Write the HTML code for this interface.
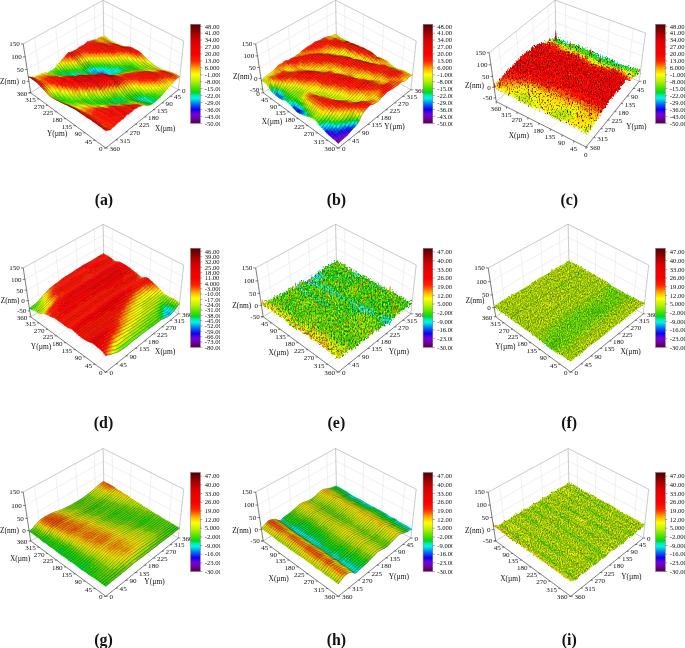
<!DOCTYPE html><html><head><meta charset="utf-8"><title>Surface topography</title><style>html,body{margin:0;padding:0;background:#fff}svg{display:block}text{font-family:"Liberation Serif","DejaVu Serif",serif;fill:#111}.s path{fill:currentColor;stroke:currentColor;stroke-width:2;stroke-linejoin:round}.m1,.m2,.m3,.m4{fill:none!important;stroke:#000!important;stroke-width:var(--w)!important}.m1{stroke-opacity:.22}.m2{stroke-opacity:.42}.m3{stroke-opacity:.62}.m4{stroke-opacity:.85}</style></head><body>
<svg width="685" height="648" viewBox="0 0 685 648">
<defs><linearGradient id="cb" x1="0" y1="1" x2="0" y2="0"><stop offset="0%" stop-color="#500050"/><stop offset="5%" stop-color="#7000a0"/><stop offset="9%" stop-color="#7800d8"/><stop offset="14%" stop-color="#1000f0"/><stop offset="21%" stop-color="#0090f0"/><stop offset="25%" stop-color="#00f0f0"/><stop offset="28%" stop-color="#00f0b0"/><stop offset="31%" stop-color="#00d820"/><stop offset="35%" stop-color="#40e000"/><stop offset="42%" stop-color="#b0f000"/><stop offset="49%" stop-color="#ffff00"/><stop offset="53%" stop-color="#ffd000"/><stop offset="56%" stop-color="#ffa000"/><stop offset="60%" stop-color="#ff5000"/><stop offset="63%" stop-color="#ff2000"/><stop offset="70%" stop-color="#f80000"/><stop offset="77%" stop-color="#f00000"/><stop offset="84%" stop-color="#d80000"/><stop offset="91%" stop-color="#a00000"/><stop offset="98%" stop-color="#600000"/><stop offset="100%" stop-color="#500000"/></linearGradient>
<clipPath id="k0"><rect x="-3" y="0" width="223" height="648"/></clipPath>
<clipPath id="k1"><rect x="229.5" y="0" width="223" height="648"/></clipPath>
<clipPath id="k2"><rect x="462" y="0" width="223" height="648"/></clipPath>
<filter id="nc" x="-5%" y="-15%" width="110%" height="125%" color-interpolation-filters="sRGB"><feTurbulence type="fractalNoise" baseFrequency=".9 .45" numOctaves="2" seed="3" result="n"/><feColorMatrix in="n" type="matrix" values="0.3 0 0 0 0.35 0 1 0 0 0 0 0 1 0 0 0 0 0 0 1" result="m"/><feDisplacementMap in="SourceGraphic" in2="m" scale="8" xChannelSelector="R" yChannelSelector="G" result="d"/><feColorMatrix in="n" type="matrix" values="0 0 0 0 1 0 0 0 0 0.6 0 0 0 0 0 0 0 0 3.5 -2.3"/><feComposite in2="d" operator="in" result="o0"/><feColorMatrix in="n" type="matrix" values="0 0 0 0 0.16 0 0 0 0 0.03 0 0 0 0 0 0 0 3.2 0 -1.65"/><feComposite in2="d" operator="in" result="o1"/><feMerge><feMergeNode in="d"/><feMergeNode in="o0"/><feMergeNode in="o1"/></feMerge></filter><filter id="ne" x="-5%" y="-15%" width="110%" height="125%" color-interpolation-filters="sRGB"><feTurbulence type="fractalNoise" baseFrequency=".7 .45" numOctaves="2" seed="5" result="n"/><feColorMatrix in="n" type="matrix" values="0.3 0 0 0 0.35 0 1 0 0 0 0 0 1 0 0 0 0 0 0 1" result="m"/><feDisplacementMap in="SourceGraphic" in2="m" scale="8" xChannelSelector="R" yChannelSelector="G" result="d"/><feColorMatrix in="n" type="matrix" values="0 0 0 0 1 0 0 0 0 0.95 0 0 0 0 0 0 0 0 2.5 -1.1"/><feComposite in2="d" operator="in" result="o0"/><feColorMatrix in="n" type="matrix" values="0 0 0 0 0 0 0 0 0 0.3 0 0 0 0 0.05 0 0 2.2 0 -0.9"/><feComposite in2="d" operator="in" result="o1"/><feColorMatrix in="n" type="matrix" values="0 0 0 0 0.95 0 0 0 0 0.25 0 0 0 0 0 9 0 0 0 -6.1"/><feComposite in2="d" operator="in" result="o2"/><feMerge><feMergeNode in="d"/><feMergeNode in="o0"/><feMergeNode in="o1"/><feMergeNode in="o2"/></feMerge></filter><filter id="nf" x="-5%" y="-15%" width="110%" height="125%" color-interpolation-filters="sRGB"><feTurbulence type="fractalNoise" baseFrequency=".9 .6" numOctaves="2" seed="8" result="n"/><feColorMatrix in="n" type="matrix" values="0.3 0 0 0 0.35 0 1 0 0 0 0 0 1 0 0 0 0 0 0 1" result="m"/><feDisplacementMap in="SourceGraphic" in2="m" scale="3" xChannelSelector="R" yChannelSelector="G" result="d"/><feColorMatrix in="n" type="matrix" values="0 0 0 0 1 0 0 0 0 1 0 0 0 0 0.1 0 0 0 1.4 -0.55"/><feComposite in2="d" operator="in" result="o0"/><feColorMatrix in="n" type="matrix" values="0 0 0 0 0.1 0 0 0 0 0.3 0 0 0 0 0 0 0 1.4 0 -0.42"/><feComposite in2="d" operator="in" result="o1"/><feMerge><feMergeNode in="d"/><feMergeNode in="o0"/><feMergeNode in="o1"/></feMerge></filter>
</defs><rect width="685" height="648" fill="#fff"/>
<g transform="translate(0 0)">
<path d="M40.9 86.5L34.4 37.8M168.1 83.9L172.5 35.4M116 139.9L40.9 86.5M95.3 140.4L168.1 83.9M60.3 74.3L55.6 26.2M148.5 72.6L151.2 24.6M135.3 124.4L60.3 74.3M75.4 125.7L148.5 72.6M78.6 62.8L75.5 15.4M130 61.9L131.1 14.4M153.4 109.8L78.6 62.8M56.7 111.9L130 61.9M95.8 52.1L94.2 5.2M112.5 51.7L112.2 4.9M170.3 96.3L95.8 52.1M39.1 99L112.5 51.7M29 81.4L103.9 35.9M103.9 35.9L179.6 78.3M27.1 69.4L103.6 24.5M103.6 24.5L180.9 66.4M25.2 56.9L103.4 12.6M103.4 12.6L182.3 54" stroke="#e0e0e0" stroke-width=".5" fill="none"/>
<path d="M23.2 43.9L103.1 .3M103.1 .3L183.7 41M104.1 46.9L103.1 .3M178.3 89.8L183.7 41M30.7 92.8L104.1 46.9M104.1 46.9L178.3 89.8" stroke="#959595" stroke-width=".5" fill="none"/>
<g class="s" transform="scale(.2)" style="--o:0.7;--w:2">
<path color=#fe0 d=M534,197l-7-5-8-4-7-5,7-4,8,5,7,5,8,6z />
<path color=#ef0 d=M580,222l-8-3-8-4-7-4-8-4-7-5-8-5,8-2,7,6,7,5,8,3,8,4,7,4,8,4z />
<path color=#fe0 d=M587,224l-7-2,7-1,7,2z />
<path color=#fd0 d=M611,234l-8-4-8-3-8-3,7-1,8,2,8,3,8,4z />
<path color=#fa0 d=M619,236l-8-2,7-2,8,2z />
<path color=#f80 d=M626,236l-7,0,7-2,8,0z />
<path color=#f50 d=M634,237l-8-1,8-2,8,0z />
<path color=#f10 d=M691,270l-8-7-8-6-8-6-8-5-8-5-8-3-9-1,8-3,8,1,8,2,8,4,8,5,8,4,8,4,9,6z />
<path color=#f20 d=M699,277l-8-7,8-10,8,7z />
<path color=#f50 d=M708,287l-9-10,8-10,8,9z />
<path color=#f80 d=M716,296l-8-9,7-11,8,8z />
<path color=#fa0 d=M724,304l-8-8,7-12,8,7z />
<path color=#fd0 d=M732,312l-8-8,7-13,9,8z />
<path color=#ef0 d=M749,325l-9-6-8-7,8-13,8,9,8,7z />
<path color=#ce0 d=M766,336l-9-6-8-5,7-10,9,7,8,6z />
<path color=#be0 d=M774,340l-8-4,7-8,9,6z />
<path color=#ce0 d=M801,350l-9-3-9-4-9-3,8-6,8,4,9,4,9,5z />
<path color=#ef0 d=M819,355l-9-2-9-3,7-3,9,4,9,2z />
<path color=#fe0 d=M828,357l-9-2,7-2,9,3z />
<path color=#fd0 d=M837,360l-9-3,7-1,9,2z />
<path color=#fa0 d=M846,364l-9-4,7-2,9,3z />
<path color=#f80 d=M892,389l-9-7-9-6-9-5-10-4-9-3,7-3,9,3,9,4,10,4,9,5,9,7z />
<path class=m2 d=M899,384l-9-7-9-5-10-4-9-4-9-3-9-3-9-2-9-3-9-2-9-4-9-5-9-4-8-4-9-6-8-6-9-7-8-7-8-9-9-8-8-7-8-8-8-9-8-7-9-6-8-4-8-4-8-5-8-4-8-2-8-1-8,0-8,0-8-2-8-4-8-3-8-2-7-2-8-4-7-4-8-4-8-3-7-5-7-6-8-6-7-5-8-5 />
<path color=#fd0 d=M527,197l-8-3-7-4-7-5,7-2,7,5,8,4,7,5z />
<path color=#fe0 d=M565,218l-8-3-8-4-7-5-8-4-7-5,7,0,8,5,7,5,8,4,7,4,8,4z />
<path color=#fd0 d=M572,220l-7-2,7,1,8,3z />
<path color=#fa0 d=M588,225l-8-3-8-2,8,2,7,2,8,3z />
<path color=#f80 d=M611,234l-8-2-7-3-8-4,7,2,8,3,8,4,8,2z />
<path color=#f50 d=M619,236l-8-2,8,2,7,0z />
<path color=#f10 d=M676,272l-8-8-8-6-9-7-8-5-8-5-8-3-8-2,7,0,8,1,9,1,8,3,8,5,8,5,8,6,8,6z />
<path color=#f20 d=M684,279l-8-7,7-9,8,7z />
<path color=#f50 d=M692,288l-8-9,7-9,8,7z />
<path color=#fa0 d=M700,297l-8-9,7-11,9,10z />
<path color=#fd0 d=M708,306l-8-9,8-10,8,9z />
<path color=#fe0 d=M716,313l-8-7,8-10,8,8z />
<path color=#ce0 d=M733,327l-8-6-9-8,8-9,8,8,8,7z />
<path color=#be0 d=M767,344l-8-3-9-4-8-5-9-5,7-8,9,6,8,5,9,6,8,4z />
<path color=#ce0 d=M776,346l-9-2,7-4,9,3z />
<path color=#ef0 d=M794,351l-9-3-9-2,7-3,9,4,9,3z />
<path color=#fe0 d=M803,354l-9-3,7-1,9,3z />
<path color=#fd0 d=M812,355l-9-1,7-1,9,2z />
<path color=#fa0 d=M821,357l-9-2,7,0,9,2z />
<path color=#f80 d=M839,364l-9-4-9-3,7,0,9,3,9,4z />
<path color=#f50 d=M876,386l-9-7-9-6-9-4-10-5,7,0,9,3,10,4,9,5,9,6z />
<path color=#f80 d=M885,393l-9-7,7-4,9,7z />
<path class=m3 d=M892,389l-9-7-9-6-9-5-10-4-9-3-9-4-9-3-9-2-9-2-9-3-9-3-9-4-9-3-8-4-9-6-8-5-9-6-8-7-8-8-8-8-8-9-9-10-8-7-8-7-8-6-8-6-8-5-8-5-8-3-9-1-8-1-7,0-8-2-8-4-8-3-8-3-7-2-8-3-8-4-7-4-8-4-7-5-8-5-7-5-8-4-7-5 />
<path color=#fd0 d=M512,196l-7-5-8-4,8-2,7,5,7,4z />
<path color=#fa0 d=M557,217l-7-3-8-3-7-4-8-4-7-4-8-3,7-2,8,3,7,5,8,4,7,5,8,4,8,3z />
<path color=#f80 d=M565,219l-8-2,8,1,7,2z />
<path color=#f50 d=M580,225l-7-3-8-3,7,1,8,2,8,3z />
<path color=#f20 d=M604,235l-8-4-8-3-8-3,8,0,8,4,7,3,8,2z />
<path color=#f10 d=M652,267l-8-8-8-7-8-7-8-4-8-3-8-3,7-1,8,2,8,2,8,3,8,5,8,5,9,7z />
<path color=#f20 d=M660,274l-8-7,8-9,8,6z />
<path color=#f50 d=M668,282l-8-8,8-10,8,8z />
<path color=#f80 d=M676,290l-8-8,8-10,8,7z />
<path color=#fa0 d=M685,299l-9-9,8-11,8,9z />
<path color=#fe0 d=M693,307l-8-8,7-11,8,9z />
<path color=#ef0 d=M701,315l-8-8,7-10,8,9z />
<path color=#ce0 d=M709,322l-8-7,7-9,8,7z />
<path color=#be0 d=M726,334l-9-6-8-6,7-9,9,8,8,6z />
<path color=#8e0 d=M734,338l-8-4,7-7,9,5z />
<path color=#be0 d=M760,348l-9-3-8-3-9-4,8-6,8,5,9,4,8,3z />
<path color=#ce0 d=M769,349l-9-1,7-4,9,2z />
<path color=#ef0 d=M778,350l-9-1,7-3,9,2z />
<path color=#fe0 d=M787,352l-9-2,7-2,9,3z />
<path color=#fd0 d=M796,354l-9-2,7-1,9,3z />
<path color=#f80 d=M805,355l-9-1,7,0,9,1z />
<path color=#f50 d=M814,357l-9-2,7,0,9,2z />
<path color=#f20 d=M860,384l-9-7-9-6-9-5-9-5-10-4,7,0,9,3,9,4,10,5,9,4,9,6z />
<path color=#f50 d=M878,399l-9-7-9-8,7-5,9,7,9,7z />
<path class=m4 d=M885,393l-9-7-9-7-9-6-9-4-10-5-9-4-9-3-9-2-9-1-9-3-9-3-9-2-9-2-8-3-9-4-8-5-9-5-8-6-9-8-8-7-8-9-8-9-8-9-8-7-8-8-8-6-9-7-8-5-8-5-8-3-8-2-8-2-8-2-7-3-8-4-8-3-8-2-7-2-8-3-8-4-7-5-8-4-7-5-8-3-7-4-7-5 />
<path color=#fa0 d=M520,206l-8-3-7-4-8-4-7-4,7-4,8,4,7,5,8,3,7,4z />
<path color=#f80 d=M542,216l-7-3-8-4-7-3,7-3,8,4,7,4,8,3z />
<path color=#f50 d=M558,221l-8-2-8-3,8-2,7,3,8,2z />
<path color=#f20 d=M565,224l-7-3,7-2,8,3z />
<path color=#f10 d=M629,261l-8-8-8-6-8-4-8-5-8-4-8-4-8-3-8-3,8-2,7,3,8,3,8,3,8,4,8,3,8,3,8,4,8,7z />
<path color=#f20 d=M637,269l-8-8,7-9,8,7z />
<path color=#f50 d=M645,278l-8-9,7-10,8,8z />
<path color=#f80 d=M653,287l-8-9,7-11,8,7z />
<path color=#fa0 d=M661,295l-8-8,7-13,8,8z />
<path color=#fd0 d=M669,304l-8-9,7-13,8,8z />
<path color=#ef0 d=M677,311l-8-7,7-14,9,9z />
<path color=#ce0 d=M685,318l-8-7,8-12,8,8z />
<path color=#be0 d=M702,330l-9-5-8-7,8-11,8,8,8,7z />
<path color=#8e0 d=M736,347l-9-3-8-4-9-5-8-5,7-8,8,6,9,6,8,4,9,4z />
<path color=#be0 d=M744,350l-8-3,7-5,8,3z />
<path color=#ce0 d=M753,352l-9-2,7-5,9,3z />
<path color=#ef0 d=M762,353l-9-1,7-4,9,1z />
<path color=#fe0 d=M771,354l-9-1,7-4,9,1z />
<path color=#fd0 d=M780,355l-9-1,7-4,9,2z />
<path color=#f80 d=M789,356l-9-1,7-3,9,2z />
<path color=#f50 d=M798,358l-9-2,7-2,9,1z />
<path color=#f20 d=M807,360l-9-2,7-3,9,2z />
<path color=#f10 d=M834,377l-9-7-9-5-9-5,7-3,10,4,9,5,9,5z />
<path color=#f20 d=M852,392l-9-8-9-7,8-6,9,6,9,7z />
<path color=#f50 d=M861,399l-9-7,8-8,9,8z />
<path color=#f80 d=M870,407l-9-8,8-7,9,7z />
<path class=m3 d=M878,399l-9-7-9-8-9-7-9-6-9-5-9-5-10-4-9-2-9-1-9-2-9-2-9-1-9-1-9-3-8-3-9-4-8-4-9-6-8-6-8-7-8-8-8-8-9-9-8-8-8-8-8-7-8-8-8-7-8-7-8-4-8-3-8-3-8-4-8-3-8-3-7-3-8-3-8-2-7-3-8-3-7-4-8-4-7-4-8-3-7-5-8-4 />
<path color=#fa0 d=M512,212l-7-3-8-4-7-5-7-3,7-6,7,4,8,4,7,4,8,3z />
<path color=#f80 d=M527,218l-7-3-8-3,8-6,7,3,8,4z />
<path color=#f50 d=M543,224l-8-4-8-2,8-5,7,3,8,3z />
<path color=#f20 d=M558,229l-8-2-7-3,7-5,8,2,7,3z />
<path color=#f10 d=M613,264l-8-7-8-6-8-6-8-5-7-4-8-4-8-3,7-5,8,3,8,3,8,4,8,4,8,5,8,4,8,6z />
<path color=#f20 d=M621,273l-8-9,8-11,8,8z />
<path color=#f80 d=M629,283l-8-10,8-12,8,8z />
<path color=#fa0 d=M637,293l-8-10,8-14,8,9z />
<path color=#fe0 d=M645,302l-8-9,8-15,8,9z />
<path color=#ef0 d=M653,310l-8-8,8-15,8,8z />
<path color=#be0 d=M661,318l-8-8,8-15,8,9z />
<path color=#8e0 d=M678,331l-9-6-8-7,8-14,8,7,8,7z />
<path color=#6e0 d=M720,351l-9-3-8-3-9-4-8-4-8-6,7-13,8,7,9,5,8,5,9,5,8,4z />
<path color=#8e0 d=M728,354l-8-3,7-7,9,3z />
<path color=#be0 d=M737,355l-9-1,8-7,8,3z />
<path color=#ce0 d=M746,357l-9-2,7-5,9,2z />
<path color=#ef0 d=M755,358l-9-1,7-5,9,1z />
<path color=#fd0 d=M764,359l-9-1,7-5,9,1z />
<path color=#fa0 d=M773,361l-9-2,7-5,9,1z />
<path color=#f80 d=M782,362l-9-1,7-6,9,1z />
<path color=#f50 d=M791,364l-9-2,7-6,9,2z />
<path color=#f20 d=M800,368l-9-4,7-6,9,2z />
<path color=#f10 d=M818,378l-9-5-9-5,7-8,9,5,9,5z />
<path color=#f20 d=M836,394l-9-9-9-7,7-8,9,7,9,7z />
<path color=#f50 d=M845,403l-9-9,7-10,9,8z />
<path color=#f80 d=M854,411l-9-8,7-11,9,7z />
<path color=#fa0 d=M863,418l-9-7,7-12,9,8z />
<path class=m2 d=M870,407l-9-8-9-7-9-8-9-7-9-7-9-5-9-5-9-2-9-2-9-1-9-1-9-1-9-1-9-2-8-3-9-3-8-4-9-5-8-5-9-5-8-7-8-7-8-7-8-9-8-8-8-9-8-9-8-8-8-8-8-6-8-4-8-5-8-4-8-4-8-3-8-3-7-3-8-2-8-3-7-3-8-4-7-3-8-3-7-4-8-4-7-4 />
<path color=#fa0 d=M497,211l-7-4-8-4-7-5,8-1,7,3,7,5,8,4z />
<path color=#f80 d=M512,217l-7-3-8-3,8-2,7,3,8,3z />
<path color=#f50 d=M527,222l-7-3-8-2,8-2,7,3,8,2z />
<path color=#f20 d=M551,232l-8-3-8-3-8-4,8-2,8,4,7,3,8,2z />
<path color=#f10 d=M590,257l-8-7-8-5-8-5-8-5-7-3,7-3,8,3,8,4,7,4,8,5,8,6z />
<path color=#f20 d=M598,264l-8-7,7-6,8,6z />
<path color=#f50 d=M606,272l-8-8,7-7,8,7z />
<path color=#f80 d=M614,283l-8-11,7-8,8,9z />
<path color=#fd0 d=M622,293l-8-10,7-10,8,10z />
<path color=#ef0 d=M630,303l-8-10,7-10,8,10z />
<path color=#be0 d=M638,312l-8-9,7-10,8,9z />
<path color=#8e0 d=M646,319l-8-7,7-10,8,8z />
<path color=#6e0 d=M654,326l-8-7,7-9,8,8z />
<path color=#4d0 d=M679,343l-9-5-8-5-8-7,7-8,8,7,9,6,8,6z />
<path color=#1d1 d=M687,348l-8-5,7-6,8,4z />
<path color=#4d0 d=M704,353l-9-2-8-3,7-7,9,4,8,3z />
<path color=#6e0 d=M712,354l-8-1,7-5,9,3z />
<path color=#8e0 d=M721,356l-9-2,8-3,8,3z />
<path color=#ce0 d=M730,356l-9,0,7-2,9,1z />
<path color=#ef0 d=M739,357l-9-1,7-1,9,2z />
<path color=#fe0 d=M748,358l-9-1,7,0,9,1z />
<path color=#fd0 d=M757,360l-9-2,7,0,9,1z />
<path color=#f80 d=M766,362l-9-2,7-1,9,2z />
<path color=#f50 d=M775,364l-9-2,7-1,9,1z />
<path color=#f20 d=M820,392l-9-8-9-6-9-5-9-5-9-4,7-2,9,2,9,4,9,5,9,5,9,7z />
<path color=#f50 d=M828,401l-8-9,7-7,9,9z />
<path color=#fa0 d=M837,411l-9-10,8-7,9,9z />
<path color=#fd0 d=M846,419l-9-8,8-8,9,8z />
<path color=#fe0 d=M855,427l-9-8,8-8,9,7z />
<path class=m2 d=M863,418l-9-7-9-8-9-9-9-9-9-7-9-5-9-5-9-4-9-2-9-1-9-2-9-1-9-1-9-2-9-1-8-3-9-3-8-3-9-4-8-4-8-6-9-6-8-7-8-8-8-8-8-9-8-10-8-10-8-9-8-7-8-6-8-6-8-5-7-4-8-4-8-3-8-2-7-3-8-4-8-2-7-3-8-3-7-3-8-4-7-5-7-3 />
<path color=#f80 d=M497,216l-7-3-8-4-7-5-8-4,8-2,7,5,8,4,7,4,8,3z />
<path color=#f50 d=M505,218l-8-2,8-2,7,3z />
<path color=#f20 d=M520,224l-8-3-7-3,7-1,8,2,7,3z />
<path color=#f10 d=M574,256l-8-6-7-6-8-5-8-4-8-4-7-4-8-3,7-2,8,4,8,3,8,3,7,3,8,5,8,5,8,5z />
<path color=#f20 d=M582,263l-8-7,8-6,8,7z />
<path color=#f50 d=M590,272l-8-9,8-6,8,7z />
<path color=#f80 d=M598,281l-8-9,8-8,8,8z />
<path color=#fd0 d=M606,291l-8-10,8-9,8,11z />
<path color=#ef0 d=M614,302l-8-11,8-8,8,10z />
<path color=#ce0 d=M622,311l-8-9,8-9,8,10z />
<path color=#8e0 d=M630,319l-8-8,8-8,8,9z />
<path color=#6e0 d=M638,327l-8-8,8-7,8,7z />
<path color=#4d0 d=M646,333l-8-6,8-8,8,7z />
<path color=#1d1 d=M680,351l-9-3-8-4-8-5-9-6,8-7,8,7,8,5,9,5,8,5z />
<path color=#4d0 d=M688,354l-8-3,7-3,8,3z />
<path color=#6e0 d=M697,355l-9-1,7-3,9,2z />
<path color=#8e0 d=M705,356l-8-1,7-2,8,1z />
<path color=#be0 d=M714,356l-9,0,7-2,9,2z />
<path color=#ef0 d=M723,356l-9,0,7,0,9,0z />
<path color=#fd0 d=M732,357l-9-1,7,0,9,1z />
<path color=#fa0 d=M741,358l-9-1,7,0,9,1z />
<path color=#f80 d=M750,360l-9-2,7,0,9,2z />
<path color=#f50 d=M759,363l-9-3,7,0,9,2z />
<path color=#f20 d=M776,371l-9-5-8-3,7-1,9,2,9,4z />
<path color=#f10 d=M794,383l-9-6-9-6,8-3,9,5,9,5z />
<path color=#f20 d=M812,398l-9-8-9-7,8-5,9,6,9,8z />
<path color=#f80 d=M821,407l-9-9,8-6,8,9z />
<path color=#fa0 d=M830,417l-9-10,7-6,9,10z />
<path color=#fd0 d=M839,427l-9-10,7-6,9,8z />
<path color=#ef0 d=M847,436l-8-9,7-8,9,8z />
<path class=m3 d=M855,427l-9-8-9-8-9-10-8-9-9-8-9-6-9-5-9-5-9-4-9-2-9-2-9-2-9-1-9-1-9,0-9-2-8-1-9-2-8-3-8-5-9-5-8-5-8-7-8-7-8-7-8-9-8-10-8-10-8-11-8-8-8-7-8-7-8-5-8-5-8-5-7-3-8-3-8-3-8-4-7-3-8-2-7-3-8-3-7-4-8-4-7-5 />
<path color=#f50 d=M482,214l-7-3-8-4-7-5,7-2,8,4,7,5,8,4z />
<path color=#f20 d=M497,220l-7-3-8-3,8-1,7,3,8,2z />
<path color=#f10 d=M567,263l-8-8-8-6-8-6-8-5-7-5-8-4-8-3-7-3-8-3,8-2,7,3,8,3,8,3,7,4,8,4,8,4,8,5,7,6,8,6z />
<path color=#f20 d=M575,271l-8-8,7-7,8,7z />
<path color=#f80 d=M583,280l-8-9,7-8,8,9z />
<path color=#fa0 d=M591,290l-8-10,7-8,8,9z />
<path color=#fe0 d=M599,300l-8-10,7-9,8,10z />
<path color=#ce0 d=M607,310l-8-10,7-9,8,11z />
<path color=#8e0 d=M615,319l-8-9,7-8,8,9z />
<path color=#6e0 d=M623,327l-8-8,7-8,8,8z />
<path color=#4d0 d=M631,334l-8-7,7-8,8,8z />
<path color=#1d1 d=M664,351l-8-2-9-4-8-6-8-5,7-7,8,6,9,6,8,5,8,4z />
<path color=#4d0 d=M672,354l-8-3,7-3,9,3z />
<path color=#6e0 d=M681,355l-9-1,8-3,8,3z />
<path color=#8e0 d=M689,356l-8-1,7-1,9,1z />
<path color=#be0 d=M698,357l-9-1,8-1,8,1z />
<path color=#ef0 d=M707,357l-9,0,7-1,9,0z />
<path color=#fd0 d=M716,357l-9,0,7-1,9,0z />
<path color=#fa0 d=M725,357l-9,0,7-1,9,1z />
<path color=#f50 d=M733,359l-8-2,7,0,9,1z />
<path color=#f20 d=M742,361l-9-2,8-1,9,2z />
<path color=#f10 d=M787,387l-9-7-9-6-9-5-9-5-9-3,8-1,9,3,8,3,9,5,9,6,9,6z />
<path color=#f20 d=M796,395l-9-8,7-4,9,7z />
<path color=#f50 d=M805,404l-9-9,7-5,9,8z />
<path color=#f80 d=M814,413l-9-9,7-6,9,9z />
<path color=#fa0 d=M822,423l-8-10,7-6,9,10z />
<path color=#fe0 d=M831,434l-9-11,8-6,9,10z />
<path color=#ef0 d=M840,443l-9-9,8-7,8,9z />
<path class=m3 d=M847,436l-8-9-9-10-9-10-9-9-9-8-9-7-9-6-9-6-9-5-8-3-9-3-9-2-9-1-9-1-9,0-9,0-8-1-9-1-8-3-9-3-8-4-8-5-9-6-8-6-8-8-8-8-8-9-8-11-8-10-8-9-8-9-8-7-8-6-7-6-8-5-8-4-8-4-7-4-8-3-8-3-7-3-8-2-7-3-8-4-7-5-8-4 />
<path color=#f20 d=M482,220l-7-3-8-3-7-4-8-5,8-3,7,5,8,4,7,3,8,3z />
<path color=#f10 d=M551,264l-7-8-8-6-8-6-8-6-8-4-7-4-8-4-7-3-8-3,8-3,7,3,8,3,7,3,8,3,8,4,7,5,8,5,8,6,8,6z />
<path color=#f20 d=M559,272l-8-8,8-9,8,8z />
<path color=#f50 d=M567,281l-8-9,8-9,8,8z />
<path color=#fa0 d=M575,291l-8-10,8-10,8,9z />
<path color=#fe0 d=M583,301l-8-10,8-11,8,10z />
<path color=#ce0 d=M591,311l-8-10,8-11,8,10z />
<path color=#be0 d=M599,320l-8-9,8-11,8,10z />
<path color=#6e0 d=M607,329l-8-9,8-10,8,9z />
<path color=#4d0 d=M615,335l-8-6,8-10,8,8z />
<path color=#1d1 d=M648,354l-8-3-8-5-9-5-8-6,8-8,8,7,8,5,8,6,9,4z />
<path color=#4d0 d=M656,355l-8-1,8-5,8,2z />
<path color=#6e0 d=M665,357l-9-2,8-4,8,3z />
<path color=#8e0 d=M673,358l-8-1,7-3,9,1z />
<path color=#be0 d=M682,358l-9,0,8-3,8,1z />
<path color=#ef0 d=M691,358l-9,0,7-2,9,1z />
<path color=#fd0 d=M700,358l-9,0,7-1,9,0z />
<path color=#fa0 d=M708,359l-8-1,7-1,9,0z />
<path color=#f50 d=M717,360l-9-1,8-2,9,0z />
<path color=#f20 d=M726,361l-9-1,8-3,8,2z />
<path color=#f10 d=M779,394l-8-8-9-7-9-6-9-5-9-4-9-3,7-2,9,2,9,3,9,5,9,5,9,6,9,7z />
<path color=#f20 d=M788,403l-9-9,8-7,9,8z />
<path color=#f50 d=M797,412l-9-9,8-8,9,9z />
<path color=#f80 d=M806,421l-9-9,8-8,9,9z />
<path color=#fd0 d=M815,432l-9-11,8-8,8,10z />
<path color=#fe0 d=M823,442l-8-10,7-9,9,11z />
<path color=#ce0 d=M832,451l-9-9,8-8,9,9z />
<path class=m3 d=M840,443l-9-9-9-11-8-10-9-9-9-9-9-8-9-7-9-6-9-5-9-5-9-3-9-2-8-2-9,0-9,0-9,0-9-1-8-1-9-1-8-3-8-2-9-4-8-6-8-5-8-7-8-8-8-9-8-10-8-10-8-10-8-9-8-8-8-8-8-6-8-6-8-5-7-5-8-4-8-3-7-3-8-3-7-3-8-3-7-3-8-4-7-5 />
<path color=#f20 d=M467,221l-7-3-8-5-7-6,7-2,8,5,7,4,8,3z />
<path color=#f10 d=M536,264l-8-8-8-7-7-6-8-4-8-4-7-4-8-4-8-3-7-3,8-4,7,3,8,3,7,3,8,4,7,4,8,4,8,6,8,6,8,6z />
<path color=#f20 d=M544,273l-8-9,8-8,7,8z />
<path color=#f80 d=M552,281l-8-8,7-9,8,8z />
<path color=#fa0 d=M560,291l-8-10,7-9,8,9z />
<path color=#fe0 d=M568,301l-8-10,7-10,8,10z />
<path color=#ce0 d=M576,311l-8-10,7-10,8,10z />
<path color=#be0 d=M584,321l-8-10,7-10,8,10z />
<path color=#6e0 d=M592,329l-8-8,7-10,8,9z />
<path color=#4d0 d=M600,337l-8-8,7-9,8,9z />
<path color=#1d1 d=M608,343l-8-6,7-8,8,6z />
<path color=#0d5 d=M624,352l-8-5-8-4,7-8,8,6,9,5z />
<path color=#1d1 d=M641,358l-9-3-8-3,8-6,8,5,8,3z />
<path color=#4d0 d=M649,358l-8,0,7-4,8,1z />
<path color=#6e0 d=M658,359l-9-1,7-3,9,2z />
<path color=#be0 d=M666,359l-8,0,7-2,8,1z />
<path color=#ef0 d=M675,359l-9,0,7-1,9,0z />
<path color=#fe0 d=M683,359l-8,0,7-1,9,0z />
<path color=#fa0 d=M692,360l-9-1,8-1,9,0z />
<path color=#f80 d=M701,361l-9-1,8-2,8,1z />
<path color=#f20 d=M710,363l-9-2,7-2,9,1z />
<path color=#f10 d=M772,402l-9-9-9-7-9-7-9-6-8-5-9-3-9-2,7-3,9,1,9,3,9,4,9,5,9,6,9,7,8,8z />
<path color=#f20 d=M781,411l-9-9,7-8,9,9z />
<path color=#f80 d=M789,420l-8-9,7-8,9,9z />
<path color=#fa0 d=M798,431l-9-11,8-8,9,9z />
<path color=#fe0 d=M807,441l-9-10,8-10,9,11z />
<path color=#ce0 d=M816,451l-9-10,8-9,8,10z />
<path color=#be0 d=M825,460l-9-9,7-9,9,9z />
<path class=m2 d=M832,451l-9-9-8-10-9-11-9-9-9-9-9-9-8-8-9-7-9-6-9-5-9-4-9-3-9-1-9-1-8-1-9,0-9,0-9,0-8-1-9-2-8-1-8-3-8-5-9-5-8-6-8-6-8-9-8-9-8-10-8-10-8-10-8-9-8-8-7-8-8-6-8-6-8-6-8-4-7-4-8-4-7-3-8-3-7-3-8-3-7-4-8-5 />
<path color=#f10 d=M521,263l-8-8-8-7-8-5-7-4-8-4-8-4-7-4-8-3-7-3-8-6-7-6,8-2,7,6,8,5,7,3,7,3,8,3,8,4,7,4,8,4,8,4,7,6,8,7z />
<path color=#f20 d=M528,272l-7-9,7-7,8,8z />
<path color=#f80 d=M536,281l-8-9,8-8,8,9z />
<path color=#fa0 d=M544,291l-8-10,8-8,8,8z />
<path color=#fe0 d=M552,300l-8-9,8-10,8,10z />
<path color=#ef0 d=M560,310l-8-10,8-9,8,10z />
<path color=#be0 d=M568,320l-8-10,8-9,8,10z />
<path color=#6e0 d=M576,329l-8-9,8-9,8,10z />
<path color=#4d0 d=M584,337l-8-8,8-8,8,8z />
<path color=#1d1 d=M592,344l-8-7,8-8,8,8z />
<path color=#0d5 d=M617,356l-9-3-8-4-8-5,8-7,8,6,8,4,8,5z />
<path color=#1d1 d=M625,359l-8-3,7-4,8,3z />
<path color=#4d0 d=M633,360l-8-1,7-4,9,3z />
<path color=#6e0 d=M642,361l-9-1,8-2,8,0z />
<path color=#8e0 d=M650,361l-8,0,7-3,9,1z />
<path color=#ce0 d=M659,361l-9,0,8-2,8,0z />
<path color=#fe0 d=M667,360l-8,1,7-2,9,0z />
<path color=#fa0 d=M676,360l-9,0,8-1,8,0z />
<path color=#f80 d=M685,361l-9-1,7-1,9,1z />
<path color=#f20 d=M694,363l-9-2,7-1,9,1z />
<path color=#f10 d=M755,401l-8-9-9-7-9-7-9-5-9-5-9-3-8-2,7-2,9,2,9,2,9,3,8,5,9,6,9,7,9,7z />
<path color=#f20 d=M764,410l-9-9,8-8,9,9z />
<path color=#f50 d=M773,420l-9-10,8-8,9,9z />
<path color=#fa0 d=M782,430l-9-10,8-9,8,9z />
<path color=#fd0 d=M790,440l-8-10,7-10,9,11z />
<path color=#ef0 d=M799,450l-9-10,8-9,9,10z />
<path color=#be0 d=M808,459l-9-9,8-9,9,10z />
<path color=#8e0 d=M817,467l-9-8,8-8,9,9z />
<path class=m3 d=M825,460l-9-9-9-10-9-10-9-11-8-9-9-9-9-9-9-7-9-7-9-6-8-5-9-3-9-2-9-2-9-1-9-1-8,0-9,0-8,0-9-1-8,0-9-3-8-3-8-5-8-4-8-6-8-8-8-8-8-10-8-10-8-10-8-10-8-8-8-9-8-8-8-7-7-6-8-4-8-4-7-4-8-4-8-3-7-3-7-3-8-5-7-6 />
<path color=#f10 d=M505,264l-8-8-7-6-8-4-8-5-7-4-8-4-7-3-8-4-7-6-8-5,8-6,7,6,8,6,7,3,8,3,7,4,8,4,8,4,7,4,8,5,8,7z />
<path color=#f20 d=M513,273l-8-9,8-9,8,8z />
<path color=#f80 d=M521,283l-8-10,8-10,7,9z />
<path color=#fa0 d=M529,292l-8-9,7-11,8,9z />
<path color=#fe0 d=M537,303l-8-11,7-11,8,10z />
<path color=#ce0 d=M545,313l-8-10,7-12,8,9z />
<path color=#be0 d=M553,322l-8-9,7-13,8,10z />
<path color=#6e0 d=M561,330l-8-8,7-12,8,10z />
<path color=#4d0 d=M569,338l-8-8,7-10,8,9z />
<path color=#0d5 d=M577,346l-8-8,7-9,8,8z />
<path color=#0eb d=M601,360l-8-3-8-5-8-6,7-9,8,7,8,5,8,4z />
<path color=#0d5 d=M609,362l-8-2,7-7,9,3z />
<path color=#1d1 d=M617,364l-8-2,8-6,8,3z />
<path color=#4d0 d=M626,364l-9,0,8-5,8,1z />
<path color=#8e0 d=M634,364l-8,0,7-4,9,1z />
<path color=#be0 d=M643,364l-9,0,8-3,8,0z />
<path color=#ef0 d=M651,363l-8,1,7-3,9,0z />
<path color=#fd0 d=M660,363l-9,0,8-2,8-1z />
<path color=#f80 d=M668,364l-8-1,7-3,9,0z />
<path color=#f50 d=M677,366l-9-2,8-4,9,1z />
<path color=#f20 d=M686,368l-9-2,8-5,9,2z />
<path color=#f10 d=M739,401l-9-8-9-6-9-7-8-5-9-4-9-3,8-5,8,2,9,3,9,5,9,5,9,7,9,7z />
<path color=#f20 d=M748,410l-9-9,8-9,8,9z />
<path color=#f50 d=M756,421l-8-11,7-9,9,9z />
<path color=#fa0 d=M765,431l-9-10,8-11,9,10z />
<path color=#fd0 d=M774,441l-9-10,8-11,9,10z />
<path color=#ef0 d=M783,451l-9-10,8-11,8,10z />
<path color=#ce0 d=M791,460l-8-9,7-11,9,10z />
<path color=#8e0 d=M800,469l-9-9,8-10,9,9z />
<path color=#6e0 d=M809,477l-9-8,8-10,9,8z />
<path class=m2 d=M817,467l-9-8-9-9-9-10-8-10-9-10-9-10-9-9-8-9-9-7-9-7-9-5-9-5-9-3-8-2-9-2-9-1-9,0-8,1-9,0-8,0-9-1-8-1-8-3-9-3-8-4-8-5-8-7-8-8-8-9-8-10-8-10-8-9-8-10-8-9-7-9-8-8-8-7-8-5-7-4-8-4-8-4-7-4-8-3-7-3-8-6-7-6 />
<path color=#f10 d=M490,265l-8-7-8-5-7-5-8-5-8-4-7-4-8-4-7-5-7-4,7-7,8,5,7,6,8,4,7,3,8,4,7,4,8,5,8,4,7,6z />
<path color=#f20 d=M498,274l-8-9,7-9,8,8z />
<path color=#f80 d=M505,284l-7-10,7-10,8,9z />
<path color=#fa0 d=M513,293l-8-9,8-11,8,10z />
<path color=#fe0 d=M521,303l-8-10,8-10,8,9z />
<path color=#ce0 d=M529,314l-8-11,8-11,8,11z />
<path color=#8e0 d=M537,324l-8-10,8-11,8,10z />
<path color=#4d0 d=M545,333l-8-9,8-11,8,9z />
<path color=#1d1 d=M553,340l-8-7,8-11,8,8z />
<path color=#0d5 d=M561,347l-8-7,8-10,8,8z />
<path color=#0eb d=M577,359l-8-6-8-6,8-9,8,8,8,6z />
<path color=#0ee d=M585,364l-8-5,8-7,8,5z />
<path color=#0eb d=M593,367l-8-3,8-7,8,3z />
<path color=#0d5 d=M602,368l-9-1,8-7,8,2z />
<path color=#1d1 d=M610,368l-8,0,7-6,8,2z />
<path color=#6e0 d=M618,368l-8,0,7-4,9,0z />
<path color=#8e0 d=M627,367l-9,1,8-4,8,0z />
<path color=#ce0 d=M635,366l-8,1,7-3,9,0z />
<path color=#fe0 d=M644,366l-9,0,8-2,8-1z />
<path color=#fa0 d=M652,366l-8,0,7-3,9,0z />
<path color=#f50 d=M661,367l-9-1,8-3,8,1z />
<path color=#f20 d=M678,374l-8-4-9-3,7-3,9,2,9,2z />
<path color=#f10 d=M722,402l-9-7-8-7-9-6-9-5-9-3,8-6,9,3,9,4,8,5,9,7,9,6z />
<path color=#f20 d=M731,411l-9-9,8-9,9,8z />
<path color=#f50 d=M740,421l-9-10,8-10,9,9z />
<path color=#fa0 d=M748,431l-8-10,8-11,8,11z />
<path color=#fd0 d=M757,442l-9-11,8-10,9,10z />
<path color=#ef0 d=M766,453l-9-11,8-11,9,10z />
<path color=#be0 d=M775,462l-9-9,8-12,9,10z />
<path color=#8e0 d=M784,471l-9-9,8-11,8,9z />
<path color=#6e0 d=M793,479l-9-8,7-11,9,9z />
<path color=#4d0 d=M802,486l-9-7,7-10,9,8z />
<path class=m2 d=M809,477l-9-8-9-9-8-9-9-10-9-10-9-10-8-11-9-9-9-8-9-6-9-7-8-5-9-4-9-3-9-2-9-2-8-1-9,0-8,1-9,0-8,0-9,0-8-2-8-2-8-3-8-5-8-6-8-8-8-8-8-8-8-9-8-10-8-11-8-9-8-10-8-9-8-8-7-6-8-4-8-5-7-4-8-4-7-3-8-4-7-6-8-5 />
<path color=#f10 d=M466,258l-7-5-8-6-7-4-8-4-7-4-8-5-7-3,8-5,7,4,7,5,8,4,7,4,8,4,8,5,7,5z />
<path color=#f20 d=M482,274l-8-9-8-7,8-5,8,5,8,7z />
<path color=#f80 d=M490,283l-8-9,8-9,8,9z />
<path color=#fa0 d=M498,293l-8-10,8-9,7,10z />
<path color=#fe0 d=M506,303l-8-10,7-9,8,9z />
<path color=#ce0 d=M514,313l-8-10,7-10,8,10z />
<path color=#8e0 d=M522,323l-8-10,7-10,8,11z />
<path color=#4d0 d=M530,333l-8-10,7-9,8,10z />
<path color=#1d1 d=M538,341l-8-8,7-9,8,9z />
<path color=#0d5 d=M546,347l-8-6,7-8,8,7z />
<path color=#0eb d=M561,358l-8-5-7-6,7-7,8,7,8,6z />
<path color=#0ee d=M578,367l-8-4-9-5,8-5,8,6,8,5z />
<path color=#0eb d=M586,370l-8-3,7-3,8,3z />
<path color=#0d5 d=M594,370l-8,0,7-3,9,1z />
<path color=#4d0 d=M602,370l-8,0,8-2,8,0z />
<path color=#6e0 d=M610,370l-8,0,8-2,8,0z />
<path color=#be0 d=M619,369l-9,1,8-2,9-1z />
<path color=#ef0 d=M627,367l-8,2,8-2,8-1z />
<path color=#fd0 d=M636,367l-9,0,8-1,9,0z />
<path color=#f80 d=M645,368l-9-1,8-1,8,0z />
<path color=#f50 d=M653,370l-8-2,7-2,9,1z />
<path color=#f20 d=M662,374l-9-4,8-3,9,3z />
<path color=#f10 d=M706,403l-9-8-9-6-9-6-8-5-9-4,8-4,8,4,9,3,9,5,9,6,8,7z />
<path color=#f20 d=M714,411l-8-8,7-8,9,7z />
<path color=#f50 d=M723,421l-9-10,8-9,9,9z />
<path color=#fa0 d=M732,430l-9-9,8-10,9,10z />
<path color=#fd0 d=M741,440l-9-10,8-9,8,10z />
<path color=#ef0 d=M749,452l-8-12,7-9,9,11z />
<path color=#be0 d=M758,463l-9-11,8-10,9,11z />
<path color=#8e0 d=M767,472l-9-9,8-10,9,9z />
<path color=#4d0 d=M785,487l-9-7-9-8,8-10,9,9,9,8z />
<path color=#1d1 d=M794,493l-9-6,8-8,9,7z />
<path class=m2 d=M802,486l-9-7-9-8-9-9-9-9-9-11-9-11-8-10-9-10-9-9-9-7-8-7-9-6-9-5-9-3-8-4-9-3-9-1-8,0-9,0-8,1-9,1-8,0-8,0-9-1-8-3-8-5-8-6-8-6-8-7-8-7-8-9-8-10-8-11-8-10-8-9-7-10-8-9-8-7-8-5-7-5-8-5-8-4-7-4-8-4-7-5-7-4 />
<path color=#f10 d=M451,259l-8-6-7-5-8-4-7-5-8-4-7-5,8-3,7,3,8,5,7,4,8,4,7,4,8,6z />
<path color=#f20 d=M467,274l-8-8-8-7,8-6,7,5,8,7z />
<path color=#f80 d=M474,284l-7-10,7-9,8,9z />
<path color=#fa0 d=M482,294l-8-10,8-10,8,9z />
<path color=#fe0 d=M490,304l-8-10,8-11,8,10z />
<path color=#ce0 d=M498,314l-8-10,8-11,8,10z />
<path color=#8e0 d=M506,324l-8-10,8-11,8,10z />
<path color=#4d0 d=M514,333l-8-9,8-11,8,10z />
<path color=#1d1 d=M522,342l-8-9,8-10,8,10z />
<path color=#0eb d=M538,355l-8-6-8-7,8-9,8,8,8,6z />
<path color=#0ee d=M546,359l-8-4,8-8,7,6z />
<path color=#0eb d=M578,373l-8-2-8-3-8-4-8-5,7-6,8,5,9,5,8,4,8,3z />
<path color=#1d1 d=M586,373l-8,0,8-3,8,0z />
<path color=#6e0 d=M594,373l-8,0,8-3,8,0z />
<path color=#8e0 d=M603,372l-9,1,8-3,8,0z />
<path color=#ce0 d=M611,371l-8,1,7-2,9-1z />
<path color=#fd0 d=M620,369l-9,2,8-2,8-2z />
<path color=#f80 d=M628,370l-8-1,7-2,9,0z />
<path color=#f50 d=M637,371l-9-1,8-3,9,1z />
<path color=#f20 d=M645,374l-8-3,8-3,8,2z />
<path color=#f10 d=M680,396l-8-6-9-6-9-5-9-5,8-4,9,4,9,4,8,5,9,6z />
<path color=#f20 d=M698,413l-9-9-9-8,8-7,9,6,9,8z />
<path color=#f50 d=M706,422l-8-9,8-10,8,8z />
<path color=#fa0 d=M715,432l-9-10,8-11,9,10z />
<path color=#fd0 d=M724,442l-9-10,8-11,9,9z />
<path color=#ef0 d=M733,452l-9-10,8-12,9,10z />
<path color=#ce0 d=M741,463l-8-11,8-12,8,12z />
<path color=#8e0 d=M750,473l-9-10,8-11,9,11z />
<path color=#4d0 d=M759,482l-9-9,8-10,9,9z />
<path color=#1d1 d=M786,500l-9-5-9-7-9-6,8-10,9,8,9,7,9,6z />
<path class=m2 d=M794,493l-9-6-9-7-9-8-9-9-9-11-8-12-9-10-9-9-9-10-8-8-9-8-9-6-9-6-8-5-9-4-9-4-8-2-9-1-9,0-8,2-9,1-8,0-8,0-8,0-8-3-8-4-9-5-8-5-7-6-8-6-8-8-8-10-8-10-8-10-8-10-8-10-8-9-8-9-8-7-7-5-8-6-7-4-8-4-7-4-8-5-7-3 />
<path color=#f10 d=M436,260l-8-5-7-5-8-5-7-5-8-5,8-5,7,5,8,4,7,5,8,4,7,5z />
<path color=#f20 d=M451,274l-8-7-7-7,7-7,8,6,8,7z />
<path color=#f80 d=M459,283l-8-9,8-8,8,8z />
<path color=#fa0 d=M467,293l-8-10,8-9,7,10z />
<path color=#fe0 d=M475,304l-8-11,7-9,8,10z />
<path color=#ce0 d=M483,314l-8-10,7-10,8,10z />
<path color=#8e0 d=M491,324l-8-10,7-10,8,10z />
<path color=#4d0 d=M499,334l-8-10,7-10,8,10z />
<path color=#1d1 d=M507,343l-8-9,7-10,8,9z />
<path color=#0eb d=M514,351l-7-8,7-10,8,9z />
<path color=#0ee d=M554,373l-8-3-8-3-8-5-8-5-8-6,8-9,8,7,8,6,8,4,8,5,8,4z />
<path color=#0eb d=M562,375l-8-2,8-5,8,3z />
<path color=#0d5 d=M570,376l-8-1,8-4,8,2z />
<path color=#4d0 d=M579,376l-9,0,8-3,8,0z />
<path color=#6e0 d=M587,375l-8,1,7-3,8,0z />
<path color=#ce0 d=M595,373l-8,2,7-2,9-1z />
<path color=#fe0 d=M603,372l-8,1,8-1,8-1z />
<path color=#fa0 d=M612,372l-9,0,8-1,9-2z />
<path color=#f80 d=M621,373l-9-1,8-3,8,1z />
<path color=#f20 d=M629,376l-8-3,7-3,9,1z />
<path color=#f10 d=M664,398l-9-7-9-6-8-5-9-4,8-5,8,3,9,5,9,5,9,6z />
<path color=#f20 d=M672,405l-8-7,8-8,8,6z />
<path color=#f50 d=M681,414l-9-9,8-9,9,8z />
<path color=#f80 d=M690,424l-9-10,8-10,9,9z />
<path color=#fa0 d=M698,434l-8-10,8-11,8,9z />
<path color=#fe0 d=M707,444l-9-10,8-12,9,10z />
<path color=#ef0 d=M716,455l-9-11,8-12,9,10z />
<path color=#be0 d=M725,464l-9-9,8-13,9,10z />
<path color=#8e0 d=M733,474l-8-10,8-12,8,11z />
<path color=#4d0 d=M742,482l-9-8,8-11,9,10z />
<path color=#1d1 d=M751,490l-9-8,8-9,9,9z />
<path color=#0d5 d=M779,507l-9-6-10-5-9-6,8-8,9,6,9,7,9,5z />
<path class=m2 d=M786,500l-9-5-9-7-9-6-9-9-9-10-8-11-9-10-9-10-9-10-8-9-9-9-9-8-8-6-9-6-9-5-9-5-8-3-9-1-8-1-9,2-8,1-9,1-8,0-8,0-8-2-8-3-8-4-8-5-8-4-8-6-8-7-8-9-8-9-8-10-8-10-8-10-8-10-7-10-8-8-8-7-8-6-7-5-8-4-7-5-8-4-7-5 />
<path color=#f10 d=M413,255l-8-5-7-5-8-5,8-5,8,5,7,5,8,5z />
<path color=#f20 d=M428,268l-8-7-7-6,8-5,7,5,8,5z />
<path color=#f50 d=M436,275l-8-7,8-8,7,7z />
<path color=#f80 d=M443,283l-7-8,7-8,8,7z />
<path color=#fa0 d=M451,292l-8-9,8-9,8,9z />
<path color=#fe0 d=M459,303l-8-11,8-9,8,10z />
<path color=#ce0 d=M467,314l-8-11,8-10,8,11z />
<path color=#8e0 d=M475,324l-8-10,8-10,8,10z />
<path color=#4d0 d=M483,333l-8-9,8-10,8,10z />
<path color=#1d1 d=M491,343l-8-10,8-9,8,10z />
<path color=#0eb d=M499,352l-8-9,8-9,8,9z />
<path color=#0ee d=M507,359l-8-7,8-9,7,8z />
<path color=#0be d=M530,373l-7-4-8-5-8-5,7-8,8,6,8,5,8,5z />
<path color=#0ee d=M546,377l-8-2-8-2,8-6,8,3,8,3z />
<path color=#0eb d=M554,378l-8-1,8-4,8,2z />
<path color=#1d1 d=M563,378l-9,0,8-3,8,1z />
<path color=#6e0 d=M571,377l-8,1,7-2,9,0z />
<path color=#be0 d=M579,375l-8,2,8-1,8-1z />
<path color=#ef0 d=M587,374l-8,1,8,0,8-2z />
<path color=#fd0 d=M596,374l-9,0,8-1,8-1z />
<path color=#f80 d=M604,375l-8-1,7-2,9,0z />
<path color=#f50 d=M613,378l-9-3,8-3,9,1z />
<path color=#f20 d=M621,381l-8-3,8-5,8,3z />
<path color=#f10 d=M647,398l-9-7-8-6-9-4,8-5,9,4,8,5,9,6z />
<path color=#f20 d=M656,406l-9-8,8-7,9,7z />
<path color=#f50 d=M664,415l-8-9,8-8,8,7z />
<path color=#f80 d=M673,425l-9-10,8-10,9,9z />
<path color=#fd0 d=M682,435l-9-10,8-11,9,10z />
<path color=#fe0 d=M690,446l-8-11,8-11,8,10z />
<path color=#ce0 d=M699,456l-9-10,8-12,9,10z />
<path color=#8e0 d=M708,466l-9-10,8-12,9,11z />
<path color=#6e0 d=M717,475l-9-9,8-11,9,9z />
<path color=#4d0 d=M726,484l-9-9,8-11,8,10z />
<path color=#1d1 d=M734,491l-8-7,7-10,9,8z />
<path color=#0d5 d=M771,512l-9-4-9-5-9-6-10-6,8-9,9,8,9,6,10,5,9,6z />
<path class=m2 d=M779,507l-9-6-10-5-9-6-9-8-9-8-8-10-9-9-9-11-9-10-8-10-9-10-9-9-8-7-9-7-9-6-8-5-9-4-8-3-9-1-9,0-8,1-8,2-8,1-9,0-8-1-8-2-8-3-8-3-8-5-8-5-8-6-7-8-8-9-8-10-8-10-8-10-8-11-8-10-8-9-8-7-7-7-8-5-7-5-8-5-7-5-8-5 />
<path color=#f20 d=M413,269l-8-7-8-5-7-5-8-5,8-7,8,5,7,5,8,5,7,6z />
<path color=#f50 d=M420,276l-7-7,7-8,8,7z />
<path color=#f80 d=M428,285l-8-9,8-8,8,7z />
<path color=#fa0 d=M436,293l-8-8,8-10,7,8z />
<path color=#fe0 d=M444,304l-8-11,7-10,8,9z />
<path color=#ce0 d=M452,315l-8-11,7-12,8,11z />
<path color=#8e0 d=M460,326l-8-11,7-12,8,11z />
<path color=#4d0 d=M468,336l-8-10,7-12,8,10z />
<path color=#0d5 d=M475,345l-7-9,7-12,8,9z />
<path color=#0eb d=M483,354l-8-9,8-12,8,10z />
<path color=#0ee d=M491,361l-8-7,8-11,8,9z />
<path color=#0be d=M499,367l-8-6,8-9,8,7z />
<path color=#07e d=M515,376l-8-4-8-5,8-8,8,5,8,5z />
<path color=#0be d=M531,381l-8-2-8-3,8-7,7,4,8,2z />
<path color=#0eb d=M539,382l-8-1,7-6,8,2z />
<path color=#0d5 d=M547,382l-8,0,7-5,8,1z />
<path color=#4d0 d=M555,381l-8,1,7-4,9,0z />
<path color=#8e0 d=M563,379l-8,2,8-3,8-1z />
<path color=#ce0 d=M571,378l-8,1,8-2,8-2z />
<path color=#fe0 d=M579,377l-8,1,8-3,8-1z />
<path color=#fa0 d=M588,378l-9-1,8-3,9,0z />
<path color=#f80 d=M596,381l-8-3,8-4,8,1z />
<path color=#f50 d=M605,384l-9-3,8-6,9,3z />
<path color=#f20 d=M639,407l-8-7-9-7-9-5-8-4,8-6,8,3,9,4,8,6,9,7z />
<path color=#f50 d=M648,416l-9-9,8-9,9,8z />
<path color=#f80 d=M656,426l-8-10,8-10,8,9z />
<path color=#fd0 d=M665,437l-9-11,8-11,9,10z />
<path color=#ef0 d=M674,448l-9-11,8-12,9,10z />
<path color=#ce0 d=M682,459l-8-11,8-13,8,11z />
<path color=#8e0 d=M691,470l-9-11,8-13,9,10z />
<path color=#4d0 d=M700,479l-9-9,8-14,9,10z />
<path color=#1d1 d=M709,487l-9-8,8-13,9,9z />
<path color=#0d5 d=M718,495l-9-8,8-12,9,9z />
<path color=#0eb d=M754,516l-9-5-9-5-9-5-9-6,8-11,8,7,10,6,9,6,9,5z />
<path color=#0d5 d=M763,519l-9-3,8-8,9,4z />
<path class=m2 d=M771,512l-9-4-9-5-9-6-10-6-8-7-9-9-9-9-9-10-9-10-8-11-9-10-9-10-8-9-9-8-9-7-8-6-9-4-8-3-9-3-8-1-9,0-8,1-8,2-8,1-9,0-8-1-8-2-8-2-7-4-8-5-8-5-8-7-8-9-8-10-8-9-8-10-8-11-8-11-8-9-7-8-8-7-8-7-7-6-8-5-7-5-8-5 />
<path color=#f20 d=M397,266l-8-5-7-5-8-5,8-4,8,5,7,5,8,5z />
<path color=#f50 d=M405,273l-8-7,8-4,8,7z />
<path color=#f80 d=M412,281l-7-8,8-4,7,7z />
<path color=#fa0 d=M420,291l-8-10,8-5,8,9z />
<path color=#fd0 d=M428,301l-8-10,8-6,8,8z />
<path color=#ef0 d=M436,312l-8-11,8-8,8,11z />
<path color=#8c0 d=M444,324l-8-12,8-8,8,11z />
<path color=#4d0 d=M452,334l-8-10,8-9,8,11z />
<path color=#0d5 d=M460,344l-8-10,8-8,8,10z />
<path color=#0eb d=M468,352l-8-8,8-8,7,9z />
<path color=#0be d=M483,366l-7-6-8-8,7-7,8,9,8,7z />
<path color=#07e d=M507,379l-8-3-8-5-8-5,8-5,8,6,8,5,8,4z />
<path color=#0be d=M515,381l-8-2,8-3,8,3z />
<path color=#0ee d=M523,382l-8-1,8-2,8,2z />
<path color=#0eb d=M531,382l-8,0,8-1,8,1z />
<path color=#1d1 d=M539,381l-8,1,8,0,8,0z />
<path color=#6e0 d=M547,380l-8,1,8,1,8-1z />
<path color=#be0 d=M555,379l-8,1,8,1,8-2z />
<path color=#fe0 d=M563,378l-8,1,8,0,8-1z />
<path color=#fa0 d=M572,378l-9,0,8,0,8-1z />
<path color=#f80 d=M580,380l-8-2,7-1,9,1z />
<path color=#f50 d=M588,382l-8-2,8-2,8,3z />
<path color=#f20 d=M623,405l-9-8-9-6-8-5-9-4,8-1,9,3,8,4,9,5,9,7z />
<path color=#f50 d=M631,413l-8-8,8-5,8,7z />
<path color=#f80 d=M640,423l-9-10,8-6,9,9z />
<path color=#fd0 d=M649,435l-9-12,8-7,8,10z />
<path color=#fe0 d=M657,446l-8-11,7-9,9,11z />
<path color=#ce0 d=M666,458l-9-12,8-9,9,11z />
<path color=#8e0 d=M674,469l-8-11,8-10,8,11z />
<path color=#4d0 d=M683,478l-9-9,8-10,9,11z />
<path color=#1d1 d=M692,486l-9-8,8-8,9,9z />
<path color=#0d5 d=M701,494l-9-8,8-7,9,8z />
<path color=#0eb d=M737,515l-9-4-9-5-9-5-9-7,8-7,9,8,9,6,9,5,9,5z />
<path color=#0d5 d=M756,523l-10-4-9-4,8-4,9,5,9,3z />
<path class=m3 d=M763,519l-9-3-9-5-9-5-9-5-9-6-9-8-9-8-9-9-9-11-8-11-9-11-9-11-8-10-9-9-8-7-9-7-9-5-8-4-9-3-8-3-9-1-8,1-8,1-8,2-8,1-8,0-8-1-8-2-8-3-8-4-8-5-8-6-8-7-8-9-7-9-8-10-8-11-8-11-8-11-8-8-8-9-7-7-8-7-8-5-7-5-8-5 />
<path color=#f10 d=M374,260l-8-5,8-4,8,5z />
<path color=#f20 d=M397,278l-8-7-8-6-7-5,8-4,7,5,8,5,8,7z />
<path color=#f50 d=M404,287l-7-9,8-5,7,8z />
<path color=#fa0 d=M412,297l-8-10,8-6,8,10z />
<path color=#fe0 d=M420,308l-8-11,8-6,8,10z />
<path color=#bd0 d=M428,320l-8-12,8-7,8,11z />
<path color=#6c0 d=M436,331l-8-11,8-8,8,12z />
<path color=#1d1 d=M444,341l-8-10,8-7,8,10z />
<path color=#0eb d=M452,350l-8-9,8-7,8,10z />
<path color=#0ee d=M460,358l-8-8,8-6,8,8z />
<path color=#0be d=M499,380l-8-3-8-3-8-4-7-5-8-7,8-6,8,8,7,6,8,5,8,5,8,3z />
<path color=#0ee d=M507,381l-8-1,8-1,8,2z />
<path color=#0d5 d=M515,381l-8,0,8,0,8,1z />
<path color=#1d1 d=M523,380l-8,1,8,1,8,0z />
<path color=#6e0 d=M531,380l-8,0,8,2,8-1z />
<path color=#be0 d=M539,378l-8,2,8,1,8-1z />
<path color=#fe0 d=M547,377l-8,1,8,2,8-1z />
<path color=#fa0 d=M555,377l-8,0,8,2,8-1z />
<path color=#f80 d=M564,378l-9-1,8,1,9,0z />
<path color=#f20 d=M572,381l-8-3,8,0,8,2z />
<path color=#f10 d=M606,401l-9-7-8-5-9-5-8-3,8-1,8,2,9,4,8,5,9,6z />
<path color=#f20 d=M615,410l-9-9,8-4,9,8z />
<path color=#f50 d=M623,420l-8-10,8-5,8,8z />
<path color=#f80 d=M632,431l-9-11,8-7,9,10z />
<path color=#fd0 d=M641,443l-9-12,8-8,9,12z />
<path color=#ce0 d=M649,456l-8-13,8-8,8,11z />
<path color=#8e0 d=M658,467l-9-11,8-10,9,12z />
<path color=#6e0 d=M667,477l-9-10,8-9,8,11z />
<path color=#1d1 d=M675,485l-8-8,7-8,9,9z />
<path color=#0d5 d=M684,493l-9-8,8-7,9,8z />
<path color=#0eb d=M720,514l-9-4-9-5-9-5-9-7,8-7,9,8,9,7,9,5,9,5z />
<path color=#0d5 d=M730,517l-10-3,8-3,9,4z />
<path color=#1d1 d=M748,525l-9-4-9-4,7-2,9,4,10,4z />
<path class=m4 d=M756,523l-10-4-9-4-9-4-9-5-9-5-9-7-9-8-9-8-9-9-8-11-9-12-8-11-9-12-9-10-8-8-9-8-9-6-8-5-9-4-8-2-8-2-9,0-8,1-8,1-8,1-8,1-8,0-8-1-8-2-8-3-8-5-8-5-7-6-8-8-8-8-8-10-8-10-8-12-8-11-8-10-8-10-7-8-8-7-8-5-7-5-8-5 />
<path color=#f10 d=M366,265l-8-6,8-4,8,5z />
<path color=#f20 d=M381,277l-8-6-7-6,8-5,7,5,8,6z />
<path color=#f50 d=M389,285l-8-8,8-6,8,7z />
<path color=#f80 d=M396,294l-7-9,8-7,7,9z />
<path color=#fd0 d=M404,305l-8-11,8-7,8,10z />
<path color=#ef0 d=M412,316l-8-11,8-8,8,11z />
<path color=#ad0 d=M420,328l-8-12,8-8,8,12z />
<path color=#6c0 d=M428,339l-8-11,8-8,8,11z />
<path color=#1d1 d=M436,348l-8-9,8-8,8,10z />
<path color=#0eb d=M444,356l-8-8,8-7,8,9z />
<path color=#0ee d=M452,363l-8-7,8-6,8,8z />
<path color=#0be d=M475,376l-8-3-7-4-8-6,8-5,8,7,7,5,8,4z />
<path color=#0ee d=M483,379l-8-3,8-2,8,3z />
<path color=#0eb d=M491,381l-8-2,8-2,8,3z />
<path color=#0d5 d=M499,381l-8,0,8-1,8,1z />
<path color=#4d0 d=M507,380l-8,1,8,0,8,0z />
<path color=#8e0 d=M515,379l-8,1,8,1,8-1z />
<path color=#ce0 d=M523,378l-8,1,8,1,8,0z />
<path color=#fe0 d=M531,376l-8,2,8,2,8-2z />
<path color=#fa0 d=M539,376l-8,0,8,2,8-1z />
<path color=#f50 d=M547,377l-8-1,8,1,8,0z />
<path color=#f20 d=M555,380l-8-3,8,0,9,1z />
<path color=#f10 d=M598,408l-9-8-8-7-9-6-8-4-9-3,9-2,8,3,8,3,9,5,8,5,9,7z />
<path color=#f20 d=M607,417l-9-9,8-7,9,9z />
<path color=#f50 d=M615,428l-8-11,8-7,8,10z />
<path color=#fa0 d=M624,441l-9-13,8-8,9,11z />
<path color=#ed0 d=M633,454l-9-13,8-10,9,12z />
<path color=#be0 d=M641,466l-8-12,8-11,8,13z />
<path color=#6e0 d=M650,476l-9-10,8-10,9,11z />
<path color=#4d0 d=M659,485l-9-9,8-9,9,10z />
<path color=#1d1 d=M667,492l-8-7,8-8,8,8z />
<path color=#0d5 d=M713,517l-10-4-9-4-9-5-9-5-9-7,8-7,9,8,9,7,9,5,9,5,9,4z />
<path color=#1d1 d=M722,520l-9-3,7-3,10,3z />
<path color=#4d0 d=M731,524l-9-4,8-3,9,4z />
<path color=#6e0 d=M741,528l-10-4,8-3,9,4z />
<path class=m4 d=M748,525l-9-4-9-4-10-3-9-4-9-5-9-5-9-7-9-8-8-8-9-10-9-11-8-13-9-12-9-11-8-10-9-9-9-7-8-5-9-5-8-3-8-3-9-1-8,0-8,1-8,2-8,0-8,1-8,0-8-1-8-3-8-3-8-4-7-5-8-7-8-8-8-9-8-10-8-11-8-12-8-11-8-10-7-9-8-7-8-6-7-5-8-5 />
<path color=#f10 d=M365,274l-8-7-7-6,8-2,8,6,7,6z />
<path color=#f20 d=M373,281l-8-7,8-3,8,6z />
<path color=#f50 d=M381,289l-8-8,8-4,8,8z />
<path color=#f80 d=M388,299l-7-10,8-4,7,9z />
<path color=#eb0 d=M396,311l-8-12,8-5,8,11z />
<path color=#dd0 d=M404,322l-8-11,8-6,8,11z />
<path color=#8c0 d=M412,333l-8-11,8-6,8,12z />
<path color=#3c0 d=M420,342l-8-9,8-5,8,11z />
<path color=#1d1 d=M428,350l-8-8,8-3,8,9z />
<path color=#0eb d=M444,364l-8-7-8-7,8-2,8,8,8,7z />
<path color=#0ee d=M459,374l-7-5-8-5,8-1,8,6,7,4z />
<path color=#0eb d=M467,376l-8-2,8-1,8,3z />
<path color=#0d5 d=M475,378l-8-2,8,0,8,3z />
<path color=#1d1 d=M483,378l-8,0,8,1,8,2z />
<path color=#4d0 d=M490,377l-7,1,8,3,8,0z />
<path color=#8e0 d=M498,376l-8,1,9,4,8-1z />
<path color=#ef0 d=M506,374l-8,2,9,4,8-1z />
<path color=#fd0 d=M514,373l-8,1,9,5,8-1z />
<path color=#f80 d=M522,373l-8,0,9,5,8-2z />
<path color=#f20 d=M531,373l-9,0,9,3,8,0z />
<path color=#f10 d=M547,380l-8-4-8-3,8,3,8,1,8,3z />
<path color=#f00 d=M581,403l-8-8-9-7-8-5-9-3,8,0,9,3,8,4,9,6,8,7z />
<path color=#f10 d=M590,412l-9-9,8-3,9,8z />
<path color=#f20 d=M599,424l-9-12,8-4,9,9z />
<path color=#f80 d=M607,436l-8-12,8-7,8,11z />
<path color=#eb0 d=M616,449l-9-13,8-8,9,13z />
<path color=#bd0 d=M625,462l-9-13,8-8,9,13z />
<path color=#8e0 d=M633,473l-8-11,8-8,8,12z />
<path color=#4d0 d=M642,481l-9-8,8-7,9,10z />
<path color=#1d1 d=M660,495l-9-6-9-8,8-5,9,9,8,7z />
<path color=#0d5 d=M677,505l-9-4-8-6,7-3,9,7,9,5z />
<path color=#1d1 d=M696,514l-9-4-10-5,8-1,9,5,9,4z />
<path color=#4d0 d=M705,517l-9-3,7-1,10,4z />
<path color=#6e0 d=M724,524l-10-4-9-3,8,0,9,3,9,4z />
<path color=#8e0 d=M733,526l-9-2,7,0,10,4z />
<path class=m4 d=M741,528l-10-4-9-4-9-3-10-4-9-4-9-5-9-5-9-7-8-7-9-9-9-10-8-12-9-13-9-13-8-11-9-9-9-8-8-7-9-6-8-4-9-3-8-3-8-1-8,0-8,2-8,1-8,1-8,1-8,0-8-2-8-3-8-3-7-4-8-6-8-7-8-8-8-9-8-11-8-12-8-11-8-11-7-9-8-8-8-6-7-6-8-6 />
<path color=#f10 d=M365,285l-8-8-8-8-8-7,9-1,7,6,8,7,8,7z />
<path color=#f50 d=M372,294l-7-9,8-4,8,8z />
<path color=#e70 d=M380,304l-8-10,9-5,7,10z />
<path color=#eb0 d=M388,316l-8-12,8-5,8,12z />
<path color=#bd0 d=M396,328l-8-12,8-5,8,11z />
<path color=#8e0 d=M404,337l-8-9,8-6,8,11z />
<path color=#6e0 d=M412,346l-8-9,8-4,8,9z />
<path color=#1d1 d=M420,353l-8-7,8-4,8,8z />
<path color=#0d5 d=M451,373l-8-4-7-4-8-5-8-7,8-3,8,7,8,7,8,5,7,5z />
<path color=#1d1 d=M459,375l-8-2,8,1,8,2z />
<path color=#4d0 d=M467,376l-8-1,8,1,8,2z />
<path color=#6e0 d=M474,375l-7,1,8,2,8,0z />
<path color=#be0 d=M482,374l-8,1,9,3,7-1z />
<path color=#ef0 d=M490,372l-8,2,8,3,8-1z />
<path color=#fa0 d=M498,370l-8,2,8,4,8-2z />
<path color=#f50 d=M506,370l-8,0,8,4,8-1z />
<path color=#f10 d=M522,372l-8-2-8,0,8,3,8,0,9,0z />
<path color=#e00 d=M573,406l-8-9-9-7-8-6-9-4-8-5-9-3,9,1,8,3,8,4,9,3,8,5,9,7,8,8z />
<path color=#d10 d=M582,418l-9-12,8-3,9,9z />
<path color=#e20 d=M591,432l-9-14,8-6,9,12z />
<path color=#e90 d=M599,445l-8-13,8-8,8,12z />
<path color=#ed0 d=M608,458l-9-13,8-9,9,13z />
<path color=#bd0 d=M616,469l-8-11,8-9,9,13z />
<path color=#8e0 d=M625,479l-9-10,9-7,8,11z />
<path color=#4d0 d=M643,493l-9-6-9-8,8-6,9,8,9,8z />
<path color=#1d1 d=M661,503l-9-4-9-6,8-4,9,6,8,6z />
<path color=#4d0 d=M670,506l-9-3,7-2,9,4z />
<path color=#6e0 d=M688,512l-9-3-9-3,7-1,10,5,9,4z />
<path color=#8e0 d=M697,515l-9-3,8,2,9,3z />
<path color=#be0 d=M707,518l-10-3,8,2,9,3z />
<path color=#ce0 d=M716,521l-9-3,7,2,10,4z />
<path color=#ef0 d=M726,524l-10-3,8,3,9,2z />
<path class=m4 d=M733,526l-9-2-10-4-9-3-9-3-9-4-10-5-9-4-8-6-9-6-9-8-9-8-8-11-9-13-9-13-8-12-9-12-9-9-8-8-9-7-8-5-9-3-8-4-8-3-9,0-8,0-8,1-8,2-8,1-7,1-8,0-8-2-8-2-7-5-8-5-8-7-8-7-8-8-8-9-8-11-8-11-8-12-7-10-8-8-8-7-8-7-7-6 />
<path color=#f10 d=M349,285l-8-8-7-7,7-8,8,7,8,8z />
<path color=#f20 d=M357,294l-8-9,8-8,8,8z />
<path color=#f50 d=M365,304l-8-10,8-9,7,9z />
<path color=#fa0 d=M373,314l-8-10,7-10,8,10z />
<path color=#fe0 d=M381,326l-8-12,7-10,8,12z />
<path color=#be0 d=M389,336l-8-10,7-10,8,12z />
<path color=#8e0 d=M396,346l-7-10,7-8,8,9z />
<path color=#4d0 d=M404,354l-8-8,8-9,8,9z />
<path color=#1d1 d=M420,367l-8-6-8-7,8-8,8,7,8,7z />
<path color=#0d5 d=M427,370l-7-3,8-7,8,5z />
<path color=#1d1 d=M443,376l-8-3-8-3,9-5,7,4,8,4z />
<path color=#4d0 d=M451,378l-8-2,8-3,8,2z />
<path color=#6e0 d=M458,377l-7,1,8-3,8,1z />
<path color=#be0 d=M466,376l-8,1,9-1,7-1z />
<path color=#fe0 d=M474,374l-8,2,8-1,8-1z />
<path color=#fa0 d=M482,373l-8,1,8,0,8-2z />
<path color=#f50 d=M490,372l-8,1,8-1,8-2z />
<path color=#f10 d=M498,372l-8,0,8-2,8,0z />
<path color=#f00 d=M506,374l-8-2,8-2,8,0z />
<path color=#e00 d=M556,405l-8-8-9-7-8-5-9-5-8-4-8-2,8-4,8,2,9,3,8,5,9,4,8,6,9,7z />
<path color=#f00 d=M565,416l-9-11,9-8,8,9z />
<path color=#d10 d=M574,430l-9-14,8-10,9,12z />
<path color=#e40 d=M582,445l-8-15,8-12,9,14z />
<path color=#eb0 d=M591,459l-9-14,9-13,8,13z />
<path color=#ce0 d=M600,471l-9-12,8-14,9,13z />
<path color=#8e0 d=M608,481l-8-10,8-13,8,11z />
<path color=#6e0 d=M617,489l-9-8,8-12,9,10z />
<path color=#4d0 d=M626,496l-9-7,8-10,9,8z />
<path color=#1d1 d=M635,501l-9-5,8-9,9,6z />
<path color=#4d0 d=M653,509l-9-4-9-4,8-8,9,6,9,4z />
<path color=#6e0 d=M662,512l-9-3,8-6,9,3z />
<path color=#8e0 d=M671,513l-9-1,8-6,9,3z />
<path color=#be0 d=M680,515l-9-2,8-4,9,3z />
<path color=#ce0 d=M689,517l-9-2,8-3,9,3z />
<path color=#ef0 d=M699,519l-10-2,8-2,10,3z />
<path color=#fe0 d=M708,522l-9-3,8-1,9,3z />
<path color=#fd0 d=M718,526l-10-4,8-1,10,3z />
<path class=m4 d=M726,524l-10-3-9-3-10-3-9-3-9-3-9-3-9-3-9-4-9-6-9-6-9-8-9-10-8-11-9-13-8-13-9-14-9-12-8-9-9-7-8-6-9-4-8-5-9-3-8-2-8,0-8,0-8,2-8,2-8,1-7,1-8-1-8-2-8-4-7-4-8-5-8-7-8-7-8-9-8-9-8-12-8-12-8-10-7-9-8-8-8-8-8-7 />
<path color=#f10 d=M333,288l-7-8,8-10,7,7z />
<path color=#f20 d=M341,297l-8-9,8-11,8,8z />
<path color=#f80 d=M349,306l-8-9,8-12,8,9z />
<path color=#fa0 d=M357,316l-8-10,8-12,8,10z />
<path color=#fe0 d=M365,326l-8-10,8-12,8,10z />
<path color=#ce0 d=M373,337l-8-11,8-12,8,12z />
<path color=#8e0 d=M381,347l-8-10,8-11,8,10z />
<path color=#4d0 d=M389,355l-8-8,8-11,7,10z />
<path color=#1d1 d=M396,364l-7-9,7-9,8,8z />
<path color=#0d5 d=M419,378l-7-3-8-5-8-6,8-10,8,7,8,6,7,3z />
<path color=#1d1 d=M427,379l-8-1,8-8,8,3z />
<path color=#4d0 d=M435,380l-8-1,8-6,8,3z />
<path color=#6e0 d=M442,381l-7-1,8-4,8,2z />
<path color=#be0 d=M450,379l-8,2,9-3,7-1z />
<path color=#ef0 d=M458,377l-8,2,8-2,8-1z />
<path color=#fd0 d=M465,376l-7,1,8-1,8-2z />
<path color=#f80 d=M473,375l-8,1,9-2,8-1z />
<path color=#f20 d=M481,375l-8,0,9-2,8-1z />
<path color=#f10 d=M489,377l-8-2,9-3,8,0z />
<path color=#f00 d=M498,380l-9-3,9-5,8,2z />
<path color=#e00 d=M540,407l-9-8-8-7-9-5-8-4-8-3,8-6,8,2,8,4,9,5,8,5,9,7z />
<path color=#f00 d=M548,417l-8-10,8-10,8,8z />
<path color=#f10 d=M557,429l-9-12,8-12,9,11z />
<path color=#e40 d=M566,444l-9-15,8-13,9,14z />
<path color=#eb0 d=M574,459l-8-15,8-14,8,15z />
<path color=#bd0 d=M583,473l-9-14,8-14,9,14z />
<path color=#6e0 d=M592,484l-9-11,8-14,9,12z />
<path color=#4d0 d=M600,493l-8-9,8-13,8,10z />
<path color=#1d1 d=M609,500l-9-7,8-12,9,8z />
<path color=#0d5 d=M618,506l-9-6,8-11,9,7z />
<path color=#1d1 d=M636,513l-9-4-9-3,8-10,9,5,9,4z />
<path color=#4d0 d=M645,516l-9-3,8-8,9,4z />
<path color=#6e0 d=M654,518l-9-2,8-7,9,3z />
<path color=#8e0 d=M663,519l-9-1,8-6,9,1z />
<path color=#ce0 d=M672,519l-9,0,8-6,9,2z />
<path color=#ef0 d=M682,520l-10-1,8-4,9,2z />
<path color=#fd0 d=M691,521l-9-1,7-3,10,2z />
<path color=#fa0 d=M710,530l-10-5-9-4,8-2,9,3,10,4z />
<path class=m2 d=M718,526l-10-4-9-3-10-2-9-2-9-2-9-1-9-3-9-4-9-4-9-5-9-7-9-8-8-10-9-12-9-14-8-15-9-14-9-11-8-8-9-7-8-5-9-5-8-4-8-2-8-2-8,0-8,1-8,1-8,2-8,1-7,1-8-2-8-3-8-3-7-3-8-6-8-7-8-8-7-10-8-10-8-12-8-10-8-10-8-9-8-8-7-7 />
<path color=#f50 d=M325,297l-7-8,8-9,7,8z />
<path color=#f80 d=M333,306l-8-9,8-9,8,9z />
<path color=#fa0 d=M341,316l-8-10,8-9,8,9z />
<path color=#fe0 d=M349,325l-8-9,8-10,8,10z />
<path color=#ce0 d=M357,336l-8-11,8-9,8,10z />
<path color=#8e0 d=M365,347l-8-11,8-10,8,11z />
<path color=#4d0 d=M373,356l-8-9,8-10,8,10z />
<path color=#1d1 d=M381,363l-8-7,8-9,8,8z />
<path color=#0d5 d=M388,370l-7-7,8-8,7,9z />
<path color=#0eb d=M404,379l-8-4-8-5,8-6,8,6,8,5z />
<path color=#0d5 d=M411,382l-7-3,8-4,7,3z />
<path color=#1d1 d=M419,383l-8-1,8-4,8,1z />
<path color=#4d0 d=M426,382l-7,1,8-4,8,1z />
<path color=#8e0 d=M434,381l-8,1,9-2,7,1z />
<path color=#ce0 d=M441,379l-7,2,8,0,8-2z />
<path color=#fe0 d=M449,377l-8,2,9,0,8-2z />
<path color=#f80 d=M457,376l-8,1,9,0,7-1z />
<path color=#f20 d=M465,376l-8,0,8,0,8-1z />
<path color=#f10 d=M473,378l-8-2,8-1,8,0z />
<path color=#f00 d=M481,380l-8-2,8-3,8,2z />
<path color=#e00 d=M523,407l-9-9-8-6-8-5-9-4-8-3,8-3,9,3,8,3,8,4,9,5,8,7z />
<path color=#f00 d=M531,416l-8-9,8-8,9,8z />
<path color=#f10 d=M540,427l-9-11,9-9,8,10z />
<path color=#e20 d=M549,440l-9-13,8-10,9,12z />
<path color=#e90 d=M557,455l-8-15,8-11,9,15z />
<path color=#dd0 d=M566,469l-9-14,9-11,8,15z />
<path color=#8c0 d=M575,482l-9-13,8-10,9,14z />
<path color=#4d0 d=M583,493l-8-11,8-9,9,11z />
<path color=#0d5 d=M619,515l-9-4-9-4-9-7-9-7,9-9,8,9,9,7,9,6,9,3z />
<path color=#1d1 d=M627,517l-8-2,8-6,9,4z />
<path color=#4d0 d=M636,519l-9-2,9-4,9,3z />
<path color=#6e0 d=M646,520l-10-1,9-3,9,2z />
<path color=#be0 d=M655,521l-9-1,8-2,9,1z />
<path color=#ef0 d=M664,520l-9,1,8-2,9,0z />
<path color=#fd0 d=M674,521l-10-1,8-1,10,1z />
<path color=#fa0 d=M683,523l-9-2,8-1,9,1z />
<path color=#f80 d=M692,526l-9-3,8-2,9,4z />
<path color=#f50 d=M702,531l-10-5,8-1,10,5z />
<path class=m3 d=M710,530l-10-5-9-4-9-1-10-1-9,0-9-1-9-2-9-3-9-4-9-3-9-6-9-7-8-9-9-11-9-14-8-15-9-15-9-12-8-10-9-8-8-7-9-5-8-4-8-3-9-3-8-2-8,0-8,1-7,1-8,2-8,2-7-1-8-1-8-1-7-3-8-5-8-6-7-9-8-8-8-10-8-11-8-10-8-10-8-9-8-9-7-8 />
<path color=#f80 d=M317,305l-7-8,8-8,7,8z />
<path color=#fa0 d=M325,314l-8-9,8-8,8,9z />
<path color=#fe0 d=M333,325l-8-11,8-8,8,10z />
<path color=#ce0 d=M341,334l-8-9,8-9,8,9z />
<path color=#be0 d=M349,345l-8-11,8-9,8,11z />
<path color=#6e0 d=M357,355l-8-10,8-9,8,11z />
<path color=#1d1 d=M365,363l-8-8,8-8,8,9z />
<path color=#0d5 d=M372,369l-7-6,8-7,8,7z />
<path color=#0eb d=M388,378l-8-4-8-5,9-6,7,7,8,5z />
<path color=#0d5 d=M403,383l-8-2-7-3,8-3,8,4,7,3z />
<path color=#4d0 d=M410,384l-7-1,8-1,8,1z />
<path color=#6e0 d=M418,383l-8,1,9-1,7-1z />
<path color=#ce0 d=M425,380l-7,3,8-1,8-1z />
<path color=#fe0 d=M433,378l-8,2,9,1,7-2z />
<path color=#f80 d=M441,376l-8,2,8,1,8-2z />
<path color=#f20 d=M448,376l-7,0,8,1,8-1z />
<path color=#f10 d=M456,378l-8-2,9,0,8,0z />
<path color=#f00 d=M473,383l-9-2-8-3,9-2,8,2,8,2z />
<path color=#e00 d=M515,413l-9-8-8-8-9-6-8-5-8-3,8-3,8,3,9,4,8,5,8,6,9,9z />
<path color=#f00 d=M523,425l-8-12,8-6,8,9z />
<path color=#f10 d=M532,438l-9-13,8-9,9,11z />
<path color=#e70 d=M541,452l-9-14,8-11,9,13z />
<path color=#ed0 d=M549,466l-8-14,8-12,8,15z />
<path color=#ad0 d=M558,479l-9-13,8-11,9,14z />
<path color=#6c0 d=M567,490l-9-11,8-10,9,13z />
<path color=#1d1 d=M575,499l-8-9,8-8,8,11z />
<path color=#0d5 d=M602,516l-9-5-9-5-9-7,8-6,9,7,9,7,9,4z />
<path color=#1d1 d=M610,519l-8-3,8-5,9,4z />
<path color=#4d0 d=M619,520l-9-1,9-4,8,2z />
<path color=#6e0 d=M628,521l-9-1,8-3,9,2z />
<path color=#be0 d=M638,521l-10,0,8-2,10,1z />
<path color=#ce0 d=M647,522l-9-1,8-1,9,1z />
<path color=#fe0 d=M656,522l-9,0,8-1,9-1z />
<path color=#fa0 d=M665,523l-9-1,8-2,10,1z />
<path color=#f50 d=M675,525l-10-2,9-2,9,2z />
<path color=#f20 d=M694,533l-10-4-9-4,8-2,9,3,10,5z />
<path class=m3 d=M702,531l-10-5-9-3-9-2-10-1-9,1-9-1-10-1-9-2-8-2-9-4-9-4-9-7-9-7-8-11-9-13-9-14-8-15-9-13-9-11-8-9-9-9-8-6-8-5-9-4-8-3-8-2-8-2-8,0-8,1-8,2-7,2-8,1-7,1-8-1-7-3-8-4-8-5-7-7-8-7-8-9-8-11-8-11-8-9-8-10-8-9-7-8 />
<path color=#fa0 d=M310,316l-8-9,8-10,7,8z />
<path color=#fe0 d=M318,326l-8-10,7-11,8,9z />
<path color=#ce0 d=M326,337l-8-11,7-12,8,11z />
<path color=#8e0 d=M333,346l-7-9,7-12,8,9z />
<path color=#6e0 d=M341,355l-8-9,8-12,8,11z />
<path color=#1d1 d=M349,364l-8-9,8-10,8,10z />
<path color=#0d5 d=M357,371l-8-7,8-9,8,8z />
<path color=#0eb d=M372,380l-8-4-7-5,8-8,7,6,8,5z />
<path color=#0d5 d=M387,386l-8-3-7-3,8-6,8,4,7,3z />
<path color=#1d1 d=M394,386l-7,0,8-5,8,2z />
<path color=#6e0 d=M402,386l-8,0,9-3,7,1z />
<path color=#be0 d=M409,384l-7,2,8-2,8-1z />
<path color=#ef0 d=M417,382l-8,2,9-1,7-3z />
<path color=#fa0 d=M424,380l-7,2,8-2,8-2z />
<path color=#f50 d=M432,379l-8,1,9-2,8-2z />
<path color=#f10 d=M448,383l-8-3-8-1,9-3,7,0,8,2z />
<path color=#f00 d=M456,386l-8-3,8-5,8,3z />
<path color=#e00 d=M498,414l-9-8-8-7-8-5-9-4-8-4,8-5,9,2,8,3,8,5,9,6,8,8z />
<path color=#f00 d=M506,424l-8-10,8-9,9,8z />
<path color=#f10 d=M515,436l-9-12,9-11,8,12z />
<path color=#e40 d=M524,451l-9-15,8-11,9,13z />
<path color=#eb0 d=M532,465l-8-14,8-13,9,14z />
<path color=#bd0 d=M541,478l-9-13,9-13,8,14z />
<path color=#8e0 d=M550,490l-9-12,8-12,9,13z />
<path color=#4d0 d=M558,500l-8-10,8-11,9,11z />
<path color=#0d5 d=M593,522l-8-4-9-5-9-6-9-7,9-10,8,9,9,7,9,5,9,5z />
<path color=#1d1 d=M602,524l-9-2,9-6,8,3z />
<path color=#4d0 d=M611,525l-9-1,8-5,9,1z />
<path color=#8e0 d=M620,525l-9,0,8-5,9,1z />
<path color=#ce0 d=M629,525l-9,0,8-4,10,0z />
<path color=#fe0 d=M639,525l-10,0,9-4,9,1z />
<path color=#fa0 d=M648,526l-9-1,8-3,9,0z />
<path color=#f80 d=M657,527l-9-1,8-4,9,1z />
<path color=#f20 d=M667,530l-10-3,8-4,10,2z />
<path color=#f10 d=M686,540l-10-6-9-4,8-5,9,4,10,4z />
<path class=m3 d=M694,533l-10-4-9-4-10-2-9-1-9,0-9-1-10,0-9-1-9-1-8-3-9-5-9-5-9-7-8-9-9-11-9-13-8-14-9-14-9-13-8-12-9-8-8-8-9-6-8-5-8-3-9-2-8-3-8-2-7,0-8,2-8,2-7,3-8,1-7-1-8-2-7-3-8-4-8-5-7-6-8-8-8-10-8-11-8-9-8-11-8-9-7-8 />
<path color=#fe0 d=M302,323l-8-9,8-7,8,9z />
<path color=#ef0 d=M310,334l-8-11,8-7,8,10z />
<path color=#be0 d=M317,344l-7-10,8-8,8,11z />
<path color=#6e0 d=M325,354l-8-10,9-7,7,9z />
<path color=#1d1 d=M333,361l-8-7,8-8,8,9z />
<path color=#0d5 d=M348,375l-7-6-8-8,8-6,8,9,8,7z />
<path color=#0eb d=M356,379l-8-4,9-4,7,5z />
<path color=#0d5 d=M371,383l-8-2-7-2,8-3,8,4,7,3z />
<path color=#1d1 d=M378,385l-7-2,8,0,8,3z />
<path color=#6e0 d=M386,384l-8,1,9,1,7,0z />
<path color=#be0 d=M393,382l-7,2,8,2,8,0z />
<path color=#ef0 d=M400,380l-7,2,9,4,7-2z />
<path color=#fd0 d=M408,379l-8,1,9,4,8-2z />
<path color=#f50 d=M415,378l-7,1,9,3,7-2z />
<path color=#f10 d=M431,381l-8-3-8,0,9,2,8-1,8,1z />
<path color=#f00 d=M439,384l-8-3,9-1,8,3z />
<path color=#e00 d=M489,420l-8-9-9-7-8-6-8-5-9-5-8-4,9-1,8,3,8,4,9,4,8,5,8,7,9,8z />
<path color=#f10 d=M498,431l-9-11,9-6,8,10z />
<path color=#e20 d=M507,446l-9-15,8-7,9,12z />
<path color=#e90 d=M515,461l-8-15,8-10,9,15z />
<path color=#dd0 d=M524,474l-9-13,9-10,8,14z />
<path color=#be0 d=M533,485l-9-11,8-9,9,13z />
<path color=#6e0 d=M541,496l-8-11,8-7,9,12z />
<path color=#1d1 d=M550,504l-9-8,9-6,8,10z />
<path color=#0d5 d=M576,520l-9-5-8-5-9-6,8-4,9,7,9,6,9,5z />
<path color=#1d1 d=M585,523l-9-3,9-2,8,4z />
<path color=#4d0 d=M594,525l-9-2,8-1,9,2z />
<path color=#6e0 d=M603,524l-9,1,8-1,9,1z />
<path color=#be0 d=M612,524l-9,0,8,1,9,0z />
<path color=#fe0 d=M621,524l-9,0,8,1,9,0z />
<path color=#fd0 d=M630,525l-9-1,8,1,10,0z />
<path color=#f80 d=M640,526l-10-1,9,0,9,1z />
<path color=#f20 d=M649,529l-9-3,8,0,9,1z />
<path color=#f10 d=M677,543l-9-6-10-5-9-3,8-2,10,3,9,4,10,6z />
<path class=m3 d=M686,540l-10-6-9-4-10-3-9-1-9-1-10,0-9,0-9,0-9-1-9-2-8-4-9-5-9-6-9-7-8-10-9-12-9-13-8-14-9-15-9-12-8-10-9-8-8-7-8-5-9-4-8-4-8-3-8-3-8-1-8,1-7,2-8,2-7,2-8,0-7,0-8-3-7-3-8-4-7-5-8-7-8-9-8-9-7-9-8-11-8-10-8-9 />
<path color=#ef0 d=M294,332l-8-9,8-9,8,9z />
<path color=#ce0 d=M301,342l-7-10,8-9,8,11z />
<path color=#8e0 d=M309,351l-8-9,9-8,7,10z />
<path color=#4d0 d=M317,359l-8-8,8-7,8,10z />
<path color=#1d1 d=M325,366l-8-7,8-5,8,7z />
<path color=#0d5 d=M347,380l-7-3-8-4-7-7,8-5,8,8,7,6,8,4z />
<path color=#1d1 d=M355,382l-8-2,9-1,7,2z />
<path color=#4d0 d=M362,383l-7-1,8-1,8,2z />
<path color=#6e0 d=M369,383l-7,0,9,0,7,2z />
<path color=#be0 d=M377,382l-8,1,9,2,8-1z />
<path color=#fe0 d=M384,379l-7,3,9,2,7-2z />
<path color=#fa0 d=M391,377l-7,2,9,3,7-2z />
<path color=#f50 d=M399,377l-8,0,9,3,8-1z />
<path color=#f10 d=M407,377l-8,0,9,2,7-1z />
<path color=#f00 d=M415,379l-8-2,8,1,8,0z />
<path color=#e00 d=M472,418l-8-8-9-7-8-6-8-5-8-5-8-4-8-4,8-1,8,3,8,3,8,4,9,5,8,5,8,6,9,7z />
<path color=#f00 d=M481,429l-9-11,9-7,8,9z />
<path color=#d10 d=M490,443l-9-14,8-9,9,11z />
<path color=#e40 d=M499,458l-9-15,8-12,9,15z />
<path color=#ed0 d=M507,472l-8-14,8-12,8,15z />
<path color=#ce0 d=M516,483l-9-11,8-11,9,13z />
<path color=#8e0 d=M525,492l-9-9,8-9,9,11z />
<path color=#4d0 d=M533,501l-8-9,8-7,8,11z />
<path color=#1d1 d=M559,517l-9-4-8-5-9-7,8-5,9,8,9,6,8,5z />
<path color=#4d0 d=M568,521l-9-4,8-2,9,5z />
<path color=#6e0 d=M577,524l-9-3,8-1,9,3z />
<path color=#8e0 d=M586,524l-9,0,8-1,9,2z />
<path color=#ce0 d=M595,523l-9,1,8,1,9-1z />
<path color=#fe0 d=M604,523l-9,0,8,1,9,0z />
<path color=#fa0 d=M613,523l-9,0,8,1,9,0z />
<path color=#f50 d=M622,526l-9-3,8,1,9,1z />
<path color=#f20 d=M631,529l-9-3,8-1,10,1z />
<path color=#f10 d=M659,542l-9-6-9-4-10-3,9-3,9,3,9,3,10,5z />
<path color=#f00 d=M669,548l-10-6,9-5,9,6z />
<path class=m4 d=M677,543l-9-6-10-5-9-3-9-3-10-1-9-1-9,0-9,0-9,1-9-2-9-3-9-5-8-5-9-6-9-8-8-11-9-11-9-13-8-15-9-15-9-11-8-9-9-7-8-6-8-5-9-5-8-4-8-3-8-3-8,0-7,1-8,1-7,2-7,2-8,1-7-2-8-2-7-2-8-4-7-6-8-8-8-7-8-10-7-10-8-11-8-9 />
<path color=#be0 d=M286,346l-8-9,8-14,8,9z />
<path color=#8e0 d=M294,354l-8-8,8-14,7,10z />
<path color=#4d0 d=M301,363l-7-9,7-12,8,9z />
<path color=#1d1 d=M309,370l-8-7,8-12,8,8z />
<path color=#0d5 d=M332,385l-8-4-7-5-8-6,8-11,8,7,7,7,8,4z />
<path color=#1d1 d=M339,387l-7-2,8-8,7,3z />
<path color=#4d0 d=M346,388l-7-1,8-7,8,2z />
<path color=#6e0 d=M354,388l-8,0,9-6,7,1z />
<path color=#be0 d=M361,388l-7,0,8-5,7,0z />
<path color=#ef0 d=M368,386l-7,2,8-5,8-1z />
<path color=#fd0 d=M375,383l-7,3,9-4,7-3z />
<path color=#f50 d=M383,382l-8,1,9-4,7-2z />
<path color=#f10 d=M398,385l-8-2-7-1,8-5,8,0,8,0z />
<path color=#f00 d=M406,387l-8-2,9-8,8,2z />
<path color=#e00 d=M456,423l-9-8-8-7-8-5-9-5-8-6-8-5,9-8,8,4,8,4,8,5,8,5,8,6,9,7z />
<path color=#f00 d=M464,433l-8-10,8-13,8,8z />
<path color=#f10 d=M473,447l-9-14,8-15,9,11z />
<path color=#e70 d=M482,462l-9-15,8-18,9,14z />
<path color=#ed0 d=M490,476l-8-14,8-19,9,15z />
<path color=#ce0 d=M499,487l-9-11,9-18,8,14z />
<path color=#8e0 d=M508,497l-9-10,8-15,9,11z />
<path color=#4d0 d=M516,505l-8-8,8-14,9,9z />
<path color=#1d1 d=M542,522l-9-5-8-6-9-6,9-13,8,9,9,7,8,5z />
<path color=#4d0 d=M560,528l-9-3-9-3,8-9,9,4,9,4z />
<path color=#6e0 d=M568,530l-8-2,8-7,9,3z />
<path color=#be0 d=M577,529l-9,1,9-6,9,0z />
<path color=#ef0 d=M586,529l-9,0,9-5,9-1z />
<path color=#fd0 d=M595,530l-9-1,9-6,9,0z />
<path color=#f80 d=M604,531l-9-1,9-7,9,0z />
<path color=#f50 d=M614,534l-10-3,9-8,9,3z />
<path color=#f20 d=M623,538l-9-4,8-8,9,3z />
<path color=#f10 d=M660,559l-9-6-10-6-9-5-9-4,8-9,10,3,9,4,9,6,10,6z />
<path class=m3 d=M669,548l-10-6-9-6-9-4-10-3-9-3-9-3-9,0-9,0-9,1-9,0-9-3-9-4-9-4-8-5-9-7-8-9-9-9-9-11-8-14-9-15-9-14-9-11-8-8-9-7-8-6-8-5-8-5-8-4-8-4-8-2-8,0-8,0-7,2-7,3-8,1-7,0-7-1-8-2-7-3-8-4-7-7-8-7-8-8-8-9-7-10-8-9 />
<path color=#6e0 d=M278,352l-8-8,8-7,8,9z />
<path color=#4d0 d=M285,360l-7-8,8-6,8,8z />
<path color=#1d1 d=M293,367l-8-7,9-6,7,9z />
<path color=#0d5 d=M323,385l-8-3-7-4-8-5-7-6,8-4,8,7,8,6,7,5,8,4z />
<path color=#1d1 d=M330,386l-7-1,9,0,7,2z />
<path color=#6e0 d=M337,386l-7,0,9,1,7,1z />
<path color=#8e0 d=M344,386l-7,0,9,2,8,0z />
<path color=#ce0 d=M352,385l-8,1,10,2,7,0z />
<path color=#fe0 d=M359,384l-7,1,9,3,7-2z />
<path color=#f80 d=M366,382l-7,2,9,2,7-3z />
<path color=#f20 d=M374,383l-8-1,9,1,8-1z />
<path color=#f10 d=M390,388l-8-3-8-2,9-1,7,1,8,2z />
<path color=#f00 d=M398,391l-8-3,8-3,8,2z />
<path color=#e00 d=M430,415l-8-7-8-6-8-6-8-5,8-4,8,5,8,6,9,5,8,5z />
<path color=#f00 d=M439,422l-9-7,9-7,8,7z />
<path color=#f10 d=M456,445l-9-13-8-10,8-7,9,8,8,10z />
<path color=#e70 d=M465,461l-9-16,8-12,9,14z />
<path color=#ed0 d=M474,475l-9-14,8-14,9,15z />
<path color=#be0 d=M482,487l-8-12,8-13,8,14z />
<path color=#6e0 d=M491,496l-9-9,8-11,9,11z />
<path color=#4d0 d=M499,504l-8-8,8-9,9,10z />
<path color=#1d1 d=M534,524l-9-5-9-4-8-4-9-7,9-7,8,8,9,6,8,6,9,5z />
<path color=#4d0 d=M542,527l-8-3,8-2,9,3z />
<path color=#6e0 d=M551,528l-9-1,9-2,9,3z />
<path color=#8e0 d=M560,529l-9-1,9,0,8,2z />
<path color=#ce0 d=M569,529l-9,0,8,1,9-1z />
<path color=#fe0 d=M578,529l-9,0,8,0,9,0z />
<path color=#fa0 d=M587,531l-9-2,8,0,9,1z />
<path color=#f50 d=M596,534l-9-3,8-1,9,1z />
<path color=#f20 d=M614,542l-9-5-9-3,8-3,10,3,9,4z />
<path color=#f10 d=M652,564l-10-7-9-5-9-6-10-4,9-4,9,4,9,5,10,6,9,6z />
<path class=m3 d=M660,559l-9-6-10-6-9-5-9-4-9-4-10-3-9-1-9-1-9,0-9,1-8-2-9-3-9-3-9-5-8-6-9-6-8-8-9-10-9-11-8-14-9-15-9-14-8-10-9-8-8-7-8-5-9-5-8-6-8-5-8-2-8-2-7-1-8,1-7,3-7,2-7,0-8,0-7-1-7-2-8-4-7-5-8-6-8-7-7-9-8-8-8-9 />
<path color=#6e0 d=M269,359l-7-7,8-8,8,8z />
<path color=#4d0 d=M277,366l-8-7,9-7,7,8z />
<path color=#1d1 d=M307,383l-8-3-7-3-8-5-7-6,8-6,8,7,7,6,8,5,7,4z />
<path color=#4d0 d=M314,386l-7-3,8-1,8,3z />
<path color=#6e0 d=M321,387l-7-1,9-1,7,1z />
<path color=#be0 d=M328,386l-7,1,9-1,7,0z />
<path color=#ce0 d=M335,386l-7,0,9,0,7,0z />
<path color=#fe0 d=M343,385l-8,1,9,0,8-1z />
<path color=#fa0 d=M350,385l-7,0,9,0,7-1z />
<path color=#f20 d=M358,385l-8,0,9-1,7-2z />
<path color=#f10 d=M373,391l-8-4-7-2,8-3,8,1,8,2z />
<path color=#f00 d=M389,399l-8-4-8-4,9-6,8,3,8,3z />
<path color=#e00 d=M414,416l-9-7-8-5-8-5,9-8,8,5,8,6,8,6z />
<path color=#f00 d=M422,423l-8-7,8-8,8,7z />
<path color=#f10 d=M439,446l-9-13-8-10,8-8,9,7,8,10z />
<path color=#e70 d=M448,461l-9-15,8-14,9,13z />
<path color=#ed0 d=M457,475l-9-14,8-16,9,16z />
<path color=#ad0 d=M465,487l-8-12,8-14,9,14z />
<path color=#6e0 d=M474,497l-9-10,9-12,8,12z />
<path color=#4d0 d=M482,505l-8-8,8-10,9,9z />
<path color=#1d1 d=M508,521l-9-3-8-5-9-8,9-9,8,8,9,7,8,4z />
<path color=#4d0 d=M525,527l-9-3-8-3,8-6,9,4,9,5z />
<path color=#6e0 d=M534,529l-9-2,9-3,8,3z />
<path color=#be0 d=M542,530l-8-1,8-2,9,1z />
<path color=#ce0 d=M551,531l-9-1,9-2,9,1z />
<path color=#fe0 d=M560,531l-9,0,9-2,9,0z />
<path color=#fa0 d=M569,532l-9-1,9-2,9,0z />
<path color=#f50 d=M578,534l-9-2,9-3,9,2z />
<path color=#f20 d=M597,543l-10-5-9-4,9-3,9,3,9,3z />
<path color=#f10 d=M643,571l-9-7-10-6-9-6-9-5-9-4,8-6,9,5,10,4,9,6,9,5,10,7z />
<path class=m3 d=M652,564l-10-7-9-5-9-6-10-4-9-5-9-3-9-3-9-2-9,0-9,0-9-1-9-1-8-3-9-5-9-4-8-4-9-7-8-8-9-9-8-12-9-14-9-16-9-13-8-10-9-7-8-7-8-6-8-6-8-5-8-3-8-3-8-2-8-1-7,2-7,1-8,1-7,0-7,0-7-1-8-3-7-4-8-5-7-6-8-7-7-8-8-8 />
<path color=#6e0 d=M268,365l-8-5-7-7,9-1,7,7,8,7z />
<path color=#4d0 d=M283,375l-8-4-7-6,9,1,7,6,8,5z />
<path color=#6e0 d=M297,380l-7-2-7-3,9,2,7,3,8,3z />
<path color=#8e0 d=M304,382l-7-2,10,3,7,3z />
<path color=#ce0 d=M312,382l-8,0,10,4,7,1z />
<path color=#ef0 d=M319,381l-7,1,9,5,7-1z />
<path color=#fd0 d=M326,381l-7,0,9,5,7,0z />
<path color=#f80 d=M333,382l-7-1,9,5,8-1z />
<path color=#f20 d=M341,382l-8,0,10,3,7,0z />
<path color=#f10 d=M348,384l-7-2,9,3,8,0z />
<path color=#f00 d=M364,391l-8-4-8-3,10,1,7,2,8,4z />
<path color=#e00 d=M405,420l-9-8-8-6-8-6-8-4-8-5,9,0,8,4,8,4,8,5,8,5,9,7z />
<path color=#f00 d=M413,429l-8-9,9-4,8,7z />
<path color=#f10 d=M422,441l-9-12,9-6,8,10z />
<path color=#e40 d=M431,456l-9-15,8-8,9,13z />
<path color=#eb0 d=M439,471l-8-15,8-10,9,15z />
<path color=#bd0 d=M448,483l-9-12,9-10,9,14z />
<path color=#8e0 d=M457,492l-9-9,9-8,8,12z />
<path color=#6e0 d=M465,500l-8-8,8-5,9,10z />
<path color=#4d0 d=M474,508l-9-8,9-3,8,8z />
<path color=#1d1 d=M491,519l-9-5-8-6,8-3,9,8,8,5z />
<path color=#4d0 d=M499,521l-8-2,8-1,9,3z />
<path color=#6e0 d=M508,523l-9-2,9,0,8,3z />
<path color=#8e0 d=M516,525l-8-2,8,1,9,3z />
<path color=#be0 d=M525,526l-9-1,9,2,9,2z />
<path color=#ef0 d=M534,528l-9-2,9,3,8,1z />
<path color=#fe0 d=M543,529l-9-1,8,2,9,1z />
<path color=#fa0 d=M551,530l-8-1,8,2,9,0z />
<path color=#f50 d=M560,531l-9-1,9,1,9,1z />
<path color=#f20 d=M570,533l-10-2,9,1,9,2z />
<path color=#f10 d=M607,554l-10-6-9-5-9-5-9-5,8,1,9,4,10,5,9,4,9,5z />
<path color=#f00 d=M635,573l-10-7-9-6-9-6,8-2,9,6,10,6,9,7z />
<path class=m3 d=M643,571l-9-7-10-6-9-6-9-5-9-4-10-5-9-4-9-2-9-1-9,0-9-1-8-1-9-2-9-3-8-3-9-3-8-5-9-8-8-8-9-10-8-12-9-14-9-15-9-13-8-10-8-7-9-7-8-5-8-5-8-4-8-4-8-4-7-2-8,0-7,0-8,1-7,0-7,1-7-1-7-3-8-3-7-3-8-5-7-6-8-7-7-7 />
<path color=#8e0 d=M252,366l-8-6,9-7,7,7z />
<path color=#6e0 d=M274,380l-7-4-8-5-7-5,8-6,8,5,7,6,8,4z />
<path color=#8e0 d=M281,382l-7-2,9-5,7,3z />
<path color=#be0 d=M288,384l-7-2,9-4,7,2z />
<path color=#ce0 d=M295,384l-7,0,9-4,7,2z />
<path color=#fe0 d=M303,384l-8,0,9-2,8,0z />
<path color=#fa0 d=M310,384l-7,0,9-2,7-1z />
<path color=#f80 d=M317,385l-7-1,9-3,7,0z />
<path color=#f20 d=M325,386l-8-1,9-4,7,1z />
<path color=#f10 d=M340,391l-8-3-7-2,8-4,8,0,7,2z />
<path color=#f00 d=M348,395l-8-4,8-7,8,3z />
<path color=#e00 d=M388,423l-8-7-8-7-9-5-8-5-7-4,8-8,8,4,8,5,8,4,8,6,8,6z />
<path color=#f00 d=M397,433l-9-10,8-11,9,8z />
<path color=#f10 d=M405,445l-8-12,8-13,8,9z />
<path color=#e40 d=M414,460l-9-15,8-16,9,12z />
<path color=#eb0 d=M423,474l-9-14,8-19,9,15z />
<path color=#ef0 d=M431,486l-8-12,8-18,8,15z />
<path color=#8e0 d=M440,495l-9-9,8-15,9,12z />
<path color=#6e0 d=M448,503l-8-8,8-12,9,9z />
<path color=#4d0 d=M482,525l-8-4-9-5-8-7-9-6,9-11,8,8,9,8,8,6,9,5z />
<path color=#6e0 d=M491,527l-9-2,9-6,8,2z />
<path color=#8e0 d=M499,529l-8-2,8-6,9,2z />
<path color=#be0 d=M508,531l-9-2,9-6,8,2z />
<path color=#ef0 d=M516,532l-8-1,8-6,9,1z />
<path color=#fe0 d=M525,533l-9-1,9-6,9,2z />
<path color=#fa0 d=M534,535l-9-2,9-5,9,1z />
<path color=#f50 d=M543,536l-9-1,9-6,8,1z />
<path color=#f20 d=M552,538l-9-2,8-6,9,1z />
<path color=#f10 d=M570,546l-9-5-9-3,8-7,10,2,9,5z />
<path color=#f00 d=M626,584l-9-7-10-7-9-6-10-6-9-7-9-5,9-8,9,5,9,5,10,6,9,6,9,6,10,7z />
<path class=m3 d=M635,573l-10-7-9-6-9-6-10-6-9-5-9-5-9-5-10-2-9-1-8-1-9-1-9-2-9-1-8-2-9-2-8-2-9-5-8-6-9-8-8-8-9-9-9-12-8-15-9-15-9-12-8-9-9-8-8-6-8-6-8-4-8-5-8-4-8-3-7-2-8,0-7-1-7,0-7,1-8,0-7-2-7-2-7-3-8-4-7-6-8-5-7-7 />
<path color=#6e0 d=M258,380l-7-4-8-5-7-5,8-6,8,6,7,5,8,5z />
<path color=#8e0 d=M265,383l-7-3,9-4,7,4z />
<path color=#be0 d=M272,385l-7-2,9-3,7,2z />
<path color=#ce0 d=M279,386l-7-1,9-3,7,2z />
<path color=#ef0 d=M286,387l-7-1,9-2,7,0z />
<path color=#fd0 d=M294,387l-8,0,9-3,8,0z />
<path color=#fa0 d=M301,388l-7-1,9-3,7,0z />
<path color=#f50 d=M308,390l-7-2,9-4,7,1z />
<path color=#f20 d=M316,393l-8-3,9-5,8,1z />
<path color=#f10 d=M339,404l-8-5-8-4-7-2,9-7,7,2,8,3,8,4z />
<path color=#f00 d=M371,428l-8-8-8-6-8-5-8-5,9-9,7,4,8,5,9,5,8,7z />
<path color=#f10 d=M380,438l-9-10,9-12,8,7z />
<path color=#f20 d=M389,451l-9-13,8-15,9,10z />
<path color=#f80 d=M397,465l-8-14,8-18,8,12z />
<path color=#ed0 d=M406,479l-9-14,8-20,9,15z />
<path color=#be0 d=M415,490l-9-11,8-19,9,14z />
<path color=#6e0 d=M423,499l-8-9,8-16,8,12z />
<path color=#4d0 d=M432,507l-9-8,8-13,9,9z />
<path color=#1d1 d=M465,527l-8-4-9-5-8-5-8-6,8-12,8,8,9,6,8,7,9,5z />
<path color=#4d0 d=M473,530l-8-3,9-6,8,4z />
<path color=#6e0 d=M482,532l-9-2,9-5,9,2z />
<path color=#8e0 d=M490,535l-8-3,9-5,8,2z />
<path color=#ce0 d=M499,536l-9-1,9-6,9,2z />
<path color=#ef0 d=M508,538l-9-2,9-5,8,1z />
<path color=#fd0 d=M516,539l-8-1,8-6,9,1z />
<path color=#fa0 d=M525,541l-9-2,9-6,9,2z />
<path color=#f80 d=M534,544l-9-3,9-6,9,1z />
<path color=#f20 d=M543,547l-9-3,9-8,9,2z />
<path color=#f10 d=M617,595l-9-7-10-7-9-7-9-7-10-6-9-6-9-4-9-4,9-9,9,3,9,5,9,5,9,7,10,6,9,6,10,7,9,7z />
<path class=m1 d=M626,584l-9-7-10-7-9-6-10-6-9-7-9-5-9-5-9-3-9-2-9-1-9-2-9-1-8-1-9-2-8-2-9-2-8-4-9-5-8-7-9-6-8-8-9-9-8-12-9-14-9-15-8-12-9-10-8-7-8-7-9-5-8-5-7-4-8-4-8-3-7-2-8-1-7-1-7,0-8,0-7,0-7-2-7-2-7-4-8-5-7-5-8-6 />
<path color=#ad0 d=M248,374l-7-3-8-4-7-5,10,4,7,5,8,5,7,4z />
<path color=#bd0 d=M255,377l-7-3,10,6,7,3z />
<path color=#dd0 d=M262,378l-7-1,10,6,7,2z />
<path color=#ed0 d=M269,380l-7-2,10,7,7,1z />
<path color=#e90 d=M277,381l-8-1,10,6,7,1z />
<path color=#f80 d=M284,383l-7-2,9,6,8,0z />
<path color=#f50 d=M291,385l-7-2,10,4,7,1z />
<path color=#f20 d=M299,388l-8-3,10,3,7,2z />
<path color=#f10 d=M314,395l-8-4-7-3,9,2,8,3,7,2z />
<path color=#f00 d=M346,417l-8-7-8-6-8-6-8-3,9,0,8,4,8,5,8,5,8,5z />
<path color=#f10 d=M363,432l-9-8-8-7,9-3,8,6,8,8z />
<path color=#e20 d=M371,446l-8-14,8-4,9,10z />
<path color=#e70 d=M380,461l-9-15,9-8,9,13z />
<path color=#ed0 d=M389,475l-9-14,9-10,8,14z />
<path color=#ad0 d=M397,486l-8-11,8-10,9,14z />
<path color=#8e0 d=M406,495l-9-9,9-7,9,11z />
<path color=#4d0 d=M448,520l-9-3-8-4-8-6-9-6-8-6,9-5,8,9,9,8,8,6,8,5,9,5z />
<path color=#6e0 d=M456,524l-8-4,9,3,8,4z />
<path color=#8e0 d=M464,526l-8-2,9,3,8,3z />
<path color=#be0 d=M473,528l-9-2,9,4,9,2z />
<path color=#ce0 d=M481,531l-8-3,9,4,8,3z />
<path color=#ef0 d=M490,533l-9-2,9,4,9,1z />
<path color=#fd0 d=M499,535l-9-2,9,3,9,2z />
<path color=#fa0 d=M507,537l-8-2,9,3,8,1z />
<path color=#f80 d=M516,540l-9-3,9,2,9,2z />
<path color=#f20 d=M525,543l-9-3,9,1,9,3z />
<path color=#f10 d=M609,597l-10-7-9-8-10-7-9-7-9-7-10-5-9-5-9-4-9-4,9,1,9,3,9,4,9,4,9,6,10,6,9,7,9,7,10,7,9,7z />
<path class=m3 d=M617,595l-9-7-10-7-9-7-9-7-10-6-9-6-9-4-9-4-9-3-9-3-9-2-8-1-9-2-9-1-8-3-9-2-8-3-8-4-9-5-8-5-8-6-9-8-8-9-9-11-9-14-8-14-9-13-9-10-8-8-8-6-8-5-8-5-8-5-8-4-7-2-8-3-7-2-7-1-8,0-7-1-7-1-7-2-7-3-7-4-8-5-7-5 />
<path color=#ef0 d=M232,375l-7-4-8-4,9-5,7,5,8,4z />
<path color=#fe0 d=M246,379l-7-2-7-2,9-4,7,3,7,3z />
<path color=#fd0 d=M253,381l-7-2,9-2,7,1z />
<path color=#f80 d=M260,384l-7-3,9-3,7,2z />
<path color=#f50 d=M268,386l-8-2,9-4,8,1z />
<path color=#f20 d=M275,388l-7-2,9-5,7,2z />
<path color=#f10 d=M298,399l-8-4-8-4-7-3,9-5,7,2,8,3,7,3z />
<path color=#f00 d=M329,421l-8-8-8-6-8-4-7-4,8-8,8,4,8,3,8,6,8,6z />
<path color=#f10 d=M346,438l-8-8-9-9,9-11,8,7,8,7z />
<path color=#f20 d=M355,449l-9-11,8-14,9,8z />
<path color=#e70 d=M363,464l-8-15,8-17,8,14z />
<path color=#eb0 d=M372,477l-9-13,8-18,9,15z />
<path color=#ce0 d=M381,489l-9-12,8-16,9,14z />
<path color=#8e0 d=M389,498l-8-9,8-14,8,11z />
<path color=#6e0 d=M397,505l-8-7,8-12,9,9z />
<path color=#4d0 d=M422,519l-8-4-8-5-9-5,9-10,8,6,9,6,8,6z />
<path color=#6e0 d=M430,523l-8-4,9-6,8,4z />
<path color=#8e0 d=M439,525l-9-2,9-6,9,3z />
<path color=#be0 d=M447,528l-8-3,9-5,8,4z />
<path color=#ce0 d=M455,530l-8-2,9-4,8,2z />
<path color=#ef0 d=M464,533l-9-3,9-4,9,2z />
<path color=#fe0 d=M473,536l-9-3,9-5,8,3z />
<path color=#fd0 d=M481,538l-8-2,8-5,9,2z />
<path color=#f80 d=M490,540l-9-2,9-5,9,2z />
<path color=#f50 d=M499,543l-9-3,9-5,8,2z />
<path color=#f20 d=M507,547l-8-4,8-6,9,3z />
<path color=#f10 d=M544,566l-10-6-9-5-9-4-9-4,9-7,9,3,9,4,9,4,9,5z />
<path color=#f00 d=M571,585l-9-7-9-7-9-5,8-10,10,5,9,7,9,7z />
<path color=#f10 d=M600,608l-10-8-9-8-10-7,9-10,10,7,9,8,10,7z />
<path class=m3 d=M609,597l-10-7-9-8-10-7-9-7-9-7-10-5-9-5-9-4-9-4-9-3-9-3-8-2-9-2-9-2-8-3-9-2-8-2-8-4-9-3-8-4-8-6-9-6-8-6-9-9-8-11-9-14-9-15-8-14-9-8-8-7-8-7-8-6-8-6-8-3-8-4-7-3-8-3-7-2-7-2-8-1-7-2-7-1-7-3-7-3-8-4-7-5 />
<path color=#fe0 d=M222,375l-7-3-7-4,9-1,8,4,7,4z />
<path color=#fd0 d=M229,377l-7-2,10,0,7,2z />
<path color=#fa0 d=M236,379l-7-2,10,0,7,2z />
<path color=#f80 d=M244,382l-8-3,10,0,7,2z />
<path color=#f50 d=M251,385l-7-3,9-1,7,3z />
<path color=#f20 d=M258,387l-7-2,9-1,8,2z />
<path color=#f10 d=M296,408l-7-5-8-4-8-5-7-4-8-3,10-1,7,2,7,3,8,4,8,4,7,4z />
<path color=#f00 d=M313,421l-9-7-8-6,9-5,8,4,8,6z />
<path color=#f10 d=M329,441l-8-11-8-9,8-8,8,8,9,9z />
<path color=#f50 d=M338,452l-9-11,9-11,8,8z />
<path color=#fa0 d=M346,464l-8-12,8-14,9,11z />
<path color=#fe0 d=M355,476l-9-12,9-15,8,15z />
<path color=#ce0 d=M364,487l-9-11,8-12,9,13z />
<path color=#8e0 d=M372,496l-8-9,8-10,9,12z />
<path color=#6e0 d=M380,504l-8-8,9-7,8,9z />
<path color=#4d0 d=M405,517l-8-3-8-5-9-5,9-6,8,7,9,5,8,5z />
<path color=#6e0 d=M413,520l-8-3,9-2,8,4z />
<path color=#8e0 d=M421,523l-8-3,9-1,8,4z />
<path color=#be0 d=M430,525l-9-2,9,0,9,2z />
<path color=#ce0 d=M438,528l-8-3,9,0,8,3z />
<path color=#ef0 d=M446,531l-8-3,9,0,8,2z />
<path color=#fe0 d=M455,534l-9-3,9-1,9,3z />
<path color=#fd0 d=M463,537l-8-3,9-1,9,3z />
<path color=#fa0 d=M472,540l-9-3,10-1,8,2z />
<path color=#f80 d=M481,542l-9-2,9-2,9,2z />
<path color=#f20 d=M498,550l-8-4-9-4,9-2,9,3,8,4z />
<path color=#f10 d=M591,613l-10-7-9-8-9-7-10-8-9-6-9-6-9-6-10-6-9-5-9-4,9-3,9,4,9,4,9,5,10,6,9,5,9,7,9,7,10,7,9,8,10,8z />
<path class=m2 d=M600,608l-10-8-9-8-10-7-9-7-9-7-9-5-10-6-9-5-9-4-9-4-8-4-9-3-9-2-8-2-9-3-9-3-8-2-8-3-9-2-8-4-8-4-8-5-9-5-8-7-8-9-9-12-9-13-8-15-9-11-8-8-9-9-8-8-8-6-8-4-7-4-8-4-8-4-7-3-7-2-8-2-7-3-7-2-7-2-7-2-7-4-8-4 />
<path color=#fd0 d=M213,377l-7-2-7-3,9-4,7,4,7,3z />
<path color=#fa0 d=M220,380l-7-3,9-2,7,2z />
<path color=#f80 d=M227,382l-7-2,9-3,7,2z />
<path color=#f50 d=M234,385l-7-3,9-3,8,3z />
<path color=#f20 d=M242,388l-8-3,10-3,7,3z />
<path color=#f10 d=M304,433l-8-8-8-8-8-6-8-5-8-6-7-4-8-4-7-4,9-3,7,2,8,3,7,4,8,5,8,4,7,5,8,6,9,7z />
<path color=#f20 d=M313,444l-9-11,9-12,8,9z />
<path color=#f80 d=M321,456l-8-12,8-14,8,11z />
<path color=#fd0 d=M330,468l-9-12,8-15,9,11z />
<path color=#ef0 d=M338,479l-8-11,8-16,8,12z />
<path color=#be0 d=M347,488l-9-9,8-15,9,12z />
<path color=#8e0 d=M355,496l-8-8,8-12,9,11z />
<path color=#6e0 d=M363,504l-8-8,9-9,8,9z />
<path color=#4d0 d=M380,514l-9-4-8-6,9-8,8,8,9,5z />
<path color=#6e0 d=M396,521l-8-3-8-4,9-5,8,5,8,3z />
<path color=#8e0 d=M404,523l-8-2,9-4,8,3z />
<path color=#be0 d=M412,526l-8-3,9-3,8,3z />
<path color=#ef0 d=M420,528l-8-2,9-3,9,2z />
<path color=#fe0 d=M429,530l-9-2,10-3,8,3z />
<path color=#fd0 d=M437,534l-8-4,9-2,8,3z />
<path color=#fa0 d=M454,541l-8-3-9-4,9-3,9,3,8,3z />
<path color=#f80 d=M463,544l-9-3,9-4,9,3z />
<path color=#f20 d=M481,551l-9-3-9-4,9-4,9,2,9,4z />
<path color=#f10 d=M535,585l-9-6-9-6-10-7-9-5-9-5-8-5,9-5,8,4,9,4,9,5,10,6,9,6,9,6z />
<path color=#f00 d=M544,591l-9-6,9-8,9,6z />
<path color=#f10 d=M582,621l-10-8-9-7-9-7-10-8,9-8,10,8,9,7,9,8,10,7z />
<path class=m3 d=M591,613l-10-7-9-8-9-7-10-8-9-6-9-6-9-6-10-6-9-5-9-4-8-4-9-4-9-2-9-3-8-3-9-3-8-3-8-3-9-2-8-3-8-3-8-3-8-5-9-5-8-8-8-9-9-11-9-12-8-12-9-11-8-11-8-9-9-7-8-6-7-5-8-4-8-5-7-4-8-3-7-2-7-3-8-3-7-2-7-2-7-3-7-4 />
<path color=#fd0 d=M197,381l-7-3,9-6,7,3z />
<path color=#fa0 d=M204,384l-7-3,9-6,7,2z />
<path color=#f80 d=M211,386l-7-2,9-7,7,3z />
<path color=#f50 d=M226,392l-8-4-7-2,9-6,7,2,7,3z />
<path color=#f20 d=M241,401l-8-5-7-4,8-7,8,3,7,4z />
<path color=#f10 d=M272,423l-8-6-8-7-8-5-7-4,8-9,8,4,7,4,8,6,8,5z />
<path color=#f20 d=M288,441l-8-10-8-8,8-12,8,6,8,8z />
<path color=#f80 d=M296,452l-8-11,8-16,8,8z />
<path color=#fa0 d=M305,463l-9-11,8-19,9,11z />
<path color=#fe0 d=M313,474l-8-11,8-19,8,12z />
<path color=#ce0 d=M322,485l-9-11,8-18,9,12z />
<path color=#8e0 d=M330,493l-8-8,8-17,8,11z />
<path color=#6e0 d=M338,500l-8-7,8-14,9,9z />
<path color=#4d0 d=M371,520l-8-3-8-5-9-6-8-6,9-12,8,8,8,8,8,6,9,4z />
<path color=#6e0 d=M379,524l-8-4,9-6,8,4z />
<path color=#8e0 d=M387,527l-8-3,9-6,8,3z />
<path color=#be0 d=M395,529l-8-2,9-6,8,2z />
<path color=#ce0 d=M403,532l-8-3,9-6,8,3z />
<path color=#ef0 d=M412,534l-9-2,9-6,8,2z />
<path color=#fe0 d=M420,537l-8-3,8-6,9,2z />
<path color=#fd0 d=M428,540l-8-3,9-7,8,4z />
<path color=#fa0 d=M437,545l-9-5,9-6,9,4z />
<path color=#f80 d=M446,549l-9-4,9-7,8,3z />
<path color=#f50 d=M463,556l-9-3-8-4,8-8,9,3,9,4z />
<path color=#f20 d=M472,561l-9-5,9-8,9,3z />
<path color=#f10 d=M573,631l-9-7-10-7-9-7-10-8-9-6-9-6-9-6-9-7-9-6-9-5-9-5,9-10,8,5,9,5,9,5,10,7,9,6,9,6,9,6,10,8,9,7,9,7,10,8z />
<path class=m1 d=M582,621l-10-8-9-7-9-7-10-8-9-6-9-6-9-6-10-7-9-5-9-5-8-5-9-3-9-4-9-3-8-3-9-4-8-4-9-2-8-2-8-3-8-2-8-3-8-4-9-4-8-6-8-8-8-8-9-9-8-11-9-12-8-12-9-11-8-8-8-8-8-6-8-5-8-6-7-4-8-4-7-4-8-3-7-3-7-2-7-3-7-2-7-3 />
<path color=#fd0 d=M188,383l-7-3,9-2,7,3z />
<path color=#fa0 d=M195,386l-7-3,9-2,7,3z />
<path color=#f80 d=M202,389l-7-3,9-2,7,2z />
<path color=#f50 d=M217,396l-8-3-7-4,9-3,7,2,8,4z />
<path color=#f20 d=M255,425l-8-8-8-6-7-5-8-5-7-5,9-4,7,4,8,5,7,4,8,5,8,7z />
<path color=#f50 d=M263,433l-8-8,9-8,8,6z />
<path color=#f80 d=M271,443l-8-10,9-10,8,8z />
<path color=#fa0 d=M280,454l-9-11,9-12,8,10z />
<path color=#fe0 d=M288,465l-8-11,8-13,8,11z />
<path color=#ce0 d=M297,476l-9-11,8-13,9,11z />
<path color=#be0 d=M305,485l-8-9,8-13,8,11z />
<path color=#6e0 d=M313,493l-8-8,8-11,9,11z />
<path color=#4d0 d=M353,519l-8-4-8-5-8-5-8-5-8-7,9-8,8,8,8,7,8,6,9,6,8,5z />
<path color=#6e0 d=M361,522l-8-3,10-2,8,3z />
<path color=#8e0 d=M369,525l-8-3,10-2,8,4z />
<path color=#be0 d=M378,529l-9-4,10-1,8,3z />
<path color=#ce0 d=M386,531l-8-2,9-2,8,2z />
<path color=#ef0 d=M394,534l-8-3,9-2,8,3z />
<path color=#fe0 d=M402,536l-8-2,9-2,9,2z />
<path color=#fd0 d=M411,539l-9-3,10-2,8,3z />
<path color=#fa0 d=M419,544l-8-5,9-2,8,3z />
<path color=#f80 d=M436,552l-8-4-9-4,9-4,9,5,9,4z />
<path color=#f50 d=M454,561l-9-4-9-5,10-3,8,4,9,3z />
<path color=#f20 d=M471,571l-8-5-9-5,9-5,9,5,9,5z />
<path color=#f10 d=M536,617l-10-8-9-6-9-6-9-6-9-8-10-6-9-6,10-5,9,5,9,6,9,7,9,6,9,6,9,6,10,8z />
<path color=#f20 d=M564,637l-10-7-9-7-9-6,9-7,9,7,10,7,9,7z />
<path class=m2 d=M573,631l-9-7-10-7-9-7-10-8-9-6-9-6-9-6-9-7-9-6-9-5-9-5-9-5-9-3-8-4-9-4-9-5-8-3-8-3-9-2-8-3-8-2-8-3-8-4-8-3-8-5-9-6-8-6-8-7-8-8-9-11-8-11-9-11-8-11-8-10-8-8-8-6-8-7-8-5-7-4-8-5-7-4-8-4-7-2-7-2-7-3-7-3 />
<path color=#fa0 d=M186,395l-7-4-7-3,9-8,7,3,7,3z />
<path color=#f80 d=M201,403l-8-4-7-4,9-9,7,3,7,4z />
<path color=#f50 d=M239,430l-8-7-8-6-7-5-8-5-7-4,8-10,8,3,7,5,8,5,7,5,8,6z />
<path color=#f80 d=M247,439l-8-9,8-13,8,8z />
<path color=#fa0 d=M255,449l-8-10,8-14,8,8z />
<path color=#fd0 d=M264,460l-9-11,8-16,8,10z />
<path color=#ef0 d=M272,471l-8-11,7-17,9,11z />
<path color=#be0 d=M280,482l-8-11,8-17,8,11z />
<path color=#6e0 d=M289,491l-9-9,8-17,9,11z />
<path color=#4d0 d=M305,504l-8-6-8-7,8-15,8,9,8,8z />
<path color=#1d1 d=M321,514l-8-5-8-5,8-11,8,7,8,5z />
<path color=#4d0 d=M336,522l-8-4-7-4,8-9,8,5,8,5z />
<path color=#6e0 d=M344,525l-8-3,9-7,8,4z />
<path color=#8e0 d=M360,532l-8-3-8-4,9-6,8,3,8,3z />
<path color=#be0 d=M369,536l-9-4,9-7,9,4z />
<path color=#ce0 d=M377,539l-8-3,9-7,8,2z />
<path color=#ef0 d=M385,541l-8-2,9-8,8,3z />
<path color=#fe0 d=M393,545l-8-4,9-7,8,2z />
<path color=#fd0 d=M402,549l-9-4,9-9,9,3z />
<path color=#fa0 d=M419,558l-9-5-8-4,9-10,8,5,9,4z />
<path color=#f80 d=M427,562l-8-4,9-10,8,4z />
<path color=#f50 d=M454,578l-9-6-9-5-9-5,9-10,9,5,9,4,9,5z />
<path color=#f20 d=M555,648l-10-6-9-6-9-6-10-7-9-7-9-6-9-7-9-7-9-7-9-6-9-5,9-12,8,5,9,6,10,6,9,8,9,6,9,6,9,6,10,8,9,6,9,7,10,7z />
<path class=m2 d=M564,637l-10-7-9-7-9-6-10-8-9-6-9-6-9-6-9-8-10-6-9-6-8-5-9-5-9-4-9-5-8-4-9-4-8-5-9-3-8-2-8-3-8-2-9-4-8-3-8-3-8-4-8-5-8-5-8-5-8-7-8-8-8-9-9-11-8-11-9-11-8-10-8-8-8-8-8-6-7-5-8-5-7-5-8-3-7-4-7-3-7-3-7-3 />
<path color=#fa0 d=M169,390l-7-4,10,2,7,3z />
<path color=#f80 d=M191,404l-7-5-8-5-7-4,10,1,7,4,7,4,8,4z />
<path color=#f50 d=M221,426l-7-7-8-6-8-5-7-4,10-1,7,4,8,5,7,5,8,6z />
<path color=#f80 d=M229,434l-8-8,10-3,8,7z />
<path color=#fa0 d=M238,444l-9-10,10-4,8,9z />
<path color=#fd0 d=M246,455l-8-11,9-5,8,10z />
<path color=#ef0 d=M255,466l-9-11,9-6,9,11z />
<path color=#be0 d=M263,476l-8-10,9-6,8,11z />
<path color=#6e0 d=M271,485l-8-9,9-5,8,11z />
<path color=#4d0 d=M311,511l-8-4-8-4-8-5-8-6-8-7,9-3,9,9,8,7,8,6,8,5,8,5z />
<path color=#6c0 d=M318,514l-7-3,10,3,7,4z />
<path color=#8c0 d=M334,522l-8-4-8-4,10,4,8,4,8,3z />
<path color=#ad0 d=M342,525l-8-3,10,3,8,4z />
<path color=#bd0 d=M351,529l-9-4,10,4,8,3z />
<path color=#ef0 d=M359,533l-8-4,9,3,9,4z />
<path color=#fe0 d=M375,539l-8-3-8-3,10,3,8,3,8,2z />
<path color=#fd0 d=M384,544l-9-5,10,2,8,4z />
<path color=#fa0 d=M401,554l-9-5-8-5,9,1,9,4,8,4z />
<path color=#f80 d=M418,563l-9-5-8-4,9-1,9,5,8,4z />
<path color=#f50 d=M435,574l-8-6-9-5,9-1,9,5,9,5z />
<path color=#f20 d=M508,625l-9-7-9-7-10-7-9-7-9-6-9-6-9-6-9-5,10-2,9,6,9,5,9,6,9,7,9,7,9,7,9,6,9,7z />
<path color=#f50 d=M527,638l-10-7-9-6,9-2,10,7,9,6z />
<path color=#f20 d=M546,650l-10-6-9-6,9-2,9,6,10,6z />
<path class=m3 d=M555,648l-10-6-9-6-9-6-10-7-9-7-9-6-9-7-9-7-9-7-9-6-9-5-9-6-9-5-9-5-8-4-9-5-8-4-9-4-8-4-8-2-8-3-9-4-8-3-8-4-8-3-8-4-7-4-8-5-8-5-8-6-8-7-9-9-8-11-8-11-9-11-8-10-8-9-8-7-8-6-7-5-8-5-7-4-8-4-7-4-7-4-7-3 />
<path color=#f20 d=M188,409l-7-5-7-5-8-6-7-4-7-4,10,1,7,4,7,4,8,5,7,5,7,4z />
<path color=#f10 d=M196,415l-8-6,10-1,8,5z />
<path color=#f20 d=M212,429l-8-7-8-7,10-2,8,6,7,7z />
<path color=#f50 d=M220,438l-8-9,9-3,8,8z />
<path color=#f80 d=M228,447l-8-9,9-4,9,10z />
<path color=#eb0 d=M237,458l-9-11,10-3,8,11z />
<path color=#dd0 d=M245,469l-8-11,9-3,9,11z />
<path color=#bd0 d=M253,478l-8-9,10-3,8,10z />
<path color=#be0 d=M261,486l-8-8,10-2,8,9z />
<path color=#8e0 d=M285,501l-8-4-8-6-8-5,10-1,8,7,8,6,8,5z />
<path color=#be0 d=M301,508l-8-4-8-3,10,2,8,4,8,4z />
<path color=#ce0 d=M308,512l-7-4,10,3,7,3z />
<path color=#ef0 d=M324,519l-8-3-8-4,10,2,8,4,8,4z />
<path color=#fe0 d=M333,523l-9-4,10,3,8,3z />
<path color=#fd0 d=M341,526l-8-3,9,2,9,4z />
<path color=#fa0 d=M349,530l-8-4,10,3,8,4z />
<path color=#f80 d=M365,538l-8-4-8-4,10,3,8,3,8,3z />
<path color=#f50 d=M382,547l-8-5-9-4,10,1,9,5,8,5z />
<path color=#f20 d=M408,564l-8-6-9-5-9-6,10,2,9,5,8,4,9,5z />
<path color=#f10 d=M536,652l-9-7-10-6-9-7-9-6-10-7-9-7-9-7-9-7-9-5-9-6-9-6-9-6-9-6-9-5,10-1,9,5,8,6,9,5,9,6,9,6,9,6,9,7,10,7,9,7,9,7,9,6,10,7,9,6,10,6z />
<path class=m4 d=M546,650l-10-6-9-6-10-7-9-6-9-7-9-7-10-7-9-7-9-6-9-6-9-6-9-5-8-6-9-5-9-5-8-4-9-5-8-5-9-5-8-3-8-3-8-4-9-4-8-3-8-4-8-4-7-3-8-4-8-4-8-5-8-6-8-7-8-9-8-10-9-11-8-11-9-10-8-8-7-7-8-6-8-5-7-4-7-5-8-5-7-4-7-4 />
<path color=#f10 d=M156,391l-8-4-7-3,11,1,7,4,7,4z />
<path color=#d10 d=M163,397l-7-6,10,2,8,6z />
<path color=#f10 d=M171,402l-8-5,11,2,7,5z />
<path color=#f00 d=M178,408l-7-6,10,2,7,5z />
<path color=#f10 d=M202,430l-8-8-8-8-8-6,10,1,8,6,8,7,8,7z />
<path color=#e20 d=M210,439l-8-9,10-1,8,9z />
<path color=#e40 d=M218,448l-8-9,10-1,8,9z />
<path color=#e70 d=M227,457l-9-9,10-1,9,11z />
<path color=#eb0 d=M235,467l-8-10,10,1,8,11z />
<path color=#ed0 d=M243,476l-8-9,10,2,8,9z />
<path color=#dd0 d=M275,496l-8-4-8-5-8-4-8-7,10,2,8,8,8,5,8,6,8,4z />
<path color=#ed0 d=M282,500l-7-4,10,5,8,3z />
<path color=#eb0 d=M298,508l-8-4-8-4,11,4,8,4,7,4z />
<path color=#e90 d=M306,512l-8-4,10,4,8,4z />
<path color=#e70 d=M314,516l-8-4,10,4,8,3z />
<path color=#f80 d=M322,520l-8-4,10,3,9,4z />
<path color=#f50 d=M330,522l-8-2,11,3,8,3z />
<path color=#e20 d=M339,526l-9-4,11,4,8,4z />
<path color=#d10 d=M347,532l-8-6,10,4,8,4z />
<path color=#f10 d=M364,540l-9-4-8-4,10,2,8,4,9,4z />
<path color=#d10 d=M372,544l-8-4,10,2,8,5z />
<path color=#d00 d=M390,556l-9-6-9-6,10,3,9,6,9,5z />
<path color=#f00 d=M434,587l-9-7-9-6-9-6-9-6-8-6,10,2,8,6,9,5,9,6,9,6,9,6z />
<path color=#e00 d=M461,604l-9-7-9-5-9-5,10,0,9,6,9,5,9,7z />
<path color=#d00 d=M489,624l-9-6-10-7-9-7,10,1,9,7,9,7,10,7z />
<path color=#e00 d=M527,653l-10-8-9-7-10-7-9-7,10,2,9,6,9,7,10,6,9,7z />
<path class=m4 d=M536,652l-9-7-10-6-9-7-9-6-10-7-9-7-9-7-9-7-9-5-9-6-9-6-9-6-9-6-9-5-8-6-9-5-9-6-8-5-9-4-8-4-8-4-8-4-8-3-9-4-8-3-8-4-7-4-8-4-8-3-8-4-8-6-8-5-8-8-8-9-8-11-9-11-8-9-8-9-8-7-8-7-8-6-7-5-7-5-8-6-7-4-7-4 />
<path class=m4 d=M527,653l-10-8-9-7-10-7-9-7-9-6-10-7-9-7-9-7-9-5-9-5-9-7-9-6-9-6-9-6-8-6-9-6-9-6-8-4-9-4-8-4-8-6-9-4-8-2-8-4-8-4-8-4-8-4-8-4-7-4-8-4-8-5-8-4-8-7-8-9-8-10-9-9-8-9-8-9-8-8-8-8-8-6-7-6-8-5-7-6-8-4-7-3 />
</g>
<path d="M23.2 43.9L30.7 92.8L105.8 148.1L178.3 89.8M30.7 92.8h-2M105.8 148.1h2M39.1 99h-2M116 139.9h2M47.8 105.4h-2M125.8 132h2M56.7 111.9h-2M135.3 124.4h2M65.9 118.7h-2M144.5 117h2M75.4 125.7h-2M153.4 109.8h2M85.2 132.9h-2M162 102.9h2M95.3 140.4h-2M170.3 96.3h2M105.8 148.1h-2M178.3 89.8h2M30.7 92.8h-2.2M29 81.4h-2.2M27.1 69.4h-2.2M25.2 56.9h-2.2M23.2 43.9h-2.2" stroke="#262626" stroke-width=".6" fill="none"/>
<text x="27.4" y="95.9" font-size="7.1" text-anchor="end">360</text>
<text x="109.4" y="151.1" font-size="7.1" text-anchor="start">360</text>
<text x="35.8" y="102.1" font-size="7.1" text-anchor="end">315</text>
<text x="119.6" y="142.9" font-size="7.1" text-anchor="start">315</text>
<text x="44.5" y="108.5" font-size="7.1" text-anchor="end">270</text>
<text x="129.4" y="135" font-size="7.1" text-anchor="start">270</text>
<text x="53.4" y="115" font-size="7.1" text-anchor="end">225</text>
<text x="138.9" y="127.4" font-size="7.1" text-anchor="start">225</text>
<text x="62.6" y="121.8" font-size="7.1" text-anchor="end">180</text>
<text x="148.1" y="120" font-size="7.1" text-anchor="start">180</text>
<text x="72.1" y="128.8" font-size="7.1" text-anchor="end">135</text>
<text x="157" y="112.8" font-size="7.1" text-anchor="start">135</text>
<text x="81.9" y="136" font-size="7.1" text-anchor="end">90</text>
<text x="165.6" y="105.9" font-size="7.1" text-anchor="start">90</text>
<text x="92" y="143.5" font-size="7.1" text-anchor="end">45</text>
<text x="173.9" y="99.3" font-size="7.1" text-anchor="start">45</text>
<text x="102.5" y="151.2" font-size="7.1" text-anchor="end">0</text>
<text x="181.9" y="92.8" font-size="7.1" text-anchor="start">0</text>
<text x="19.8" y="46.3" font-size="7.1" text-anchor="end">150</text>
<text x="21.8" y="59.3" font-size="7.1" text-anchor="end">100</text>
<text x="23.7" y="71.8" font-size="7.1" text-anchor="end">50</text>
<text x="25.6" y="83.8" font-size="7.1" text-anchor="end">0</text>
<text x="9.4" y="84.3" font-size="7.4" text-anchor="middle">Z(nm)</text>
<text x="57.1" y="136.3" font-size="7.4" text-anchor="middle">Y(µm)</text>
<text x="165.2" y="131.3" font-size="7.4" text-anchor="middle">X(µm)</text>
</g>
<g clip-path="url(#k0)"><g transform="translate(0 0)">
<rect x="190.6" y="24.3" width="9.7" height="99" fill="url(#cb)" stroke="#777" stroke-width=".5"/>
<text x="204.8" y="28.5" font-size="6.6" text-anchor="start">48.00</text>
<text x="204.8" y="35.4" font-size="6.6" text-anchor="start">41.00</text>
<text x="204.8" y="42.3" font-size="6.6" text-anchor="start">34.00</text>
<text x="204.8" y="49.3" font-size="6.6" text-anchor="start">27.00</text>
<text x="204.8" y="56.2" font-size="6.6" text-anchor="start">20.00</text>
<text x="204.8" y="63.1" font-size="6.6" text-anchor="start">13.00</text>
<text x="204.8" y="70.1" font-size="6.6" text-anchor="start">6.000</text>
<text x="204.8" y="77" font-size="6.6" text-anchor="start">-1.000</text>
<text x="204.8" y="83.9" font-size="6.6" text-anchor="start">-8.000</text>
<text x="204.8" y="90.8" font-size="6.6" text-anchor="start">-15.00</text>
<text x="204.8" y="97.8" font-size="6.6" text-anchor="start">-22.00</text>
<text x="204.8" y="104.7" font-size="6.6" text-anchor="start">-29.00</text>
<text x="204.8" y="111.6" font-size="6.6" text-anchor="start">-36.00</text>
<text x="204.8" y="118.6" font-size="6.6" text-anchor="start">-43.00</text>
<text x="204.8" y="125.5" font-size="6.6" text-anchor="start">-50.00</text>
<path d="M200.3 26.3h2M200.3 33.2h2M200.3 40.1h2M200.3 47.1h2M200.3 54h2M200.3 60.9h2M200.3 67.9h2M200.3 74.8h2M200.3 81.7h2M200.3 88.6h2M200.3 95.6h2M200.3 102.5h2M200.3 109.4h2M200.3 116.4h2M200.3 123.3h2" stroke="#555" stroke-width=".5"/>
</g></g>
<text x="103.9" y="204.6" font-size="15.9" text-anchor="middle" font-weight="bold">(a)</text>
<g transform="translate(232.5 0)">
<path d="M40.9 86.5L34.4 37.8M168.1 83.9L172.5 35.4M116 139.9L40.9 86.5M95.3 140.4L168.1 83.9M60.3 74.3L55.6 26.2M148.5 72.6L151.2 24.6M135.3 124.4L60.3 74.3M75.4 125.7L148.5 72.6M78.6 62.8L75.5 15.4M130 61.9L131.1 14.4M153.4 109.8L78.6 62.8M56.7 111.9L130 61.9M95.8 52.1L94.2 5.2M112.5 51.7L112.2 4.9M170.3 96.3L95.8 52.1M39.1 99L112.5 51.7M30.2 89.1L104 43.3M104 43.3L178.8 86.1M28.5 78.4L103.8 33.1M103.8 33.1L179.9 75.4M26.8 67.4L103.6 22.5M103.6 22.5L181.1 64.4M25.1 55.9L103.4 11.6M103.4 11.6L182.4 52.9" stroke="#e0e0e0" stroke-width=".5" fill="none"/>
<path d="M23.2 43.9L103.1 .3M103.1 .3L183.7 41M104.1 46.9L103.1 .3M178.3 89.8L183.7 41M30.7 92.8L104.1 46.9M104.1 46.9L178.3 89.8" stroke="#959595" stroke-width=".5" fill="none"/>
<g class="s" transform="scale(.2)" style="--o:0.7;--w:2">
<path color=#ce0 d=M519,177l-7-5,7,1,8,5z />
<path color=#ad0 d=M527,184l-8-7,8,1,7,7z />
<path color=#be0 d=M572,208l-8-3-7-4-8-5-7-5-8-3-7-4,7,1,7,4,8,3,7,4,8,5,8,3,7,3z />
<path color=#ce0 d=M595,219l-8-4-7-3-8-4,7-1,8,3,8,5,7,5z />
<path color=#bd0 d=M611,224l-8-2-8-3,7,1,8,6,8,4z />
<path color=#dd0 d=M619,226l-8-2,7,6,8,3z />
<path color=#ed0 d=M627,228l-8-2,7,7,8,0z />
<path color=#eb0 d=M651,239l-8-3-8-4-8-4,7,5,8,3,8,3,8,3z />
<path color=#e90 d=M675,252l-8-4-8-6-8-3,7,3,8,4,8,5,8,5z />
<path color=#fa0 d=M683,255l-8-3,7,4,8,1z />
<path color=#e90 d=M700,267l-8-7-9-5,7,2,9,6,8,9z />
<path color=#eb0 d=M708,272l-8-5,7,5,8,7z />
<path color=#ed0 d=M716,280l-8-8,7,7,8,6z />
<path color=#dd0 d=M725,288l-9-8,7,5,8,6z />
<path color=#ef0 d=M733,290l-8-2,6,3,9,2z />
<path color=#fe0 d=M742,291l-9-1,7,3,9,1z />
<path color=#fd0 d=M768,306l-9-4-9-6-8-5,7,3,8,4,9,4,8,4z />
<path color=#eb0 d=M776,314l-8-8,6,0,9,9z />
<path color=#ed0 d=M785,322l-9-8,7,1,8,8z />
<path color=#dd0 d=M793,330l-8-8,6,1,9,6z />
<path color=#ce0 d=M802,339l-9-9,7-1,9,7z />
<path color=#be0 d=M810,344l-8-5,7-3,8,4z />
<path color=#ce0 d=M829,348l-9-3-10-1,7-4,9,5,9,4z />
<path color=#ef0 d=M838,351l-9-3,6,1,9,2z />
<path color=#fe0 d=M847,353l-9-2,6,0,10,2z />
<path color=#fd0 d=M893,379l-9-6-9-5-10-5-9-5-9-5,7,0,9,3,9,4,9,6,9,5,10,4z />
<path color=#ef0 d=M542,194l-8-4-7-3-8-4-7-4-8-5,8-2,7,5,8,7,7,4,8,3,7,5z />
<path color=#dd0 d=M549,200l-7-6,7,2,8,5z />
<path color=#ef0 d=M565,206l-8-2-8-4,8,1,7,4,8,3z />
<path color=#fe0 d=M580,211l-8-2-7-3,7,2,8,4,7,3z />
<path color=#eb0 d=M596,219l-8-4-8-4,7,4,8,4,8,3z />
<path color=#fa0 d=M611,222l-7-2-8-1,7,3,8,2,8,2z />
<path color=#f80 d=M619,227l-8-5,8,4,8,2z />
<path color=#f50 d=M652,241l-9-2-8-4-8-4-8-4,8,1,8,4,8,4,8,3,8,3z />
<path color=#f20 d=M693,265l-8-5-9-6-8-4-8-4-8-5,7,1,8,6,8,4,8,3,9,5,8,7z />
<path color=#e40 d=M709,278l-8-9-8-4,7,2,8,5,8,8z />
<path color=#e90 d=M718,285l-9-7,7,2,9,8z />
<path color=#fa0 d=M726,288l-8-3,7,3,8,2z />
<path color=#f80 d=M760,311l-8-7-9-6-8-7-9-3,7,2,9,1,8,5,9,6,9,4z />
<path color=#fa0 d=M769,317l-9-6,8-5,8,8z />
<path color=#fd0 d=M778,322l-9-5,7-3,9,8z />
<path color=#ed0 d=M786,331l-8-9,7,0,8,8z />
<path color=#dd0 d=M795,340l-9-9,7-1,9,9z />
<path color=#ce0 d=M804,343l-9-3,7-1,8,5z />
<path color=#ef0 d=M813,344l-9-1,6,1,10,1z />
<path color=#fe0 d=M822,348l-9-4,7,1,9,3z />
<path color=#fd0 d=M831,353l-9-5,7,0,9,3z />
<path color=#fa0 d=M886,382l-9-6-9-5-10-5-9-6-9-5-9-2,7-2,9,2,9,5,9,5,10,5,9,5,9,6z />
<path color=#fe0 d=M519,189l-7-3-8-3-7-4,7-5,8,5,7,4,8,4z />
<path color=#fd0 d=M557,206l-7-4-8-2-8-5-7-4-8-2,8-2,7,3,8,4,7,6,8,4,8,2z />
<path color=#fa0 d=M565,208l-8-2,8,0,7,3z />
<path color=#f80 d=M573,209l-8-1,7,1,8,2z />
<path color=#f50 d=M596,220l-8-1-8-7-7-3,7,2,8,4,8,4,8,1z />
<path color=#f20 d=M636,241l-8-4-8-5-8-5-8-5-8-2,8,0,7,2,8,5,8,4,8,4,8,4z />
<path color=#f10 d=M694,273l-8-6-9-4-8-6-8-5-8-4-9-5-8-2,7-2,9,2,8,5,8,4,8,4,9,6,8,5,8,4z />
<path color=#f20 d=M702,280l-8-7,7-4,8,9z />
<path color=#f50 d=M719,290l-8-4-9-6,7-2,9,7,8,3z />
<path color=#f20 d=M728,297l-9-7,7-2,9,3z />
<path color=#f50 d=M736,306l-8-9,7-6,8,7z />
<path color=#f80 d=M744,312l-8-6,7-8,9,6z />
<path color=#fa0 d=M779,332l-8-6-9-5-9-4-9-5,8-8,8,7,9,6,9,5,8,9z />
<path color=#eb0 d=M788,338l-9-6,7-1,9,9z />
<path color=#fd0 d=M797,341l-9-3,7,2,9,3z />
<path color=#fa0 d=M815,348l-9-4-9-3,7,2,9,1,9,4z />
<path color=#f80 d=M833,357l-9-4-9-5,7,0,9,5,9,2z />
<path color=#f50 d=M852,366l-9-6-10-3,7-2,9,5,9,6z />
<path color=#f80 d=M870,381l-9-7-9-8,6,0,10,5,9,5z />
<path color=#fa0 d=M879,388l-9-7,7-5,9,6z />
<path color=#fe0 d=M497,185l-7-4,7-2,7,4z />
<path color=#fd0 d=M512,191l-8-3-7-3,7-2,8,3,7,3z />
<path color=#fa0 d=M527,196l-8-3-7-2,7-2,8,2,7,4z />
<path color=#f80 d=M558,212l-8-4-8-5-7-3-8-4,7-1,8,5,8,2,7,4,8,2z />
<path color=#f50 d=M565,211l-7,1,7-4,8,1z />
<path color=#f10 d=M573,213l-8-2,8-2,7,3z />
<path color=#f20 d=M589,223l-8-2-8-8,7-1,8,7,8,1z />
<path color=#f10 d=M686,281l-8-7-8-4-8-7-9-4-8-5-8-9-8-2-8-3-8-6-8-5-8-4-8-2,7-3,8,2,8,5,8,5,8,5,8,4,8,2,9,5,8,4,8,5,8,6,9,4,8,6z />
<path color=#f20 d=M703,294l-8-7-9-6,8-8,8,7,9,6z />
<path color=#f50 d=M720,309l-8-9-9-6,8-8,8,4,9,7z />
<path color=#fa0 d=M755,324l-9-1-9-2-9-6-8-6,8-12,8,9,8,6,9,5,9,4z />
<path color=#f80 d=M790,341l-9-4-9-5-8-5-9-3,7-3,9,5,8,6,9,6,9,3z />
<path color=#f50 d=M817,354l-9-3-9-5-9-5,7,0,9,3,9,4,9,5z />
<path color=#f20 d=M845,369l-9-7-9-4-10-4,7-1,9,4,10,3,9,6z />
<path color=#f50 d=M854,378l-9-9,7-3,9,8z />
<path color=#f80 d=M862,389l-8-11,7-4,9,7z />
<path color=#fa0 d=M871,398l-9-9,8-8,9,7z />
<path color=#fa0 d=M504,192l-7-2-7-4-8-4,8-1,7,4,7,3,8,3z />
<path color=#f80 d=M512,193l-8-1,8-1,7,2z />
<path color=#f50 d=M550,212l-8-4-7-4-8-4-8-4-7-3,7,0,8,3,8,4,7,3,8,5,8,4z />
<path color=#f20 d=M558,213l-8-1,8,0,7-1z />
<path color=#f10 d=M646,268l-8-6-8-10-9-3-8-4-8-6-8-5-8-3-8-4-7-4-8-6-8-4,7-2,8,2,8,8,8,2,8,2,8,4,8,5,8,6,8,3,8,2,8,9,8,5z />
<path color=#f20 d=M662,282l-8-8-8-6,7-9,9,4,8,7z />
<path color=#f50 d=M679,293l-8-6-9-5,8-12,8,4,8,7z />
<path color=#f80 d=M696,308l-9-7-8-8,7-12,9,6,8,7z />
<path color=#fa0 d=M712,317l-8-5-8-4,7-14,9,6,8,9z />
<path color=#fd0 d=M730,323l-9-3-9-3,8-8,8,6,9,6z />
<path color=#fa0 d=M739,325l-9-2,7-2,9,2z />
<path color=#f80 d=M748,326l-9-1,7-2,9,1z />
<path color=#f50 d=M757,328l-9-2,7-2,9,3z />
<path color=#f20 d=M810,356l-9-2-9-3-9-5-9-6-9-7-8-5,7-1,8,5,9,5,9,4,9,5,9,5,9,3z />
<path color=#f10 d=M837,376l-9-9-9-7-9-4,7-2,10,4,9,4,9,7z />
<path color=#f50 d=M846,385l-9-9,8-7,9,9z />
<path color=#f80 d=M855,396l-9-11,8-7,8,11z />
<path color=#fd0 d=M864,405l-9-9,7-7,9,9z />
<path color=#f80 d=M497,196l-7-2-8-6-7-5,7-1,8,4,7,4,7,2z />
<path color=#f50 d=M504,197l-7-1,7-4,8,1z />
<path color=#f20 d=M527,206l-7-3-8-3-8-3,8-4,7,3,8,4,8,4z />
<path color=#f10 d=M606,255l-8-8-8-6-8-3-8-3-8-5-8-7-8-7-7-3-8-3-8-4,8-2,7,4,8,4,8,1,8,4,8,6,7,4,8,4,8,3,8,5,8,6z />
<path color=#f20 d=M630,274l-8-9-8-4-8-6,7-10,8,4,9,3,8,10z />
<path color=#f50 d=M638,281l-8-7,8-12,8,6z />
<path color=#f80 d=M646,288l-8-7,8-13,8,6z />
<path color=#fa0 d=M663,300l-8-5-9-7,8-14,8,8,9,5z />
<path color=#fd0 d=M680,309l-9-5-8-4,8-13,8,6,8,8z />
<path color=#fe0 d=M697,318l-9-3-8-6,7-8,9,7,8,4z />
<path color=#fd0 d=M705,319l-8-1,7-6,8,5z />
<path color=#fa0 d=M714,321l-9-2,7-2,9,3z />
<path color=#f80 d=M731,327l-8-4-9-2,7-1,9,3,9,2z />
<path color=#f50 d=M740,328l-9-1,8-2,9,1z />
<path color=#f10 d=M767,344l-9-8-9-5-9-3,8-2,9,2,8,5,9,7z />
<path color=#f20 d=M794,358l-9-4-9-4-9-6,7-4,9,6,9,5,9,3z />
<path color=#f10 d=M821,373l-9-7-9-4-9-4,7-4,9,2,9,4,9,7z />
<path color=#f20 d=M830,383l-9-10,7-6,9,9z />
<path color=#f50 d=M839,392l-9-9,7-7,9,9z />
<path color=#fa0 d=M848,400l-9-8,7-7,9,11z />
<path color=#fd0 d=M857,406l-9-6,7-4,9,9z />
<path color=#f80 d=M489,200l-7-3-8-5-7-6,8-3,7,5,8,6,7,2z />
<path color=#f50 d=M497,204l-8-4,8-4,7,1z />
<path color=#f20 d=M512,206l-8-1-7-1,7-7,8,3,8,3z />
<path color=#f10 d=M559,237l-8-10-8-6-8-2-8-4-7-5-8-4,8-3,7,3,8,4,8,3,7,3,8,7,8,7z />
<path color=#f20 d=M590,260l-8-7-8-5-8-4-7-7,7-7,8,5,8,3,8,3,8,6z />
<path color=#f50 d=M598,268l-8-8,8-13,8,8z />
<path color=#f80 d=M606,276l-8-8,8-13,8,6z />
<path color=#fa0 d=M623,287l-9-7-8-4,8-15,8,4,8,9z />
<path color=#fd0 d=M631,294l-8-7,7-13,8,7z />
<path color=#fe0 d=M672,311l-8-1-9-3-8-4-8-3-8-6,7-13,8,7,9,7,8,5,8,4,9,5z />
<path color=#fd0 d=M689,317l-8-4-9-2,8-2,8,6,9,3z />
<path color=#fa0 d=M698,319l-9-2,8,1,8,1z />
<path color=#f80 d=M707,320l-9-1,7,0,9,2z />
<path color=#f50 d=M715,324l-8-4,7,1,9,2z />
<path color=#f20 d=M733,333l-9-4-9-5,8-1,8,4,9,1z />
<path color=#f10 d=M759,351l-8-8-9-7-9-3,7-5,9,3,9,5,9,8z />
<path color=#f20 d=M777,359l-9-3-9-5,8-7,9,6,9,4z />
<path color=#f10 d=M814,381l-10-7-9-6-9-5-9-4,8-5,9,4,9,4,9,4,9,7z />
<path color=#f20 d=M822,389l-8-8,7-8,9,10z />
<path color=#f50 d=M831,398l-9-9,8-6,9,9z />
<path color=#f80 d=M841,403l-10-5,8-6,9,8z />
<path color=#fa0 d=M850,407l-9-4,7-3,9,6z />
<path color=#f50 d=M489,205l-7-3-8-4-7-5-8-4,8-3,7,6,8,5,7,3,8,4z />
<path color=#f20 d=M497,206l-8-1,8-1,7,1z />
<path color=#f10 d=M543,236l-8-7-7-3-8-5-8-6-8-6-7-3,7-1,8,1,8,4,7,5,8,4,8,2,8,6z />
<path color=#f20 d=M551,246l-8-10,8-9,8,10z />
<path color=#f80 d=M559,254l-8-8,8-9,7,7z />
<path color=#fa0 d=M583,274l-8-7-8-6-8-7,7-10,8,4,8,5,8,7z />
<path color=#fd0 d=M591,279l-8-5,7-14,8,8z />
<path color=#fe0 d=M615,293l-8-5-8-4-8-5,7-11,8,8,8,4,9,7z />
<path color=#ef0 d=M640,303l-9-1-8-3-8-6,8-6,8,7,8,6,8,3z />
<path color=#fe0 d=M648,306l-8-3,7,0,8,4z />
<path color=#fd0 d=M657,308l-9-2,7,1,9,3z />
<path color=#fa0 d=M665,310l-8-2,7,2,8,1z />
<path color=#f80 d=M674,312l-9-2,7,1,9,2z />
<path color=#f50 d=M691,318l-9-3-8-3,7,1,8,4,9,2z />
<path color=#f20 d=M699,321l-8-3,7,1,9,1z />
<path color=#f10 d=M743,349l-9-7-9-4-8-5-9-5-9-7,8-1,8,4,9,5,9,4,9,3,9,7z />
<path color=#f20 d=M770,365l-9-4-9-5-9-7,8-6,8,8,9,5,9,3z />
<path color=#f10 d=M797,383l-9-8-9-7-9-3,7-6,9,4,9,5,9,6z />
<path color=#f20 d=M806,390l-9-7,7-9,10,7z />
<path color=#f50 d=M815,397l-9-7,8-9,8,8z />
<path color=#f80 d=M843,411l-10-3-9-5-9-6,7-8,9,9,10,5,9,4z />
<path color=#f20 d=M482,207l-8-2-7-4-8-5-7-4,7-3,8,4,7,5,8,4,7,3z />
<path color=#f10 d=M520,232l-8-7-8-5-7-4-8-5-7-4,7-2,8,1,7,3,8,6,8,6,8,5z />
<path color=#f20 d=M536,246l-8-7-8-7,8-6,7,3,8,7z />
<path color=#f80 d=M544,255l-8-9,7-10,8,10z />
<path color=#fd0 d=M551,263l-7-8,7-9,8,8z />
<path color=#fe0 d=M559,271l-8-8,8-9,8,7z />
<path color=#ef0 d=M591,288l-8-3-8-2-8-4-8-8,8-10,8,6,8,7,8,5,8,5z />
<path color=#fe0 d=M624,299l-8-1-8-2-9-5-8-3,8-4,8,4,8,5,8,6,8,3z />
<path color=#fa0 d=M632,300l-8-1,7,3,9,1z />
<path color=#f80 d=M649,306l-8-3-9-3,8,3,8,3,9,2z />
<path color=#f50 d=M658,310l-9-4,8,2,8,2z />
<path color=#f20 d=M666,312l-8-2,7,0,9,2z />
<path color=#f10 d=M736,354l-9-5-9-4-9-6-8-8-9-7-9-4-8-4-9-4,8,0,8,3,9,3,8,3,9,7,9,5,8,5,9,4,9,7z />
<path color=#f20 d=M771,376l-9-3-9-4-9-8-8-7,7-5,9,7,9,5,9,4,9,3z />
<path color=#f10 d=M780,382l-9-6,8-8,9,7z />
<path color=#f20 d=M789,390l-9-8,8-7,9,8z />
<path color=#f50 d=M798,397l-9-7,8-7,9,7z />
<path color=#f80 d=M826,412l-9-5-10-4-9-6,8-7,9,7,9,6,9,5z />
<path color=#f50 d=M835,418l-9-6,7-4,10,3z />
<path color=#f20 d=M466,207l-7-2-7-4-8-4,8-5,7,4,8,5,7,4z />
<path color=#f10 d=M505,232l-8-6-8-4-7-5-8-6-8-4,8-2,8,2,7,4,8,5,7,4,8,5z />
<path color=#f20 d=M512,240l-7-8,7-7,8,7z />
<path color=#f50 d=M520,248l-8-8,8-8,8,7z />
<path color=#f80 d=M528,254l-8-6,8-9,8,7z />
<path color=#fa0 d=M536,262l-8-8,8-8,8,9z />
<path color=#fe0 d=M544,269l-8-7,8-7,7,8z />
<path color=#ef0 d=M552,276l-8-7,7-6,8,8z />
<path color=#ce0 d=M568,284l-8-2-8-6,7-5,8,8,8,4z />
<path color=#ef0 d=M576,286l-8-2,7-1,8,2z />
<path color=#fe0 d=M584,289l-8-3,7-1,8,3z />
<path color=#fd0 d=M608,298l-8-2-8-5-8-2,7-1,8,3,9,5,8,2z />
<path color=#f80 d=M617,299l-9-1,8,0,8,1z />
<path color=#f50 d=M625,300l-8-1,7,0,8,1z />
<path color=#f20 d=M633,304l-8-4,7,0,9,3z />
<path color=#f10 d=M728,360l-9-5-9-5-8-6-9-7-9-7-8-5-9-5-8-5-9-4-8-3-9-4,8-1,8,3,9,4,8,2,9,4,8,4,9,4,9,7,8,8,9,6,9,4,9,5z />
<path color=#f20 d=M737,369l-9-9,8-6,8,7z />
<path color=#f50 d=M782,399l-10-6-9-5-9-5-9-6-8-8,7-8,9,8,9,4,9,3,9,6,9,8z />
<path color=#f80 d=M800,407l-9-4-9-4,7-9,9,7,9,6z />
<path color=#f50 d=M828,425l-9-8-10-6-9-4,7-4,10,4,9,5,9,6z />
<path color=#f20 d=M451,208l-7-2-8-4,8-5,8,4,7,4z />
<path color=#f10 d=M474,223l-8-7-7-6-8-2,8-3,7,2,8,4,8,6z />
<path color=#f20 d=M489,235l-7-6-8-6,8-6,7,5,8,4z />
<path color=#f50 d=M497,242l-8-7,8-9,8,6z />
<path color=#f80 d=M505,251l-8-9,8-10,7,8z />
<path color=#fa0 d=M513,258l-8-7,7-11,8,8z />
<path color=#fd0 d=M528,268l-7-6-8-4,7-10,8,6,8,8z />
<path color=#fe0 d=M544,278l-8-5-8-5,8-6,8,7,8,7z />
<path color=#ef0 d=M552,281l-8-3,8-2,8,6z />
<path color=#fe0 d=M560,282l-8-1,8,1,8,2z />
<path color=#fd0 d=M568,285l-8-3,8,2,8,2z />
<path color=#fa0 d=M576,287l-8-2,8,1,8,3z />
<path color=#f80 d=M584,288l-8-1,8,2,8,2z />
<path color=#e40 d=M592,292l-8-4,8,3,8,5z />
<path color=#f50 d=M601,296l-9-4,8,4,8,2z />
<path color=#f20 d=M609,300l-8-4,7,2,9,1z />
<path color=#f10 d=M712,361l-9-6-9-5-9-5-8-7-9-6-8-5-9-6-8-7-9-4-8-4-9-3-8-3,8-1,8,1,8,4,9,4,8,3,9,4,8,5,9,5,8,5,9,7,9,7,8,6,9,5z />
<path color=#f20 d=M720,368l-8-7,7-6,9,5z />
<path color=#f50 d=M729,377l-9-9,8-8,9,9z />
<path color=#f80 d=M738,386l-9-9,8-8,8,8z />
<path color=#fa0 d=M774,407l-9-3-10-5-8-6-9-7,7-9,9,6,9,5,9,5,10,6z />
<path color=#f80 d=M783,409l-9-2,8-8,9,4z />
<path color=#f50 d=M820,430l-9-7-9-7-9-4-10-3,8-6,9,4,9,4,10,6,9,8z />
<path color=#f20 d=M436,208l-7-4,7-2,8,4z />
<path color=#f10 d=M466,229l-7-8-8-7-8-4-7-2,8-2,7,2,8,2,7,6,8,7z />
<path color=#f50 d=M482,244l-8-7-8-8,8-6,8,6,7,6z />
<path color=#f80 d=M490,252l-8-8,7-9,8,7z />
<path color=#fd0 d=M497,261l-7-9,7-10,8,9z />
<path color=#fe0 d=M536,279l-7-2-8-4-8-4-8-3-8-5,8-10,8,7,8,4,7,6,8,5,8,5z />
<path color=#fd0 d=M544,280l-8-1,8-1,8,3z />
<path color=#fa0 d=M552,282l-8-2,8,1,8,1z />
<path color=#f80 d=M560,286l-8-4,8,0,8,3z />
<path color=#f50 d=M568,287l-8-1,8-1,8,2z />
<path color=#f20 d=M577,288l-9-1,8,0,8,1z />
<path color=#f10 d=M669,347l-9-7-8-6-9-6-8-7-9-5-8-3-8-5-9-5-8-6-8-5-8-4,7,0,8,4,9,4,8,4,8,3,9,3,8,4,9,4,8,7,9,6,8,5,9,6z />
<path color=#f20 d=M704,371l-9-7-9-5-8-5-9-7,8-9,8,7,9,5,9,5,9,6z />
<path color=#f50 d=M712,378l-8-7,8-10,8,7z />
<path color=#f80 d=M721,386l-9-8,8-10,9,9z />
<path color=#fa0 d=M730,395l-9-9,8-9,9,9z />
<path color=#fd0 d=M766,413l-9-4-9-4-9-4-9-6,8-9,9,7,8,6,10,5,9,3z />
<path color=#fa0 d=M776,415l-10-2,8-6,9,2z />
<path color=#f50 d=M813,435l-9-7-10-7-9-4-9-2,7-6,10,3,9,4,9,7,9,7z />
<path color=#f10 d=M451,225l-8-7-7-5-8-2-7-4,8-3,7,4,7,2,8,4,8,7z />
<path color=#f20 d=M459,234l-8-9,8-4,7,8z />
<path color=#f50 d=M466,242l-7-8,7-5,8,8z />
<path color=#f80 d=M474,250l-8-8,8-5,8,7z />
<path color=#fa0 d=M482,258l-8-8,8-6,8,8z />
<path color=#fe0 d=M505,271l-8-2-7-4-8-7,8-6,7,9,8,5,8,3z />
<path color=#fd0 d=M521,278l-8-4-8-3,8-2,8,4,8,4z />
<path color=#fa0 d=M529,281l-8-3,8-1,7,2z />
<path color=#f80 d=M537,281l-8,0,7-2,8,1z />
<path color=#f50 d=M545,283l-8-2,7-1,8,2z />
<path color=#f20 d=M561,289l-8-2-8-4,7-1,8,4,8,1z />
<path color=#f10 d=M644,342l-8-8-9-5-8-6-9-4-8-5-8-6-9-7-8-6-8-4-8-2,7-2,9,1,8,4,8,5,8,6,9,5,8,5,8,3,9,5,8,7,9,6z />
<path color=#f20 d=M661,357l-8-8-9-7,8-8,8,6,9,7z />
<path color=#f50 d=M670,365l-9-8,8-10,9,7z />
<path color=#f80 d=M696,381l-9-5-9-5-8-6,8-11,8,5,9,5,9,7z />
<path color=#fa0 d=M713,396l-8-8-9-7,8-10,8,7,9,8z />
<path color=#fd0 d=M749,414l-9-5-9-5-9-4-9-4,8-10,9,9,9,6,9,4,9,4z />
<path color=#fa0 d=M759,418l-10-4,8-5,9,4z />
<path color=#f80 d=M768,419l-9-1,7-5,10,2z />
<path color=#f50 d=M778,420l-10-1,8-4,9,2z />
<path color=#f20 d=M796,432l-9-7-9-5,7-3,9,4,10,7z />
<path color=#f50 d=M805,440l-9-8,8-4,9,7z />
<path color=#f10 d=M443,232l-8-8-7-6-8-3-7-6,8-2,7,4,8,2,7,5,8,7z />
<path color=#f20 d=M451,240l-8-8,8-7,8,9z />
<path color=#f50 d=M459,249l-8-9,8-6,7,8z />
<path color=#fa0 d=M466,257l-7-8,7-7,8,8z />
<path color=#fd0 d=M482,267l-8-4-8-6,8-7,8,8,8,7z />
<path color=#fe0 d=M490,271l-8-4,8-2,7,4z />
<path color=#fd0 d=M497,274l-7-3,7-2,8,2z />
<path color=#fa0 d=M513,279l-8-3-8-2,8-3,8,3,8,4z />
<path color=#f80 d=M521,281l-8-2,8-1,8,3z />
<path color=#f50 d=M529,282l-8-1,8,0,8,0z />
<path color=#f20 d=M537,286l-8-4,8-1,8,2z />
<path color=#f10 d=M561,296l-8-3-8-2-8-5,8-3,8,4,8,2,8,2z />
<path color=#f00 d=M578,307l-9-7-8-4,8-5,8,4,8,6z />
<path color=#f10 d=M619,338l-8-7-9-7-8-6-8-4-8-7,7-6,9,7,8,6,8,5,9,4,8,6z />
<path color=#f20 d=M636,350l-8-6-9-6,8-9,9,5,8,8z />
<path color=#f50 d=M645,358l-9-8,8-8,9,7z />
<path color=#f80 d=M653,367l-8-9,8-9,8,8z />
<path color=#fa0 d=M671,379l-9-6-9-6,8-10,9,8,8,6z />
<path color=#fd0 d=M724,407l-9-3-9-2-9-6-9-6-9-6-8-5,7-8,9,5,9,5,9,7,8,8,9,4,9,4z />
<path color=#fa0 d=M751,423l-9-5-9-7-9-4,7-3,9,5,9,5,10,4z />
<path color=#f80 d=M760,424l-9-1,8-5,9,1z />
<path color=#f20 d=M770,425l-10-1,8-5,10,1z />
<path color=#f10 d=M779,429l-9-4,8-5,9,5z />
<path color=#f20 d=M798,445l-9-8-10-8,8-4,9,7,9,8z />
<path color=#f10 d=M435,238l-7-6-8-6-7-5-8-6,8-6,7,6,8,3,7,6,8,8z />
<path color=#f20 d=M443,246l-8-8,8-6,8,8z />
<path color=#f80 d=M451,255l-8-9,8-6,8,9z />
<path color=#fa0 d=M459,263l-8-8,8-6,7,8z />
<path color=#fd0 d=M474,270l-8-1-7-6,7-6,8,6,8,4z />
<path color=#fa0 d=M489,275l-7-3-8-2,8-3,8,4,7,3z />
<path color=#f80 d=M497,276l-8-1,8-1,8,2z />
<path color=#f50 d=M505,280l-8-4,8,0,8,3z />
<path color=#f20 d=M513,281l-8-1,8-1,8,2z />
<path color=#f10 d=M595,332l-9-7-8-5-8-5-9-7-8-6-8-4-8-3-8-6-8-6-8-2,8,0,8,1,8,4,8,5,8,2,8,3,8,4,9,7,8,7,8,4,8,6z />
<path color=#f20 d=M603,340l-8-8,7-8,9,7z />
<path color=#f50 d=M628,359l-8-5-9-7-8-7,8-9,8,7,9,6,8,6z />
<path color=#f80 d=M637,367l-9-8,8-9,9,8z />
<path color=#fa0 d=M645,375l-8-8,8-9,8,9z />
<path color=#fd0 d=M707,406l-9-2-9-3-9-4-9-5-8-7-9-5-9-5,8-8,9,6,9,6,8,5,9,6,9,6,9,6,9,2z />
<path color=#fa0 d=M716,410l-9-4,8-2,9,3z />
<path color=#f80 d=M744,424l-10-4-9-6-9-4,8-3,9,4,9,7,9,5z />
<path color=#f50 d=M753,427l-9-3,7-1,9,1z />
<path color=#f20 d=M762,430l-9-3,7-3,10,1z />
<path color=#f10 d=M781,442l-9-7-10-5,8-5,9,4,10,8z />
<path color=#f20 d=M790,449l-9-7,8-5,9,8z />
<path color=#f10 d=M420,238l-8-7-7-6-8-4,8-6,8,6,7,5,8,6z />
<path color=#f20 d=M428,244l-8-6,8-6,7,6z />
<path color=#f50 d=M435,252l-7-8,7-6,8,8z />
<path color=#f80 d=M443,259l-8-7,8-6,8,9z />
<path color=#fa0 d=M451,265l-8-6,8-4,8,8z />
<path color=#fd0 d=M458,269l-7-4,8-2,7,6z />
<path color=#fa0 d=M466,271l-8-2,8,0,8,1z />
<path color=#f80 d=M474,271l-8,0,8-1,8,2z />
<path color=#f50 d=M481,273l-7-2,8,1,7,3z />
<path color=#f20 d=M489,275l-8-2,8,2,8,1z />
<path color=#f10 d=M578,334l-8-8-8-6-8-5-9-6-8-7-8-4-8-6-8-5-8-2-8-4-8-6,8,1,8,4,8,1,8,2,8,6,8,6,8,3,8,4,8,6,9,7,8,5,8,5z />
<path color=#f20 d=M587,341l-9-7,8-9,9,7z />
<path color=#f50 d=M595,348l-8-7,8-9,8,8z />
<path color=#f80 d=M612,361l-8-7-9-6,8-8,8,7,9,7z />
<path color=#fa0 d=M629,375l-8-7-9-7,8-7,8,5,9,8z />
<path color=#fd0 d=M681,403l-8-2-9-6-9-5-9-4-8-4-9-7,8-8,8,8,9,5,9,5,8,7,9,5,9,4z />
<path color=#fa0 d=M690,405l-9-2,8-2,9,3z />
<path color=#f80 d=M700,407l-10-2,8-1,9,2z />
<path color=#f50 d=M736,427l-9-5-9-3-9-6-9-6,7-1,9,4,9,4,9,6,10,4z />
<path color=#f20 d=M745,431l-9-4,8-3,9,3z />
<path color=#f10 d=M783,454l-10-7-9-6-9-6-10-4,8-4,9,3,10,5,9,7,9,7z />
<path color=#f10 d=M412,243l-8-7-7-5-8-5,8-5,8,4,7,6,8,7z />
<path color=#f20 d=M420,251l-8-8,8-5,8,6z />
<path color=#f50 d=M427,258l-7-7,8-7,7,8z />
<path color=#f80 d=M435,264l-8-6,8-6,8,7z />
<path color=#fa0 d=M443,268l-8-4,8-5,8,6z />
<path color=#f80 d=M458,273l-8-3-7-2,8-3,7,4,8,2z />
<path color=#f50 d=M466,275l-8-2,8-2,8,0z />
<path color=#f20 d=M473,277l-7-2,8-4,7,2z />
<path color=#f10 d=M554,329l-8-5-8-7-9-7-8-5-8-7-8-6-8-4-8-4-8-5-8-2,8-4,8,2,8,6,8,4,8,2,8,5,8,6,8,4,8,7,9,6,8,5z />
<path color=#f20 d=M562,336l-8-7,8-9,8,6z />
<path color=#f50 d=M571,344l-9-8,8-10,8,8z />
<path color=#f80 d=M596,361l-9-4-8-6-8-7,7-10,9,7,8,7,9,6z />
<path color=#fa0 d=M613,374l-9-6-8-7,8-7,8,7,9,7z />
<path color=#fd0 d=M621,381l-8-7,8-6,8,7z />
<path color=#fe0 d=M638,392l-8-4-9-7,8-6,9,7,8,4z />
<path color=#fd0 d=M647,394l-9-2,8-6,9,4z />
<path color=#fa0 d=M665,400l-9-4-9-2,8-4,9,5,9,6z />
<path color=#f80 d=M674,403l-9-3,8,1,8,2z />
<path color=#f50 d=M692,411l-9-4-9-4,7,0,9,2,10,2z />
<path color=#f20 d=M737,438l-9-5-9-7-9-4-9-6-9-5,8-4,9,6,9,6,9,3,9,5,9,4z />
<path color=#f10 d=M775,458l-10-6-9-3-9-6-10-5,8-7,10,4,9,6,9,6,10,7z />
<path color=#f10 d=M396,242l-7-4-8-7,8-5,8,5,7,5z />
<path color=#f20 d=M404,249l-8-7,8-6,8,7z />
<path color=#f50 d=M412,257l-8-8,8-6,8,8z />
<path color=#f80 d=M435,269l-8-1-7-4-8-7,8-6,7,7,8,6,8,4z />
<path color=#f50 d=M442,271l-7-2,8-1,7,2z />
<path color=#f20 d=M458,278l-8-3-8-4,8-1,8,3,8,2z />
<path color=#f10 d=M521,319l-8-6-8-7-8-7-8-5-8-4-8-3-8-4-7-5,8-3,7,2,8,2,8,5,8,4,8,4,8,6,8,7,8,5z />
<path color=#f20 d=M530,327l-9-8,8-9,9,7z />
<path color=#f50 d=M554,345l-8-5-8-6-8-7,8-10,8,7,8,5,8,7z />
<path color=#f80 d=M563,351l-9-6,8-9,9,8z />
<path color=#fa0 d=M596,374l-8-6-9-5-8-5-8-7,8-7,8,7,8,6,9,4,8,7z />
<path color=#fd0 d=M613,386l-8-7-9-5,8-6,9,6,8,7z />
<path color=#fe0 d=M622,393l-9-7,8-5,9,7z />
<path color=#fd0 d=M631,395l-9-2,8-5,8,4z />
<path color=#fa0 d=M639,397l-8-2,7-3,9,2z />
<path color=#f80 d=M648,399l-9-2,8-3,9,2z />
<path color=#f50 d=M657,401l-9-2,8-3,9,4z />
<path color=#f20 d=M748,456l-9-4-10-7-9-7-9-7-9-4-9-6-9-7-9-5-9-5-9-3,8-1,9,3,9,4,9,4,9,5,9,6,9,4,9,7,9,5,10,5,9,6z />
<path color=#f10 d=M767,466l-9-6-10-4,8-7,9,3,10,6z />
<path color=#f10 d=M381,244l-8-9,8-4,8,7z />
<path color=#f20 d=M396,255l-7-6-8-5,8-6,7,4,8,7z />
<path color=#f50 d=M404,262l-8-7,8-6,8,8z />
<path color=#f80 d=M419,270l-7-1-8-7,8-5,8,7,7,4z />
<path color=#f50 d=M426,270l-7,0,8-2,8,1z />
<path color=#f20 d=M434,273l-8-3,9-1,7,2z />
<path color=#f10 d=M497,316l-8-6-8-7-8-7-8-5-8-5-8-7-7-2-8-4,8-2,8,4,8,3,7,5,8,4,8,3,8,4,8,5,8,7z />
<path color=#f20 d=M505,323l-8-7,8-10,8,7z />
<path color=#f50 d=M522,337l-8-8-9-6,8-10,8,6,9,8z />
<path color=#f80 d=M530,344l-8-7,8-10,8,7z />
<path color=#fa0 d=M563,365l-8-6-9-4-8-5-8-6,8-10,8,6,8,5,9,6,8,7z />
<path color=#fd0 d=M571,369l-8-4,8-7,8,5z />
<path color=#fa0 d=M605,388l-8-6-9-4-8-5-9-4,8-6,9,5,8,6,9,5,8,7z />
<path color=#fd0 d=M614,393l-9-5,8-2,9,7z />
<path color=#fa0 d=M623,394l-9-1,8,0,9,2z />
<path color=#f80 d=M632,399l-9-5,8,1,8,2z />
<path color=#f50 d=M640,400l-8-1,7-2,9,2z />
<path color=#f20 d=M649,403l-9-3,8-1,9,2z />
<path color=#f10 d=M703,438l-9-6-9-7-9-8-9-6-9-4-9-4,8-2,9,3,9,5,9,5,9,7,9,6,9,4z />
<path color=#f20 d=M721,453l-9-8-9-7,8-7,9,7,9,7z />
<path color=#f50 d=M740,464l-9-5-10-6,8-8,10,7,9,4z />
<path color=#f20 d=M759,475l-10-6-9-5,8-8,10,4,9,6z />
<path color=#f10 d=M373,249l-8-8,8-6,8,9z />
<path color=#f20 d=M381,257l-8-8,8-5,8,5z />
<path color=#f50 d=M388,263l-7-6,8-8,7,6z />
<path color=#f80 d=M403,270l-7-2-8-5,8-8,8,7,8,7z />
<path color=#f50 d=M411,271l-8-1,9-1,7,1z />
<path color=#f20 d=M418,273l-7-2,8-1,7,0z />
<path color=#f10 d=M473,311l-8-9-8-6-8-6-8-6-7-3-8-4-8-4,8-3,8,3,8,4,7,2,8,7,8,5,8,5,8,7z />
<path color=#f20 d=M481,319l-8-8,8-8,8,7z />
<path color=#f50 d=M489,326l-8-7,8-9,8,6z />
<path color=#f80 d=M506,338l-8-7-9-5,8-10,8,7,9,6z />
<path color=#fa0 d=M514,346l-8-8,8-9,8,8z />
<path color=#fd0 d=M530,359l-8-7-8-6,8-9,8,7,8,6z />
<path color=#fe0 d=M539,363l-9-4,8-9,8,5z />
<path color=#fd0 d=M563,375l-8-2-8-6-8-4,7-8,9,4,8,6,8,4z />
<path color=#fa0 d=M580,380l-8-2-9-3,8-6,9,4,8,5z />
<path color=#f80 d=M606,391l-8-3-9-5-9-3,8-2,9,4,8,6,9,5z />
<path color=#f50 d=M615,394l-9-3,8,2,9,1z />
<path color=#f20 d=M632,404l-8-3-9-7,8,0,9,5,8,1z />
<path color=#f10 d=M686,439l-9-8-9-7-9-8-9-5-9-4-9-3,8-4,9,3,9,4,9,4,9,6,9,8,9,7z />
<path color=#f20 d=M704,455l-9-8-9-8,8-7,9,6,9,7z />
<path color=#f50 d=M713,464l-9-9,8-10,9,8z />
<path color=#f80 d=M732,474l-9-5-10-5,8-11,10,6,9,5z />
<path color=#f50 d=M751,481l-10-3-9-4,8-10,9,5,10,6z />
<path color=#f20 d=M365,255l-8-7,8-7,8,8z />
<path color=#f50 d=M373,263l-8-8,8-6,8,8z />
<path color=#f80 d=M388,271l-8-2-7-6,8-6,7,6,8,5z />
<path color=#f50 d=M395,272l-7-1,8-3,7,2z />
<path color=#f20 d=M403,273l-8-1,8-2,8,1z />
<path color=#f10 d=M457,310l-8-7-8-6-8-5-7-4-8-7-8-6-7-2,8-2,7,2,8,4,8,4,7,3,8,6,8,6,8,6z />
<path color=#f20 d=M465,317l-8-7,8-8,8,9z />
<path color=#f50 d=M473,325l-8-8,8-6,8,8z />
<path color=#f80 d=M481,333l-8-8,8-6,8,7z />
<path color=#fa0 d=M498,345l-8-7-9-5,8-7,9,5,8,7z />
<path color=#fd0 d=M506,352l-8-7,8-7,8,8z />
<path color=#fe0 d=M530,367l-8-3-8-6-8-6,8-6,8,6,8,7,9,4z />
<path color=#fd0 d=M547,375l-8-5-9-3,9-4,8,4,8,6z />
<path color=#fa0 d=M555,376l-8-1,8-2,8,2z />
<path color=#f80 d=M572,382l-8-3-9-3,8-1,9,3,8,2z />
<path color=#f50 d=M581,386l-9-4,8-2,9,3z />
<path color=#f20 d=M598,391l-8-2-9-3,8-3,9,5,8,3z />
<path color=#f10 d=M642,416l-9-4-9-3-8-6-9-7-9-5,8,0,9,3,9,7,8,3,9,3,9,4z />
<path color=#f00 d=M651,422l-9-6,8-5,9,5z />
<path color=#f10 d=M669,439l-9-7-9-10,8-6,9,8,9,7z />
<path color=#f20 d=M687,455l-9-8-9-8,8-8,9,8,9,8z />
<path color=#f50 d=M696,463l-9-8,8-8,9,8z />
<path color=#f80 d=M705,472l-9-9,8-8,9,9z />
<path color=#fa0 d=M724,484l-10-5-9-7,8-8,10,5,9,5z />
<path color=#f80 d=M733,487l-9-3,8-10,9,4z />
<path color=#f50 d=M743,488l-10-1,8-9,10,3z />
<path color=#f20 d=M357,261l-8-8,8-5,8,7z />
<path color=#f50 d=M365,268l-8-7,8-6,8,8z />
<path color=#f80 d=M372,272l-7-4,8-5,7,6z />
<path color=#f50 d=M379,274l-7-2,8-3,8,2z />
<path color=#f20 d=M387,275l-8-1,9-3,7,1z />
<path color=#f10 d=M441,310l-8-6-8-5-7-6-8-8-8-5-8-4-7-1,8-3,8,1,7,2,8,6,8,7,7,4,8,5,8,6z />
<path color=#f20 d=M449,316l-8-6,8-7,8,7z />
<path color=#f50 d=M457,324l-8-8,8-6,8,7z />
<path color=#f80 d=M465,333l-8-9,8-7,8,8z />
<path color=#fa0 d=M490,350l-9-6-8-4-8-7,8-8,8,8,9,5,8,7z />
<path color=#fd0 d=M506,362l-8-6-8-6,8-5,8,7,8,6z />
<path color=#fe0 d=M514,367l-8-5,8-4,8,6z />
<path color=#fd0 d=M522,369l-8-2,8-3,8,3z />
<path color=#fa0 d=M539,373l-8-2-9-2,8-2,9,3,8,5z />
<path color=#f80 d=M547,375l-8-2,8,2,8,1z />
<path color=#f50 d=M556,379l-9-4,8,1,9,3z />
<path color=#f20 d=M564,384l-8-5,8,0,8,3z />
<path color=#f10 d=M661,446l-9-8-9-9-9-6-9-6-9-4-8-6-9-7-9-6-9-3-8-3-9-4,8-2,9,4,9,3,8,2,9,5,9,7,8,6,9,3,9,4,9,6,9,10,9,7z />
<path color=#f20 d=M670,453l-9-7,8-7,9,8z />
<path color=#f50 d=M679,462l-9-9,8-6,9,8z />
<path color=#f80 d=M688,470l-9-8,8-7,9,8z />
<path color=#fa0 d=M697,479l-9-9,8-7,9,9z />
<path color=#fd0 d=M725,497l-9-4-10-5-9-9,8-7,9,7,10,5,9,3z />
<path color=#fa0 d=M735,500l-10-3,8-10,10,1z />
<path color=#f50 d=M349,267l-8-7,8-7,8,8z />
<path color=#f80 d=M364,275l-8-2-7-6,8-6,8,7,7,4z />
<path color=#f50 d=M371,277l-7-2,8-3,7,2z />
<path color=#f20 d=M379,279l-8-2,8-3,8,1z />
<path color=#f10 d=M417,306l-8-6-7-8-8-5-8-6-7-2,8-4,7,1,8,4,8,5,8,8,7,6z />
<path color=#f20 d=M441,323l-8-6-8-5-8-6,8-7,8,5,8,6,8,6z />
<path color=#f50 d=M449,332l-8-9,8-7,8,8z />
<path color=#fa0 d=M457,341l-8-9,8-8,8,9z />
<path color=#fd0 d=M481,355l-8-3-8-5-8-6,8-8,8,7,8,4,9,6z />
<path color=#fa0 d=M514,370l-8-4-8-5-9-4-8-2,9-5,8,6,8,6,8,5,8,2z />
<path color=#f80 d=M522,371l-8-1,8-1,9,2z />
<path color=#f20 d=M539,377l-8-4-9-2,9,0,8,2,8,2z />
<path color=#f10 d=M573,394l-8-4-9-4-8-4-9-5,8-2,9,4,8,5,9,4,8,3z />
<path color=#f00 d=M599,411l-8-6-9-5-9-6,8-3,9,3,9,6,9,7z />
<path color=#f10 d=M644,444l-9-8-9-6-9-6-9-6-9-7,9-4,8,6,9,4,9,6,9,6,9,9z />
<path color=#f20 d=M653,454l-9-10,8-6,9,8z />
<path color=#f50 d=M662,461l-9-7,8-8,9,7z />
<path color=#f80 d=M680,478l-9-8-9-9,8-8,9,9,9,8z />
<path color=#fa0 d=M689,485l-9-7,8-8,9,9z />
<path color=#fd0 d=M726,509l-9-6-9-5-10-6-9-7,8-6,9,9,10,5,9,4,10,3z />
<path color=#f80 d=M348,278l-7-4-8-5,8-9,8,7,7,6z />
<path color=#f50 d=M356,280l-8-2,8-5,8,2z />
<path color=#f20 d=M363,281l-7-1,8-5,7,2z />
<path color=#f10 d=M401,307l-8-8-8-8-7-5-8-3-7-2,8-4,8,2,7,2,8,6,8,5,7,8z />
<path color=#f20 d=M417,319l-8-6-8-6,8-7,8,6,8,6z />
<path color=#f50 d=M425,326l-8-7,8-7,8,5z />
<path color=#f80 d=M433,334l-8-8,8-9,8,6z />
<path color=#fa0 d=M441,342l-8-8,8-11,8,9z />
<path color=#fd0 d=M473,360l-8-3-8-5-8-4-8-6,8-10,8,9,8,6,8,5,8,3z />
<path color=#fa0 d=M481,359l-8,1,8-5,8,2z />
<path color=#f50 d=M506,371l-8-4-9-5-8-3,8-2,9,4,8,5,8,4z />
<path color=#f20 d=M514,372l-8-1,8-1,8,1z />
<path color=#f10 d=M548,390l-9-5-8-4-9-5-8-4,8-1,9,2,8,4,9,5,8,4z />
<path color=#f00 d=M591,417l-9-5-8-5-9-8-9-4-8-5,8-4,9,4,8,4,9,6,9,5,8,6z />
<path color=#f10 d=M627,447l-9-7-9-7-9-8-9-8,8-6,9,7,9,6,9,6,9,6z />
<path color=#f20 d=M636,455l-9-8,8-11,9,8z />
<path color=#f50 d=M645,465l-9-10,8-11,9,10z />
<path color=#f80 d=M654,472l-9-7,8-11,9,7z />
<path color=#fa0 d=M672,486l-9-6-9-8,8-11,9,9,9,8z />
<path color=#fd0 d=M700,500l-10-4-9-5-9-5,8-8,9,7,9,7,10,6z />
<path color=#fa0 d=M718,512l-9-7-9-5,8-2,9,5,9,6z />
<path color=#f80 d=M340,281l-7-3-8-5,8-4,8,5,7,4z />
<path color=#f50 d=M347,282l-7-1,8-3,8,2z />
<path color=#f20 d=M354,284l-7-2,9-2,7,1z />
<path color=#f10 d=M385,308l-8-10-7-6-8-4-8-4,9-3,7,2,8,3,7,5,8,8z />
<path color=#f20 d=M393,315l-8-7,8-9,8,8z />
<path color=#f50 d=M409,327l-8-6-8-6,8-8,8,6,8,6z />
<path color=#f80 d=M417,336l-8-9,8-8,8,7z />
<path color=#fa0 d=M425,343l-8-7,8-10,8,8z />
<path color=#fd0 d=M433,350l-8-7,8-9,8,8z />
<path color=#fe0 d=M441,354l-8-4,8-8,8,6z />
<path color=#fd0 d=M457,360l-8-5-8-1,8-6,8,4,8,5z />
<path color=#fa0 d=M465,362l-8-2,8-3,8,3z />
<path color=#f80 d=M473,362l-8,0,8-2,8-1z />
<path color=#f20 d=M489,370l-8-5-8-3,8-3,8,3,9,5z />
<path color=#f10 d=M523,385l-9-5-8-5-9-2-8-3,9-3,8,4,8,1,8,4,9,5z />
<path color=#f00 d=M557,408l-9-6-8-7-9-5-8-5,8-4,8,4,9,5,8,5,9,4z />
<path color=#f10 d=M601,441l-9-9-9-7-9-4-9-6-8-7,8-9,9,8,8,5,9,5,9,8,9,8z />
<path color=#f20 d=M609,449l-8-8,8-8,9,7z />
<path color=#f50 d=M618,459l-9-10,9-9,9,7z />
<path color=#f80 d=M627,466l-9-7,9-12,9,8z />
<path color=#fa0 d=M636,475l-9-9,9-11,9,10z />
<path color=#fd0 d=M645,484l-9-9,9-10,9,7z />
<path color=#fe0 d=M663,496l-9-4-9-8,9-12,9,8,9,6z />
<path color=#fd0 d=M682,502l-9-2-10-4,9-10,9,5,9,5z />
<path color=#fa0 d=M692,504l-10-2,8-6,10,4z />
<path color=#f80 d=M710,518l-9-9-9-5,8-4,9,5,9,7z />
<path color=#f80 d=M324,282l-7-3,8-6,8,5z />
<path color=#f50 d=M331,284l-7-2,9-4,7,3z />
<path color=#f20 d=M339,285l-8-1,9-3,7,1z />
<path color=#f10 d=M369,305l-8-7-7-6-8-4-7-3,8-3,7,2,8,4,8,4,7,6z />
<path color=#f20 d=M377,314l-8-9,8-7,8,10z />
<path color=#f50 d=M385,322l-8-8,8-6,8,7z />
<path color=#f80 d=M401,336l-8-8-8-6,8-7,8,6,8,6z />
<path color=#fa0 d=M409,343l-8-7,8-9,8,9z />
<path color=#fd0 d=M417,348l-8-5,8-7,8,7z />
<path color=#fe0 d=M433,358l-8-4-8-6,8-5,8,7,8,4z />
<path color=#fd0 d=M440,359l-7-1,8-4,8,1z />
<path color=#fa0 d=M448,362l-8-3,9-4,8,5z />
<path color=#f80 d=M456,364l-8-2,9-2,8,2z />
<path color=#f50 d=M464,365l-8-1,9-2,8,0z />
<path color=#f20 d=M473,369l-9-4,9-3,8,3z />
<path color=#f10 d=M497,379l-8-3-8-3-8-4,8-4,8,5,8,3,9,2z />
<path color=#f00 d=M540,409l-9-8-8-4-9-5-8-6-9-7,9-4,8,5,9,5,8,5,9,5,8,7z />
<path color=#f10 d=M583,443l-8-6-9-7-9-6-8-8-9-7,8-7,9,6,8,7,9,6,9,4,9,7z />
<path color=#f20 d=M592,450l-9-7,9-11,9,9z />
<path color=#f50 d=M601,458l-9-8,9-9,8,8z />
<path color=#f80 d=M610,468l-9-10,8-9,9,10z />
<path color=#fa0 d=M619,476l-9-8,8-9,9,7z />
<path color=#fd0 d=M628,484l-9-8,8-10,9,9z />
<path color=#fe0 d=M637,494l-9-10,8-9,9,9z />
<path color=#ef0 d=M655,504l-9-2-9-8,8-10,9,8,9,4z />
<path color=#fe0 d=M665,506l-10-2,8-8,10,4z />
<path color=#fd0 d=M674,507l-9-1,8-6,9,2z />
<path color=#f80 d=M683,509l-9-2,8-5,10,2z />
<path color=#f50 d=M693,515l-10-6,9-5,9,5z />
<path color=#f80 d=M702,522l-9-7,8-6,9,9z />
<path color=#f80 d=M316,287l-7-2,8-6,7,3z />
<path color=#f50 d=M323,288l-7-1,8-5,7,2z />
<path color=#f20 d=M330,290l-7-2,8-4,8,1z />
<path color=#f10 d=M361,310l-8-5-8-6-7-5-8-4,9-5,7,3,8,4,7,6,8,7z />
<path color=#f20 d=M369,319l-8-9,8-5,8,9z />
<path color=#f50 d=M377,328l-8-9,8-5,8,8z />
<path color=#f80 d=M385,335l-8-7,8-6,8,6z />
<path color=#fa0 d=M393,342l-8-7,8-7,8,8z />
<path color=#fd0 d=M424,359l-8-2-8-4-7-4-8-7,8-6,8,7,8,5,8,6,8,4z />
<path color=#fa0 d=M432,360l-8-1,9-1,7,1z />
<path color=#f80 d=M440,363l-8-3,8-1,8,3z />
<path color=#f50 d=M448,366l-8-3,8-1,8,2z />
<path color=#f10 d=M481,381l-9-3-8-6-8-4-8-2,8-2,8,1,9,4,8,4,8,3z />
<path color=#f00 d=M497,393l-8-8-8-4,8-5,8,3,9,7z />
<path color=#f10 d=M540,425l-8-9-9-7-9-4-8-5-9-7,9-7,8,6,9,5,8,4,9,8,9,7z />
<path color=#f20 d=M558,439l-9-7-9-7,9-9,8,8,9,6z />
<path color=#f50 d=M584,460l-9-7-9-7-8-7,8-9,9,7,8,6,9,7z />
<path color=#f80 d=M593,467l-9-7,8-10,9,8z />
<path color=#fa0 d=M602,477l-9-10,8-9,9,10z />
<path color=#fd0 d=M611,485l-9-8,8-9,9,8z />
<path color=#fe0 d=M620,492l-9-7,8-9,9,8z />
<path color=#ef0 d=M629,502l-9-10,8-8,9,10z />
<path color=#ce0 d=M647,508l-9,1-9-7,8-8,9,8,9,2z />
<path color=#fe0 d=M656,507l-9,1,8-4,10,2z />
<path color=#fa0 d=M666,508l-10-1,9-1,9,1z />
<path color=#f50 d=M694,523l-9-6-10-5-9-4,8-1,9,2,10,6,9,7z />
<path color=#f80 d=M307,290l-7,0,9-5,7,2z />
<path color=#f20 d=M314,291l-7-1,9-3,7,1z />
<path color=#f10 d=M337,307l-8-8-7-4-8-4,9-3,7,2,8,4,7,5z />
<path color=#f20 d=M353,320l-8-5-8-8,8-8,8,6,8,5z />
<path color=#f50 d=M361,327l-8-7,8-10,8,9z />
<path color=#f80 d=M369,335l-8-8,8-8,8,9z />
<path color=#fa0 d=M377,342l-8-7,8-7,8,7z />
<path color=#fd0 d=M400,356l-8-2-8-6-7-6,8-7,8,7,8,7,7,4z />
<path color=#fa0 d=M408,356l-8,0,8-3,8,4z />
<path color=#f80 d=M415,358l-7-2,8,1,8,2z />
<path color=#f50 d=M423,361l-8-3,9,1,8,1z />
<path color=#f20 d=M431,364l-8-3,9-1,8,3z />
<path color=#f10 d=M472,387l-8-4-8-5-9-6-8-5-8-3,9-1,8,3,8,2,8,4,8,6,9,3z />
<path color=#f00 d=M481,393l-9-6,9-6,8,4z />
<path color=#f10 d=M523,427l-8-7-9-4-8-7-9-8-8-8,8-8,8,8,9,7,8,5,9,4,9,7z />
<path color=#f20 d=M541,440l-9-6-9-7,9-11,8,9,9,7z />
<path color=#f50 d=M549,448l-8-8,8-8,9,7z />
<path color=#f80 d=M567,463l-9-7-9-8,9-9,8,7,9,7z />
<path color=#fa0 d=M585,477l-9-7-9-7,8-10,9,7,9,7z />
<path color=#fd0 d=M593,486l-8-9,8-10,9,10z />
<path color=#fe0 d=M602,494l-9-8,9-9,9,8z />
<path color=#ef0 d=M611,501l-9-7,9-9,9,7z />
<path color=#ce0 d=M630,513l-10-5-9-7,9-9,9,10,9,7z />
<path color=#ef0 d=M639,510l-9,3,8-4,9-1z />
<path color=#fa0 d=M648,508l-9,2,8-2,9-1z />
<path color=#f50 d=M658,511l-10-3,8-1,10,1z />
<path color=#f20 d=M677,521l-10-5-9-5,8-3,9,4,10,5z />
<path color=#f10 d=M686,527l-9-6,8-4,9,6z />
<path color=#f50 d=M299,293l-7,0,8-3,7,0z />
<path color=#f20 d=M306,295l-7-2,8-3,7,1z />
<path color=#f10 d=M329,312l-8-7-8-5-7-5,8-4,8,4,7,4,8,8z />
<path color=#f50 d=M337,324l-8-12,8-5,8,8z />
<path color=#f80 d=M353,337l-8-6-8-7,8-9,8,5,8,7z />
<path color=#fa0 d=M360,343l-7-6,8-10,8,8z />
<path color=#fd0 d=M384,356l-8-4-8-4-8-5,9-8,8,7,7,6,8,6z />
<path color=#fa0 d=M391,356l-7,0,8-2,8,2z />
<path color=#f80 d=M399,357l-8-1,9,0,8,0z />
<path color=#f20 d=M407,360l-8-3,9-1,7,2z />
<path color=#f10 d=M481,409l-9-9-8-7-8-4-9-5-8-5-8-6-8-4-8-4-8-5,8-2,8,3,8,3,8,3,8,5,9,6,8,5,8,4,9,6,8,8z />
<path color=#f20 d=M506,429l-8-7-9-7-8-6,8-8,9,8,8,7,9,4z />
<path color=#f50 d=M524,443l-9-6-9-8,9-9,8,7,9,7z />
<path color=#f80 d=M541,460l-9-10-8-7,8-9,9,6,8,8z />
<path color=#fd0 d=M559,476l-9-7-9-9,8-12,9,8,9,7z />
<path color=#fe0 d=M585,494l-9-8-9-5-8-5,8-13,9,7,9,7,8,9z />
<path color=#ef0 d=M594,501l-9-7,8-8,9,8z />
<path color=#ce0 d=M612,512l-9-6-9-5,8-7,9,7,9,7z />
<path color=#ef0 d=M621,515l-9-3,8-4,10,5z />
<path color=#fd0 d=M631,511l-10,4,9-2,9-3z />
<path color=#f50 d=M640,510l-9,1,8-1,9-2z />
<path color=#f20 d=M649,515l-9-5,8-2,10,3z />
<path color=#f10 d=M678,535l-10-7-9-7-10-6,9-4,9,5,10,5,9,6z />
<path color=#f50 d=M290,300l-7-1,9-6,7,0z />
<path color=#f20 d=M297,301l-7-1,9-7,7,2z />
<path color=#f10 d=M320,317l-7-6-8-6-8-4,9-6,7,5,8,5,8,7z />
<path color=#e40 d=M328,328l-8-11,9-5,8,12z />
<path color=#fa0 d=M336,338l-8-10,9-4,8,7z />
<path color=#fd0 d=M360,351l-8-4-8-3-8-6,9-7,8,6,7,6,8,5z />
<path color=#fa0 d=M375,356l-8-2-7-3,8-3,8,4,8,4z />
<path color=#f50 d=M382,356l-7,0,9,0,7,0z />
<path color=#f20 d=M390,358l-8-2,9,0,8,1z />
<path color=#f10 d=M472,415l-8-8-9-6-8-6-8-5-8-4-8-4-9-8-8-6-8-6-8-4,9-1,8,3,8,5,8,4,8,4,8,6,8,5,9,5,8,4,8,7,9,9z />
<path color=#f20 d=M489,429l-8-8-9-6,9-6,8,6,9,7z />
<path color=#f50 d=M498,438l-9-9,9-7,8,7z />
<path color=#f80 d=M507,447l-9-9,8-9,9,8z />
<path color=#fa0 d=M524,461l-9-7-8-7,8-10,9,6,8,7z />
<path color=#fd0 d=M533,470l-9-9,8-11,9,10z />
<path color=#ef0 d=M595,508l-9-4-9-4-9-5-9-5-9-4-9-7-8-9,8-10,9,9,9,7,8,5,9,5,9,8,9,7,9,5z />
<path color=#fe0 d=M613,513l-9-1-9-4,8-2,9,6,9,3z />
<path color=#f80 d=M622,514l-9-1,8,2,10-4z />
<path color=#f20 d=M632,516l-10-2,9-3,9-1z />
<path color=#f10 d=M660,536l-10-8-9-7-9-5,8-6,9,5,10,6,9,7z />
<path color=#f20 d=M669,545l-9-9,8-8,10,7z />
<path color=#f50 d=M282,305l-7-2,8-4,7,1z />
<path color=#f20 d=M289,306l-7-1,8-5,7,1z />
<path color=#f10 d=M304,318l-8-7-7-5,8-5,8,4,8,6z />
<path color=#f20 d=M312,324l-8-6,9-7,7,6z />
<path color=#f50 d=M320,332l-8-8,8-7,8,11z />
<path color=#fa0 d=M328,341l-8-9,8-4,8,10z />
<path color=#fd0 d=M336,346l-8-5,8-3,8,6z />
<path color=#fa0 d=M351,353l-8-3-7-4,8-2,8,3,8,4z />
<path color=#f80 d=M358,355l-7-2,9-2,7,3z />
<path color=#f50 d=M366,357l-8-2,9-1,8,2z />
<path color=#f20 d=M374,358l-8-1,9-1,7,0z />
<path color=#f10 d=M381,360l-7-2,8-2,8,2z />
<path color=#f00 d=M397,371l-8-6-8-5,9-2,8,4,8,6z />
<path color=#f10 d=M455,416l-8-8-8-5-9-5-8-6-8-6-8-8-9-7,9-3,8,6,9,8,8,4,8,4,8,5,8,6,9,6z />
<path color=#f20 d=M472,431l-8-7-9-8,9-9,8,8,9,6z />
<path color=#f50 d=M481,439l-9-8,9-10,8,8z />
<path color=#f80 d=M490,449l-9-10,8-10,9,9z />
<path color=#fd0 d=M507,464l-9-7-8-8,8-11,9,9,8,7z />
<path color=#fe0 d=M515,471l-8-7,8-10,9,7z />
<path color=#ef0 d=M524,479l-9-8,9-10,9,9z />
<path color=#ce0 d=M559,501l-9-4-8-3-9-6-9-9,9-9,8,9,9,7,9,4,9,5z />
<path color=#ef0 d=M568,503l-9-2,9-6,9,5z />
<path color=#fe0 d=M577,505l-9-2,9-3,9,4z />
<path color=#fd0 d=M586,509l-9-4,9-1,9,4z />
<path color=#fa0 d=M595,512l-9-3,9-1,9,4z />
<path color=#f80 d=M604,514l-9-2,9,0,9,1z />
<path color=#f50 d=M614,517l-10-3,9-1,9,1z />
<path color=#f10 d=M642,537l-10-8-9-7-9-5,8-3,10,2,9,5,9,7z />
<path color=#f20 d=M651,546l-9-9,8-9,10,8z />
<path color=#f50 d=M660,555l-9-9,9-10,9,9z />
<path color=#f20 d=M280,312l-7-4-7-4,9-1,7,2,7,1z />
<path color=#f10 d=M288,319l-8-7,9-6,7,5z />
<path color=#f20 d=M296,326l-8-7,8-8,8,7z />
<path color=#f50 d=M311,338l-7-6-8-6,8-8,8,6,8,8z />
<path color=#f80 d=M319,346l-8-8,9-6,8,9z />
<path color=#fa0 d=M334,354l-7-3-8-5,9-5,8,5,7,4z />
<path color=#f80 d=M342,357l-8-3,9-4,8,3z />
<path color=#f50 d=M350,358l-8-1,9-4,7,2z />
<path color=#f20 d=M357,360l-7-2,8-3,8,2z />
<path color=#f10 d=M365,362l-8-2,9-3,8,1z />
<path color=#f00 d=M389,378l-8-7-8-5-8-4,9-4,7,2,8,5,8,6z />
<path color=#f10 d=M414,399l-9-9-8-6-8-6,8-7,9,7,8,8,8,6z />
<path color=#f20 d=M447,427l-8-9-9-4-8-6-8-9,8-7,8,6,9,5,8,5,8,8z />
<path color=#f50 d=M456,435l-9-8,8-11,9,8z />
<path color=#f80 d=M464,443l-8-8,8-11,8,7z />
<path color=#fa0 d=M473,451l-9-8,8-12,9,8z />
<path color=#fd0 d=M481,458l-8-7,8-12,9,10z />
<path color=#fe0 d=M490,467l-9-9,9-9,8,8z />
<path color=#ef0 d=M507,481l-9-8-8-6,8-10,9,7,8,7z />
<path color=#ce0 d=M516,489l-9-8,8-10,9,8z />
<path color=#be0 d=M533,499l-9-3-8-7,8-10,9,9,9,6z />
<path color=#ce0 d=M542,501l-9-2,9-5,8,3z />
<path color=#ef0 d=M551,503l-9-2,8-4,9,4z />
<path color=#fe0 d=M560,505l-9-2,8-2,9,2z />
<path color=#fa0 d=M569,506l-9-1,8-2,9,2z />
<path color=#f80 d=M587,516l-9-5-9-5,8-1,9,4,9,3z />
<path color=#f50 d=M596,519l-9-3,8-4,9,2z />
<path color=#f20 d=M605,522l-9-3,8-5,10,3z />
<path color=#f10 d=M624,537l-10-8-9-7,9-5,9,5,9,7z />
<path color=#f20 d=M633,547l-9-10,8-8,10,8z />
<path color=#f50 d=M642,557l-9-10,9-10,9,9z />
<path color=#f80 d=M652,566l-10-9,9-11,9,9z />
<path color=#f20 d=M280,328l-8-8-8-7-7-4,9-5,7,4,7,4,8,7z />
<path color=#f80 d=M296,343l-8-6-8-9,8-9,8,7,8,6z />
<path color=#fa0 d=M318,356l-7-3-8-6-7-4,8-11,7,6,8,8,8,5z />
<path color=#f80 d=M326,357l-8-1,9-5,7,3z />
<path color=#f50 d=M333,359l-7-2,8-3,8,3z />
<path color=#f20 d=M341,362l-8-3,9-2,8,1z />
<path color=#f10 d=M356,367l-8-4-7-1,9-4,7,2,8,2z />
<path color=#f00 d=M364,374l-8-7,9-5,8,4z />
<path color=#f10 d=M397,400l-8-7-9-6-8-6-8-7,9-8,8,5,8,7,8,6,8,6z />
<path color=#f20 d=M405,408l-8-8,8-10,9,9z />
<path color=#f50 d=M414,418l-9-10,9-9,8,9z />
<path color=#f80 d=M430,431l-8-6-8-7,8-10,8,6,9,4z />
<path color=#fa0 d=M447,447l-8-7-9-9,9-13,8,9,9,8z />
<path color=#fd0 d=M456,455l-9-8,9-12,8,8z />
<path color=#fe0 d=M464,462l-8-7,8-12,9,8z />
<path color=#ef0 d=M481,475l-8-7-9-6,9-11,8,7,9,9z />
<path color=#ce0 d=M499,488l-9-7-9-6,9-8,8,6,9,8z />
<path color=#be0 d=M525,503l-9-2-9-5-8-8,8-7,9,8,8,7,9,3z />
<path color=#ef0 d=M533,503l-8,0,8-4,9,2z />
<path color=#fe0 d=M542,504l-9-1,9-2,9,2z />
<path color=#fa0 d=M551,506l-9-2,9-1,9,2z />
<path color=#f80 d=M560,508l-9-2,9-1,9,1z />
<path color=#f50 d=M569,512l-9-4,9-2,9,5z />
<path color=#f20 d=M587,522l-9-4-9-6,9-1,9,5,9,3z />
<path color=#f10 d=M606,537l-9-10-10-5,9-3,9,3,9,7z />
<path color=#f20 d=M615,549l-9-12,8-8,10,8z />
<path color=#f80 d=M624,561l-9-12,9-12,9,10z />
<path color=#fa0 d=M634,571l-10-10,9-14,9,10z />
<path color=#fe0 d=M643,583l-9-12,8-14,10,9z />
<path color=#f20 d=M256,321l-7-5,8-7,7,4z />
<path color=#f50 d=M264,329l-8-8,8-8,8,7z />
<path color=#f80 d=M272,337l-8-8,8-9,8,8z />
<path color=#fa0 d=M280,346l-8-9,8-9,8,9z />
<path color=#fd0 d=M302,358l-7-3-8-3-7-6,8-9,8,6,7,4,8,6z />
<path color=#fa0 d=M309,360l-7-2,9-5,7,3z />
<path color=#f80 d=M317,361l-8-1,9-4,8,1z />
<path color=#f20 d=M324,363l-7-2,9-4,7,2z />
<path color=#f10 d=M340,367l-8-1-8-3,9-4,8,3,7,1z />
<path color=#f00 d=M347,373l-7-6,8-4,8,4z />
<path color=#f10 d=M380,401l-8-6-8-7-8-8-9-7,9-6,8,7,8,7,8,6,9,6z />
<path color=#f20 d=M388,409l-8-8,9-8,8,7z />
<path color=#f50 d=M397,416l-9-7,9-9,8,8z />
<path color=#f80 d=M405,426l-8-10,8-8,9,10z />
<path color=#fa0 d=M414,435l-9-9,9-8,8,7z />
<path color=#fd0 d=M422,441l-8-6,8-10,8,6z />
<path color=#fe0 d=M439,456l-9-6-8-9,8-10,9,9,8,7z />
<path color=#ef0 d=M447,463l-8-7,8-9,9,8z />
<path color=#ce0 d=M507,500l-9-3-8-6-9-6-8-4-9-4-8-6-9-8,9-8,8,7,9,6,8,7,9,6,9,7,8,8,9,5z />
<path color=#ef0 d=M516,502l-9-2,9,1,9,2z />
<path color=#fe0 d=M525,504l-9-2,9,1,8,0z />
<path color=#fa0 d=M533,505l-8-1,8-1,9,1z />
<path color=#f50 d=M542,508l-9-3,9-1,9,2z />
<path color=#f20 d=M560,518l-9-6-9-4,9-2,9,2,9,4z />
<path color=#f10 d=M588,538l-9-10-10-6-9-4,9-6,9,6,9,4,10,5z />
<path color=#f20 d=M597,549l-9-11,9-11,9,10z />
<path color=#f80 d=M606,562l-9-13,9-12,9,12z />
<path color=#fd0 d=M616,576l-10-14,9-13,9,12z />
<path color=#ef0 d=M625,589l-9-13,8-15,10,10z />
<path color=#8e0 d=M634,603l-9-14,9-18,9,12z />
<path color=#f50 d=M255,336l-8-9-7-7,9-4,7,5,8,8z />
<path color=#fa0 d=M263,344l-8-8,9-7,8,8z />
<path color=#fd0 d=M271,351l-8-7,9-7,8,9z />
<path color=#fe0 d=M278,356l-7-5,9-5,7,6z />
<path color=#fd0 d=M286,358l-8-2,9-4,8,3z />
<path color=#fa0 d=M293,361l-7-3,9-3,7,3z />
<path color=#f80 d=M300,363l-7-2,9-3,7,2z />
<path color=#f50 d=M308,366l-8-3,9-3,8,1z />
<path color=#f20 d=M316,371l-8-5,9-5,7,2z />
<path color=#f10 d=M355,395l-8-8-8-8-8-5-8-1-7-2,8-8,8,3,8,1,7,6,9,7,8,8z />
<path color=#f20 d=M371,407l-8-5-8-7,9-7,8,7,8,6z />
<path color=#f50 d=M380,416l-9-9,9-6,8,8z />
<path color=#f80 d=M388,424l-8-8,8-7,9,7z />
<path color=#fa0 d=M397,434l-9-10,9-8,8,10z />
<path color=#fd0 d=M405,443l-8-9,8-8,9,9z />
<path color=#fe0 d=M413,450l-8-7,9-8,8,6z />
<path color=#ef0 d=M430,464l-8-6-9-8,9-9,8,9,9,6z />
<path color=#ce0 d=M464,484l-9-3-8-4-8-7-9-6,9-8,8,7,9,8,8,6,9,4z />
<path color=#ef0 d=M472,487l-8-3,9-3,8,4z />
<path color=#fe0 d=M498,499l-8-4-9-5-9-3,9-2,9,6,8,6,9,3z />
<path color=#fd0 d=M507,500l-9-1,9,1,9,2z />
<path color=#f80 d=M516,503l-9-3,9,2,9,2z />
<path color=#f50 d=M524,504l-8-1,9,1,8,1z />
<path color=#f10 d=M570,538l-9-7-9-5-9-8-10-8-9-6,9,1,9,3,9,4,9,6,9,4,10,6z />
<path color=#f20 d=M579,550l-9-12,9-10,9,10z />
<path color=#f80 d=M588,562l-9-12,9-12,9,11z />
<path color=#eb0 d=M598,577l-10-15,9-13,9,13z />
<path color=#bd0 d=M607,592l-9-15,8-15,10,14z />
<path color=#6e0 d=M616,605l-9-13,9-16,9,13z />
<path color=#1c1 d=M625,619l-9-14,9-16,9,14z />
<path color=#f50 d=M239,333l-8-8,9-5,7,7z />
<path color=#f80 d=M247,341l-8-8,8-6,8,9z />
<path color=#fa0 d=M254,348l-7-7,8-5,8,8z />
<path color=#fd0 d=M269,358l-7-4-8-6,9-4,8,7,7,5z />
<path color=#fa0 d=M277,360l-8-2,9-2,8,2z />
<path color=#f80 d=M284,363l-7-3,9-2,7,3z />
<path color=#f50 d=M291,365l-7-2,9-2,7,2z />
<path color=#f20 d=M315,378l-8-3-8-5-8-5,9-2,8,3,8,5,7,2z />
<path color=#f10 d=M338,397l-8-10-8-7-7-2,8-5,8,1,8,5,8,8z />
<path color=#f20 d=M347,404l-9-7,9-10,8,8z />
<path color=#f50 d=M363,418l-8-6-8-8,8-9,8,7,8,5z />
<path color=#f80 d=M371,426l-8-8,8-11,9,9z />
<path color=#fa0 d=M380,434l-9-8,9-10,8,8z />
<path color=#fd0 d=M388,443l-8-9,8-10,9,10z />
<path color=#fe0 d=M396,451l-8-8,9-9,8,9z />
<path color=#ef0 d=M413,464l-8-6-9-7,9-8,8,7,9,8z />
<path color=#ce0 d=M438,480l-8-5-9-6-8-5,9-6,8,6,9,6,8,7z />
<path color=#ef0 d=M446,482l-8-2,9-3,8,4z />
<path color=#fe0 d=M455,485l-9-3,9-1,9,3z />
<path color=#fd0 d=M472,491l-9-4-8-2,9-1,8,3,9,3z />
<path color=#fa0 d=M481,495l-9-4,9-1,9,5z />
<path color=#f80 d=M489,499l-8-4,9,0,8,4z />
<path color=#f50 d=M498,502l-9-3,9,0,9,1z />
<path color=#f20 d=M507,505l-9-3,9-2,9,3z />
<path color=#f10 d=M534,525l-9-9-9-8-9-3,9-2,8,1,9,6,10,8z />
<path color=#f20 d=M552,542l-9-9-9-8,9-7,9,8,9,5z />
<path color=#f50 d=M561,550l-9-8,9-11,9,7z />
<path color=#f80 d=M571,562l-10-12,9-12,9,12z />
<path color=#fd0 d=M580,575l-9-13,8-12,9,12z />
<path color=#bd0 d=M589,590l-9-15,8-13,10,15z />
<path color=#6c0 d=M598,605l-9-15,9-13,9,15z />
<path color=#0d5 d=M608,618l-10-13,9-13,9,13z />
<path color=#0ee d=M617,630l-9-12,8-13,9,14z />
<path color=#f50 d=M230,339l-7-6,8-8,8,8z />
<path color=#f80 d=M238,345l-8-6,9-6,8,8z />
<path color=#fa0 d=M253,355l-8-4-7-6,9-4,7,7,8,6z />
<path color=#f80 d=M267,361l-7-4-7-2,9-1,7,4,8,2z />
<path color=#f50 d=M275,366l-8-5,10-1,7,3z />
<path color=#f20 d=M298,380l-8-5-7-5-8-4,9-3,7,2,8,5,8,5z />
<path color=#f10 d=M322,397l-8-8-8-5-8-4,9-5,8,3,7,2,8,7z />
<path color=#f20 d=M330,406l-8-9,8-10,8,10z />
<path color=#f50 d=M338,414l-8-8,8-9,9,7z />
<path color=#f80 d=M346,423l-8-9,9-10,8,8z />
<path color=#fa0 d=M355,431l-9-8,9-11,8,6z />
<path color=#fd0 d=M371,443l-8-6-8-6,8-13,8,8,9,8z />
<path color=#fe0 d=M379,449l-8-6,9-9,8,9z />
<path color=#ef0 d=M421,476l-9-5-8-5-8-5-8-5-9-7,9-6,8,8,9,7,8,6,8,5,9,6z />
<path color=#fe0 d=M437,482l-8-2-8-4,9-1,8,5,8,2z />
<path color=#fa0 d=M446,485l-9-3,9,0,9,3z />
<path color=#f80 d=M463,493l-9-5-8-3,9,0,8,2,9,4z />
<path color=#f50 d=M472,496l-9-3,9-2,9,4z />
<path color=#f20 d=M489,506l-9-5-8-5,9-1,8,4,9,3z />
<path color=#f10 d=M525,533l-9-8-9-9-9-6-9-4,9-4,9,3,9,3,9,8,9,9z />
<path color=#f20 d=M534,542l-9-9,9-8,9,8z />
<path color=#f50 d=M543,552l-9-10,9-9,9,9z />
<path color=#f80 d=M553,564l-10-12,9-10,9,8z />
<path color=#fd0 d=M562,577l-9-13,8-14,10,12z />
<path color=#ce0 d=M571,589l-9-12,9-15,9,13z />
<path color=#8c0 d=M580,603l-9-14,9-14,9,15z />
<path color=#1c1 d=M590,617l-10-14,9-13,9,15z />
<path color=#0ee d=M599,629l-9-12,8-12,10,13z />
<path color=#07e d=M608,638l-9-9,9-11,9,12z />
<path color=#f80 d=M244,361l-7-2-8-7-8-6-7-5,9-8,7,6,8,6,7,6,8,4z />
<path color=#f50 d=M251,360l-7,1,9-6,7,2z />
<path color=#f20 d=M305,399l-8-7-8-5-8-6-7-5-8-6-8-6-7-4,9-3,7,4,8,5,8,4,7,5,8,5,8,4,8,5z />
<path color=#f50 d=M313,407l-8-8,9-10,8,8z />
<path color=#f80 d=M321,416l-8-9,9-10,8,9z />
<path color=#fa0 d=M330,425l-9-9,9-10,8,8z />
<path color=#fd0 d=M338,434l-8-9,8-11,8,9z />
<path color=#fe0 d=M346,443l-8-9,8-11,9,8z />
<path color=#ef0 d=M362,451l-7-1-9-7,9-12,8,6,8,6z />
<path color=#fe0 d=M395,467l-8-4-8-3-9-6-8-3,9-8,8,6,9,7,8,5,8,5z />
<path color=#fd0 d=M411,476l-8-4-8-5,9-1,8,5,9,5z />
<path color=#fa0 d=M420,478l-9-2,10,0,8,4z />
<path color=#f80 d=M437,488l-9-5-8-5,9,2,8,2,9,3z />
<path color=#f50 d=M445,491l-8-3,9-3,8,3z />
<path color=#f20 d=M463,501l-9-5-9-5,9-3,9,5,9,3z />
<path color=#f10 d=M507,533l-9-8-9-7-9-6-9-6-8-5,9-5,8,5,9,5,9,4,9,6,9,9z />
<path color=#f20 d=M516,543l-9-10,9-8,9,8z />
<path color=#f50 d=M525,554l-9-11,9-10,9,9z />
<path color=#fa0 d=M535,564l-10-10,9-12,9,10z />
<path color=#fd0 d=M544,575l-9-11,8-12,10,12z />
<path color=#dd0 d=M553,589l-9-14,9-11,9,13z />
<path color=#8e0 d=M562,602l-9-13,9-12,9,12z />
<path color=#3c0 d=M572,615l-10-13,9-13,9,14z />
<path color=#0da d=M581,628l-9-13,8-12,10,14z />
<path color=#0be d=M590,639l-9-11,9-11,9,12z />
<path color=#04e d=M599,647l-9-8,9-10,9,9z />
<path color=#fa0 d=M235,367l-7-2-8-6-7-5-7-3,8-10,7,5,8,6,8,7,7,2z />
<path color=#f50 d=M242,367l-7,0,9-6,7-1z />
<path color=#f20 d=M280,393l-7-6-8-6-8-6-8-5-7-3,9-7,7,4,8,6,8,6,7,5,8,6z />
<path color=#f50 d=M297,412l-9-11-8-8,9-6,8,5,8,7z />
<path color=#fa0 d=M305,420l-8-8,8-13,8,8z />
<path color=#fd0 d=M313,428l-8-8,8-13,8,9z />
<path color=#fe0 d=M321,437l-8-9,8-12,9,9z />
<path color=#ef0 d=M330,445l-9-8,9-12,8,9z />
<path color=#ce0 d=M338,454l-8-9,8-11,8,9z />
<path color=#be0 d=M354,462l-8-1-8-7,8-11,9,7,7,1z />
<path color=#ef0 d=M362,463l-8-1,8-11,8,3z />
<path color=#fe0 d=M370,466l-8-3,8-9,9,6z />
<path color=#fd0 d=M378,467l-8-1,9-6,8,3z />
<path color=#fa0 d=M394,474l-8-4-8-3,9-4,8,4,8,5z />
<path color=#f80 d=M402,478l-8-4,9-2,8,4z />
<path color=#f50 d=M411,480l-9-2,9-2,9,2z />
<path color=#f20 d=M436,496l-8-3-9-7-8-6,9-2,8,5,9,5,8,3z />
<path color=#f10 d=M480,528l-9-7-9-6-8-7-9-7-9-5,9-5,9,5,9,5,8,5,9,6,9,6z />
<path color=#f20 d=M489,537l-9-9,9-10,9,7z />
<path color=#f50 d=M498,546l-9-9,9-12,9,8z />
<path color=#f80 d=M507,555l-9-9,9-13,9,10z />
<path color=#fa0 d=M517,566l-10-11,9-12,9,11z />
<path color=#fe0 d=M526,577l-9-11,8-12,10,10z />
<path color=#ef0 d=M535,588l-9-11,9-13,9,11z />
<path color=#be0 d=M544,600l-9-12,9-13,9,14z />
<path color=#4d0 d=M554,612l-10-12,9-11,9,13z />
<path color=#0c4 d=M563,625l-9-13,8-10,10,13z />
<path color=#0dd d=M572,638l-9-13,9-10,9,13z />
<path color=#04e d=M581,649l-9-11,9-10,9,11z />
<path color=#11e d=M591,656l-10-7,9-10,9,8z />
<path color=#fd0 d=M204,362l-7-2,9-9,7,3z />
<path color=#fa0 d=M219,368l-8-4-7-2,9-8,7,5,8,6z />
<path color=#f80 d=M226,371l-7-3,9-3,7,2z />
<path color=#f50 d=M233,373l-7-2,9-4,7,0z />
<path color=#f20 d=M240,375l-7-2,9-6,7,3z />
<path color=#f10 d=M255,384l-7-5-8-4,9-5,8,5,8,6z />
<path color=#f20 d=M272,401l-9-10-8-7,10-3,8,6,7,6z />
<path color=#f80 d=M280,412l-8-11,8-8,8,8z />
<path color=#fa0 d=M288,423l-8-11,8-11,9,11z />
<path color=#fe0 d=M297,430l-9-7,9-11,8,8z />
<path color=#ef0 d=M305,438l-8-8,8-10,8,8z />
<path color=#ce0 d=M313,446l-8-8,8-10,8,9z />
<path color=#be0 d=M329,460l-8-8-8-6,8-9,9,8,8,9z />
<path color=#8e0 d=M345,470l-8-4-8-6,9-6,8,7,8,1z />
<path color=#ce0 d=M353,472l-8-2,9-8,8,1z />
<path color=#ef0 d=M361,473l-8-1,9-9,8,3z />
<path color=#fd0 d=M369,473l-8,0,9-7,8,1z />
<path color=#fa0 d=M377,475l-8-2,9-6,8,3z />
<path color=#f80 d=M385,479l-8-4,9-5,8,4z />
<path color=#f50 d=M393,483l-8-4,9-5,8,4z />
<path color=#f20 d=M427,504l-8-5-9-5-8-7-9-4,9-5,9,2,8,6,9,7,8,3z />
<path color=#f10 d=M436,510l-9-6,9-8,9,5z />
<path color=#f20 d=M471,538l-9-8-8-7-9-6-9-7,9-9,9,7,8,7,9,6,9,7z />
<path color=#f50 d=M480,548l-9-10,9-10,9,9z />
<path color=#f80 d=M490,557l-10-9,9-11,9,9z />
<path color=#fa0 d=M499,567l-9-10,8-11,9,9z />
<path color=#fe0 d=M508,578l-9-11,8-12,10,11z />
<path color=#ce0 d=M517,590l-9-12,9-12,9,11z />
<path color=#be0 d=M526,600l-9-10,9-13,9,11z />
<path color=#6e0 d=M535,610l-9-10,9-12,9,12z />
<path color=#1c1 d=M545,623l-10-13,9-10,10,12z />
<path color=#0dd d=M554,637l-9-14,9-11,9,13z />
<path color=#07e d=M563,649l-9-12,9-12,9,13z />
<path color=#11e d=M573,660l-10-11,9-11,9,11z />
<path color=#30e d=M582,667l-9-7,8-11,10,7z />
<path color=#fe0 d=M196,370l-8-4,9-6,7,2z />
<path color=#fd0 d=M203,372l-7-2,8-8,7,2z />
<path color=#fa0 d=M210,374l-7-2,8-8,8,4z />
<path color=#f80 d=M217,376l-7-2,9-6,7,3z />
<path color=#f50 d=M224,378l-7-2,9-5,7,2z />
<path color=#f20 d=M231,382l-7-4,9-5,7,2z />
<path color=#f10 d=M247,392l-8-6-8-4,9-7,8,4,7,5z />
<path color=#f20 d=M255,400l-8-8,8-8,8,7z />
<path color=#f50 d=M263,413l-8-13,8-9,9,10z />
<path color=#fa0 d=M272,423l-9-10,9-12,8,11z />
<path color=#fe0 d=M280,432l-8-9,8-11,8,11z />
<path color=#ef0 d=M288,439l-8-7,8-9,9,7z />
<path color=#ce0 d=M296,446l-8-7,9-9,8,8z />
<path color=#be0 d=M312,460l-8-6-8-8,9-8,8,8,8,6z />
<path color=#8e0 d=M336,477l-8-5-8-5-8-7,9-8,8,8,8,6,8,4z />
<path color=#be0 d=M344,480l-8-3,9-7,8,2z />
<path color=#ce0 d=M352,482l-8-2,9-8,8,1z />
<path color=#fe0 d=M360,482l-8,0,9-9,8,0z />
<path color=#fa0 d=M368,484l-8-2,9-9,8,2z />
<path color=#f80 d=M376,488l-8-4,9-9,8,4z />
<path color=#f50 d=M454,541l-9-8-9-6-9-5-9-8-8-7-9-4-8-7-9-6-8-2,9-9,8,4,9,4,8,7,9,5,8,5,9,6,9,7,9,6,8,7z />
<path color=#f80 d=M462,547l-8-6,8-11,9,8z />
<path color=#fa0 d=M472,558l-10-11,9-9,9,10z />
<path color=#fd0 d=M481,569l-9-11,8-10,10,9z />
<path color=#fe0 d=M490,580l-9-11,9-12,9,10z />
<path color=#ce0 d=M499,590l-9-10,9-13,9,11z />
<path color=#8e0 d=M508,601l-9-11,9-12,9,12z />
<path color=#6e0 d=M517,610l-9-9,9-11,9,10z />
<path color=#1d1 d=M527,621l-10-11,9-10,9,10z />
<path color=#0da d=M536,635l-9-14,8-11,10,13z />
<path color=#0ad d=M545,647l-9-12,9-12,9,14z />
<path color=#04e d=M555,657l-10-10,9-10,9,12z />
<path color=#30e d=M564,667l-9-10,8-8,10,11z />
<path color=#60d d=M573,677l-9-10,9-7,9,7z />
<path color=#fe0 d=M194,379l-7-2-8-5,9-6,8,4,7,2z />
<path color=#fd0 d=M201,380l-7-1,9-7,7,2z />
<path color=#f80 d=M208,381l-7-1,9-6,7,2z />
<path color=#f50 d=M215,385l-7-4,9-5,7,2z />
<path color=#f20 d=M238,403l-8-8-8-6-7-4,9-7,7,4,8,4,8,6z />
<path color=#f50 d=M247,414l-9-11,9-11,8,8z />
<path color=#eb0 d=M255,426l-8-12,8-14,8,13z />
<path color=#ef0 d=M263,434l-8-8,8-13,9,10z />
<path color=#ce0 d=M279,447l-8-6-8-7,9-11,8,9,8,7z />
<path color=#be0 d=M295,460l-8-6-8-7,9-8,8,7,8,8z />
<path color=#8e0 d=M327,483l-8-4-8-4-8-7-8-8,9-6,8,6,8,7,8,5,8,5z />
<path color=#be0 d=M343,491l-8-4-8-4,9-6,8,3,8,2z />
<path color=#ef0 d=M351,495l-8-4,9-9,8,0z />
<path color=#fe0 d=M359,498l-8-3,9-13,8,2z />
<path color=#fd0 d=M367,499l-8-1,9-14,8,4z />
<path color=#fa0 d=M376,501l-9-2,9-11,8,2z />
<path color=#f80 d=M418,533l-8-8-9-5-8-6-9-8-8-5,8-11,9,6,8,7,9,4,8,7,9,8z />
<path color=#fa0 d=M454,557l-9-5-9-6-9-7-9-6,9-11,9,5,9,6,9,8,8,6z />
<path color=#fd0 d=M463,569l-9-12,8-10,10,11z />
<path color=#ef0 d=M472,581l-9-12,9-11,9,11z />
<path color=#be0 d=M481,593l-9-12,9-12,9,11z />
<path color=#8e0 d=M490,602l-9-9,9-13,9,10z />
<path color=#6e0 d=M499,612l-9-10,9-12,9,11z />
<path color=#1d1 d=M509,622l-10-10,9-11,9,9z />
<path color=#0d5 d=M518,633l-9-11,8-12,10,11z />
<path color=#0ee d=M527,645l-9-12,9-12,9,14z />
<path color=#07e d=M536,654l-9-9,9-10,9,12z />
<path color=#11e d=M546,664l-10-10,9-7,10,10z />
<path color=#30e d=M555,675l-9-11,9-7,9,10z />
<path color=#60d d=M564,685l-9-10,9-8,9,10z />
<path color=#ef0 d=M178,381l-7-3,8-6,8,5z />
<path color=#fe0 d=M185,383l-7-2,9-4,7,2z />
<path color=#fa0 d=M191,385l-6-2,9-4,7,1z />
<path color=#f80 d=M198,385l-7,0,10-5,7,1z />
<path color=#f50 d=M222,405l-8-9-8-6-8-5,10-4,7,4,7,4,8,6z />
<path color=#f80 d=M230,417l-8-12,8-10,8,8z />
<path color=#fd0 d=M239,430l-9-13,8-14,9,11z />
<path color=#ce0 d=M247,441l-8-11,8-16,8,12z />
<path color=#be0 d=M255,448l-8-7,8-15,8,8z />
<path color=#8e0 d=M286,470l-7-6-8-5-8-6-8-5,8-14,8,7,8,6,8,7,8,6z />
<path color=#6e0 d=M327,500l-8-6-8-6-8-5-9-7-8-6,9-10,8,8,8,7,8,4,8,4,8,4z />
<path color=#8e0 d=M343,510l-8-4-8-6,8-13,8,4,8,4z />
<path color=#be0 d=M351,514l-8-4,8-15,8,3z />
<path color=#ce0 d=M359,515l-8-1,8-16,8,1z />
<path color=#fe0 d=M393,535l-9-5-8-7-9-4-8-4,8-16,9,2,8,5,9,8,8,6z />
<path color=#fd0 d=M418,551l-8-6-9-7-8-3,8-15,9,5,8,8,9,6z />
<path color=#fe0 d=M454,581l-9-11-9-6-9-7-9-6,9-12,9,7,9,6,9,5,9,12z />
<path color=#be0 d=M463,594l-9-13,9-12,9,12z />
<path color=#6e0 d=M472,606l-9-12,9-13,9,12z />
<path color=#4d0 d=M481,616l-9-10,9-13,9,9z />
<path color=#0d5 d=M491,624l-10-8,9-14,9,10z />
<path color=#0eb d=M500,634l-9-10,8-12,10,10z />
<path color=#0ee d=M509,644l-9-10,9-12,9,11z />
<path color=#07e d=M518,654l-9-10,9-11,9,12z />
<path color=#04e d=M527,662l-9-8,9-9,9,9z />
<path color=#11e d=M537,672l-10-10,9-8,10,10z />
<path color=#30e d=M546,683l-9-11,9-8,9,11z />
<path color=#70b d=M555,692l-9-9,9-8,9,10z />
<path color=#ef0 d=M168,387l-6-1,9-8,7,3z />
<path color=#fe0 d=M175,389l-7-2,10-6,7,2z />
<path color=#fa0 d=M182,390l-7-1,10-6,6,2z />
<path color=#f80 d=M189,391l-7-1,9-5,7,0z />
<path color=#f50 d=M205,406l-8-9-8-6,9-6,8,5,8,6z />
<path color=#fa0 d=M213,417l-8-11,9-10,8,9z />
<path color=#ed0 d=M222,433l-9-16,9-12,8,12z />
<path color=#ad0 d=M231,446l-9-13,8-16,9,13z />
<path color=#6e0 d=M239,456l-8-10,8-16,8,11z />
<path color=#4d0 d=M302,499l-8-8-8-6-8-5-8-4-8-6-7-4-8-4-8-6,8-15,8,7,8,5,8,6,8,5,7,6,8,6,9,7,8,5z />
<path color=#1d1 d=M343,531l-8-5-8-4-8-7-9-9-8-7,9-11,8,6,8,6,8,6,8,4,8,4z />
<path color=#4d0 d=M351,534l-8-3,8-17,8,1z />
<path color=#6e0 d=M359,537l-8-3,8-19,8,4z />
<path color=#8e0 d=M367,541l-8-4,8-18,9,4z />
<path color=#be0 d=M384,549l-8-3-9-5,9-18,8,7,9,5z />
<path color=#ce0 d=M436,584l-9-8-9-6-8-6-9-5-9-6-8-4,9-14,8,3,9,7,8,6,9,6,9,7,9,6z />
<path color=#be0 d=M445,595l-9-11,9-14,9,11z />
<path color=#6e0 d=M454,606l-9-11,9-14,9,13z />
<path color=#1d1 d=M463,617l-9-11,9-12,9,12z />
<path color=#0eb d=M473,628l-10-11,9-11,9,10z />
<path color=#0ee d=M482,637l-9-9,8-12,10,8z />
<path color=#0be d=M491,645l-9-8,9-13,9,10z />
<path color=#07e d=M500,655l-9-10,9-11,9,10z />
<path color=#04e d=M518,671l-9-7-9-9,9-11,9,10,9,8z />
<path color=#11e d=M528,682l-10-11,9-9,10,10z />
<path color=#60d d=M537,691l-9-9,9-10,9,11z />
<path color=#70b d=M546,700l-9-9,9-8,9,9z />
<path color=#ef0 d=M160,396l-7-3,9-7,6,1z />
<path color=#fe0 d=M167,398l-7-2,8-9,7,2z />
<path color=#fd0 d=M174,402l-7-4,8-9,7,1z />
<path color=#fa0 d=M189,413l-8-8-7-3,8-12,7,1,8,6z />
<path color=#fd0 d=M198,427l-9-14,8-16,8,9z />
<path color=#ef0 d=M206,438l-8-11,7-21,8,11z />
<path color=#8c0 d=M215,451l-9-13,7-21,9,16z />
<path color=#1d1 d=M223,461l-8-10,7-18,9,13z />
<path color=#0eb d=M231,470l-8-9,8-15,8,10z />
<path color=#0ee d=M246,480l-7-3-8-7,8-14,8,6,8,4z />
<path color=#0eb d=M254,483l-8-3,9-14,7,4z />
<path color=#0d5 d=M269,489l-8-2-7-4,8-13,8,6,8,4z />
<path color=#1d1 d=M293,508l-8-9-8-7-8-3,9-9,8,5,8,6,8,8z />
<path color=#0d5 d=M302,517l-9-9,9-9,8,7z />
<path color=#0eb d=M310,528l-8-11,8-11,9,9z />
<path color=#0ee d=M318,536l-8-8,9-13,8,7z />
<path color=#0be d=M327,542l-9-6,9-14,8,4z />
<path color=#0ee d=M343,551l-8-4-8-5,8-16,8,5,8,3z />
<path color=#0eb d=M351,554l-8-3,8-17,8,3z />
<path color=#0d5 d=M359,558l-8-4,8-17,8,4z />
<path color=#1d1 d=M367,561l-8-3,8-17,9,5z />
<path color=#4d0 d=M376,564l-9-3,9-15,8,3z />
<path color=#6e0 d=M392,572l-8-4-8-4,8-15,8,4,9,6z />
<path color=#8e0 d=M409,580l-8-4-9-4,9-13,9,5,8,6z />
<path color=#be0 d=M418,586l-9-6,9-10,9,6z />
<path color=#8e0 d=M427,595l-9-9,9-10,9,8z />
<path color=#6e0 d=M436,606l-9-11,9-11,9,11z />
<path color=#1d1 d=M445,617l-9-11,9-11,9,11z />
<path color=#0d5 d=M454,628l-9-11,9-11,9,11z />
<path color=#0ee d=M464,638l-10-10,9-11,10,11z />
<path color=#0be d=M473,648l-9-10,9-10,9,9z />
<path color=#07e d=M482,656l-9-8,9-11,9,8z />
<path color=#04e d=M491,665l-9-9,9-11,9,10z />
<path color=#11e d=M500,673l-9-8,9-10,9,9z />
<path color=#30e d=M519,691l-10-9-9-9,9-9,9,7,10,11z />
<path color=#60d d=M528,700l-9-9,9-9,9,9z />
<path color=#70b d=M537,709l-9-9,9-9,9,9z />
<path color=#be0 d=M152,409l-7-4,8-12,7,3z />
<path color=#ce0 d=M174,427l-8-9-7-6-7-3,8-13,7,2,7,4,7,3z />
<path color=#be0 d=M183,440l-9-13,7-22,8,8z />
<path color=#6c0 d=M192,454l-9-14,6-27,9,14z />
<path color=#0d5 d=M199,462l-7-8,6-27,8,11z />
<path color=#0eb d=M207,469l-8-7,7-24,9,13z />
<path color=#0be d=M215,476l-8-7,8-18,8,10z />
<path color=#07e d=M246,498l-8-5-8-5-7-5-8-7,8-15,8,9,8,7,7,3,8,3z />
<path color=#0be d=M253,501l-7-3,8-15,7,4z />
<path color=#0ee d=M260,501l-7,0,8-14,8,2z />
<path color=#0d5 d=M276,512l-8-8-8-3,9-12,8,3,8,7z />
<path color=#0eb d=M285,521l-9-9,9-13,8,9z />
<path color=#0ee d=M293,529l-8-8,8-13,9,9z />
<path color=#0be d=M301,537l-8-8,9-12,8,11z />
<path color=#04e d=M318,556l-8-9-9-10,9-9,8,8,9,6z />
<path color=#11e d=M335,567l-8-4-9-7,9-14,8,5,8,4z />
<path color=#04e d=M343,570l-8-3,8-16,8,3z />
<path color=#07e d=M351,574l-8-4,8-16,8,4z />
<path color=#0be d=M359,577l-8-3,8-16,8,3z />
<path color=#0ee d=M367,580l-8-3,8-16,9,3z />
<path color=#0d5 d=M375,582l-8-2,9-16,8,4z />
<path color=#1d1 d=M384,584l-9-2,9-14,8,4z />
<path color=#4d0 d=M392,588l-8-4,8-12,9,4z />
<path color=#6e0 d=M418,604l-9-7-9-6-8-3,9-12,8,4,9,6,9,9z />
<path color=#4d0 d=M427,616l-9-12,9-9,9,11z />
<path color=#0d5 d=M436,629l-9-13,9-10,9,11z />
<path color=#0ee d=M445,639l-9-10,9-12,9,11z />
<path color=#0be d=M455,647l-10-8,9-11,10,10z />
<path color=#07e d=M464,658l-9-11,9-9,9,10z />
<path color=#11e d=M473,668l-9-10,9-10,9,8z />
<path color=#30e d=M491,683l-9-7-9-8,9-12,9,9,9,8z />
<path color=#60d d=M510,699l-10-7-9-9,9-10,9,9,10,9z />
<path color=#70b d=M519,708l-9-9,9-8,9,9z />
<path color=#709 d=M528,717l-9-9,9-8,9,9z />
<path class=m2 d=M145,405l8-12,9-7,9-8,8-6,9-6,9-6,9-9,8-10,9-8,8-8,9-5,9-4,8-7,9-5,9-1,8-4,9-6,8-3,9-5,8-6,8-6,8-4,8-9,8-7,8-5,8-7,8-6,8-4,8-5,8-5,8-6,8-6,8-2,8-3,7-2,8-5,8-5,7-3,8-3,8-3,7-1,8-1,7-2,7-5,8-2,7,1 />
<path class=m2 d=M152,409l8-13,8-9,10-6,9-4,9-7,8-8,9-8,8-8,9-7,9-6,8-6,9-6,8-8,9-5,9-3,8-5,9-7,8-3,9-3,8-5,9-4,8-4,8-7,8-6,8-6,8-6,8-5,8-6,8-7,8-6,8-4,7-6,8-4,8-3,8-2,8-5,7-5,8-3,7-1,8-4,8-2,7-1,7-2,8-4,7-2,8,1 />
<path class=m2 d=M159,412l8-14,8-9,10-6,9-4,9-7,8-8,9-5,9-7,9-7,9-4,8-5,9-7,8-9,8-8,9-6,8-5,9-6,8-4,9-3,8-4,9-3,8-3,8-5,9-5,8-5,8-6,8-8,7-7,8-6,8-5,8-5,8-8,8-5,7-3,8-2,8-3,8-4,7-3,8-1,8-3,7-4,7-2,8-2,7-3,8,1,7,1 />
<path class=m2 d=M166,418l8-16,8-12,9-5,10-5,9-6,9-6,9-3,9-6,8-8,9-3,9-4,9-7,8-9,8-9,8-8,9-6,8-5,9-5,8-5,9-5,8-3,9-2,8-5,8-3,8-3,8-6,8-8,8-6,8-6,8-5,8-6,7-8,8-6,8-4,8-4,7-3,8-2,8-3,7-2,8-4,7-4,8-1,7-2,8-2,7,1,7,1 />
<path class=m2 d=M174,427l7-22,8-14,9-6,10-4,9-5,9-5,9-4,9-6,9-6,9-1,9-3,9-5,8-9,8-11,8-8,9-7,8-6,8-6,9-5,8-6,8-4,9-3,8-4,8-3,9-3,8-3,8-6,8-5,8-6,8-7,7-6,8-6,8-7,8-4,7-5,8-5,8-4,7-2,8-1,7-7,8-4,7,0,8-2,7-1,8,1,7,1 />
<path class=m2 d=M183,440l6-27,8-16,9-7,9-5,9-7,9-5,9-6,9-7,9-3,9,1,9-2,9-4,9-9,8-11,8-8,8-7,9-5,8-5,8-8,9-7,8-4,8-5,9-4,8-4,8-3,8-2,9-1,8-5,7-6,8-6,8-6,8-6,8-6,7-5,8-6,8-6,7-6,8-5,7-1,8-5,7-4,8,0,7-1,8-1,7,2,7,0 />
<path class=m2 d=M192,454l6-27,7-21,9-10,8-7,9-7,9-7,9-5,9-6,9-3,10-1,9-2,9-3,8-8,8-9,9-6,8-4,9-4,8-9,8-10,8-7,9-6,8-6,8-5,8-5,9-3,8-2,8-1,8-2,8-4,8-5,8-4,8-6,7-7,8-5,8-8,7-7,8-6,7-7,8-3,8-3,7-3,8,0,7,0,7,0,8,1,7,0 />
<path class=m3 d=M199,462l7-24,7-21,9-12,8-10,9-9,9-7,9-4,9-5,9-4,9-3,9-2,9-3,9-5,8-7,9-5,8-3,9-7,8-11,8-10,8-5,8-7,8-7,9-4,8-7,8-5,8-2,8-3,9-1,8-1,8-3,8-2,7-6,8-7,8-6,7-9,8-9,7-6,8-5,8-5,7-4,8-2,7-1,8-1,7,2,7,1,8-1 />
<path class=m3 d=M207,469l8-18,7-18,8-16,8-14,9-11,8-8,10-3,9-5,9-6,8-5,9-2,9-3,9-4,9-5,9-5,8-2,9-7,8-10,8-8,8-5,8-6,8-9,9-7,8-7,8-4,8-4,8-4,8-2,8-1,8-1,8,0,8-6,8-5,8-6,7-10,8-10,7-7,8-4,7-6,8-5,7-2,8,0,7-2,8,0,7,2,7-1 />
<path class=m3 d=M215,476l8-15,8-15,8-16,8-16,8-14,8-9,10-4,8-6,9-6,9-5,9-4,9-5,9-4,8-3,9-4,9-3,8-4,9-8,8-7,8-6,8-7,8-8,8-7,9-7,8-5,8-7,8-4,8-2,8-2,8-2,8-1,8-3,8-2,7-4,8-10,7-11,8-8,8-6,7-7,8-6,7-1,8,0,7-4,7,1,8,3,7-2 />
<path class=m2 d=M223,483l8-13,8-14,8-15,8-15,8-13,9-12,8-8,9-6,9-7,9-5,9-4,8-8,9-4,9-2,9-4,9-2,8-3,9-6,8-7,8-7,8-7,8-8,8-7,8-7,8-7,8-8,8-5,9-1,8-3,8-4,8,1,8-1,7-2,8-3,8-8,7-10,8-9,7-10,8-8,7-5,8-3,7-2,8-2,7,2,7,4,8,0 />
<path class=m3 d=M230,488l9-11,8-15,8-14,8-14,9-11,8-11,8-11,9-9,9-8,9-6,8-5,9-7,9-4,9-4,8-3,9-1,9-2,8-4,9-6,8-6,8-9,8-8,8-7,8-8,8-7,8-7,8-4,8-3,8-6,8-4,8,2,8-1,8-3,8-2,8-7,7-8,8-8,7-10,8-9,7-4,8-6,7-4,7-1,8,3,7,4,7,1 />
<path class=m3 d=M238,493l8-13,9-14,8-13,8-12,9-9,8-9,9-11,8-13,9-10,8-9,9-6,9-7,8-4,9-3,9-3,9-1,9,0,8-2,9-5,8-6,8-7,8-10,8-9,8-7,8-7,8-7,8-5,8-4,8-8,8-4,8,1,8,0,8-2,8-1,7-5,8-6,8-7,7-9,8-9,7-7,8-7,7-2,7-2,8,0,7,3,7,4 />
<path class=m3 d=M246,498l8-15,8-13,9-11,8-12,9-8,9-9,8-10,8-13,9-10,8-10,9-8,8-6,9-6,9-5,9-4,8-2,9,0,9,0,8-3,9-5,8-5,8-9,8-11,8-7,8-6,8-8,8-6,8-6,8-6,8-3,8-1,8-1,8-1,8-1,7-4,8-4,7-6,8-9,7-10,8-9,7-8,8-4,7-3,8,0,7,4,7,6 />
<path class=m3 d=M253,501l8-14,9-11,9-12,8-10,9-8,9-8,8-10,8-12,9-10,8-9,9-10,9-7,8-6,9-8,8-6,9-2,9-1,9-1,8,1,9-3,8-4,8-8,8-10,8-8,8-7,8-6,8-8,8-9,8-6,8-3,8-4,8,0,8,0,7-2,8-1,8-2,7-5,8-10,7-13,8-10,7-7,8-6,7-3,7,0,8,4,7,7 />
<path class=m3 d=M260,501l9-12,9-9,8-10,9-10,9-6,9-8,8-9,9-12,8-11,9-10,8-9,9-7,8-7,9-10,8-6,9-3,9-2,8-2,9,1,9-1,8-4,8-6,8-7,8-8,8-8,8-6,8-9,8-11,8-7,8-5,8-4,8-1,8-1,7-1,8,1,8,1,7-3,8-12,7-14,8-12,7-7,8-5,7-2,7,0,8,1,7,5 />
<path class=m3 d=M268,504l9-12,9-7,8-9,9-8,9-8,9-8,9-7,8-11,8-11,9-11,8-10,9-7,8-8,9-9,8-7,9-3,9-3,8-4,9-1,8-1,9-4,8-3,8-5,8-7,8-7,8-7,8-10,8-10,8-8,8-6,8-3,8-3,8-3,7-1,8,0,8,2,7-1,8-9,7-14,8-13,7-8,8-5,7-2,7-1,8,1,7,4 />
<path class=m3 d=M276,512l9-13,9-8,9-8,8-8,9-8,9-7,9-6,8-11,9-12,8-13,8-11,9-6,9-8,8-9,9-6,8-4,9-5,8-5,9-1,8-1,9-2,8-3,8-5,8-8,9-6,8-7,7-8,8-10,8-8,8-7,8-3,8-4,8-4,7-1,8-1,8,1,7-1,8-6,7-11,8-13,7-10,8-5,7-3,7-2,8,1,7,3 />
<path class=m2 d=M285,521l8-13,9-9,9-11,8-9,9-7,9-6,9-5,9-11,8-13,8-11,9-10,8-7,9-9,8-10,9-4,9-4,8-9,8-6,9-1,8-2,9-2,8-2,8-5,9-5,8-5,8-7,8-9,7-10,8-9,8-8,8-4,8-5,8-4,7-2,8,0,8,2,7-1,8-4,7-8,8-15,7-12,8-6,7-2,7-2,8,0,7,3 />
<path class=m3 d=M293,529l9-12,8-11,9-12,8-11,9-6,9-7,9-8,8-11,9-8,9-9,8-10,9-8,8-8,9-9,8-7,9-6,8-7,8-7,9-4,8-3,9-3,8-3,8-2,9-1,8-4,8-6,8-9,8-10,8-10,7-8,8-7,8-6,8-5,8-3,7,0,8,3,7,0,8-3,7-8,8-15,8-13,7-7,7-2,8-2,7,1,7,4 />
<path class=m3 d=M301,537l9-9,9-13,8-15,8-13,9-7,9-8,9-9,8-9,9-5,9-6,9-9,8-8,9-8,8-10,8-10,9-8,8-6,9-6,8-6,9-3,8-4,8-3,9-1,8,1,8-4,8-6,8-8,8-10,8-10,8-9,7-7,8-8,8-5,8-3,7,0,8,4,8,0,7-3,8-6,7-13,8-12,7-8,8-6,7-2,7,2,7,3 />
<path class=m2 d=M310,547l8-11,9-14,8-16,8-15,9-9,9-9,9-7,9-6,9-4,8-5,9-8,9-8,8-10,8-11,9-11,8-8,9-6,8-6,8-5,9-5,8-3,9-3,8-1,8,1,8-3,8-5,8-9,8-10,8-11,8-9,8-5,8-8,7-6,8-4,8-1,7,2,8,0,7,1,8-5,7-13,8-13,7-9,8-7,7-2,7,2,7,4 />
<path class=m2 d=M318,556l9-14,8-16,8-16,8-15,9-13,9-9,9-6,9-4,9-2,9-3,8-8,9-9,8-10,9-13,8-10,8-7,9-8,8-6,9-6,8-5,8-3,9-2,8-1,8-1,8-2,9-4,7-8,8-10,8-9,8-10,8-6,8-6,8-6,7-5,8-3,8-1,7,0,7,3,8-2,7-12,8-14,8-11,7-6,7-3,7,1,7,2 />
<path class=m3 d=M327,563l8-16,8-16,8-17,8-16,9-14,9-9,9-5,9-3,9-1,9-2,9-6,8-8,9-10,8-13,8-11,9-9,8-7,9-7,8-8,8-6,9-4,8-3,8-1,9,0,8-1,8-3,8-8,8-8,8-7,7-10,8-9,8-7,8-4,8-6,7-5,8-3,7,0,8,3,7,0,8-8,7-13,8-12,7-7,8-3,7,0,7,3 />
<path class=m3 d=M335,567l8-16,8-17,8-19,8-16,9-11,9-9,9-5,9-2,9-1,9-2,9-5,9-8,8-9,9-12,8-11,8-9,9-6,8-8,8-8,9-7,8-6,8-4,9-3,8,0,8,2,8-2,8-8,8-7,8-7,8-10,8-9,7-8,8-5,8-6,8-7,7-2,8-1,7,3,7,1,8-7,8-13,7-13,8-7,7-2,7,2,7,5 />
<path class=m3 d=M343,570l8-16,8-17,8-18,9-18,8-11,9-7,9-5,9-2,10,0,9-1,9-5,8-7,9-8,8-12,8-12,9-10,8-6,9-6,8-9,8-8,9-7,8-4,8-4,8-2,8,1,8-1,8-6,8-6,8-6,8-9,8-8,8-9,8-8,7-7,8-6,8-2,7-2,8,2,7,2,7-6,8-11,7-12,8-8,7-4,7,3,7,7 />
<path class=m3 d=M351,574l8-16,8-17,9-18,8-17,9-10,9-9,9-7,9-2,9,2,9,0,9-3,9-6,8-9,9-11,8-12,8-10,9-7,8-6,8-11,9-8,8-7,8-5,9-3,8-3,8,0,8-1,8-5,8-5,8-7,8-7,7-7,8-9,8-9,8-8,8-7,7-3,8-1,7,0,7,1,8-2,7-8,8-14,7-7,7-2,7,2,7,5 />
<path class=m3 d=M359,577l8-16,9-15,8-16,9-16,8-11,9-9,9-8,9-3,9-1,9,0,9-1,9-4,9-9,8-10,9-9,8-11,8-9,9-9,8-11,8-8,9-6,8-5,8-4,8-2,8-2,8-2,8-2,8-4,8-6,8-7,8-7,8-10,8-10,7-6,8-7,8-6,7-3,8,0,7,1,7,2,8-7,7-14,8-8,7-1,7,3,6,3 />
<path class=m3 d=M367,580l9-16,8-15,9-14,8-15,9-13,9-8,9-6,9-5,9-3,9,0,9-1,9-3,8-6,9-8,8-10,9-10,8-10,8-10,9-11,8-7,8-7,8-7,9-5,8-2,8-2,8-3,8-1,8-3,8-5,8-6,7-9,8-9,8-8,8-8,8-7,7-7,8-4,7-1,7,2,8,1,7-6,8-12,7-10,7-2,7,2,7,3 />
<path class=m3 d=M375,582l9-14,8-15,9-15,9-13,8-11,9-10,9-8,9-5,9-3,9-1,9,0,9-2,9-4,8-8,9-9,8-10,9-11,8-9,8-9,9-9,8-8,8-9,8-5,8-3,9-2,8-1,7,0,8-2,8-5,8-6,8-8,8-9,8-9,7-9,8-8,8-7,7-5,8-2,7,1,7,0,7-2,8-8,8-12,7-6,7,0,7,3 />
<path class=m3 d=M384,584l8-12,9-13,9-14,8-12,9-11,9-12,9-9,9-5,9-3,9-2,9-1,9,1,9-3,8-7,8-10,9-10,8-11,9-10,8-8,8-8,8-9,9-8,8-7,8-6,8-3,8,0,8,2,8,0,8-5,8-6,7-7,8-8,8-10,8-10,8-9,7-8,8-6,7-3,8-1,7,1,7-1,7-5,8-9,7-8,7-2,7,2 />
<path class=m3 d=M392,588l9-12,9-12,8-13,9-12,9-12,9-10,9-9,9-7,9-5,9-1,9,0,8,2,9-1,9-7,8-10,9-9,8-10,8-12,9-9,8-9,8-9,8-9,9-7,8-5,8-4,8-2,8,0,8,1,7-3,8-6,8-6,8-7,8-8,8-11,7-9,8-8,8-6,7-3,7-4,8-1,7,0,7-2,7-9,8-8,7-2,7,0 />
<path class=m2 d=M400,591l9-11,9-10,9-13,9-11,9-13,9-10,8-8,9-9,9-5,9-2,9,0,9,1,9,1,8-5,9-8,8-9,9-10,8-13,8-10,9-9,8-12,8-8,8-6,9-4,8-4,8-2,8-2,7-2,8-3,8-4,8-5,8-6,7-8,8-12,8-9,8-6,7-5,8-6,7-4,7-2,8-2,7-2,7-6,7-6,8-5,6,0 />
<path class=m2 d=M409,597l9-11,9-10,9-12,9-12,9-11,8-11,9-9,9-9,9-6,9-4,9-2,9,2,9,1,8-4,9-5,8-8,9-10,8-13,8-10,8-10,9-11,8-7,8-7,8-5,8-4,8-5,8-4,8-1,8-3,8-1,7-3,8-8,8-8,8-12,8-9,7-5,8-5,7-7,8-5,7-5,8-2,7-2,7-3,7-4,7-3,7,1 />
<path class=m2 d=M418,604l9-9,9-11,9-14,9-13,8-10,9-9,9-10,9-10,9-8,9-5,9-2,9,1,8-1,9-2,8-4,9-7,8-9,9-11,8-10,8-10,9-9,8-8,8-9,8-7,8-5,8-5,8-4,8-2,8-1,8,1,7-4,8-7,8-9,8-10,8-10,7-6,8-6,7-7,8-6,7-5,8-3,7-1,7-1,7-4,7,0,6,1 />
<path class=m3 d=M427,616l9-10,9-11,9-14,9-12,9-11,8-10,9-11,9-12,9-9,9-8,8-4,9,1,9-1,9-1,8-2,9-6,8-9,9-9,8-10,8-9,8-9,9-9,8-10,8-7,8-7,8-5,8-4,8-3,8-1,7,0,8-2,8-5,8-8,7-10,8-10,8-8,8-6,7-5,8-6,7-7,7-3,7-1,7,0,7-1,7-1,7-1 />
<path class=m4 d=M436,629l9-12,9-11,9-12,9-13,9-12,9-12,8-11,9-13,9-8,9-9,8-6,9-2,9-2,9-1,8-2,9-3,8-6,8-8,9-9,8-9,8-9,9-12,8-11,8-7,8-7,8-6,8-5,8-2,8-2,7-2,8-1,8-2,7-6,8-10,8-9,8-8,7-8,8-5,7-5,8-7,7-4,7-3,7,1,7,2,7-1,7-3 />
<path class=m4 d=M445,639l9-11,9-11,9-11,9-13,9-13,9-13,8-12,9-12,9-10,9-8,9-7,8-6,9-4,9-2,8-1,9-1,8-3,8-7,9-9,8-9,8-10,9-11,8-11,8-6,8-6,8-8,8-7,8-3,8-3,8-4,7-1,8-2,7-4,8-5,8-9,7-9,8-8,8-8,7-5,8-6,7-4,7-5,7,0,7,2,6,1,7-4 />
<path class=m3 d=M455,647l9-9,9-10,8-12,9-14,9-12,9-12,9-12,8-12,9-12,9-9,9-7,8-8,9-6,9-1,8-2,9-1,8-2,8-5,9-9,8-8,8-9,9-10,8-11,8-8,8-7,8-8,8-6,8-4,8-5,8-3,7-3,8-3,7-3,8-3,8-8,7-10,8-10,8-8,7-6,8-5,7-3,7-5,7-2,7,0,7,1,6,0 />
<path class=m3 d=M464,658l9-10,9-11,9-13,8-12,9-11,9-11,9-13,9-13,8-12,9-10,9-11,8-9,9-4,9-2,8-4,9,0,8,0,8-4,9-6,8-8,8-10,9-12,8-11,8-8,8-6,8-8,8-7,8-5,8-5,8-3,7-5,8-3,7-2,8-4,7-6,8-11,8-12,8-8,7-5,8-5,7-4,7-3,7-3,7,0,7,0,6,1 />
<path class=m3 d=M473,668l9-12,9-11,9-11,9-12,8-12,9-10,9-12,9-13,9-11,8-14,9-12,9-10,8-6,9-3,8-5,9-1,8,2,9-2,8-4,8-7,8-10,9-12,8-10,8-8,8-7,8-8,8-9,8-7,8-5,8-4,7-2,8-2,7-4,8-5,8-5,7-11,8-11,8-7,7-7,8-6,7-6,7-2,7-1,7,0,7-2,6,0 />
<path class=m3 d=M482,676l9-11,9-10,9-11,9-11,9-12,8-11,9-10,9-11,9-12,9-15,8-12,9-12,9-11,8-5,9-5,8-3,9-3,8-1,8-2,8-4,8-8,9-10,8-8,8-8,8-7,8-8,8-10,8-7,8-5,8-6,8-3,7-1,8-5,7-5,8-6,8-8,7-9,8-7,7-9,8-8,7-6,8-2,6-1,7-2,7-2,7,0 />
<path class=m3 d=M491,683l9-10,9-9,9-10,9-9,9-10,9-12,9-11,8-10,9-13,9-14,8-13,9-13,9-12,8-8,9-7,9-6,8-6,8-2,8-1,9-1,8-6,8-9,8-6,8-6,8-7,8-8,8-11,8-8,8-7,8-7,8-4,7-3,8-5,8-4,7-6,8-6,7-6,8-7,8-9,7-8,7-6,8-5,7-2,6,0,7-2,7-2 />
<path class=m3 d=M500,692l9-10,9-11,9-9,9-8,9-7,9-10,9-12,9-10,8-12,9-13,9-13,8-15,9-13,9-12,8-8,9-8,8-6,9-4,8-3,8-1,8-5,8-6,8-4,8-4,8-9,9-10,8-10,8-7,8-9,8-8,7-5,8-5,8-5,7-3,8-5,7-5,7-4,8-6,7-8,8-6,7-7,8-7,7-3,6,0,7-3,7-3 />
<path class=m3 d=M510,699l9-8,9-9,9-10,9-8,9-7,8-8,9-11,9-10,9-11,8-12,9-13,9-16,8-15,9-14,9-10,8-9,9-7,8-5,8-4,8-3,9-5,8-4,8-2,8-5,8-9,8-10,8-10,8-8,8-7,8-8,8-6,7-6,8-4,7-4,8-5,7-5,8-4,7-4,7-5,8-6,7-7,8-7,7-4,7-3,7-3,6-2 />
<path class=m3 d=M519,708l9-8,9-9,9-8,9-8,9-8,9-7,8-11,9-10,9-10,9-11,8-13,9-16,9-18,8-14,9-11,9-10,8-8,9-7,8-4,8-2,8-6,8-4,8-2,8-6,8-10,8-9,8-9,9-9,7-8,8-5,8-5,8-5,7-5,8-4,7-5,8-6,7-5,7-4,8-5,7-3,7-4,7-7,8-8,7-5,7-3,6-2 />
<path class=m3 d=M528,717l9-8,9-9,9-8,9-7,9-8,9-10,9-11,8-9,9-9,9-8,8-11,9-16,9-20,9-17,8-11,9-10,9-10,8-8,8-4,8-1,8-4,8-6,8-3,9-9,8-12,8-7,8-6,8-9,8-8,8-4,7-5,8-4,7-5,8-5,7-5,8-5,7-7,8-7,7-4,7-1,7-1,7-7,8-10,7-6,7-3,7-4 />
</g>
<path d="M23.2 43.9L30.7 92.8L105.8 148.1L178.3 89.8M30.7 92.8h-2M105.8 148.1h2M39.1 99h-2M116 139.9h2M47.8 105.4h-2M125.8 132h2M56.7 111.9h-2M135.3 124.4h2M65.9 118.7h-2M144.5 117h2M75.4 125.7h-2M153.4 109.8h2M85.2 132.9h-2M162 102.9h2M95.3 140.4h-2M170.3 96.3h2M105.8 148.1h-2M178.3 89.8h2M30.2 89.1h-2.2M28.5 78.4h-2.2M26.8 67.4h-2.2M25.1 55.9h-2.2M23.2 43.9h-2.2" stroke="#262626" stroke-width=".6" fill="none"/>
<text x="27.4" y="95.9" font-size="7.1" text-anchor="end">0</text>
<text x="109.4" y="151.1" font-size="7.1" text-anchor="start">0</text>
<text x="35.8" y="102.1" font-size="7.1" text-anchor="end">45</text>
<text x="119.6" y="142.9" font-size="7.1" text-anchor="start">45</text>
<text x="44.5" y="108.5" font-size="7.1" text-anchor="end">90</text>
<text x="129.4" y="135" font-size="7.1" text-anchor="start">90</text>
<text x="53.4" y="115" font-size="7.1" text-anchor="end">135</text>
<text x="138.9" y="127.4" font-size="7.1" text-anchor="start">135</text>
<text x="62.6" y="121.8" font-size="7.1" text-anchor="end">180</text>
<text x="148.1" y="120" font-size="7.1" text-anchor="start">180</text>
<text x="72.1" y="128.8" font-size="7.1" text-anchor="end">225</text>
<text x="157" y="112.8" font-size="7.1" text-anchor="start">225</text>
<text x="81.9" y="136" font-size="7.1" text-anchor="end">270</text>
<text x="165.6" y="105.9" font-size="7.1" text-anchor="start">270</text>
<text x="92" y="143.5" font-size="7.1" text-anchor="end">315</text>
<text x="173.9" y="99.3" font-size="7.1" text-anchor="start">315</text>
<text x="102.5" y="151.2" font-size="7.1" text-anchor="end">360</text>
<text x="181.9" y="92.8" font-size="7.1" text-anchor="start">360</text>
<text x="19.8" y="46.3" font-size="7.1" text-anchor="end">150</text>
<text x="21.7" y="58.3" font-size="7.1" text-anchor="end">100</text>
<text x="23.4" y="69.8" font-size="7.1" text-anchor="end">50</text>
<text x="25.1" y="80.8" font-size="7.1" text-anchor="end">0</text>
<text x="26.8" y="91.5" font-size="7.1" text-anchor="end">-50</text>
<text x="10" y="79" font-size="7.4" text-anchor="middle">Z(nm)</text>
<text x="39.5" y="123.6" font-size="7.4" text-anchor="middle">X(µm)</text>
<text x="162" y="128.6" font-size="7.4" text-anchor="middle">Y(µm)</text>
</g>
<g clip-path="url(#k1)"><g transform="translate(232.5 0)">
<rect x="190.6" y="24.3" width="9.7" height="99" fill="url(#cb)" stroke="#777" stroke-width=".5"/>
<text x="204.8" y="28.5" font-size="6.6" text-anchor="start">48.00</text>
<text x="204.8" y="35.4" font-size="6.6" text-anchor="start">41.00</text>
<text x="204.8" y="42.3" font-size="6.6" text-anchor="start">34.00</text>
<text x="204.8" y="49.3" font-size="6.6" text-anchor="start">27.00</text>
<text x="204.8" y="56.2" font-size="6.6" text-anchor="start">20.00</text>
<text x="204.8" y="63.1" font-size="6.6" text-anchor="start">13.00</text>
<text x="204.8" y="70.1" font-size="6.6" text-anchor="start">6.000</text>
<text x="204.8" y="77" font-size="6.6" text-anchor="start">-1.000</text>
<text x="204.8" y="83.9" font-size="6.6" text-anchor="start">-8.000</text>
<text x="204.8" y="90.8" font-size="6.6" text-anchor="start">-15.00</text>
<text x="204.8" y="97.8" font-size="6.6" text-anchor="start">-22.00</text>
<text x="204.8" y="104.7" font-size="6.6" text-anchor="start">-29.00</text>
<text x="204.8" y="111.6" font-size="6.6" text-anchor="start">-36.00</text>
<text x="204.8" y="118.6" font-size="6.6" text-anchor="start">-43.00</text>
<text x="204.8" y="125.5" font-size="6.6" text-anchor="start">-50.00</text>
<path d="M200.3 26.3h2M200.3 33.2h2M200.3 40.1h2M200.3 47.1h2M200.3 54h2M200.3 60.9h2M200.3 67.9h2M200.3 74.8h2M200.3 81.7h2M200.3 88.6h2M200.3 95.6h2M200.3 102.5h2M200.3 109.4h2M200.3 116.4h2M200.3 123.3h2" stroke="#555" stroke-width=".5"/>
</g></g>
<text x="336.4" y="204.6" font-size="15.9" text-anchor="middle" font-weight="bold">(b)</text>
<g transform="translate(465 0)">
<path d="M39.6 94L33.5 45.3M163 76.7L168.3 28.5M128.6 137.7L39.6 94M108.8 140.8L163 76.7M55.6 79.4L51.2 31.2M141.4 67.7L144.6 19.9M142.8 120.1L55.6 79.4M85.3 128.9L141.4 67.7M70.6 65.8L67.6 18.1M120.7 59.1L122.1 11.7M156 103.7L70.6 65.8M62.9 117.6L120.7 59.1M84.5 53L82.9 5.9M100.8 50.9L100.5 3.9M168.3 88.5L84.5 53M41.5 106.8L100.8 50.9M30.7 97.9L91.1 43.4M91.1 43.4L174.6 77.6M29.2 87.3L90.9 33.1M90.9 33.1L176 67.1M27.6 76.3L90.6 22.5M90.6 22.5L177.5 56.2M25.9 64.8L90.4 11.5M90.4 11.5L179 44.8" stroke="#e0e0e0" stroke-width=".5" fill="none"/>
<path d="M24.2 52.7L90.1 .1M90.1 .1L180.5 33M91.2 47L90.1 .1M174.2 81.3L180.5 33M31.2 101.6L91.2 47M91.2 47L174.2 81.3" stroke="#959595" stroke-width=".5" fill="none"/>
<g filter="url(#nc)">
<g class="s" transform="scale(.2)" style="--o:0.7;--w:1.6">
<path color=#0d5 d=M490,213l-15-6-15-6-15-6,10-6,15,6,15,6,15,6z />
<path color=#0eb d=M520,226l-15-6-15-7,10-6,15,7,16,6z />
<path color=#0d5 d=M536,230l-16-4,11-6,15,4z />
<path color=#1d1 d=M631,270l-16-8-16-8-16-6-16-7-15-7-16-4,10-6,15,5,16,6,16,6,16,6,16,7,16,7z />
<path color=#0d5 d=M663,285l-16-8-16-7,10-9,16,8,16,8z />
<path color=#0eb d=M696,297l-16-6-17-6,10-8,16,7,17,6z />
<path color=#0d5 d=M747,319l-17-9-17-7-17-6,10-7,17,6,16,6,17,10z />
<path color=#0eb d=M781,331l-17-5-17-7,9-7,17,8,17,5z />
<path color=#0d5 d=M816,344l-18-7-17-6,9-6,17,5,18,7z />
<path color=#1d1 d=M851,355l-18-6-17-5,9-7,17,5,18,5z />
<path color=#4d0 d=M869,362l-18-7,9-8,18,7z />
<path color=#1d1 d=M510,230l-15-5-16-7-15-6-15-7-15-6,11-4,15,6,15,6,15,6,15,7,15,6z />
<path color=#4d0 d=M605,269l-16-8-16-6-16-7-16-8-15-6-16-4,10-4,16,4,16,4,15,7,16,7,16,6,16,8z />
<path color=#1d1 d=M654,292l-17-7-16-8-16-8,10-7,16,8,16,7,16,8z />
<path color=#0d5 d=M670,299l-16-7,9-7,17,6z />
<path color=#1d1 d=M789,343l-17-6-17-5-17-7-17-8-17-7-17-5-17-6,10-8,16,6,17,6,17,7,17,9,17,7,17,5,17,6z />
<path color=#4d0 d=M825,356l-18-6-18-7,9-6,18,7,17,5z />
<path color=#6e0 d=M860,370l-17-8-18-6,8-7,18,6,18,7z />
<path color=#8e0 d=M438,208l-15-7,11-2,15,6z />
<path color=#6e0 d=M500,233l-16-5-15-7-15-7-16-6,11-3,15,7,15,6,16,7,15,5z />
<path color=#8e0 d=M547,254l-16-8-16-7-15-6,10-3,16,4,15,6,16,8z />
<path color=#6e0 d=M563,260l-16-6,10-6,16,7z />
<path color=#8e0 d=M579,266l-16-6,10-5,16,6z />
<path color=#6e0 d=M628,289l-17-8-16-8-16-7,10-5,16,8,16,8,16,8z />
<path color=#4d0 d=M694,317l-17-7-16-6-17-8-16-7,9-4,17,7,16,7,17,6,17,5z />
<path color=#6e0 d=M711,324l-17-7,10-7,17,7z />
<path color=#4d0 d=M746,336l-18-4-17-8,10-7,17,8,17,7z />
<path color=#6e0 d=M763,341l-17-5,9-4,17,5z />
<path color=#8e0 d=M816,360l-18-6-17-7-18-6,9-4,17,6,18,7,18,6z />
<path color=#be0 d=M834,368l-18-8,9-4,18,6z />
<path color=#8e0 d=M852,377l-18-9,9-6,17,8z />
<path color=#ce0 d=M521,251l-16-9-16-8-15-6-16-7-15-6-16-6-15-5,11-3,15,7,16,6,15,7,15,7,16,5,15,6,16,7z />
<path color=#be0 d=M553,263l-16-5-16-7,10-5,16,8,16,6z />
<path color=#ce0 d=M585,276l-16-7-16-6,10-3,16,6,16,7z />
<path color=#be0 d=M685,321l-17-8-17-7-17-7-16-8-17-7-16-8,10-3,16,8,17,8,16,7,17,8,16,6,17,7z />
<path color=#8e0 d=M719,336l-17-7-17-8,9-4,17,7,17,8z />
<path color=#be0 d=M736,339l-17-3,9-4,18,4z />
<path color=#ce0 d=M754,343l-18-4,10-3,17,5z />
<path color=#ef0 d=M825,374l-18-9-17-9-18-8-18-5,9-2,18,6,17,7,18,6,18,8z />
<path color=#ce0 d=M843,383l-18-9,9-6,18,9z />
<path color=#fd0 d=M432,217l-16-4-15-3,11-6,15,5,16,6z />
<path color=#fa0 d=M479,238l-16-9-16-7-15-5,11-2,15,6,16,7,15,6z />
<path color=#fd0 d=M494,247l-15-9,10-4,16,8z />
<path color=#fe0 d=M542,266l-16-5-16-6-16-8,11-5,16,9,16,7,16,5z />
<path color=#fd0 d=M575,279l-16-8-17-5,11-3,16,6,16,7z />
<path color=#fe0 d=M625,303l-17-8-17-8-16-8,10-3,16,8,17,7,16,8z />
<path color=#ef0 d=M710,339l-18-6-17-8-17-7-17-8-16-7,9-4,17,7,17,7,17,8,17,8,17,7z />
<path color=#fe0 d=M727,342l-17-3,9-3,17,3z />
<path color=#fd0 d=M745,345l-18-3,9-3,18,4z />
<path color=#fa0 d=M798,370l-17-10-18-9-18-6,9-2,18,5,18,8,17,9z />
<path color=#fd0 d=M816,381l-18-11,9-5,18,9z />
<path color=#fe0 d=M834,391l-18-10,9-7,18,9z />
<path color=#fa0 d=M405,218l-15-4,11-4,15,3z />
<path color=#f50 d=M436,225l-15-4-16-3,11-5,16,4,15,5z />
<path color=#f20 d=M452,233l-16-8,11-3,16,7z />
<path color=#f50 d=M468,243l-16-10,11-4,16,9z />
<path color=#f80 d=M484,252l-16-9,11-5,15,9z />
<path color=#fa0 d=M500,258l-16-6,10-5,16,8z />
<path color=#f80 d=M532,267l-16-5-16-4,10-3,16,6,16,5z />
<path color=#f50 d=M565,281l-17-7-16-7,10-1,17,5,16,8z />
<path color=#f80 d=M598,298l-17-9-16-8,10-2,16,8,17,8z />
<path color=#fa0 d=M614,308l-16-10,10-3,17,8z />
<path color=#fd0 d=M683,336l-18-6-17-7-17-6-17-9,11-5,16,7,17,8,17,7,17,8z />
<path color=#fa0 d=M700,340l-17-4,9-3,18,6z />
<path color=#f80 d=M718,345l-18-5,10-1,17,3z />
<path color=#f50 d=M736,349l-18-4,9-3,18,3z />
<path color=#f20 d=M771,364l-17-9-18-6,9-4,18,6,18,9z />
<path color=#f50 d=M789,375l-18-11,10-4,17,10z />
<path color=#f80 d=M807,387l-18-12,9-5,18,11z />
<path color=#fa0 d=M825,397l-18-10,9-6,18,10z />
<path color=#f20 d=M409,226l-15-4-15-5,11-3,15,4,16,3z />
<path color=#f10 d=M457,248l-16-10-16-7-16-5,12-5,15,4,16,8,16,10z />
<path color=#f20 d=M489,260l-16-4-16-8,11-5,16,9,16,6z />
<path color=#f10 d=M587,301l-16-10-17-7-16-8-17-7-16-6-16-3,11-2,16,4,16,5,16,7,17,7,16,8,17,9z />
<path color=#f20 d=M604,312l-17-11,11-3,16,10z />
<path color=#f50 d=M621,321l-17-9,10-4,17,9z />
<path color=#f80 d=M638,327l-17-6,10-4,17,6z />
<path color=#f50 d=M673,338l-17-5-18-6,10-4,17,7,18,6z />
<path color=#f20 d=M691,343l-18-5,10-2,17,4z />
<path color=#f10 d=M798,388l-18-10-18-9-18-9-18-7-18-5-17-5,9-3,18,5,18,4,18,6,17,9,18,11,18,12z />
<path color=#f20 d=M816,397l-18-9,9-1,18,10z />
<path color=#f10 d=M398,232l-16-7-15-7,12-1,15,5,15,4z />
<path color=#f00 d=M430,246l-16-8-16-6,11-6,16,5,16,7z />
<path color=#f10 d=M478,263l-16-3-16-6-16-8,11-8,16,10,16,8,16,4z />
<path color=#e00 d=M560,295l-17-6-16-7-17-9-16-7-16-3,11-3,16,3,16,6,17,7,16,8,17,7z />
<path color=#f00 d=M577,304l-17-9,11-4,16,10z />
<path color=#f10 d=M681,350l-18-6-18-6-17-7-17-7-17-9-17-11,10-3,17,11,17,9,17,6,18,6,17,5,18,5z />
<path color=#f00 d=M698,355l-17-5,10-7,17,5z />
<path color=#e00 d=M789,391l-18-8-18-7-19-7-18-7-18-7,10-7,18,5,18,7,18,9,18,9,18,10z />
<path color=#f00 d=M808,398l-19-7,9-3,18,9z />
<path color=#e00 d=M418,255l-16-8-15-8-16-8-16-7,12-6,15,7,16,7,16,6,16,8z />
<path color=#f00 d=M450,267l-16-5-16-7,12-9,16,8,16,6z />
<path color=#e00 d=M600,330l-17-10-17-9-17-7-16-6-17-7-17-9-16-7-16-5-17-3,12-7,16,3,16,3,16,7,17,9,16,7,17,6,17,9,17,11,17,9z />
<path color=#f00 d=M653,352l-18-6-17-7-18-9,11-6,17,7,17,7,18,6z />
<path color=#e00 d=M798,407l-19-8-18-6-19-6-18-6-18-7-18-8-18-7-17-7,10-8,18,6,17,5,18,7,18,7,19,7,18,7,18,8,19,7z />
<path color=#e00 d=M788,421l-19-9-18-7-19-6-18-5-19-8-17-8-18-10-18-8-18-5-17-7-17-8-18-10-17-8-17-7-16-6-17-7-17-8-16-8-17-6-16-4-16-6-16-6-16-8-16-8-16-8-15-7,11-9,16,7,16,8,15,8,16,8,16,7,16,5,17,3,16,5,16,7,17,9,17,7,16,6,17,7,17,9,17,10,18,9,17,7,18,6,17,7,18,7,18,8,18,7,18,6,19,6,18,6,19,8z />
<path color=#e00 d=M777,438l-18-10-19-10-18-7-19-6-18-7-18-10-18-9-18-7-17-6-18-7-17-7-18-9-17-8-17-9-17-8-16-5-17-6-17-8-16-7-16-6-16-7-17-7-15-6-16-7-16-8-16-7,12-11,15,7,16,8,16,8,16,8,16,6,16,6,16,4,17,6,16,8,17,8,17,7,16,6,17,7,17,8,18,10,17,8,17,7,18,5,18,8,18,10,17,8,19,8,18,5,19,6,18,7,19,9z />
<path color=#e00 d=M767,451l-19-10-18-10-19-7-18-7-19-8-18-10-18-7-18-6-17-7-18-7-17-8-18-8-17-9-17-11-17-8-17-5-16-4-17-8-16-8-17-7-16-8-16-6-16-5-16-7-16-8-16-8,12-10,16,7,16,8,16,7,15,6,17,7,16,7,16,6,16,7,17,8,17,6,16,5,17,8,17,9,17,8,18,9,17,7,18,7,17,6,18,7,18,9,18,10,18,7,19,6,18,7,19,10,18,10z />
<path color=#e00 d=M756,461l-18-9-19-9-19-7-18-5-18-9-19-10-18-6-18-6-17-7-18-9-17-8-18-8-17-11-17-11-17-8-17-5-17-5-16-8-17-8-16-8-17-7-16-5-16-5-16-8-16-9-16-8,12-8,16,8,16,8,16,7,16,5,16,6,16,8,17,7,16,8,17,8,16,4,17,5,17,8,17,11,17,9,18,8,17,8,18,7,17,7,18,6,18,7,18,10,19,8,18,7,19,7,18,10,19,10z />
<path color=#e00 d=M563,395l-18-8-17-8-17-10-18-9-17-7-17-6-16-7-17-10-17-9-16-8-17-6-16-5-16-6-16-9-16-9-16-8,12-8,16,8,16,9,16,8,16,5,16,5,17,7,16,8,17,8,16,8,17,5,17,5,17,8,17,11,17,11,18,8,17,8z />
<path color=#f00 d=M616,420l-18-7-17-8-18-10,11-11,18,9,17,7,18,6z />
<path color=#e00 d=M746,472l-19-9-19-9-18-5-19-6-18-8-19-9-18-6,11-14,18,6,19,10,18,9,18,5,19,7,19,9,18,9z />
<path color=#e00 d=M569,415l-17-8-18-8-18-8-17-8-17-8-17-6-17-8-17-10-17-10-17-8-16-7-16-7-17-6-16-7-16-9-16-9-16-8,12-10,16,8,16,9,16,9,16,6,16,5,17,6,16,8,17,9,17,10,16,7,17,6,17,7,18,9,17,10,17,8,18,8,18,10z />
<path color=#f00 d=M605,432l-18-8-18-9,12-10,17,8,18,7z />
<path color=#e00 d=M735,485l-19-10-18-8-19-5-19-7-18-8-19-8-18-7,11-12,18,6,19,9,18,8,19,6,18,5,19,9,19,9z />
<path color=#e00 d=M453,383l-17-10-17-10-17-9-16-7-17-6-16-7-17-8-16-9-16-8-16-9-16-7,12-13,16,8,16,9,16,9,16,7,17,6,16,7,16,7,17,8,17,10,17,10,17,8z />
<path color=#f00 d=M470,391l-17-8,12-14,17,6z />
<path color=#e00 d=M724,500l-19-10-19-9-18-6-19-8-19-9-18-8-18-7-18-9-18-8-18-7-18-8-17-8-18-7-17-5,12-16,17,8,17,8,18,8,18,8,17,8,18,9,18,8,18,7,19,8,18,8,19,7,19,5,18,8,19,10z />
<path color=#e00 d=M424,385l-17-11-17-8-16-5-17-6-16-9-17-9-16-8-16-8-16-7-16-7,12-14,16,7,16,9,16,8,16,9,17,8,16,7,17,6,16,7,17,9,17,10z />
<path color=#f00 d=M476,408l-18-5-17-8-17-10,12-12,17,10,17,8,17,5z />
<path color=#e00 d=M713,517l-19-11-19-9-19-8-18-9-19-9-18-7-19-9-18-9-18-8-18-7-17-10-18-8-17-5,11-12,18,7,17,8,18,8,18,7,18,8,18,9,18,7,18,8,19,9,19,8,18,6,19,9,19,10z />
<path color=#e00 d=M412,397l-17-9-17-8-16-7-17-7-17-9-16-10-17-7-16-7-16-6-16-7,13-13,16,7,16,7,16,8,16,8,17,9,16,9,17,6,16,5,17,8,17,11z />
<path color=#f00 d=M464,422l-17-6-18-9-17-10,12-12,17,10,17,8,18,5z />
<path color=#e00 d=M517,445l-18-9-18-8-17-6,12-14,17,5,18,8,17,10z />
<path color=#f00 d=M702,534l-19-11-19-9-19-9-19-8-18-8-19-8-18-9-18-10-18-8-18-9,11-14,18,7,18,8,18,9,19,9,18,7,19,9,18,9,19,8,19,9,19,11z />
<path color=#e00 d=M333,380l-17-10-17-9-16-9-16-8-16-6-16-6,12-12,16,7,16,6,16,7,17,7,16,10,17,9z />
<path color=#f00 d=M400,414l-17-8-17-8-17-9-16-9,12-14,17,7,16,7,17,8,17,9z />
<path color=#f10 d=M690,550l-19-9-19-9-19-9-19-7-18-7-19-8-18-10-18-10-18-8-18-8-18-9-17-8-18-7-17-8-18-10-17-9,12-17,17,10,18,9,17,6,17,6,18,8,18,9,18,9,18,8,18,10,18,9,19,8,18,8,19,8,19,9,19,9,19,11z />
<path color=#e00 d=M287,377l-16-9-17-9-16-7-16-8,13-12,16,6,16,6,16,8,16,9z />
<path color=#f00 d=M304,387l-17-10,12-16,17,9z />
<path color=#f10 d=M371,424l-17-8-17-10-16-10-17-9,12-17,17,10,16,9,17,9,17,8z />
<path color=#f20 d=M423,451l-18-10-17-9-17-8,12-18,17,8,17,9,18,10z />
<path color=#f50 d=M566,520l-19-10-18-9-18-9-18-7-18-8-17-9-18-8-17-9,12-18,17,8,18,7,17,8,18,9,18,8,18,8,18,10,18,10z />
<path color=#f80 d=M584,528l-18-8,11-19,19,8z />
<path color=#f50 d=M679,568l-20-8-19-8-18-10-19-8-19-6,12-19,18,7,19,7,19,9,19,9,19,9z />
<path color=#f00 d=M242,376l-16-9-16-9,12-14,16,8,16,7z />
<path color=#f10 d=M292,404l-17-9-16-10-17-9,12-17,17,9,16,9,17,10z />
<path color=#f20 d=M308,414l-16-10,12-17,17,9z />
<path color=#f50 d=M342,433l-17-9-17-10,13-18,16,10,17,10z />
<path color=#f80 d=M411,468l-18-9-17-9-17-9-17-8,12-17,17,8,17,8,17,9,18,10z />
<path color=#fa0 d=M535,530l-18-11-18-10-18-8-18-7-17-8-18-9-17-9,12-17,17,9,18,8,17,9,18,8,18,7,18,9,18,9z />
<path color=#fd0 d=M572,546l-18-7-19-9,12-20,19,10,18,8z />
<path color=#fa0 d=M591,552l-19-6,12-18,19,6z />
<path color=#f80 d=M610,560l-19-8,12-18,19,8z />
<path color=#fa0 d=M667,588l-19-8-19-9-19-11,12-18,18,10,19,8,20,8z />
<path color=#f10 d=M246,401l-16-10-17-10-16-10,13-13,16,9,16,9,17,9z />
<path color=#f20 d=M263,412l-17-11,13-16,16,10z />
<path color=#f50 d=M280,423l-17-11,12-17,17,9z />
<path color=#f80 d=M296,433l-16-10,12-19,16,10z />
<path color=#fa0 d=M313,443l-17-10,12-19,17,10z />
<path color=#fd0 d=M505,536l-18-11-18-10-18-7-18-8-17-8-18-9-17-9-17-8-17-8-17-7-17-8,12-19,17,9,17,8,17,9,17,9,18,9,17,9,18,9,17,8,18,7,18,8,18,10z />
<path color=#fe0 d=M523,547l-18-11,12-17,18,11z />
<path color=#ef0 d=M542,556l-19-9,12-17,19,9z />
<path color=#fe0 d=M560,562l-18-6,12-17,18,7z />
<path color=#fd0 d=M655,605l-19-9-19-11-19-11-19-7-19-5,12-16,19,6,19,8,19,11,19,9,19,8z />
<path color=#f10 d=M200,395l-16-10,13-14,16,10z />
<path color=#f20 d=M217,404l-17-9,13-14,17,10z />
<path color=#f50 d=M233,415l-16-11,13-13,16,10z />
<path color=#f80 d=M250,428l-17-13,13-14,17,11z />
<path color=#fa0 d=M267,440l-17-12,13-16,17,11z />
<path color=#fd0 d=M284,450l-17-10,13-17,16,10z />
<path color=#fe0 d=M301,460l-17-10,12-17,17,10z />
<path color=#ef0 d=M318,468l-17-8,12-17,17,8z />
<path color=#fe0 d=M475,541l-18-11-18-8-18-8-18-8-17-9-17-8-18-7-17-7-16-7,12-17,17,7,17,8,17,8,17,9,18,9,17,8,18,8,18,7,18,10z />
<path color=#ef0 d=M493,553l-18-12,12-16,18,11z />
<path color=#ce0 d=M530,572l-19-8-18-11,12-17,18,11,19,9z />
<path color=#ef0 d=M548,578l-18-6,12-16,18,6z />
<path color=#fe0 d=M567,582l-19-4,12-16,19,5z />
<path color=#fd0 d=M624,611l-19-12-19-11-19-6,12-15,19,7,19,11,19,11z />
<path color=#fe0 d=M644,622l-20-11,12-15,19,9z />
<path color=#f20 d=M188,411l-17-9,13-17,16,10z />
<path color=#f50 d=M204,420l-16-9,12-16,17,9z />
<path color=#f80 d=M221,430l-17-10,13-16,16,11z />
<path color=#fa0 d=M237,441l-16-11,12-15,17,13z />
<path color=#fd0 d=M254,453l-17-12,13-13,17,12z />
<path color=#fe0 d=M271,464l-17-11,13-13,17,10z />
<path color=#ef0 d=M288,474l-17-10,13-14,17,10z />
<path color=#ce0 d=M322,491l-17-8-17-9,13-14,17,8,16,7z />
<path color=#ef0 d=M356,503l-17-6-17-6,12-16,17,7,18,7z />
<path color=#fe0 d=M444,546l-18-10-17-9-18-8-18-8-17-8,13-14,17,8,17,9,18,8,18,8,18,8z />
<path color=#ef0 d=M462,559l-18-13,13-16,18,11z />
<path color=#ce0 d=M481,571l-19-12,13-18,18,12z />
<path color=#be0 d=M518,587l-19-7-18-9,12-18,18,11,19,8z />
<path color=#ce0 d=M536,592l-18-5,12-15,18,6z />
<path color=#ef0 d=M555,597l-19-5,12-14,19,4z />
<path color=#fd0 d=M593,615l-19-10-19-8,12-15,19,6,19,11z />
<path color=#fe0 d=M612,627l-19-12,12-16,19,12z />
<path color=#ef0 d=M632,640l-20-13,12-16,20,11z />
<path color=#f80 d=M175,429l-16-11,12-16,17,9z />
<path color=#fa0 d=M208,446l-17-8-16-9,13-18,16,9,17,10z />
<path color=#fd0 d=M224,455l-16-9,13-16,16,11z />
<path color=#fe0 d=M241,465l-17-10,13-14,17,12z />
<path color=#ef0 d=M258,475l-17-10,13-12,17,11z />
<path color=#ce0 d=M292,496l-17-10-17-11,13-11,17,10,17,9z />
<path color=#be0 d=M309,504l-17-8,13-13,17,8z />
<path color=#ce0 d=M326,511l-17-7,13-13,17,6z />
<path color=#ef0 d=M378,533l-17-7-18-8-17-7,13-14,17,6,17,8,18,8z />
<path color=#fe0 d=M414,549l-18-9-18-7,13-14,18,8,17,9z />
<path color=#ef0 d=M432,561l-18-12,12-13,18,10z />
<path color=#ce0 d=M450,574l-18-13,12-15,18,13z />
<path color=#be0 d=M505,597l-18-5-19-7-18-11,12-15,19,12,18,9,19,7z />
<path color=#ce0 d=M524,602l-19-5,13-10,18,5z />
<path color=#fe0 d=M600,642l-19-12-19-10-19-9-19-9,12-10,19,5,19,8,19,10,19,12z />
<path color=#ce0 d=M620,655l-20-13,12-15,20,13z />
<path color=#fd0 d=M178,453l-16-9-17-11,14-15,16,11,16,9z />
<path color=#fe0 d=M228,478l-17-9-16-8-17-8,13-15,17,8,16,9,17,10z />
<path color=#ef0 d=M262,498l-17-10-17-10,13-13,17,10,17,11z />
<path color=#ce0 d=M330,531l-17-8-17-7-17-8-17-10,13-12,17,10,17,8,17,7,17,7z />
<path color=#ef0 d=M365,545l-17-6-18-8,13-13,18,8,17,7z />
<path color=#fe0 d=M401,560l-18-9-18-6,13-12,18,7,18,9z />
<path color=#ef0 d=M419,574l-18-14,13-11,18,12z />
<path color=#ce0 d=M437,587l-18-13,13-13,18,13z />
<path color=#be0 d=M474,601l-18-5-19-9,13-13,18,11,19,7z />
<path color=#ef0 d=M493,606l-19-5,13-9,18,5z />
<path color=#fe0 d=M569,645l-20-10-19-11-19-11-18-7,12-9,19,5,19,9,19,9,19,10z />
<path color=#ef0 d=M588,656l-19-11,12-15,19,12z />
<path color=#ce0 d=M608,668l-20-12,12-14,20,13z />
</g>
</g>
<path d="M90.1 39.3L90.4 34.2L91.3 34.2L91.8 39.3zM90.1 39.3L90.4 34.7L91 34.7L91.5 39.3zM89.9 41L90.2 37.8L90.9 37.8L91.4 41zM83.8 41L84.2 39.2L85.1 39.2L85.6 41zM104.4 46.5L104.8 43.3L105.5 43.3L105.9 46.5zM125 53.9L125.5 50.5L126.2 50.5L126.4 53.9zM67.8 54.6L68 52L68.8 52L69.4 54.6zM78.1 55.2L78.4 52L79.1 52L79.6 55.2zM78.1 55.3L78.5 52.8L79.3 52.8L79.8 55.3zM98.8 53.7L99.2 51.7L100 51.7L100.4 53.7zM120.1 58.9L120.6 55.6L121.3 55.6L121.6 58.9zM133.9 61.9L134.4 59.7L135.2 59.7L135.5 61.9zM70.8 63.3L71.1 60.9L71.8 60.9L72.3 63.3zM75.1 64.6L75.5 62.6L76.4 62.6L77 64.6zM87.2 64.6L87.6 62.5L88.6 62.5L89.1 64.6zM95.8 63.8L96.1 60.5L97 60.5L97.4 63.8zM93 65.6L93.3 63.2L94 63.2L94.4 65.6zM71.8 70.5L72.2 68.8L73 68.8L73.5 70.5zM95.2 66.8L95.6 65.1L96.5 65.1L97 66.8zM121.3 68.1L121.8 65.3L122.7 65.3L123.1 68.1zM35.1 86.1L35.2 83.6L35.9 83.6L36.6 86.1zM83.2 75L83.5 73L84.2 73L84.6 75zM29.1 87.5L29.2 84.6L30 84.6L30.8 87.5zM173.2 71.8L173.8 69.8L174.5 69.8L174.6 71.8zM67.4 80.8L67.6 77.4L68.5 77.4L69.2 80.8zM33.8 87.8L33.9 85.2L34.8 85.2L35.6 87.8zM147.5 70.9L148.1 68.5L148.8 68.5L149.1 70.9zM62.4 88.1L62.7 85.7L63.7 85.7L64.3 88.1zM63.2 94.8L63.4 92.2L64.1 92.2L64.6 94.8zM147.3 82.7L148 79.9L149 79.9L149.2 82.7zM132.7 85.4L133.3 82L134.1 82L134.3 85.4zM140.1 84.6L140.7 81.8L141.6 81.8L141.9 84.6zM154.8 85.5L155.5 83.1L156.3 83.1L156.6 85.5zM111.6 117.2L112.1 114.5L113.1 114.5L113.5 117.2zM123.8 116.2L124.4 113.4L125.3 113.4L125.7 116.2z" fill="#d01000"/>
<path d="M90.4 34.2L90.7 29.6L91.3 34.2zM90.4 34.7L90.6 30.4L91 34.7zM90.2 37.8L90.5 35.1L90.9 37.8zM84.2 39.2L84.6 37.8L85.1 39.2zM104.8 43.3L105.1 40.6L105.5 43.3zM125.5 50.5L126 47.6L126.2 50.5zM68 52L68.3 49.9L68.8 52zM78.4 52L78.6 49.2L79.1 52zM78.5 52.8L78.8 50.7L79.3 52.8zM99.2 51.7L99.6 50.2L100 51.7zM120.6 55.6L121 52.7L121.3 55.6zM134.4 59.7L134.9 58L135.2 59.7zM71.1 60.9L71.3 58.9L71.8 60.9zM75.5 62.6L75.9 61.1L76.4 62.6zM87.6 62.5L88 60.9L88.6 62.5zM96.1 60.5L96.5 57.6L97 60.5zM93.3 63.2L93.6 61.3L94 63.2zM72.2 68.8L72.5 67.6L73 68.8zM95.6 65.1L96.1 63.8L96.5 65.1zM121.8 65.3L122.3 62.9L122.7 65.3zM35.2 83.6L35.3 81.7L35.9 83.6zM83.5 73L83.8 71.5L84.2 73zM29.2 84.6L29.2 82.2L30 84.6zM173.8 69.8L174.3 68.2L174.5 69.8zM67.6 77.4L67.9 74.5L68.5 77.4zM33.9 85.2L34.1 83L34.8 85.2zM148.1 68.5L148.6 66.7L148.8 68.5zM62.7 85.7L63 83.8L63.7 85.7zM63.4 92.2L63.5 90.1L64.1 92.2zM148 79.9L148.7 77.6L149 79.9zM133.3 82L133.8 79L134.1 82zM140.7 81.8L141.3 79.4L141.6 81.8zM155.5 83.1L156.1 81.2L156.3 83.1zM112.1 114.5L112.6 112.3L113.1 114.5zM124.4 113.4L124.9 111.1L125.3 113.4z" fill="#700000"/>
<path d="M24.2 52.7L31.2 101.6L121 147L174.2 81.3M31.2 101.6v2M121 147h2M41.5 106.8v2M128.6 137.7h2M52.1 112.2v2M135.8 128.7h2M62.9 117.6v2M142.8 120.1h2M73.9 123.2v2M149.5 111.7h2M85.3 128.9v2M156 103.7h2M96.9 134.8v2M162.3 96h2M108.8 140.8v2M168.3 88.5h2M121 147v2M174.2 81.3h2M30.7 97.9h-2.2M29.2 87.3h-2.2M27.6 76.3h-2.2M25.9 64.8h-2.2M24.2 52.7h-2.2" stroke="#262626" stroke-width=".6" fill="none"/>
<text x="30.9" y="111.4" font-size="7.1" text-anchor="middle">360</text>
<text x="124.6" y="150" font-size="7.1" text-anchor="start">360</text>
<text x="41.2" y="116.6" font-size="7.1" text-anchor="middle">315</text>
<text x="132.2" y="140.7" font-size="7.1" text-anchor="start">315</text>
<text x="51.8" y="122" font-size="7.1" text-anchor="middle">270</text>
<text x="139.4" y="131.7" font-size="7.1" text-anchor="start">270</text>
<text x="62.6" y="127.4" font-size="7.1" text-anchor="middle">225</text>
<text x="146.4" y="123.1" font-size="7.1" text-anchor="start">225</text>
<text x="73.6" y="133" font-size="7.1" text-anchor="middle">180</text>
<text x="153.1" y="114.7" font-size="7.1" text-anchor="start">180</text>
<text x="85" y="138.7" font-size="7.1" text-anchor="middle">135</text>
<text x="159.6" y="106.7" font-size="7.1" text-anchor="start">135</text>
<text x="96.6" y="144.6" font-size="7.1" text-anchor="middle">90</text>
<text x="165.9" y="99" font-size="7.1" text-anchor="start">90</text>
<text x="108.5" y="150.6" font-size="7.1" text-anchor="middle">45</text>
<text x="171.9" y="91.5" font-size="7.1" text-anchor="start">45</text>
<text x="120.7" y="156.8" font-size="7.1" text-anchor="middle">0</text>
<text x="177.8" y="84.3" font-size="7.1" text-anchor="start">0</text>
<text x="20.8" y="55.1" font-size="7.1" text-anchor="end">150</text>
<text x="22.5" y="67.2" font-size="7.1" text-anchor="end">100</text>
<text x="24.2" y="78.7" font-size="7.1" text-anchor="end">50</text>
<text x="25.8" y="89.7" font-size="7.1" text-anchor="end">0</text>
<text x="27.3" y="100.3" font-size="7.1" text-anchor="end">-50</text>
<text x="9.5" y="88.3" font-size="7.4" text-anchor="middle">Z(nm)</text>
<text x="53.8" y="138" font-size="7.4" text-anchor="middle">X(µm)</text>
<text x="171.3" y="128.6" font-size="7.4" text-anchor="middle">Y(µm)</text>
</g>
<g clip-path="url(#k2)"><g transform="translate(465 0)">
<rect x="190.6" y="24.3" width="9.7" height="99" fill="url(#cb)" stroke="#777" stroke-width=".5"/>
<text x="204.8" y="28.5" font-size="6.6" text-anchor="start">48.00</text>
<text x="204.8" y="35.4" font-size="6.6" text-anchor="start">41.00</text>
<text x="204.8" y="42.3" font-size="6.6" text-anchor="start">34.00</text>
<text x="204.8" y="49.3" font-size="6.6" text-anchor="start">27.00</text>
<text x="204.8" y="56.2" font-size="6.6" text-anchor="start">20.00</text>
<text x="204.8" y="63.1" font-size="6.6" text-anchor="start">13.00</text>
<text x="204.8" y="70.1" font-size="6.6" text-anchor="start">6.000</text>
<text x="204.8" y="77" font-size="6.6" text-anchor="start">-1.000</text>
<text x="204.8" y="83.9" font-size="6.6" text-anchor="start">-8.000</text>
<text x="204.8" y="90.8" font-size="6.6" text-anchor="start">-15.00</text>
<text x="204.8" y="97.8" font-size="6.6" text-anchor="start">-22.00</text>
<text x="204.8" y="104.7" font-size="6.6" text-anchor="start">-29.00</text>
<text x="204.8" y="111.6" font-size="6.6" text-anchor="start">-36.00</text>
<text x="204.8" y="118.6" font-size="6.6" text-anchor="start">-43.00</text>
<text x="204.8" y="125.5" font-size="6.6" text-anchor="start">-50.00</text>
<path d="M200.3 26.3h2M200.3 33.2h2M200.3 40.1h2M200.3 47.1h2M200.3 54h2M200.3 60.9h2M200.3 67.9h2M200.3 74.8h2M200.3 81.7h2M200.3 88.6h2M200.3 95.6h2M200.3 102.5h2M200.3 109.4h2M200.3 116.4h2M200.3 123.3h2" stroke="#555" stroke-width=".5"/>
</g></g>
<text x="569.2" y="204.6" font-size="15.9" text-anchor="middle" font-weight="bold">(c)</text>
<g transform="translate(0 224)">
<path d="M40.9 86.5L34.4 37.8M168.1 83.9L172.5 35.4M116 139.9L40.9 86.5M95.3 140.4L168.1 83.9M60.3 74.3L55.6 26.2M148.5 72.6L151.2 24.6M135.3 124.4L60.3 74.3M75.4 125.7L148.5 72.6M78.6 62.8L75.5 15.4M130 61.9L131.1 14.4M153.4 109.8L78.6 62.8M56.7 111.9L130 61.9M95.8 52.1L94.2 5.2M112.5 51.7L112.2 4.9M170.3 96.3L95.8 52.1M39.1 99L112.5 51.7M29.8 86.9L104 41.2M104 41.2L179 83.9M28.3 76.7L103.8 31.5M103.8 31.5L180.1 73.7M26.7 66.2L103.6 21.4M103.6 21.4L181.3 63.2M25 55.3L103.3 11.1M103.3 11.1L182.5 52.3" stroke="#e0e0e0" stroke-width=".5" fill="none"/>
<path d="M23.2 43.9L103.1 .3M103.1 .3L183.7 41M104.1 46.9L103.1 .3M178.3 89.8L183.7 41M30.7 92.8L104.1 46.9M104.1 46.9L178.3 89.8" stroke="#959595" stroke-width=".5" fill="none"/>
<g class="s" transform="scale(.2)" style="--o:0.7;--w:2">
<path color=#f10 d=M511,163l8-5,7-4-7-7-8,5-8,4z />
<path color=#f00 d=M496,172l7-5,8-4-8-7-7,4-8,5z />
<path color=#f10 d=M448,200l8-5,8-5,8-4,8-5,8-4,8-5-8-7-8,5-8,5-8,5-8,5-8,4-8,5z />
<path color=#f00 d=M383,240l8-6,8-5,9-5,8-6,8-5,8-5,8-4,8-4-8-6-8,4-8,4-8,4-8,5-8,6-9,5-8,5-8,6z />
<path color=#f10 d=M297,298l9-7,8-7,9-7,9-6,8-5,9-5,8-5,9-5,8-6,9-5-8-7-9,6-8,5-9,6-8,5-9,5-8,5-9,6-9,6-8,8-9,7z />
<path color=#f20 d=M270,315l9-5,9-6,9-6-8-6-9,6-8,6-9,7z />
<path color=#f50 d=M253,331l9-9,8-7-7-4-9,7-9,8z />
<path color=#f80 d=M244,339l9-8-8-5-9,9z />
<path color=#fa0 d=M235,348l9-9-8-4-8,9z />
<path color=#fd0 d=M227,358l8-10-7-4-9,9z />
<path color=#ef0 d=M218,368l9-10-8-5-9,10z />
<path color=#ce0 d=M209,379l9-11-8-5-8,11z />
<path color=#be0 d=M201,389l8-10-7-5-9,10z />
<path color=#6e0 d=M183,406l9-8,9-9-8-5-9,9-9,8z />
<path color=#4d0 d=M164,420l10-6,9-8-8-5-9,7-9,7z />
<path color=#1d1 d=M155,427l9-7-7-5-10,7z />
<path class=m3 d=M147,422l10-7,9-7,9-7,9-8,9-9,9-10,8-11,9-10,9-9,8-9,9-9,9-8,9-7,9-7,8-6,9-6,9-7,8-8,9-6,9-6,8-5,9-5,8-5,9-6,8-5,9-6,8-6,8-5,9-5,8-6,8-5,8-4,8-4,8-4,8-5,8-4,8-5,8-5,8-5,8-5,8-5,7-4,8-4,8-5 />
<path color=#f10 d=M448,209l8-5,8-5,8-5,8-4,8-5,8-4,7-5,8-4,8-5,8-4,7-5-8-4-7,4-8,5-8,4-7,5-8,5-8,4-8,5-8,4-8,5-8,5-8,4z />
<path color=#f00 d=M424,224l8-6,8-5,8-4-8-5-8,4-8,5-8,5z />
<path color=#f10 d=M305,301l8-6,9-7,9-6,8-6,9-6,9-5,8-5,9-5,8-5,9-5,8-5,8-5,8-6,9-5-8-6-8,6-9,5-8,5-8,6-9,5-8,6-9,5-8,5-9,5-8,5-9,6-9,7-8,7-9,7z />
<path color=#f20 d=M269,325l9-6,9-6,9-6,9-6-8-3-9,6-9,6-9,5-8,7z />
<path color=#f50 d=M260,333l9-8-7-3-9,9z />
<path color=#f80 d=M252,342l8-9-7-2-9,8z />
<path color=#fa0 d=M243,351l9-9-8-3-9,9z />
<path color=#fd0 d=M234,360l9-9-8-3-8,10z />
<path color=#fe0 d=M225,371l9-11-7-2-9,10z />
<path color=#ef0 d=M217,381l8-10-7-3-9,11z />
<path color=#be0 d=M208,391l9-10-8-2-8,10z />
<path color=#8e0 d=M199,400l9-9-7-2-9,9z />
<path color=#6e0 d=M190,409l9-9-7-2-9,8z />
<path color=#4d0 d=M162,430l10-7,9-7,9-7-7-3-9,8-10,6-9,7z />
<path class=m2 d=M155,427l9-7,10-6,9-8,9-8,9-9,8-10,9-11,9-10,8-10,9-9,9-8,9-9,8-7,9-5,9-6,9-6,9-7,8-7,9-7,9-6,8-5,9-5,8-5,9-5,8-6,9-5,8-6,8-5,9-5,8-6,8-5,8-5,8-4,8-4,8-5,8-5,8-4,8-5,8-4,8-5,7-5,8-4,8-5,7-4 />
<path color=#f10 d=M496,188l7-4,8-5,8-4,8-4,7-5,8-5-8-3-7,5-8,4-8,5-8,4-7,5-8,4z />
<path color=#f00 d=M431,228l9-6,8-5,8-5,8-5,8-5,8-5,8-4,8-5-8-3-8,5-8,4-8,5-8,5-8,5-8,4-8,5-8,6z />
<path color=#f10 d=M277,327l9-7,8-5,9-6,9-5,9-7,9-6,8-6,9-6,9-6,8-5,9-5,8-4,9-5,8-5,9-5,8-5,8-5,8-6-7-4-9,5-8,6-8,5-8,5-9,5-8,5-9,5-8,5-9,5-9,6-8,6-9,6-9,7-8,6-9,6-9,6-9,6-9,6z />
<path color=#f20 d=M259,342l9-8,9-7-8-2-9,8-8,9z />
<path color=#f50 d=M250,352l9-10-7,0-9,9z />
<path color=#fa0 d=M241,362l9-10-7-1-9,9z />
<path color=#fd0 d=M233,372l8-10-7-2-9,11z />
<path color=#fe0 d=M224,382l9-10-8-1-8,10z />
<path color=#ce0 d=M215,392l9-10-7-1-9,10z />
<path color=#be0 d=M206,401l9-9-7-1-9,9z />
<path color=#8e0 d=M188,417l9-8,9-8-7-1-9,9-9,7z />
<path color=#6e0 d=M169,432l10-8,9-7-7-1-9,7-10,7z />
<path class=m1 d=M162,430l10-7,9-7,9-7,9-9,9-9,9-10,8-10,9-11,9-9,9-9,8-9,9-8,9-6,9-6,9-6,9-6,8-6,9-7,9-6,8-6,9-6,9-5,8-5,9-5,8-5,9-5,8-5,8-5,8-6,9-5,8-6,8-5,8-4,8-5,8-5,8-5,8-4,8-5,8-4,7-5,8-4,8-5,8-4,7-5 />
<path color=#f10 d=M519,184l8-4,8-5,7-4,8-5-8-5-8,5-7,5-8,4-8,4z />
<path color=#f00 d=M448,228l8-6,8-5,8-5,8-6,8-4,8-5,8-4,7-5,8-4-8-5-8,5-7,4-8,5-8,4-8,5-8,5-8,5-8,5-8,5z />
<path color=#f10 d=M381,269l8-5,9-4,8-5,9-4,8-5,8-5,8-7,9-6-8-6-9,6-8,6-8,5-8,5-9,5-8,5-9,5-8,4z />
<path color=#f00 d=M355,284l9-6,8-5,9-4-8-6-9,5-8,5-9,6z />
<path color=#f10 d=M275,338l9-7,9-7,9-6,9-5,9-6,9-5,9-6,8-6,9-6-8-5-9,6-8,6-9,6-9,7-9,5-9,6-8,5-9,7-9,7z />
<path color=#f20 d=M267,346l8-8-7-4-9,8z />
<path color=#f50 d=M258,355l9-9-8-4-9,10z />
<path color=#f80 d=M249,365l9-10-8-3-9,10z />
<path color=#fa0 d=M240,375l9-10-8-3-8,10z />
<path color=#fd0 d=M231,385l9-10-7-3-9,10z />
<path color=#ef0 d=M222,394l9-9-7-3-9,10z />
<path color=#ce0 d=M204,411l9-9,9-8-7-2-9,9-9,8z />
<path color=#be0 d=M195,419l9-8-7-2-9,8z />
<path color=#8e0 d=M177,435l9-8,9-8-7-2-9,7-10,8z />
<path class=m1 d=M169,432l10-8,9-7,9-8,9-8,9-9,9-10,9-10,8-10,9-10,9-10,9-8,9-7,9-7,8-5,9-6,9-5,9-7,9-6,8-6,9-6,9-6,8-5,9-5,8-4,9-5,8-5,9-5,8-5,8-5,8-6,9-6,8-5,8-5,8-5,8-5,8-5,8-4,8-5,7-4,8-5,8-4,8-4,7-5,8-5 />
<path color=#f10 d=M504,204l8-4,7-5,8-4,8-4,8-5,7-5,8-4-8-7-8,5-7,4-8,5-8,4-8,4-7,5-8,4z />
<path color=#f00 d=M472,224l8-6,8-5,8-4,8-5-8-7-8,5-8,4-8,6-8,5z />
<path color=#f10 d=M283,345l9-8,9-6,9-6,9-6,9-6,9-5,9-5,8-6,9-6,9-5,8-5,9-5,8-4,9-5,8-4,9-4,8-4,8-6,9-7,8-7,8-6,8-5-8-7-8,5-8,6-9,6-8,7-8,5-8,5-9,4-8,5-9,4-8,5-9,4-8,5-9,6-9,6-8,6-9,6-9,5-9,6-9,5-9,6-9,7-9,7z />
<path color=#f20 d=M266,361l9-9,8-7-8-7-8,8-9,9z />
<path color=#f50 d=M257,371l9-10-8-6-9,10z />
<path color=#fa0 d=M248,380l9-9-8-6-9,10z />
<path color=#fd0 d=M239,389l9-9-8-5-9,10z />
<path color=#fe0 d=M230,398l9-9-8-4-9,9z />
<path color=#ef0 d=M221,407l9-9-8-4-9,8z />
<path color=#ce0 d=M203,423l9-8,9-8-8-5-9,9-9,8z />
<path color=#be0 d=M194,432l9-9-8-4-9,8z />
<path color=#8e0 d=M184,440l10-8-8-5-9,8z />
<path class=m3 d=M177,435l9-8,9-8,9-8,9-9,9-8,9-9,9-10,9-10,9-10,9-9,8-8,9-7,9-7,9-6,9-5,9-6,9-5,9-6,8-6,9-6,9-6,8-5,9-4,8-5,9-4,8-5,9-4,8-5,8-5,8-7,9-6,8-6,8-5,8-5,8-6,8-4,8-5,8-4,7-5,8-4,8-4,8-5,7-4,8-5 />
<path color=#f10 d=M447,256l9-7,8-7,8-6,8-5,8-5,8-5,8-5,8-5,8-4,7-5,8-4,8-5,8-4,7-4,8-5-8-7-8,4-7,5-8,5-8,4-8,4-7,5-8,4-8,5-8,4-8,5-8,6-8,5-8,6-8,7-9,7z />
<path color=#f20 d=M423,270l8-4,8-4,8-6-8-7-8,6-8,4-9,4z />
<path color=#f10 d=M292,352l9-7,9-7,8-6,9-6,9-5,9-6,9-5,9-5,8-6,9-5,9-5,8-5,9-5,8-4,9-5-9-7-8,4-9,5-8,4-9,5-8,5-9,5-9,6-8,6-9,5-9,5-9,6-9,6-9,6-9,6-9,8z />
<path color=#f20 d=M283,359l9-7-9-7-8,7z />
<path color=#f50 d=M274,368l9-9-8-7-9,9z />
<path color=#f80 d=M265,377l9-9-8-7-9,10z />
<path color=#fa0 d=M256,386l9-9-8-6-9,9z />
<path color=#fd0 d=M247,395l9-9-8-6-9,9z />
<path color=#fe0 d=M238,403l9-8-8-6-9,9z />
<path color=#ef0 d=M220,420l9-8,9-9-8-5-9,9-9,8z />
<path color=#ce0 d=M211,428l9-8-8-5-9,8z />
<path color=#be0 d=M202,437l9-9-8-5-9,9z />
<path color=#8e0 d=M192,446l10-9-8-5-10,8z />
<path class=m4 d=M184,440l10-8,9-9,9-8,9-8,9-9,9-9,9-9,9-9,9-10,9-9,8-7,9-8,9-6,9-6,9-6,9-6,9-5,9-5,8-6,9-6,9-5,8-5,9-5,8-4,9-5,8-4,9-4,8-4,8-6,9-7,8-7,8-6,8-5,8-6,8-5,8-4,8-5,8-4,7-5,8-4,8-4,8-5,7-5,8-4 />
<path color=#f20 d=M566,190l8-4-8-6-8,5z />
<path color=#f10 d=M464,254l8-6,8-6,8-5,8-6,8-5,8-5,8-4,8-5,7-4,8-5,8-4,8-5,7-4-8-5-7,4-8,4-8,5-8,4-7,5-8,4-8,5-8,5-8,5-8,5-8,5-8,6-8,7z />
<path color=#f20 d=M414,285l8-5,9-5,8-4,8-5,8-5,9-7-8-5-9,7-8,6-8,4-8,4-9,5-8,4z />
<path color=#f10 d=M318,345l9-6,8-7,9-5,9-5,9-6,9-5,8-6,9-5,9-5,8-5,9-5-8-6-9,5-8,5-9,5-9,5-8,6-9,5-9,5-9,6-9,5-9,6-8,6z />
<path color=#f20 d=M291,365l9-7,9-7,9-6-8-7-9,7-9,7-9,7z />
<path color=#f50 d=M282,373l9-8-8-6-9,9z />
<path color=#f80 d=M273,381l9-8-8-5-9,9z />
<path color=#fa0 d=M264,390l9-9-8-4-9,9z />
<path color=#fd0 d=M246,407l9-9,9-8-8-4-9,9-9,8z />
<path color=#fe0 d=M237,416l9-9-8-4-9,9z />
<path color=#ef0 d=M228,424l9-8-8-4-9,8z />
<path color=#ce0 d=M218,432l10-8-8-4-9,8z />
<path color=#be0 d=M200,450l9-9,9-9-7-4-9,9-10,9z />
<path class=m3 d=M192,446l10-9,9-9,9-8,9-8,9-9,9-8,9-9,9-9,9-9,9-9,9-7,9-7,9-7,8-6,9-6,9-5,9-6,9-5,9-5,8-6,9-5,9-5,8-5,9-5,8-4,9-5,8-4,8-4,8-6,9-7,8-7,8-6,8-5,8-5,8-5,8-5,8-5,8-4,7-5,8-4,8-5,8-4,7-4,8-5 />
<path color=#f20 d=M574,193l8-4-8-3-8,4z />
<path color=#f10 d=M472,257l8-6,8-6,8-5,8-6,8-5,8-5,8-5,8-4,7-5,8-5,8-4,8-4,7-4-8-3-7,4-8,5-8,4-8,5-7,4-8,5-8,4-8,5-8,5-8,6-8,5-8,6-8,6z />
<path color=#f20 d=M439,278l8-5,8-5,8-6,9-5-8-3-9,7-8,5-8,5-8,4z />
<path color=#f10 d=M326,348l9-6,8-6,9-6,9-5,9-6,9-5,8-6,9-6,9-4,8-5,9-5,8-5,9-5-8-3-9,5-8,5-9,5-8,5-9,5-9,5-8,6-9,5-9,6-9,5-9,5-8,7-9,6z />
<path color=#f20 d=M289,375l9-8,10-7,9-6,9-6-8-3-9,6-9,7-9,7-9,8z />
<path color=#f50 d=M280,383l9-8-7-2-9,8z />
<path color=#f80 d=M271,391l9-8-7-2-9,9z />
<path color=#fa0 d=M262,399l9-8-7-1-9,8z />
<path color=#fd0 d=M244,417l9-9,9-9-7-1-9,9-9,9z />
<path color=#fe0 d=M235,425l9-8-7-1-9,8z />
<path color=#ef0 d=M226,433l9-8-7-1-10,8z />
<path color=#ce0 d=M207,451l10-9,9-9-8-1-9,9-9,9z />
<path class=m2 d=M200,450l9-9,9-9,10-8,9-8,9-9,9-9,9-8,9-9,9-8,9-8,9-7,9-7,9-6,9-6,8-7,9-5,9-5,9-6,9-5,8-6,9-5,9-5,8-5,9-5,8-5,9-5,8-4,8-5,8-5,9-7,8-6,8-6,8-5,8-6,8-5,8-5,8-4,8-5,7-4,8-5,8-4,8-5,7-4,8-4 />
<path color=#f10 d=M297,375l9-7,9-7,9-6,9-5,9-6,9-7,9-6,9-5,9-6,8-6,9-5,9-6,8-5,9-5,9-5,8-5,8-5,9-5,8-6,8-5,9-6,8-5,8-5,8-6,8-5,8-6,8-5,8-4,8-4,8-5,7-5,8-4,8-4,7-5,8-4-8,0-8,4-7,4-8,4-8,4-8,5-7,5-8,4-8,5-8,5-8,5-8,6-8,5-8,6-8,6-9,5-8,6-8,5-8,5-9,5-8,5-9,5-8,5-9,4-9,6-8,6-9,5-9,6-9,5-9,6-8,6-9,6-9,6-9,6-10,7-9,8z />
<path color=#f20 d=M279,390l9-8,9-7-8,0-9,8-9,8z />
<path color=#f50 d=M270,398l9-8-8,1-9,8z />
<path color=#f80 d=M261,407l9-9-8,1-9,9z />
<path color=#fa0 d=M242,424l9-9,10-8-8,1-9,9-9,8z />
<path color=#fd0 d=M233,432l9-8-7,1-9,8z />
<path color=#fe0 d=M224,441l9-9-7,1-9,9z />
<path color=#ef0 d=M214,450l10-9-7,1-10,9z />
<path class=m1 d=M207,451l10-9,9-9,9-8,9-8,9-9,9-9,9-8,9-8,9-8,9-8,10-7,9-6,9-6,9-6,8-6,9-6,9-5,9-6,9-5,8-6,9-6,9-4,8-5,9-5,8-5,9-5,8-5,8-5,8-6,9-5,8-6,8-6,8-5,8-6,8-5,8-5,8-5,8-4,7-5,8-5,8-4,8-4,7-4,8-4 />
<path color=#f00 d=M544,220l8-4,8-4,7-5,8-4,8-4,8-5,7-4-8-1-8,4-7,5-8,4-8,4-7,5-8,5-8,4z />
<path color=#e00 d=M512,240l8-5,8-6,8-4,8-5-8,0-8,4-8,5-8,6-8,5z />
<path color=#f00 d=M323,362l9-6,9-6,9-6,9-6,9-6,9-6,9-5,8-6,9-5,9-6,8-5,9-5,8-5,9-5,8-6,9-5,8-6,8-6,9-5,8-5,8-6,8-5-8,0-8,6-8,5-8,5-9,6-8,5-8,6-9,5-8,5-8,5-9,5-9,5-8,5-9,6-9,5-8,6-9,6-9,5-9,6-9,7-9,6-9,5-9,6z />
<path color=#f10 d=M277,397l9-8,9-7,10-7,9-7,9-6-8-1-9,7-9,7-9,7-9,8-9,8z />
<path color=#f20 d=M268,405l9-8-7,1-9,9z />
<path color=#f50 d=M249,422l10-8,9-9-7,2-10,8-9,9z />
<path color=#f80 d=M240,431l9-9-7,2-9,8z />
<path color=#fa0 d=M231,440l9-9-7,1-9,9z />
<path color=#fd0 d=M222,448l9-8-7,1-10,9z />
<path class=m1 d=M214,450l10-9,9-9,9-8,9-9,10-8,9-9,9-8,9-8,9-7,9-7,9-7,9-6,9-5,9-6,9-7,9-6,9-5,9-6,8-6,9-5,9-6,8-5,9-5,9-5,8-5,8-5,9-5,8-6,8-5,9-6,8-5,8-5,8-6,8-5,8-6,8-5,8-4,8-4,8-5,7-5,8-4,8-4,7-5,8-4 />
<path color=#f00 d=M583,207l8-4,8-5,7-4-8-4-7,4-8,5-8,4z />
<path color=#e00 d=M331,366l9-6,9-6,9-6,9-6,9-6,9-6,9-5,9-5,8-5,9-6,9-6,8-5,9-6,8-5,9-5,8-6,8-6,8-6,9-5,8-6,8-5,8-5,8-5,8-5,8-5,8-4,8-4,8-4,8-5,7-4-8-4-8,4-7,5-8,4-8,4-8,5-8,4-8,6-8,5-8,5-8,6-8,5-9,5-8,6-8,6-9,5-8,6-9,5-8,5-9,5-8,5-9,6-9,5-8,6-9,5-9,6-9,6-9,6-9,6-9,6-9,6z />
<path color=#f00 d=M294,392l9-7,10-6,9-7,9-6-8-4-9,6-9,7-10,7-9,7z />
<path color=#f10 d=M266,415l10-8,9-7,9-8-8-3-9,8-9,8-9,9z />
<path color=#f20 d=M248,433l9-9,9-9-7-1-10,8-9,9z />
<path color=#f50 d=M239,442l9-9-8-2-9,9z />
<path color=#f80 d=M229,451l10-9-8-2-9,8z />
<path class=m1 d=M222,448l9-8,9-9,9-9,10-8,9-9,9-8,9-8,9-7,10-7,9-7,9-6,9-6,9-6,9-6,9-6,9-6,9-6,9-5,8-6,9-5,9-6,8-5,9-5,8-5,9-5,8-6,9-5,8-6,8-6,9-5,8-5,8-6,8-5,8-5,8-6,8-4,8-5,8-4,8-4,7-5,8-4,8-4,8-5,7-4 />
<path color=#f00 d=M592,213l7-5,8-4,8-5-9-5-7,4-8,5-8,4z />
<path color=#e00 d=M330,378l9-6,9-6,10-6,9-6,8-6,9-6,9-6,9-5,9-5,9-5,8-6,9-6,8-5,9-6,8-6,9-5,8-6,9-5,8-6,8-6,8-5,8-6,8-5,8-5,8-5,8-4,8-5,8-4,8-4,8-4,8-4-9-6-7,4-8,5-8,4-8,4-8,4-8,5-8,5-8,5-8,5-8,5-8,6-9,5-8,6-8,6-8,6-9,5-8,5-9,6-8,5-9,6-9,6-8,5-9,5-9,5-9,6-9,6-9,6-9,6-9,6-9,6-9,6z />
<path color=#f00 d=M293,404l9-7,10-7,9-6,9-6-8-6-9,7-10,6-9,7-9,8z />
<path color=#f10 d=M265,428l10-9,9-7,9-8-8-4-9,7-10,8-9,9z />
<path color=#f20 d=M247,447l9-10,9-9-8-4-9,9-9,9z />
<path color=#f50 d=M237,455l10-8-8-5-10,9z />
<path class=m2 d=M229,451l10-9,9-9,9-9,9-9,10-8,9-7,9-8,9-7,10-6,9-7,9-6,9-6,9-6,9-6,9-6,9-6,9-6,9-5,9-5,8-5,9-6,9-6,8-5,9-6,8-5,9-5,8-6,8-6,8-6,9-5,8-6,8-5,8-5,8-5,8-5,8-5,8-4,8-4,8-4,8-5,7-4,8-4,8-5,7-4 />
<path color=#f00 d=M600,217l8-5,7-4,8-5-8-4-8,5-8,4-7,5z />
<path color=#e00 d=M320,395l9-6,9-6,10-6,9-6,9-6,9-6,9-6,9-6,9-5,8-6,9-5,9-6,9-6,8-5,9-6,8-6,9-5,8-6,8-5,9-6,8-5,8-6,8-6,9-6,8-5,8-5,8-4,8-5,8-4,8-5,7-4,8-4,8-4-8-4-8,4-8,4-8,4-8,4-8,5-8,4-8,5-8,5-8,5-8,6-8,5-8,6-8,6-9,5-8,6-9,5-8,6-9,6-8,5-9,6-8,6-9,5-9,5-9,5-9,6-9,6-8,6-9,6-10,6-9,6-9,6-9,6-9,6z />
<path color=#f00 d=M292,415l9-7,10-7,9-6-8-5-10,7-9,7-9,8z />
<path color=#f10 d=M264,440l9-9,10-8,9-8-8-3-9,7-10,9-9,9z />
<path color=#f20 d=M255,450l9-10-8-3-9,10z />
<path color=#f50 d=M245,458l10-8-8-3-10,8z />
<path class=m2 d=M237,455l10-8,9-10,9-9,10-9,9-7,9-8,9-7,10-7,9-6,9-6,9-6,9-6,10-6,9-6,8-6,9-6,9-6,9-5,9-5,9-5,8-6,9-6,8-5,9-6,8-6,9-5,8-6,9-5,8-6,8-6,8-5,8-6,8-5,8-5,8-5,8-4,8-5,8-4,8-4,8-4,8-4,7-5,8-4,8-5 />
<path color=#f00 d=M608,222l8-5,8-5,7-4-8-5-8,5-7,4-8,5z />
<path color=#e00 d=M310,412l9-6,9-6,10-5,9-6,9-6,9-5,9-7,9-6,9-6,9-5,9-6,9-6,9-6,8-6,9-5,9-6,8-6,9-6,8-5,8-5,9-5,8-6,8-6,9-5,8-6,8-6,8-6,8-5,8-4,8-5,8-5,8-4,8-5,8-3,7-4-8-5-8,4-8,4-7,4-8,5-8,4-8,5-8,4-8,5-8,5-9,6-8,6-8,6-8,5-9,6-8,5-8,6-9,5-8,6-9,6-8,5-9,6-9,6-9,5-8,6-9,5-9,6-9,6-9,6-9,6-9,6-10,6-9,6-9,6-9,6-10,7z />
<path color=#f00 d=M291,427l9-7,10-8-9-4-9,7-9,8z />
<path color=#f10 d=M263,453l9-9,9-9,10-8-8-4-10,8-9,9-9,10z />
<path color=#f20 d=M253,462l10-9-8-3-10,8z />
<path class=m1 d=M245,458l10-8,9-10,9-9,10-8,9-8,9-7,10-7,9-6,9-6,9-6,10-6,9-6,9-6,9-6,9-6,9-6,9-5,8-6,9-5,9-6,9-6,8-5,9-6,8-6,9-5,8-6,8-5,9-6,8-5,8-6,8-6,9-6,8-5,8-5,8-4,8-5,8-4,8-5,7-4,8-4,8-4,8-5,7-4,8-5 />
<path color=#f00 d=M609,232l8-4,7-5,8-4,7-5-8-6-7,4-8,5-8,5-7,4z />
<path color=#e00 d=M427,349l9-6,9-6,8-6,9-6,9-6,8-5,9-5,8-5,8-5,9-6,8-6,8-5,8-6,8-6,8-6,9-4,8-5,8-5,7-5,8-5,8-4,8-4-8-6-8,3-8,5-8,4-8,5-8,5-8,4-8,5-8,6-8,6-8,6-9,5-8,6-8,6-9,5-8,5-8,5-9,6-8,6-9,6-9,5-8,6-9,6z />
<path color=#f00 d=M337,407l9-5,9-5,10-6,9-6,9-6,9-6,9-6,9-6,9-6,8-6-8-7-9,6-9,6-9,5-9,6-9,6-9,7-9,5-9,6-9,6-10,5z />
<path color=#e00 d=M318,419l9-6,10-6-9-7-9,6-9,6z />
<path color=#f00 d=M290,441l9-8,10-7,9-7-8-7-10,8-9,7-10,8z />
<path color=#f10 d=M261,466l10-8,9-8,10-9-9-6-9,9-9,9-10,9z />
<path class=m3 d=M253,462l10-9,9-9,9-9,10-8,9-7,10-8,9-6,9-6,10-5,9-6,9-6,9-5,9-7,9-6,9-6,9-5,9-6,9-6,9-6,8-6,9-5,9-6,8-6,9-6,8-5,8-5,9-5,8-6,8-6,9-5,8-6,8-6,8-6,8-5,8-4,8-5,8-5,8-4,8-5,8-3,7-4,8-5,8-5,7-4 />
<path color=#f00 d=M610,241l7-5,8-4,8-4,7-5,8-4-9-5-7,5-8,4-7,5-8,4-8,4z />
<path color=#e00 d=M462,337l8-6,9-6,9-6,8-5,8-5,9-5,8-6,8-5,9-6,8-6,8-6,8-5,8-5,8-5,8-5,8-5,8-5,8-4-9-5-8,4-8,5-7,5-8,5-8,5-9,4-8,6-8,6-8,6-8,5-8,6-9,6-8,5-8,5-9,5-8,5-9,6-9,6z />
<path color=#f00 d=M298,445l10-7,9-7,9-6,10-6,9-6,10-6,9-5,9-5,9-6,9-7,9-6,9-6,9-5,9-6,9-6,9-6,8-6,9-6-9-6-8,6-9,6-9,6-8,6-9,6-9,6-9,6-9,6-9,6-9,6-10,6-9,5-9,5-10,6-9,6-9,7-10,7-9,8z />
<path color=#f10 d=M270,469l9-8,10-8,9-8-8-4-10,9-9,8-10,8z />
<path class=m3 d=M261,466l10-8,9-8,10-9,9-8,10-7,9-7,9-6,10-6,9-5,9-5,10-6,9-6,9-6,9-6,9-6,9-6,9-6,8-6,9-6,9-6,8-6,9-6,9-6,8-5,9-5,8-5,8-5,9-6,8-6,8-5,8-6,8-6,8-6,9-4,8-5,8-5,7-5,8-5,8-4,8-4,8-4,7-5,8-4,7-5 />
<path color=#f10 d=M649,229l7-3-8-7-8,4z />
<path color=#f00 d=M618,246l8-4,7-4,8-5,8-4-9-6-7,5-8,4-8,4-7,5z />
<path color=#e00 d=M538,298l8-5,8-6,8-5,8-6,8-5,8-5,8-5,8-5,8-5,8-5-8-5-8,4-8,5-8,5-8,5-8,5-8,5-8,5-8,6-8,6-9,6z />
<path color=#f00 d=M297,458l10-7,9-6,10-7,9-6,9-6,10-6,9-6,9-6,10-5,9-6,9-6,9-7,9-6,9-5,9-6,8-5,9-6,9-6,8-6,9-7,9-5,8-6,8-6,9-5,8-6,9-5,8-6-9-5-8,5-8,6-9,5-8,5-8,5-9,6-9,6-8,6-9,6-8,6-9,6-9,6-9,6-9,5-9,6-9,6-9,7-9,6-9,5-9,5-10,6-9,6-10,6-9,6-9,7-10,7-9,8z />
<path color=#f10 d=M278,474l9-8,10-8-8-5-10,8-9,8z />
<path class=m2 d=M270,469l9-8,10-8,9-8,10-7,9-7,9-6,10-6,9-6,10-6,9-5,9-5,9-6,9-7,9-6,9-6,9-5,9-6,9-6,9-6,8-6,9-6,8-6,9-6,9-6,8-5,8-5,9-5,8-6,8-5,9-6,8-6,8-6,8-5,8-5,8-5,8-5,8-5,8-5,8-4,7-5,8-4,8-4,7-5,8-4 />
<path color=#f10 d=M642,245l8-4,7-4,8-4-9-7-7,3-8,4-8,5z />
<path color=#f00 d=M462,363l8-6,9-6,9-6,8-6,9-6,8-5,8-6,9-6,8-5,8-6,9-5,8-6,8-6,8-5,8-5,8-5,8-5,8-5,8-5,7-5,8-4,8-4-9-7-7,4-8,4-8,5-8,5-8,5-8,5-8,5-8,5-8,6-8,5-8,6-8,5-8,6-9,5-8,6-9,5-8,6-8,6-9,5-9,7-8,6-9,6z />
<path color=#f10 d=M435,380l9-5,9-6,9-6-9-7-9,6-8,5-9,6z />
<path color=#f00 d=M417,392l9-6,9-6-8-7-9,5-9,6z />
<path color=#f10 d=M390,410l9-6,9-6,9-6-8-8-9,7-9,6-9,6z />
<path color=#f00 d=M325,453l9-6,10-6,9-6,10-7,9-6,9-6,9-6-8-7-10,5-9,6-9,6-10,6-9,6-9,6-10,7z />
<path color=#f10 d=M286,480l10-7,10-7,9-6,10-7-9-8-9,6-10,7-10,8-9,8z />
<path class=m4 d=M278,474l9-8,10-8,10-7,9-6,10-7,9-6,9-6,10-6,9-6,9-6,10-5,9-6,9-6,9-7,9-6,9-5,9-6,8-5,9-6,9-6,8-6,9-7,9-5,8-6,8-6,9-5,8-6,9-5,8-6,8-5,8-6,8-5,8-6,8-5,8-5,8-5,8-5,8-5,8-5,8-4,7-4,8-5,8-4,7-3 />
<path color=#f10 d=M619,270l8-6,8-4,8-5,7-4,8-4,8-3,7-4-8-7-8,4-7,4-8,4-8,4-8,4-7,5-8,5z />
<path color=#f00 d=M522,334l8-6,8-6,9-5,8-6,8-6,8-6,8-5,9-5,8-5,8-5,7-5,8-4-8-7-8,5-8,5-8,5-8,5-8,5-8,6-8,6-9,5-8,6-8,5-9,6-8,6z />
<path color=#f10 d=M295,487l10-7,9-7,10-6,10-7,9-6,10-6,9-6,9-6,9-7,10-7,9-6,9-6,9-5,9-6,9-7,9-6,9-6,9-6,8-5,9-6,9-6,8-6,9-6,8-5,9-6-9-6-8,5-9,6-8,6-9,6-9,6-8,6-9,6-9,6-9,5-9,6-9,6-9,6-9,6-9,6-9,6-9,6-9,6-10,7-9,6-10,6-9,6-10,7-9,6-10,7-10,7z />
<path class=m4 d=M286,480l10-7,10-7,9-6,10-7,9-6,10-6,9-6,10-7,9-6,9-6,9-6,9-6,9-6,9-6,9-6,9-6,9-5,9-6,9-6,8-6,9-6,9-6,8-6,9-6,8-5,8-6,9-6,8-5,8-6,9-5,8-6,8-6,8-5,8-5,8-5,8-5,8-5,8-5,7-5,8-4,8-4,8-4,7-4,8-4 />
<path color=#f10 d=M620,279l8-5,8-5,8-5,7-4,8-4,8-3,7-4,8-4-9-5-7,4-8,3-8,4-7,4-8,5-8,4-8,6-8,4z />
<path color=#f00 d=M539,333l8-6,8-5,9-6,8-6,8-6,8-6,8-5,8-5,8-4,8-5-9-5-7,5-8,5-8,5-9,5-8,5-8,6-8,6-8,6-9,5-8,6z />
<path color=#f10 d=M304,492l9-7,10-6,10-7,9-6,10-6,9-6,10-7,9-6,9-7,9-7,9-6,10-6,9-6,9-6,9-6,8-6,9-7,9-6,9-5,9-6,8-6,9-6,8-5,9-6,8-5,9-6-9-5-8,6-9,6-8,5-9,6-8,6-9,6-9,6-8,5-9,6-9,6-9,6-9,7-9,6-9,5-9,6-9,6-10,7-9,7-9,6-9,6-10,6-9,6-10,7-10,6-9,7-10,7z />
<path class=m2 d=M295,487l10-7,9-7,10-6,10-7,9-6,10-6,9-6,9-6,9-7,10-7,9-6,9-6,9-5,9-6,9-7,9-6,9-6,9-6,8-5,9-6,9-6,8-6,9-6,8-5,9-6,8-6,8-6,9-5,8-6,8-6,8-6,8-5,9-5,8-5,8-5,7-5,8-4,8-6,8-4,8-5,7-4,8-4,8-3,7-4 />
<path color=#f20 d=M683,256l7-3-8-8-8,4z />
<path color=#f10 d=M621,290l8-5,8-5,7-5,8-4,8-5,7-3,8-3,8-4-9-7-7,4-8,3-8,4-7,4-8,5-8,5-8,5-8,5z />
<path color=#f00 d=M572,322l8-5,9-6,8-6,8-6,8-4,8-5-9-6-8,4-8,5-8,5-8,6-8,6-8,6z />
<path color=#f10 d=M513,361l9-5,9-5,8-6,8-5,9-6,8-6,8-6-8-6-9,6-8,5-8,6-9,6-8,5-9,6-8,5z />
<path color=#f00 d=M496,373l9-6,8-6-8-6-9,6-8,6z />
<path color=#f10 d=M312,499l10-7,10-6,9-7,10-6,9-6,10-7,9-6,10-7,9-7,9-6,9-6,9-6,9-6,9-6,9-7,9-6,9-6,9-6,9-6,8-6-8-6-9,6-9,5-9,6-9,7-8,6-9,6-9,6-9,6-10,6-9,6-9,7-9,7-9,6-10,7-9,6-10,6-9,6-10,7-10,6-9,7z />
<path class=m2 d=M304,492l9-7,10-6,10-7,9-6,10-6,9-6,10-7,9-6,9-7,9-7,9-6,10-6,9-6,9-6,9-6,8-6,9-7,9-6,9-5,9-6,8-6,9-6,8-5,9-6,8-5,9-6,8-6,8-5,9-6,8-6,8-6,8-6,8-5,8-5,8-4,8-5,8-5,8-5,8-5,7-4,8-4,8-3,7-4,8-4 />
<path color=#f50 d=M691,264l8-4-9-7-7,3z />
<path color=#f20 d=M676,269l8-2,7-3-8-8-8,4-8,3z />
<path color=#f10 d=M321,506l10-7,10-6,9-7,10-6,9-6,10-7,9-6,9-7,10-6,9-7,9-5,9-6,9-6,9-7,9-7,9-6,9-7,9-6,8-6,9-6,9-6,8-6,9-5,8-5,9-5,8-6,8-6,9-5,8-6,8-5,8-6,8-6,8-6,8-5,8-5,8-4,8-5,8-5,8-5,7-4,8-4-9-6-7,3-8,5-8,4-7,5-8,5-8,5-8,5-8,4-8,6-8,6-9,6-8,5-8,6-8,6-9,6-8,5-8,6-9,5-9,5-8,6-9,6-8,6-9,6-9,6-9,6-9,6-9,7-9,6-9,6-9,6-9,6-9,6-9,7-10,7-9,6-10,7-9,6-10,6-9,7-10,6-10,7z />
<path class=m4 d=M312,499l10-7,10-6,9-7,10-6,9-6,10-7,9-6,10-7,9-7,9-6,9-6,9-6,9-6,9-6,9-7,9-6,9-6,9-6,9-6,8-6,9-6,8-6,9-5,9-5,8-6,8-5,9-6,8-6,8-6,8-5,9-6,8-6,8-6,8-4,8-5,8-5,8-5,7-5,8-4,8-5,7-3,8-3,8-4,7-3 />
<path color=#f50 d=M692,273l8-3,7-3-8-7-8,4-7,3z />
<path color=#f20 d=M685,276l7-3-8-6-8,2z />
<path color=#f10 d=M330,513l10-6,9-7,10-7,10-7,9-6,10-6,9-6,9-7,9-7,10-6,9-5,9-6,9-6,9-7,9-7,9-6,9-7,8-6,9-7,9-6,8-6,9-6,9-5,8-5,8-6,9-5,8-6,8-6,9-5,8-5,8-5,8-6,8-6,8-5,8-5,8-5,8-4,8-5,7-5,8-5,8-3-9-7-8,4-7,4-8,5-8,5-8,5-8,4-8,5-8,5-8,6-8,6-8,6-8,5-8,6-9,5-8,6-8,6-9,5-8,5-9,5-8,6-9,6-9,6-8,6-9,6-9,7-9,6-9,7-9,7-9,6-9,6-9,5-9,7-10,6-9,7-9,6-10,7-9,6-10,6-9,7-10,6-10,7z />
<path class=m4 d=M321,506l10-7,10-6,9-7,10-6,9-6,10-7,9-6,9-7,10-6,9-7,9-5,9-6,9-6,9-7,9-7,9-6,9-7,9-6,8-6,9-6,9-6,8-6,9-5,8-5,9-5,8-6,8-6,9-5,8-6,8-5,8-6,8-6,8-6,8-5,8-5,8-4,8-5,8-5,8-5,7-4,8-4,8-2,7-3,8-4 />
<path color=#f50 d=M701,277l8-4,7-4-9-2-7,3-8,3z />
<path color=#f20 d=M686,285l7-5,8-3-9-4-7,3-8,3z />
<path color=#f10 d=M339,519l9-7,10-7,10-7,9-7,10-7,9-6,10-6,9-7,9-6,9-6,10-6,9-6,9-6,9-7,9-7,9-6,8-6,9-7,9-7,9-6,8-6,9-6,8-5,9-5,8-6,9-6,8-6,8-5,9-5,8-5,8-5,8-6,8-6,8-5,8-5,8-4,8-4,7-5,8-4,8-5-9-6-8,5-7,5-8,5-8,4-8,5-8,5-8,5-8,6-8,6-8,5-8,5-9,5-8,6-8,6-9,5-8,6-8,5-9,5-9,6-8,6-9,6-9,7-8,6-9,7-9,6-9,7-9,7-9,6-9,6-9,5-10,6-9,7-9,7-9,6-10,6-9,6-10,7-10,7-9,7-10,6z />
<path class=m2 d=M330,513l10-6,9-7,10-7,10-7,9-6,10-6,9-6,9-7,9-7,10-6,9-5,9-6,9-6,9-7,9-7,9-6,9-7,8-6,9-7,9-6,8-6,9-6,9-5,8-5,8-6,9-5,8-6,8-6,9-5,8-5,8-5,8-6,8-6,8-5,8-5,8-5,8-4,8-5,7-5,8-5,8-3,7-3,8-3,7-3 />
<path color=#f20 d=M710,277l8-5,7-5-9,2-7,4-8,4z />
<path color=#f10 d=M616,335l8-5,8-6,8-6,8-5,8-4,8-4,7-4,8-4,8-5,8-5,7-5,8-5-9,0-8,3-7,5-8,5-8,4-7,5-8,4-8,4-8,5-8,5-8,6-8,6-8,5z />
<path color=#f00 d=M487,422l9-6,9-6,9-7,9-7,8-6,9-7,9-6,8-5,9-5,8-6,9-6,8-5,8-5,8-5,9-5-9-1-8,5-9,5-8,5-8,6-9,6-8,6-9,5-8,5-9,6-8,6-9,6-9,7-9,7-8,6-9,6z />
<path color=#f10 d=M347,521l10-7,10-7,9-7,10-8,9-6,10-7,9-6,10-7,9-7,9-6,9-5,9-6,9-7,9-6,9-7-8-1-9,7-9,7-9,6-9,6-10,6-9,6-9,6-9,7-10,6-9,6-10,7-9,7-10,7-10,7-9,7z />
<path class=m1 d=M339,519l9-7,10-7,10-7,9-7,10-7,9-6,10-6,9-7,9-6,9-6,10-6,9-6,9-6,9-7,9-7,9-6,8-6,9-7,9-7,9-6,8-6,9-6,8-5,9-5,8-6,9-6,8-6,8-5,9-5,8-5,8-5,8-6,8-6,8-5,8-5,8-4,8-4,7-5,8-4,8-5,7-5,8-3,8-4,7-4 />
<path color=#f10 d=M665,314l8-4,7-4,8-5,8-5,8-6,7-6,8-6,8-5,7-6-9,0-7,5-8,5-8,5-7,5-8,5-8,5-8,4-7,4-8,4z />
<path color=#f00 d=M625,338l8-5,8-5,8-5,8-5,8-4-9-5-8,4-8,5-8,6-8,6-8,5z />
<path color=#e00 d=M478,437l9-6,9-7,9-6,9-6,9-7,9-6,8-7,9-6,9-6,8-6,9-5,8-6,8-5,9-5,8-5,8-6,9-4-9-3-9,5-8,5-8,5-8,5-9,6-8,6-9,5-8,5-9,6-9,7-8,6-9,7-9,7-9,6-9,6-9,7-9,6z />
<path color=#f00 d=M469,444l9-7-9-2-9,7z />
<path color=#e00 d=M404,489l10-7,9-7,9-7,10-7,9-6,9-5,9-6-9-2-9,6-9,5-9,6-9,7-10,7-9,6-10,7z />
<path color=#f00 d=M356,524l10-7,9-7,10-7,10-7,9-7-9-3-9,6-10,8-9,7-10,7-10,7z />
<path class=m1 d=M347,521l10-7,10-7,9-7,10-8,9-6,10-7,9-6,10-7,9-7,9-6,9-5,9-6,9-7,9-6,9-7,9-6,9-6,9-7,9-7,8-6,9-7,9-6,8-5,9-5,8-6,9-6,8-5,8-5,8-5,9-5,8-5,8-6,8-6,8-5,8-4,8-4,7-4,8-4,8-5,8-5,7-5,8-5,8-5,7-5 />
<path color=#f10 d=M666,328l7-4,8-4,8-4,8-6,8-6,7-6,8-7,8-7,7-6,8-5-9-6-7,6-8,5-8,6-7,6-8,6-8,5-8,5-7,4-8,4-8,4z />
<path color=#f00 d=M633,346l9-5,8-4,8-4,8-5-9-10-8,5-8,5-8,5-8,5z />
<path color=#e00 d=M394,511l10-7,9-7,10-7,9-7,9-8,10-6,9-6,9-6,9-6,9-7,9-6,9-7,9-7,9-6,9-6,9-6,8-6,9-7,9-6,8-6,9-5,8-5,8-5,9-5,8-5,8-6,8-4-8-8-9,4-8,6-8,5-9,5-8,5-8,6-9,5-8,6-9,6-9,6-8,7-9,6-9,7-9,6-9,6-9,7-9,6-9,7-9,6-9,5-9,6-10,7-9,7-9,7-10,7-9,7-10,7z />
<path color=#f00 d=M365,531l10-7,9-6,10-7-9-8-10,7-9,7-10,7z />
<path class=m2 d=M356,524l10-7,9-7,10-7,10-7,9-7,10-7,9-7,9-7,10-7,9-6,9-5,9-6,9-7,9-6,9-7,9-6,9-6,9-7,9-6,8-7,9-6,9-6,8-6,9-5,8-6,8-5,9-5,8-5,8-6,9-4,8-5,8-5,8-5,8-5,8-4,8-4,7-4,8-5,8-5,8-6,7-6,8-6,8-5,7-6 />
<path color=#f10 d=M721,307l8-7,8-7,7-6,8-6-9-8-8,5-7,6-8,7-8,7z />
<path color=#f20 d=M674,341l8-4,8-5,8-5,8-6,7-7,8-7-9-9-7,6-8,6-8,6-8,4-8,4-7,4z />
<path color=#f10 d=M634,361l8-4,8-4,8-4,8-4,8-4-8-13-8,5-8,4-8,4-9,5-8,4z />
<path color=#f00 d=M601,381l8-5,9-5,8-5,8-5-9-11-8,6-8,5-9,5-8,5z />
<path color=#e00 d=M505,447l9-7,9-7,9-6,9-7,9-6,8-6,9-6,9-6,8-5,9-6,8-4-9-10-8,5-9,5-8,6-9,6-9,7-8,6-9,6-9,6-9,6-9,7-9,7z />
<path color=#f00 d=M374,540l10-7,10-6,9-7,10-7,9-7,10-7,9-7,10-7,9-7,9-6,9-6,9-6,9-7,9-6-9-9-9,6-9,7-9,6-9,6-9,6-10,6-9,8-9,7-10,7-9,7-10,7-10,7-9,6-10,7z />
<path class=m4 d=M365,531l10-7,9-6,10-7,10-7,9-7,10-7,9-7,9-8,10-6,9-6,9-6,9-6,9-7,9-6,9-7,9-7,9-6,9-6,9-6,8-6,9-7,9-6,8-6,9-5,8-5,8-5,9-5,8-5,8-6,8-4,9-5,8-4,8-4,8-5,7-4,8-4,8-4,8-6,8-6,7-6,8-7,8-7,7-6,8-5 />
<path color=#f10 d=M753,295l8-6-9-8-8,6z />
<path color=#f20 d=M738,309l7-8,8-6-9-8-7,6-8,7z />
<path color=#f50 d=M722,323l8-7,8-7-9-9-8,7-8,7z />
<path color=#f80 d=M683,351l8-4,8-5,8-6,7-6,8-7-9-9-7,7-8,6-8,5-8,5-8,4z />
<path color=#f50 d=M667,359l8-4,8-4-9-10-8,4-8,4z />
<path color=#f20 d=M651,367l8-4,8-4-9-10-8,4-8,4z />
<path color=#f10 d=M610,389l8-4,9-5,8-4,8-5,8-4-9-10-8,4-8,5-8,5-9,5-8,5z />
<path color=#f00 d=M460,494l9-7,9-7,9-6,10-7,9-6,9-7,9-6,8-7,9-7,9-6,9-7,8-6,9-5,9-6,8-5,9-5,8-5-9-8-8,4-9,6-8,5-9,6-9,6-8,6-9,6-9,7-9,6-9,7-9,7-9,6-9,7-9,6-9,6-9,6-9,7z />
<path color=#f10 d=M383,548l10-7,10-7,10-7,9-6,10-7,9-7,9-6,10-7-9-9-10,7-9,7-10,7-9,7-10,7-9,7-10,6-10,7z />
<path class=m4 d=M374,540l10-7,10-6,9-7,10-7,9-7,10-7,9-7,10-7,9-7,9-6,9-6,9-6,9-7,9-6,9-7,9-7,9-6,9-7,9-6,8-6,9-6,9-6,8-5,9-6,8-4,8-5,9-5,8-5,8-5,8-4,8-4,8-4,8-4,8-4,8-4,8-5,8-5,8-6,7-7,8-7,8-7,8-7,7-6,8-6 />
<path color=#f20 d=M762,303l7-6-8-8-8,6z />
<path color=#f50 d=M746,318l8-8,8-7-9-8-8,6-7,8z />
<path color=#f80 d=M731,332l8-7,7-7-8-9-8,7-8,7z />
<path color=#fa0 d=M684,366l8-5,8-4,8-5,7-6,8-7,8-7-9-9-8,7-7,6-8,6-8,5-8,4-8,4z />
<path color=#f80 d=M668,374l8-4,8-4-9-11-8,4-8,4z />
<path color=#f50 d=M652,382l8-4,8-4-9-11-8,4-8,4z />
<path color=#f20 d=M636,391l8-4,8-5-9-11-8,5-8,4z />
<path color=#f10 d=M585,418l9-5,8-5,9-5,8-4,8-4,9-4-9-11-9,5-8,4-8,5-9,5-8,5-9,6z />
<path color=#f00 d=M550,442l9-6,9-6,9-6,8-6-9-8-9,5-8,6-9,7-9,6z />
<path color=#f10 d=M393,557l9-7,10-8,10-7,9-7,10-7,9-6,10-6,9-7,9-6,10-7,9-7,9-7,9-7,9-6,9-6,9-7,8-7-9-8-9,7-8,7-9,6-9,7-9,6-10,7-9,6-9,7-9,7-10,7-9,6-9,7-10,7-9,6-10,7-10,7-10,7z />
<path class=m4 d=M383,548l10-7,10-7,10-7,9-6,10-7,9-7,9-6,10-7,9-7,9-7,9-6,10-7,9-6,9-7,9-6,8-7,9-7,9-6,9-7,8-6,9-5,9-6,8-5,9-5,8-5,8-4,9-5,8-4,8-5,8-4,8-4,8-4,8-4,8-4,8-4,8-5,8-6,7-6,8-7,8-7,8-7,7-8,8-6,8-6 />
<path color=#f50 d=M771,312l7-7-9-8-7,6z />
<path color=#f80 d=M755,326l8-7,8-7-9-9-8,7-8,8z />
<path color=#fa0 d=M740,341l8-7,7-8-9-8-7,7-8,7z />
<path color=#fd0 d=M724,354l8-6,8-7-9-9-8,7-8,7z />
<path color=#fe0 d=M709,366l7-6,8-6-9-8-7,6-8,5z />
<path color=#fd0 d=M685,380l8-5,8-4,8-5-9-9-8,4-8,5-8,4z />
<path color=#fa0 d=M669,388l8-4,8-4-9-10-8,4-8,4z />
<path color=#f80 d=M653,397l8-5,8-4-9-10-8,4-8,5z />
<path color=#f50 d=M636,405l9-4,8-4-9-10-8,4-9,4z />
<path color=#f20 d=M620,413l8-4,8-4-9-10-8,4-8,4z />
<path color=#f10 d=M402,564l10-7,9-8,10-7,10-7,9-7,10-7,9-6,9-6,10-7,9-7,9-7,9-7,9-6,9-6,9-6,9-7,9-6,8-6,9-6,9-6,8-5,9-5,8-5,9-4-9-10-9,5-8,5-9,5-8,6-9,6-9,6-9,6-8,7-9,7-9,6-9,6-9,7-9,7-9,7-10,7-9,6-9,7-10,6-9,6-10,7-9,7-10,7-10,8-9,7z />
<path class=m4 d=M393,557l9-7,10-8,10-7,9-7,10-7,9-6,10-6,9-7,9-6,10-7,9-7,9-7,9-7,9-6,9-6,9-7,8-7,9-6,9-6,9-6,8-6,9-5,8-5,9-5,8-4,8-4,9-4,8-4,8-5,8-4,8-4,8-4,8-4,8-5,8-4,8-5,7-6,8-7,8-7,8-7,7-7,8-8,8-7,7-6 />
<path color=#f80 d=M779,320l8-7-9-8-7,7z />
<path color=#fa0 d=M764,335l8-8,7-7-8-8-8,7-8,7z />
<path color=#fd0 d=M756,342l8-7-9-9-7,8z />
<path color=#fe0 d=M725,368l8-6,8-6,8-7,7-7-8-8-8,7-8,7-8,6-8,6z />
<path color=#ef0 d=M718,374l7-6-9-8-7,6z />
<path color=#fe0 d=M694,389l8-5,8-5,8-5-9-8-8,5-8,4-8,5z />
<path color=#fd0 d=M678,397l8-4,8-4-9-9-8,4-8,4z />
<path color=#fa0 d=M654,411l8-5,8-4,8-5-9-9-8,4-8,5-8,4z />
<path color=#f80 d=M637,419l9-4,8-4-9-10-9,4-8,4z />
<path color=#f50 d=M629,423l8-4-9-10-8,4z />
<path color=#f20 d=M612,431l9-4,8-4-9-10-9,4-8,5z />
<path color=#f10 d=M411,571l10-7,10-8,9-8,10-7,9-7,10-7,9-6,10-7,9-7,9-7,9-7,9-6,9-7,9-5,9-6,9-6,9-6,9-5,8-5,9-6,9-5,8-5-9-9-9,5-8,5-9,6-9,6-8,6-9,6-9,7-9,6-9,6-9,6-9,7-9,7-9,7-10,7-9,6-9,6-10,7-9,7-10,7-10,7-9,8-10,7z />
<path class=m4 d=M402,564l10-7,9-8,10-7,10-7,9-7,10-7,9-6,9-6,10-7,9-7,9-7,9-7,9-6,9-6,9-6,9-7,9-6,8-6,9-6,9-6,8-5,9-5,8-5,9-4,8-4,8-4,9-4,8-4,8-5,8-4,8-4,8-4,8-5,8-4,8-5,7-6,8-6,8-6,8-7,8-7,7-8,8-7,8-7,7-7 />
<path color=#fa0 d=M788,329l8-7-9-9-8,7z />
<path color=#fd0 d=M773,343l8-7,7-7-9-9-7,7-8,8z />
<path color=#fe0 d=M758,357l7-7,8-7-9-8-8,7-7,7z />
<path color=#ef0 d=M703,397l8-5,8-5,8-5,7-6,8-6,8-7,8-6-9-8-8,7-8,6-8,6-7,6-8,5-8,5-8,5z />
<path color=#fe0 d=M687,406l8-5,8-4-9-8-8,4-8,4z />
<path color=#fd0 d=M663,420l8-5,8-5,8-4-9-9-8,5-8,4-8,5z />
<path color=#fa0 d=M646,429l9-4,8-5-9-9-8,4-9,4z />
<path color=#f80 d=M630,437l8-4,8-4-9-10-8,4-8,4z />
<path color=#f50 d=M613,446l8-5,9-4-9-10-9,4-8,5z />
<path color=#f20 d=M587,460l9-5,8-4,9-5-9-10-9,5-9,6-8,5z />
<path color=#f10 d=M421,577l9-7,10-8,10-8,9-7,10-7,9-7,9-7,10-7,9-7,9-7,9-7,10-6,9-6,9-5,9-5,8-5,9-6,9-5-9-8-9,5-9,6-9,6-9,6-9,5-9,7-9,6-9,7-9,7-9,7-10,7-9,6-10,7-9,7-10,7-9,8-10,8-10,7z />
<path class=m3 d=M411,571l10-7,10-8,9-8,10-7,9-7,10-7,9-6,10-7,9-7,9-7,9-7,9-6,9-7,9-5,9-6,9-6,9-6,9-5,8-5,9-6,9-5,8-5,9-4,8-4,8-4,9-4,8-4,8-5,8-4,8-5,8-4,8-4,8-5,8-5,8-5,7-6,8-6,8-6,8-7,7-7,8-7,8-8,7-7,8-7 />
<path color=#fe0 d=M782,351l8-6,7-7,8-7-9-9-8,7-7,7-8,7z />
<path color=#ef0 d=M759,370l8-6,7-6,8-7-9-8-8,7-7,7-8,6z />
<path color=#ce0 d=M720,399l8-5,8-5,8-6,7-6,8-7-9-7-8,7-8,6-7,6-8,5-8,5z />
<path color=#ef0 d=M696,413l8-4,8-5,8-5-9-7-8,5-8,4-8,5z />
<path color=#fe0 d=M664,434l8-5,8-5,8-6,8-5-9-7-8,4-8,5-8,5-8,5z />
<path color=#fd0 d=M656,438l8-4-9-9-9,4z />
<path color=#fa0 d=M639,446l8-4,9-4-10-9-8,4-8,4z />
<path color=#f80 d=M622,455l9-4,8-5-9-9-9,4-8,5z />
<path color=#f50 d=M605,464l9-4,8-5-9-9-9,5-8,4z />
<path color=#f20 d=M579,479l9-5,8-5,9-5-9-9-9,5-9,5-9,6z />
<path color=#f10 d=M430,582l10-8,9-7,10-8,9-7,10-7,9-7,10-7,9-6,9-7,10-8,9-6,9-6,9-5,9-5,9-5,9-4-10-8-8,5-9,5-9,5-9,6-10,6-9,7-9,7-9,7-10,7-9,7-9,7-10,7-9,7-10,8-10,8-9,7z />
<path class=m4 d=M421,577l9-7,10-8,10-8,9-7,10-7,9-7,9-7,10-7,9-7,9-7,9-7,10-6,9-6,9-5,9-5,8-5,9-6,9-5,9-5,8-4,9-5,8-5,9-4,8-4,8-4,9-4,8-5,8-5,8-5,8-4,8-5,8-4,8-5,8-5,8-5,7-6,8-6,8-7,8-6,7-7,8-7,8-7,7-7,8-7 />
<path color=#ef0 d=M798,355l8-7,8-7-9-10-8,7-7,7z />
<path color=#ce0 d=M713,416l8-5,8-5,8-5,8-5,8-6,7-6,8-6,8-6,7-6,8-5,7-6-8-10-8,6-8,7-7,6-8,6-8,7-7,6-8,6-8,5-8,5-8,5-8,5z />
<path color=#ef0 d=M681,437l8-5,8-6,8-5,8-5-9-7-8,4-8,5-8,6-8,5z />
<path color=#fe0 d=M665,447l8-4,8-6-9-8-8,5-8,4z />
<path color=#fd0 d=M648,456l9-5,8-4-9-9-9,4-8,4z />
<path color=#fa0 d=M631,465l9-5,8-4-9-10-8,5-9,4z />
<path color=#f80 d=M614,474l9-5,8-4-9-10-8,5-9,4z />
<path color=#f50 d=M597,483l9-5,8-4-9-10-9,5-8,5z />
<path color=#f20 d=M579,492l9-5,9-4-9-9-9,5-9,4z />
<path color=#f10 d=M439,587l10-7,10-8,9-8,10-7,9-7,10-6,9-7,10-6,9-7,9-7,9-6,9-6,9-5,9-4,9-4-9-9-9,5-9,5-9,5-9,6-9,6-10,8-9,7-9,6-10,7-9,7-10,7-9,7-10,8-9,7-10,8z />
<path class=m4 d=M430,582l10-8,9-7,10-8,9-7,10-7,9-7,10-7,9-6,9-7,10-8,9-6,9-6,9-5,9-5,9-5,9-4,9-5,8-5,9-5,9-4,8-5,9-4,8-5,8-4,9-4,8-4,8-5,8-5,8-6,8-5,8-4,8-5,8-5,8-5,8-5,8-6,7-6,8-7,8-6,7-6,8-7,8-6,7-7,8-7 />
<path color=#ce0 d=M815,358l7-8-8-9-8,7z />
<path color=#be0 d=M754,401l8-5,8-6,7-5,8-6,7-5,8-5,7-5,8-6-9-10-8,7-7,6-8,5-7,6-8,6-8,6-7,6-8,6z />
<path color=#ce0 d=M715,427l8-5,8-6,8-5,7-5,8-5-9-5-8,5-8,5-8,5-8,5-8,5z />
<path color=#ef0 d=M674,454l8-5,8-5,9-6,8-5,8-6-10-6-8,5-8,6-8,5-8,6-8,4z />
<path color=#fe0 d=M658,463l8-4,8-5-9-7-8,4-9,5z />
<path color=#fd0 d=M641,473l8-5,9-5-10-7-8,4-9,5z />
<path color=#fa0 d=M624,482l8-4,9-5-10-8-8,4-9,5z />
<path color=#f80 d=M606,492l9-5,9-5-10-8-8,4-9,5z />
<path color=#f50 d=M598,496l8-4-9-9-9,4z />
<path color=#f20 d=M580,504l9-4,9-4-10-9-9,5-9,4z />
<path color=#f10 d=M544,523l9-6,9-5,9-4,9-4-10-8-9,4-9,5-9,6-9,6z />
<path color=#f00 d=M449,591l9-8,10-7,10-7,9-7,10-7,9-6,10-7,9-6,9-7,10-6-10-6-9,7-9,7-10,6-9,7-10,6-9,7-10,7-9,8-10,8-10,7z />
<path class=m3 d=M439,587l10-7,10-8,9-8,10-7,9-7,10-6,9-7,10-6,9-7,9-7,9-6,9-6,9-5,9-4,9-4,9-5,9-4,9-5,8-4,9-5,8-4,9-5,8-4,9-5,8-4,8-4,8-6,8-5,8-6,8-5,8-5,8-5,8-5,8-5,8-5,8-6,7-6,8-6,8-6,7-6,8-5,7-6,8-7,8-7 />
<path color=#be0 d=M824,365l8-9-10-6-7,8z />
<path color=#8e0 d=M802,381l7-4,7-6,8-6-9-7-8,6-7,5-8,5z />
<path color=#be0 d=M763,406l8-5,8-5,7-5,8-5,8-5-10-7-7,5-8,6-7,5-8,6-8,5z />
<path color=#ce0 d=M724,433l8-6,8-6,8-5,8-5,7-5-9-5-8,5-7,5-8,5-8,6-8,5z />
<path color=#ef0 d=M683,460l9-5,8-6,8-5,8-6,8-5-9-6-8,6-8,5-9,6-8,5-8,5z />
<path color=#fe0 d=M659,475l8-5,8-5,8-5-9-6-8,5-8,4-9,5z />
<path color=#fd0 d=M642,486l8-5,9-6-10-7-8,5-9,5z />
<path color=#fa0 d=M624,495l9-4,9-5-10-8-8,4-9,5z />
<path color=#f80 d=M607,504l9-4,8-5-9-8-9,5-8,4z />
<path color=#f50 d=M598,508l9-4-9-8-9,4z />
<path color=#f20 d=M580,516l9-4,9-4-9-8-9,4-9,4z />
<path color=#f10 d=M553,529l9-5,9-4,9-4-9-8-9,4-9,5-9,6z />
<path color=#f00 d=M506,559l10-6,9-6,10-6,9-6,9-6-9-6-10,6-9,7-9,6-10,7-9,6z />
<path color=#e00 d=M458,594l10-7,9-7,10-7,10-7,9-7-9-4-10,7-9,7-10,7-10,7-9,8z />
<path class=m3 d=M449,591l9-8,10-7,10-7,9-7,10-7,9-6,10-7,9-6,9-7,10-6,9-6,9-5,9-4,9-4,9-4,9-4,8-4,9-5,9-5,8-4,9-5,8-5,9-5,8-4,8-5,8-5,8-5,9-6,8-5,8-6,8-5,8-6,8-5,7-5,8-5,8-5,8-6,7-5,8-6,7-5,8-5,7-5,8-6,7-8 />
<path color=#be0 d=M833,371l8-9-9-6-8,9z />
<path color=#8e0 d=M788,405l7-4,8-4,7-6,8-6,8-6,7-8-9-6-8,6-7,6-7,4-8,5-8,5-7,5z />
<path color=#be0 d=M765,419l8-5,7-5,8-4-9-9-8,5-8,5-7,5z />
<path color=#ce0 d=M709,458l8-6,8-5,8-6,8-6,8-6,8-6,8-4-9-8-8,5-8,5-8,6-8,6-8,5-8,6-8,5z />
<path color=#ef0 d=M685,474l8-6,8-5,8-5-9-9-8,6-9,5-8,5z />
<path color=#fe0 d=M651,496l8-6,9-5,8-6,9-5-10-9-8,5-8,5-9,6-8,5z />
<path color=#fd0 d=M634,506l8-5,9-5-9-10-9,5-9,4z />
<path color=#fa0 d=M616,515l9-4,9-5-10-11-8,5-9,4z />
<path color=#f80 d=M608,519l8-4-9-11-9,4z />
<path color=#f50 d=M590,527l9-4,9-4-10-11-9,4-9,4z />
<path color=#f20 d=M581,531l9-4-10-11-9,4z />
<path color=#f10 d=M544,551l9-6,10-5,9-5,9-4-10-11-9,4-9,5-9,6-9,6z />
<path color=#f00 d=M525,561l10-5,9-5-9-10-10,6-9,6z />
<path color=#e00 d=M468,600l9-6,10-7,10-7,9-7,10-6,9-6-9-8-10,6-9,7-10,7-10,7-9,7-10,7z />
<path class=m4 d=M458,594l10-7,9-7,10-7,10-7,9-7,10-6,9-6,10-6,9-6,9-6,9-5,9-4,9-4,9-4,9-4,9-4,9-4,8-5,9-4,9-5,8-5,9-6,8-5,8-5,8-5,9-5,8-6,8-5,8-6,8-5,8-6,8-6,8-5,8-5,7-5,8-5,8-5,7-5,8-5,8-5,7-4,7-6,8-6,8-9 />
<path color=#be0 d=M843,377l7-10-9-5-8,9z />
<path color=#6e0 d=M827,395l8-9,8-9-10-6-7,8-8,6z />
<path color=#4d0 d=M804,413l8-5,7-6,8-7-9-10-8,6-7,6-8,4z />
<path color=#6e0 d=M789,419l8-3,7-3-9-12-7,4-8,4z />
<path color=#8e0 d=M774,428l8-5,7-4-9-10-7,5-8,5z />
<path color=#be0 d=M718,467l9-5,8-6,8-6,8-6,8-6,7-5,8-5-9-9-8,4-8,6-8,6-8,6-8,6-8,5-8,6z />
<path color=#ce0 d=M686,489l8-6,8-5,8-6,8-5-9-9-8,5-8,5-8,6-9,5z />
<path color=#ef0 d=M652,512l8-6,9-6,8-5,9-6-10-10-8,6-9,5-8,6-9,5z />
<path color=#fe0 d=M635,522l8-5,9-5-10-11-8,5-9,5z />
<path color=#fd0 d=M617,531l9-5,9-4-10-11-9,4-8,4z />
<path color=#fa0 d=M608,536l9-5-9-12-9,4z />
<path color=#f80 d=M599,540l9-4-9-13-9,4z />
<path color=#f50 d=M581,549l10-5,8-4-9-13-9,4-9,4z />
<path color=#f20 d=M563,559l9-6,9-4-9-14-9,5-10,5z />
<path color=#f10 d=M535,572l10-4,9-5,9-4-10-14-9,6-9,5-10,5z />
<path color=#f00 d=M507,589l9-6,10-6,9-5-10-11-9,6-10,6-9,7z />
<path color=#e00 d=M477,608l10-6,10-7,10-6-10-9-10,7-10,7-9,6z />
<path class=m4 d=M468,600l9-6,10-7,10-7,9-7,10-6,9-6,10-5,9-5,9-6,10-5,9-5,9-4,9-4,9-4,9-4,8-4,9-4,9-5,8-5,9-5,8-6,9-5,8-6,9-5,8-6,8-5,8-5,8-6,8-5,8-6,8-6,8-6,8-6,8-4,8-5,7-5,8-4,7-4,8-4,7-6,8-6,8-6,7-8,8-9 />
<path color=#be0 d=M852,380l8-10-10-3-7,10z />
<path color=#6e0 d=M844,391l8-11-9-3-8,9z />
<path color=#4d0 d=M836,403l8-12-9-5-8,9z />
<path color=#1d1 d=M828,412l8-9-9-8-8,7z />
<path color=#0d5 d=M821,419l7-7-9-10-7,6z />
<path color=#1d1 d=M806,426l7-2,8-5-9-11-8,5-7,3z />
<path color=#4d0 d=M799,429l7-3-9-10-8,3z />
<path color=#6e0 d=M783,437l8-4,8-4-10-10-7,4-8,5z />
<path color=#8e0 d=M736,470l8-6,8-7,8-6,8-5,8-5,7-4-9-9-8,5-7,5-8,6-8,6-8,6-8,6z />
<path color=#be0 d=M703,492l9-6,8-6,8-5,8-5-9-8-9,5-8,5-8,6-8,5z />
<path color=#ce0 d=M661,520l9-5,8-6,9-6,8-6,8-5-9-9-8,6-9,6-8,5-9,6-8,6z />
<path color=#ef0 d=M635,536l9-5,9-5,8-6-9-8-9,5-8,5-9,4z />
<path color=#fe0 d=M627,541l8-5-9-10-9,5z />
<path color=#fd0 d=M609,551l9-4,9-6-10-10-9,5-9,4z />
<path color=#fa0 d=M591,561l9-5,9-5-10-11-8,4-10,5z />
<path color=#f80 d=M573,572l9-5,9-6-10-12-9,4-9,6z />
<path color=#f50 d=M564,577l9-5-10-13-9,4z />
<path color=#f20 d=M554,580l10-3-10-14-9,5z />
<path color=#f10 d=M526,592l9-5,10-4,9-3-9-12-10,4-9,5-10,6z />
<path color=#f00 d=M497,609l10-6,9-5,10-6-10-9-9,6-10,6-10,7z />
<path color=#e00 d=M487,616l10-7-10-7-10,6z />
<path class=m4 d=M477,608l10-6,10-7,10-6,9-6,10-6,9-5,10-4,9-5,9-4,9-6,9-4,10-5,8-4,9-4,9-5,9-5,9-4,8-5,9-5,8-6,9-6,8-5,9-6,8-6,8-5,8-6,8-5,9-5,8-6,8-6,8-6,8-6,7-5,8-5,8-5,7-4,8-3,7-3,8-5,7-6,8-7,8-9,8-9,7-10 />
<path color=#be0 d=M862,385l7-11-9-4-8,10z />
<path color=#8e0 d=M853,398l9-13-10-5-8,11z />
<path color=#4d0 d=M845,411l8-13-9-7-8,12z />
<path color=#0d5 d=M837,422l8-11-9-8-8,9z />
<path color=#0eb d=M822,434l8-4,7-8-9-10-7,7-8,5z />
<path color=#0d5 d=M815,437l7-3-9-10-7,2z />
<path color=#1d1 d=M800,443l8-4,7-2-9-11-7,3-8,4z />
<path color=#4d0 d=M793,446l7-3-9-10-8,4z />
<path color=#6e0 d=M777,454l8-4,8-4-10-9-7,4-8,5z />
<path color=#8e0 d=M721,494l8-5,8-6,8-5,8-6,8-6,8-6,8-6-9-8-8,5-8,6-8,7-8,6-8,5-8,5-8,6z />
<path color=#be0 d=M679,523l9-5,8-6,9-6,8-6,8-6-9-8-9,6-8,5-8,6-9,6-8,6z />
<path color=#ce0 d=M645,546l9-5,8-6,9-6,8-6-9-8-9,5-8,6-9,5-9,5z />
<path color=#ef0 d=M628,557l8-5,9-6-10-10-8,5-9,6z />
<path color=#fe0 d=M610,569l9-6,9-6-10-10-9,4-9,5z />
<path color=#fd0 d=M583,587l9-5,9-7,9-6-10-13-9,5-9,6-9,5z />
<path color=#fa0 d=M573,592l10-5-10-15-9,5z />
<path color=#f80 d=M564,595l9-3-9-15-10,3z />
<path color=#f50 d=M555,598l9-3-10-15-9,3z />
<path color=#f20 d=M545,601l10-3-10-15-10,4z />
<path color=#f10 d=M517,613l9-4,10-4,9-4-10-14-9,5-10,6-9,5z />
<path color=#f00 d=M497,624l10-6,10-5-10-10-10,6-10,7z />
<path class=m4 d=M487,616l10-7,10-6,9-5,10-6,9-5,10-4,9-3,10-3,9-5,9-5,9-6,9-5,9-5,9-4,9-6,8-5,9-5,9-5,8-6,9-5,8-6,9-6,8-6,8-5,9-6,8-6,8-5,8-5,8-6,8-7,8-6,8-5,8-5,7-4,8-4,8-4,7-3,7-2,8-5,7-7,8-9,8-12,8-11,8-10 />
<path color=#be0 d=M871,391l8-10-10-7-7,11z />
<path color=#6e0 d=M863,404l8-13-9-6-9,13z />
<path color=#1d1 d=M855,417l8-13-10-6-8,13z />
<path color=#0eb d=M847,429l8-12-10-6-8,11z />
<path color=#0ee d=M824,446l8-4,7-5,8-8-10-7-7,8-8,4-7,3z />
<path color=#0eb d=M817,449l7-3-9-9-7,2z />
<path color=#0d5 d=M809,451l8-2-9-10-8,4z />
<path color=#1d1 d=M802,455l7-4-9-8-7,3z />
<path color=#4d0 d=M794,458l8-3-9-9-8,4z />
<path color=#6e0 d=M747,491l8-5,8-6,8-7,8-6,8-5,7-4-9-8-8,4-8,6-8,6-8,6-8,6-8,5z />
<path color=#8e0 d=M697,526l9-6,8-6,8-6,9-6,8-6,8-5-10-8-8,6-8,5-8,6-8,6-9,6-8,6z />
<path color=#be0 d=M655,556l8-6,9-6,8-6,9-6,8-6-9-8-9,5-8,6-9,6-8,6-9,5z />
<path color=#ce0 d=M619,581l9-7,9-6,9-7,9-5-10-10-9,6-8,5-9,6-9,6z />
<path color=#ef0 d=M583,606l9-5,9-6,9-7,9-7-9-12-9,6-9,7-9,5-10,5z />
<path color=#fe0 d=M574,610l9-4-10-14-9,3z />
<path color=#fd0 d=M565,613l9-3-10-15-9,3z />
<path color=#f80 d=M555,616l10-3-10-15-10,3z />
<path color=#f50 d=M546,619l9-3-10-15-9,4z />
<path color=#f20 d=M536,622l10-3-10-14-10,4z />
<path color=#f10 d=M517,628l10-3,9-3-10-13-9,4-10,5z />
<path color=#f00 d=M507,633l10-5-10-10-10,6z />
<path class=m4 d=M497,624l10-6,10-5,9-4,10-4,9-4,10-3,9-3,9-3,10-5,9-5,9-7,9-6,9-6,9-6,8-5,9-6,9-5,8-6,9-6,8-6,9-5,8-6,9-6,8-6,8-6,8-5,8-6,8-5,8-6,8-6,8-6,8-6,8-4,8-4,7-3,8-4,7-2,7-3,8-4,7-8,8-11,8-13,9-13,7-11 />
<path color=#be0 d=M880,399l8-11-9-7-8,10z />
<path color=#6e0 d=M872,411l8-12-9-8-8,13z />
<path color=#1d1 d=M864,423l8-12-9-7-8,13z />
<path color=#0eb d=M856,434l8-11-9-6-8,12z />
<path color=#0ee d=M849,443l7-9-9-5-8,8z />
<path color=#0be d=M841,449l8-6-10-6-7,5z />
<path color=#0ee d=M826,457l8-4,7-4-9-7-8,4-7,3z />
<path color=#0eb d=M819,460l7-3-9-8-8,2z />
<path color=#0d5 d=M811,463l8-3-10-9-7,4z />
<path color=#1d1 d=M804,466l7-3-9-8-8,3z />
<path color=#4d0 d=M788,475l8-5,8-4-10-8-7,4-8,5z />
<path color=#6e0 d=M724,523l8-7,8-6,8-5,8-6,8-5,8-7,8-6,8-6-9-8-8,6-8,7-8,6-8,5-8,5-8,6-9,6-8,6z />
<path color=#8e0 d=M664,566l9-6,8-6,9-7,9-6,8-6,8-6,9-6-10-9-8,6-9,6-8,6-9,6-8,6-9,6-8,6z />
<path color=#be0 d=M593,620l9-6,9-7,9-6,9-8,9-7,9-7,9-7,8-6-9-10-9,5-9,7-9,6-9,7-9,7-9,7-9,6-9,5z />
<path color=#ce0 d=M584,624l9-4-10-14-9,4z />
<path color=#ef0 d=M575,628l9-4-10-14-9,3z />
<path color=#fe0 d=M565,631l10-3-10-15-10,3z />
<path color=#fa0 d=M556,634l9-3-10-15-9,3z />
<path color=#f80 d=M546,636l10-2-10-15-10,3z />
<path color=#f50 d=M537,639l9-3-10-14-9,3z />
<path color=#f20 d=M527,641l10-2-10-14-10,3z />
<path color=#f10 d=M517,644l10-3-10-13-10,5z />
<path class=m4 d=M507,633l10-5,10-3,9-3,10-3,9-3,10-3,9-3,9-4,9-5,9-6,9-7,9-7,9-7,9-6,9-7,9-5,8-6,9-6,8-6,9-6,8-6,9-6,8-6,8-6,9-6,8-6,8-5,8-5,8-6,8-7,8-6,8-5,7-4,8-3,7-4,8-2,7-3,8-4,7-5,8-8,8-12,8-13,8-13,8-10 />
<path color=#8e0 d=M890,407l7-10-9-9-8,11z />
<path color=#4d0 d=M882,418l8-11-10-8-8,12z />
<path color=#1d1 d=M874,429l8-11-10-7-8,12z />
<path color=#0eb d=M866,439l8-10-10-6-8,11z />
<path color=#0ee d=M858,448l8-9-10-5-7,9z />
<path color=#0be d=M843,460l7-5,8-7-9-5-8,6-7,4z />
<path color=#0ee d=M836,465l7-5-9-7-8,4z />
<path color=#0eb d=M821,471l7-3,8-3-10-8-7,3-8,3z />
<path color=#0d5 d=M813,475l8-4-10-8-7,3z />
<path color=#1d1 d=M805,479l8-4-9-9-8,4z />
<path color=#4d0 d=M741,526l9-6,8-6,8-6,8-5,8-7,8-6,8-6,7-5-9-9-8,5-8,6-8,6-8,7-8,5-8,6-8,5-8,6z />
<path color=#6e0 d=M612,626l9-6,9-7,9-7,9-8,8-7,9-7,9-7,9-6,8-6,9-8,8-7,9-6,8-6,8-6,8-6-9-10-8,7-9,6-8,6-8,6-9,6-9,7-8,6-9,6-8,6-9,7-9,7-9,7-9,8-9,6-9,7z />
<path color=#8e0 d=M594,638l9-6,9-6-10-12-9,6-9,4z />
<path color=#be0 d=M584,642l10-4-10-14-9,4z />
<path color=#ce0 d=M575,645l9-3-9-14-10,3z />
<path color=#ef0 d=M566,648l9-3-10-14-9,3z />
<path color=#fd0 d=M556,651l10-3-10-14-10,2z />
<path color=#fa0 d=M547,654l9-3-10-15-9,3z />
<path color=#f80 d=M537,655l10-1-10-15-10,2z />
<path color=#f20 d=M527,658l10-3-10-14-10,3z />
<path class=m4 d=M517,644l10-3,10-2,9-3,10-2,9-3,10-3,9-4,9-4,9-6,9-7,9-6,9-8,9-7,9-7,9-7,8-6,9-6,8-6,9-7,9-6,8-6,8-6,9-6,8-7,8-6,8-5,8-6,8-5,8-7,8-6,8-6,8-5,8-4,7-3,8-3,7-3,8-4,7-4,8-6,7-9,8-11,8-12,8-12,8-11 />
<path class=m4 d=M527,658l10-3,10-1,9-3,10-3,9-3,9-3,10-4,9-6,9-6,9-6,9-7,9-7,9-8,8-7,9-7,9-7,9-6,8-6,9-8,8-7,9-6,8-6,8-6,8-6,9-6,8-6,8-6,8-5,8-7,8-6,8-6,7-5,8-4,8-4,7-3,8-3,7-5,7-5,8-7,8-9,8-10,8-11,8-11,7-10 />
</g>
<path d="M23.2 43.9L30.7 92.8L105.8 148.1L178.3 89.8M30.7 92.8h-2M105.8 148.1h2M39.1 99h-2M116 139.9h2M47.8 105.4h-2M125.8 132h2M56.7 111.9h-2M135.3 124.4h2M65.9 118.7h-2M144.5 117h2M75.4 125.7h-2M153.4 109.8h2M85.2 132.9h-2M162 102.9h2M95.3 140.4h-2M170.3 96.3h2M105.8 148.1h-2M178.3 89.8h2M29.8 86.9h-2.2M28.3 76.7h-2.2M26.7 66.2h-2.2M25 55.3h-2.2M23.2 43.9h-2.2" stroke="#262626" stroke-width=".6" fill="none"/>
<text x="27.4" y="95.9" font-size="7.1" text-anchor="end">360</text>
<text x="109.4" y="151.1" font-size="7.1" text-anchor="start">0</text>
<text x="35.8" y="102.1" font-size="7.1" text-anchor="end">315</text>
<text x="119.6" y="142.9" font-size="7.1" text-anchor="start">45</text>
<text x="44.5" y="108.5" font-size="7.1" text-anchor="end">270</text>
<text x="129.4" y="135" font-size="7.1" text-anchor="start">90</text>
<text x="53.4" y="115" font-size="7.1" text-anchor="end">225</text>
<text x="138.9" y="127.4" font-size="7.1" text-anchor="start">135</text>
<text x="62.6" y="121.8" font-size="7.1" text-anchor="end">180</text>
<text x="148.1" y="120" font-size="7.1" text-anchor="start">180</text>
<text x="72.1" y="128.8" font-size="7.1" text-anchor="end">135</text>
<text x="157" y="112.8" font-size="7.1" text-anchor="start">225</text>
<text x="81.9" y="136" font-size="7.1" text-anchor="end">90</text>
<text x="165.6" y="105.9" font-size="7.1" text-anchor="start">270</text>
<text x="92" y="143.5" font-size="7.1" text-anchor="end">45</text>
<text x="173.9" y="99.3" font-size="7.1" text-anchor="start">315</text>
<text x="102.5" y="151.2" font-size="7.1" text-anchor="end">0</text>
<text x="181.9" y="92.8" font-size="7.1" text-anchor="start">360</text>
<text x="19.8" y="46.3" font-size="7.1" text-anchor="end">150</text>
<text x="21.6" y="57.7" font-size="7.1" text-anchor="end">100</text>
<text x="23.3" y="68.6" font-size="7.1" text-anchor="end">50</text>
<text x="24.9" y="79.1" font-size="7.1" text-anchor="end">0</text>
<text x="26.4" y="89.3" font-size="7.1" text-anchor="end">-50</text>
<text x="10.1" y="78.7" font-size="7.4" text-anchor="middle">Z(nm)</text>
<text x="41" y="124.7" font-size="7.4" text-anchor="middle">Y(µm)</text>
<text x="165.2" y="129.7" font-size="7.4" text-anchor="middle">X(µm)</text>
</g>
<g clip-path="url(#k0)"><g transform="translate(0 224)">
<rect x="190.6" y="24.3" width="9.7" height="99" fill="url(#cb)" stroke="#777" stroke-width=".5"/>
<text x="204.8" y="29.5" font-size="6.6" text-anchor="start">46.00</text>
<text x="204.8" y="34.9" font-size="6.6" text-anchor="start">39.00</text>
<text x="204.8" y="40.2" font-size="6.6" text-anchor="start">32.00</text>
<text x="204.8" y="45.5" font-size="6.6" text-anchor="start">25.00</text>
<text x="204.8" y="50.9" font-size="6.6" text-anchor="start">18.00</text>
<text x="204.8" y="56.2" font-size="6.6" text-anchor="start">11.00</text>
<text x="204.8" y="61.5" font-size="6.6" text-anchor="start">4.000</text>
<text x="204.8" y="66.9" font-size="6.6" text-anchor="start">-3.000</text>
<text x="204.8" y="72.2" font-size="6.6" text-anchor="start">-10.00</text>
<text x="204.8" y="77.5" font-size="6.6" text-anchor="start">-17.00</text>
<text x="204.8" y="82.9" font-size="6.6" text-anchor="start">-24.00</text>
<text x="204.8" y="88.2" font-size="6.6" text-anchor="start">-31.00</text>
<text x="204.8" y="93.5" font-size="6.6" text-anchor="start">-38.00</text>
<text x="204.8" y="98.8" font-size="6.6" text-anchor="start">-45.00</text>
<text x="204.8" y="104.2" font-size="6.6" text-anchor="start">-52.00</text>
<text x="204.8" y="109.5" font-size="6.6" text-anchor="start">-59.00</text>
<text x="204.8" y="114.8" font-size="6.6" text-anchor="start">-66.00</text>
<text x="204.8" y="120.2" font-size="6.6" text-anchor="start">-73.00</text>
<text x="204.8" y="125.5" font-size="6.6" text-anchor="start">-80.00</text>
<path d="M200.3 27.3h2M200.3 32.7h2M200.3 38h2M200.3 43.3h2M200.3 48.7h2M200.3 54h2M200.3 59.3h2M200.3 64.7h2M200.3 70h2M200.3 75.3h2M200.3 80.7h2M200.3 86h2M200.3 91.3h2M200.3 96.6h2M200.3 102h2M200.3 107.3h2M200.3 112.6h2M200.3 118h2M200.3 123.3h2" stroke="#555" stroke-width=".5"/>
</g></g>
<text x="103.5" y="428.1" font-size="15.9" text-anchor="middle" font-weight="bold">(d)</text>
<g transform="translate(232.5 224)">
<path d="M40.9 86.5L34.4 37.8M168.1 83.9L172.5 35.4M116 139.9L40.9 86.5M95.3 140.4L168.1 83.9M60.3 74.3L55.6 26.2M148.5 72.6L151.2 24.6M135.3 124.4L60.3 74.3M75.4 125.7L148.5 72.6M78.6 62.8L75.5 15.4M130 61.9L131.1 14.4M153.4 109.8L78.6 62.8M56.7 111.9L130 61.9M95.8 52.1L94.2 5.2M112.5 51.7L112.2 4.9M170.3 96.3L95.8 52.1M39.1 99L112.5 51.7M29 81.4L103.9 35.9M103.9 35.9L179.6 78.3M27.1 69.4L103.6 24.5M103.6 24.5L180.9 66.4M25.2 56.9L103.4 12.6M103.4 12.6L182.3 54" stroke="#e0e0e0" stroke-width=".5" fill="none"/>
<path d="M23.2 43.9L103.1 .3M103.1 .3L183.7 41M104.1 46.9L103.1 .3M178.3 89.8L183.7 41M30.7 92.8L104.1 46.9M104.1 46.9L178.3 89.8" stroke="#959595" stroke-width=".5" fill="none"/>
<g filter="url(#ne)">
<g class="s" transform="scale(.2)" style="--o:0.7;--w:1.6">
<path color=#1d1 d=M542,208l-11-5-11-5-12-7,11-8,12,8,11,6,11,5z />
<path color=#4d0 d=M554,215l-12-7,11-6,12,7z />
<path color=#1d1 d=M577,231l-11-8-12-8,11-6,12,8,11,8z />
<path color=#0d5 d=M601,245l-12-8-12-6,11-6,12,7,12,8z />
<path color=#0eb d=M625,259l-12-6-12-8,11-5,12,8,12,5z />
<path color=#0d5 d=M637,264l-12-5,11-6,12,5z />
<path color=#1d1 d=M712,307l-13-8-12-8-13-7-12-7-13-7-12-6,11-6,12,6,13,6,12,8,13,7,12,7,13,8z />
<path color=#0d5 d=M751,329l-13-6-13-8-13-8,11-7,13,9,13,7,13,5z />
<path color=#1d1 d=M764,335l-13-6,11-8,13,6z />
<path color=#4d0 d=M831,371l-13-8-14-8-13-8-14-7-13-5,11-8,13,6,14,7,13,8,13,8,14,9z />
<path color=#1d1 d=M887,404l-14-7-14-9-14-9-14-8,11-6,14,9,13,9,14,7,14,7z />
<path color=#1d1 d=M520,210l-12-5-11-6,11-8,12,7,11,5z />
<path color=#4d0 d=M554,229l-11-8-12-6-11-5,11-7,11,5,12,7,12,8z />
<path color=#1d1 d=M590,250l-12-8-12-6-12-7,12-6,11,8,12,6,12,8z />
<path color=#0d5 d=M626,271l-12-5-12-8-12-8,11-5,12,8,12,6,12,5z />
<path color=#1d1 d=M651,283l-13-6-12-6,11-7,12,6,13,7z />
<path color=#4d0 d=M663,290l-12-7,11-6,12,7z />
<path color=#1d1 d=M714,321l-13-8-13-7-12-8-13-8,11-6,13,7,12,8,13,8,13,8z />
<path color=#0d5 d=M727,329l-13-8,11-6,13,8z />
<path color=#1d1 d=M753,341l-13-5-13-7,11-6,13,6,13,6z />
<path color=#4d0 d=M766,347l-13-6,11-6,13,5z />
<path color=#6e0 d=M793,363l-13-9-14-7,11-7,14,7,13,8z />
<path color=#4d0 d=M862,404l-14-10-14-9-14-7-13-7-14-8,11-8,14,8,13,8,14,8,14,9,14,9z />
<path color=#1d1 d=M876,412l-14-8,11-7,14,7z />
<path color=#0d5 d=M497,212l-11-6,11-7,11,6z />
<path color=#1d1 d=M520,223l-11-6-12-5,11-7,12,5,11,5z />
<path color=#4d0 d=M532,230l-12-7,11-8,12,6z />
<path color=#1d1 d=M555,243l-12-6-11-7,11-9,11,8,12,7z />
<path color=#4d0 d=M567,249l-12-6,11-7,12,6z />
<path color=#1d1 d=M591,266l-12-9-12-8,11-7,12,8,12,8z />
<path color=#0d5 d=M603,273l-12-7,11-8,12,8z />
<path color=#1d1 d=M640,291l-13-6-12-6-12-6,11-7,12,5,12,6,13,6z />
<path color=#4d0 d=M664,306l-12-8-12-7,11-8,12,7,13,8z />
<path color=#1d1 d=M729,343l-13-7-13-8-13-7-13-8-13-7,12-8,12,8,13,7,13,8,13,8,13,7z />
<path color=#4d0 d=M755,355l-13-7-13-5,11-7,13,5,13,6z />
<path color=#6e0 d=M769,364l-14-9,11-8,14,7z />
<path color=#4d0 d=M851,413l-14-10-14-8-14-7-14-7-13-8-13-9,11-10,13,9,14,8,13,7,14,7,14,9,14,10z />
<path color=#1d1 d=M865,421l-14-8,11-9,14,8z />
<path color=#1d1 d=M579,273l-12-8-12-7-11-6-12-6-12-7-11-8-12-7-11-6-11-6,11-6,11,6,12,5,11,6,12,7,11,7,12,6,12,6,12,8,12,9z />
<path color=#0d5 d=M604,287l-13-6-12-8,12-7,12,7,12,6z />
<path color=#1d1 d=M628,299l-12-6-12-6,11-8,12,6,13,6z />
<path color=#4d0 d=M653,314l-12-8-13-7,12-8,12,7,12,8z />
<path color=#1d1 d=M704,343l-13-7-12-7-13-7-13-8,11-8,13,7,13,8,13,7,13,8z />
<path color=#4d0 d=M757,374l-13-10-13-8-13-6-14-7,12-7,13,7,13,5,13,7,14,9z />
<path color=#1d1 d=M798,398l-14-6-13-8-14-10,12-10,13,9,13,8,14,7z />
<path color=#4d0 d=M840,421l-14-7-14-8-14-8,11-10,14,7,14,8,14,10z />
<path color=#1d1 d=M854,429l-14-8,11-8,14,8z />
<path color=#1d1 d=M509,245l-12-7-11-7-12-6-11-7,12-6,11,6,11,6,12,7,11,8z />
<path color=#0d5 d=M532,260l-11-7-12-8,11-6,12,7,12,6z />
<path color=#1d1 d=M568,280l-12-7-12-7-12-6,12-8,11,6,12,7,12,8z />
<path color=#0d5 d=M592,294l-12-7-12-7,11-7,12,8,13,6z />
<path color=#1d1 d=M617,307l-13-6-12-7,12-7,12,6,12,6z />
<path color=#4d0 d=M642,321l-13-8-12-6,11-8,13,7,12,8z />
<path color=#1d1 d=M680,343l-13-7-12-7-13-8,11-7,13,8,13,7,12,7z />
<path color=#4d0 d=M746,383l-13-9-14-8-13-8-13-8-13-7,11-7,13,7,14,7,13,6,13,8,13,10z />
<path color=#1d1 d=M759,393l-13-10,11-9,14,10z />
<path color=#0d5 d=M773,400l-14-7,12-9,13,8z />
<path color=#1d1 d=M814,423l-14-7-13-9-14-7,11-8,14,6,14,8,14,8z />
<path color=#4d0 d=M843,435l-14-6-15-6,12-9,14,7,14,8z />
<path color=#1d1 d=M509,259l-12-8-11-7-12-6-11-5-11-7,11-8,11,7,12,6,11,7,12,7,12,8z />
<path color=#0d5 d=M533,274l-12-7-12-8,12-6,11,7,12,6z />
<path color=#1d1 d=M605,313l-12-6-12-6-12-7-13-7-12-7-11-6,11-8,12,7,12,7,12,7,12,7,12,7,13,6z />
<path color=#4d0 d=M643,336l-13-9-12-8-13-6,12-6,12,6,13,8,13,8z />
<path color=#1d1 d=M656,344l-13-8,12-7,12,7z />
<path color=#4d0 d=M708,375l-13-9-13-8-13-8-13-6,11-8,13,7,13,7,13,8,13,8z />
<path color=#1d1 d=M803,430l-14-7-14-8-13-8-14-7-13-8-14-9-13-8,11-9,14,8,13,9,13,10,14,7,14,7,13,9,14,7z />
<path color=#4d0 d=M817,436l-14-6,11-7,15,6z />
<path color=#6e0 d=M832,443l-15-7,12-7,14,6z />
<path color=#0d5 d=M451,241l-11-6,12-9,11,7z />
<path color=#1d1 d=M581,314l-12-6-12-7-12-8-12-7-12-6-12-6-12-8-11-7-12-7-11-6-12-5,12-8,11,5,12,6,11,7,12,8,12,8,12,7,11,6,12,7,13,7,12,7,12,6z />
<path color=#4d0 d=M594,320l-13-6,12-7,12,6z />
<path color=#6e0 d=M619,333l-13-8-12-5,11-7,13,6,12,8z />
<path color=#4d0 d=M683,375l-13-9-13-7-13-7-12-9-13-10,11-6,13,9,13,8,13,6,13,8,13,8z />
<path color=#1d1 d=M778,431l-14-9-14-7-13-7-14-8-13-7-14-9-13-9,12-9,13,9,13,8,14,9,13,8,14,7,13,8,14,8z />
<path color=#4d0 d=M806,446l-14-7-14-8,11-8,14,7,14,6z />
<path color=#6e0 d=M820,454l-14-8,11-10,15,7z />
<path color=#0d5 d=M463,262l-12-6-11-6-11-6,11-9,11,6,12,5,11,6z />
<path color=#1d1 d=M509,286l-12-5-11-7-12-6-11-6,11-10,12,7,11,7,12,8,12,6z />
<path color=#4d0 d=M545,308l-12-9-12-8-12-5,12-6,12,6,12,7,12,8z />
<path color=#1d1 d=M570,322l-13-6-12-8,12-7,12,7,12,6z />
<path color=#4d0 d=M582,327l-12-5,11-8,13,6z />
<path color=#6e0 d=M620,351l-13-10-12-9-13-5,12-7,12,5,13,8,13,10z />
<path color=#4d0 d=M672,383l-13-8-13-7-13-8-13-9,12-8,12,9,13,7,13,7,13,9z />
<path color=#1d1 d=M739,423l-14-7-14-7-13-7-13-9-13-10,11-8,13,9,14,9,13,7,14,8,13,7z />
<path color=#4d0 d=M766,440l-13-9-14-8,11-8,14,7,14,9z />
<path color=#1d1 d=M780,449l-14-9,12-9,14,8z />
<path color=#4d0 d=M809,466l-15-9-14-8,12-10,14,7,14,8z />
<path color=#0eb d=M451,272l-11-6-12-6-11-7,12-9,11,6,11,6,12,6z />
<path color=#0d5 d=M474,282l-12-5-11-5,12-10,11,6,12,6z />
<path color=#1d1 d=M497,293l-11-5-12-6,12-8,11,7,12,5z />
<path color=#4d0 d=M534,316l-13-8-12-9-12-6,12-7,12,5,12,8,12,9z />
<path color=#1d1 d=M558,331l-12-6-12-9,11-8,12,8,13,6z />
<path color=#4d0 d=M570,336l-12-5,12-9,12,5z />
<path color=#6e0 d=M608,360l-12-10-13-9-13-5,12-9,13,5,12,9,13,10z />
<path color=#4d0 d=M621,369l-13-9,12-9,13,9z />
<path color=#1d1 d=M634,376l-13-7,12-9,13,8z />
<path color=#4d0 d=M660,391l-13-8-13-7,12-8,13,7,13,8z />
<path color=#1d1 d=M713,424l-13-7-14-7-13-9-13-10,12-8,13,10,13,9,13,7,14,7z />
<path color=#4d0 d=M755,449l-14-10-14-8-14-7,12-8,14,7,14,8,13,9z />
<path color=#1d1 d=M768,460l-13-11,11-9,14,9z />
<path color=#0d5 d=M797,478l-15-8-14-10,12-11,14,8,15,9z />
<path color=#0ee d=M428,273l-12-5-11-6,12-9,11,7,12,6z />
<path color=#0eb d=M450,284l-11-6-11-5,12-7,11,6,11,5z />
<path color=#0d5 d=M462,289l-12-5,12-7,12,5z />
<path color=#1d1 d=M486,302l-12-6-12-7,12-7,12,6,11,5z />
<path color=#4d0 d=M510,317l-12-8-12-7,11-9,12,6,12,9z />
<path color=#1d1 d=M546,340l-12-7-12-8-12-8,11-9,13,8,12,9,12,6z />
<path color=#4d0 d=M559,346l-13-6,12-9,12,5z />
<path color=#6e0 d=M584,359l-13-8-12-5,11-10,13,5,13,9z />
<path color=#4d0 d=M596,369l-12-10,12-9,12,10z />
<path color=#1d1 d=M622,384l-13-7-13-8,12-9,13,9,13,7z />
<path color=#4d0 d=M648,401l-13-9-13-8,12-8,13,7,13,8z />
<path color=#1d1 d=M675,420l-14-10-13-9,12-10,13,10,13,9z />
<path color=#0d5 d=M702,437l-14-8-13-9,11-10,14,7,13,7z />
<path color=#1d1 d=M743,463l-14-11-14-8-13-7,11-13,14,7,14,8,14,10z />
<path color=#0eb d=M756,477l-13-14,12-14,13,11z />
<path color=#0ee d=M784,496l-14-8-14-11,12-17,14,10,15,8z />
<path color=#0ee d=M416,279l-12-5-11-5,12-7,11,6,12,5z />
<path color=#0eb d=M427,284l-11-5,12-6,11,5z />
<path color=#0d5 d=M438,290l-11-6,12-6,11,6z />
<path color=#1d1 d=M522,342l-12-8-12-7-12-8-12-8-12-7-12-8-12-6,12-6,12,5,12,7,12,6,12,7,12,8,12,8,12,8z />
<path color=#0d5 d=M534,350l-12-8,12-9,12,7z />
<path color=#1d1 d=M584,381l-12-9-13-8-12-7-13-7,12-10,13,6,12,5,13,8,12,10z />
<path color=#0d5 d=M636,417l-13-9-13-9-13-9-13-9,12-12,13,8,13,7,13,8,13,9z />
<path color=#0eb d=M663,436l-14-10-13-9,12-16,13,9,14,10z />
<path color=#0ee d=M689,451l-13-7-13-8,12-16,13,9,14,8z />
<path color=#0eb d=M703,456l-14-5,13-14,13,7z />
<path color=#0d5 d=M731,471l-14-9-14-6,12-12,14,8,14,11z />
<path color=#0ee d=M745,483l-14-12,12-8,13,14z />
<path color=#0be d=M773,499l-14-7-14-9,11-6,14,11,14,8z />
<path color=#0ee d=M392,282l-11-6,12-7,11,5z />
<path color=#0eb d=M415,294l-11-6-12-6,12-8,12,5,11,5z />
<path color=#0d5 d=M462,324l-12-9-12-8-11-7-12-6,12-10,11,6,12,6,12,8,12,7z />
<path color=#0eb d=M547,377l-12-7-13-8-12-7-12-7-12-7-12-8-12-9,12-13,12,8,12,8,12,7,12,8,12,8,13,7,12,7z />
<path color=#0d5 d=M572,391l-12-7-13-7,12-13,13,8,12,9z />
<path color=#0eb d=M624,423l-13-9-13-9-13-7-13-7,12-10,13,9,13,9,13,9,13,9z />
<path color=#0ee d=M664,445l-13-6-14-8-13-8,12-6,13,9,14,10,13,8z />
<path color=#0eb d=M678,451l-14-6,12-1,13,7z />
<path color=#0d5 d=M692,457l-14-6,11,0,14,5z />
<path color=#1d1 d=M719,473l-14-9-13-7,11-1,14,6,14,9z />
<path color=#0d5 d=M733,485l-14-12,12-2,14,12z />
<path color=#0eb d=M762,504l-15-9-14-10,12-2,14,9,14,7z />
<path color=#0be d=M392,302l-11-7-12-7,12-12,11,6,12,6z />
<path color=#0ee d=M415,312l-12-5-11-5,12-14,11,6,12,6z />
<path color=#0eb d=M498,355l-12-5-12-6-12-7-12-7-12-7-12-6-11-5,12-12,11,7,12,8,12,9,12,9,12,8,12,7,12,7z />
<path color=#0d5 d=M548,384l-13-8-13-7-12-8-12-6,12,0,12,7,13,8,12,7,13,7z />
<path color=#1d1 d=M586,409l-13-9-13-8-12-8,12,0,12,7,13,7,13,7z />
<path color=#0d5 d=M612,430l-13-11-13-10,12-4,13,9,13,9z />
<path color=#0eb d=M625,438l-13-8,12-7,13,8z />
<path color=#0d5 d=M639,444l-14-6,12-7,14,8z />
<path color=#1d1 d=M652,450l-13-6,12-5,13,6z />
<path color=#4d0 d=M680,464l-14-8-14-6,12-5,14,6,14,6z />
<path color=#6e0 d=M707,482l-14-9-13-9,12-7,13,7,14,9z />
<path color=#4d0 d=M721,493l-14-11,12-9,14,12z />
<path color=#1d1 d=M750,513l-15-10-14-10,12-8,14,10,15,9z />
<path color=#0be d=M379,301l-11-6-11-7,12,0,12,7,11,7z />
<path color=#0ee d=M391,307l-12-6,13,1,11,5z />
<path color=#0eb d=M402,312l-11-5,12,0,12,5z />
<path color=#0d5 d=M413,317l-11-5,13,0,11,5z />
<path color=#1d1 d=M473,354l-12-7-12-9-12-8-12-7-12-6,13,0,12,6,12,7,12,7,12,7,12,6z />
<path color=#4d0 d=M498,366l-13-6-12-6,13-4,12,5,12,6z />
<path color=#6e0 d=M523,383l-13-8-12-9,12-5,12,8,13,7z />
<path color=#4d0 d=M574,419l-13-9-13-9-13-9-12-9,12-7,13,8,12,8,13,8,13,9z />
<path color=#1d1 d=M587,428l-13-9,12-10,13,10z />
<path color=#0d5 d=M613,446l-13-9-13-9,12-9,13,11,13,8z />
<path color=#1d1 d=M627,451l-14-5,12-8,14,6z />
<path color=#4d0 d=M640,456l-13-5,12-7,13,6z />
<path color=#6e0 d=M709,500l-14-9-14-9-14-10-13-9-14-7,12-6,14,6,14,8,13,9,14,9,14,11z />
<path color=#4d0 d=M723,511l-14-11,12-7,14,10z />
<path color=#1d1 d=M737,521l-14-10,12-8,15,10z />
<path color=#0d5 d=M378,312l-11-7-12-6-11-7,13-4,11,7,11,6,12,6z />
<path color=#1d1 d=M389,318l-11-6,13-5,11,5z />
<path color=#4d0 d=M473,368l-12-6-12-7-12-8-12-8-12-7-12-7-12-7,13-6,11,5,12,6,12,7,12,8,12,9,12,7,12,6z />
<path color=#6e0 d=M523,400l-13-9-12-8-13-8-12-7,12-8,13,6,12,9,13,8,12,9z />
<path color=#4d0 d=M549,419l-13-10-13-9,12-8,13,9,13,9z />
<path color=#1d1 d=M614,459l-13-6-13-8-14-8-13-8-12-10,12-9,13,9,13,9,13,9,13,9,14,5z />
<path color=#6e0 d=M628,464l-14-5,13-8,13,5z />
<path color=#8e0 d=M655,481l-14-9-13-8,12-8,14,7,13,9z />
<path color=#6e0 d=M711,518l-14-10-14-8-14-9-14-10,12-9,14,10,14,9,14,9,14,11z />
<path color=#4d0 d=M725,529l-14-11,12-7,14,10z />
<path color=#1d1 d=M377,327l-12-8-11-7-11-6-12-6,13-8,11,7,12,6,11,7,11,6z />
<path color=#4d0 d=M523,420l-12-9-13-8-13-8-12-8-12-7-13-7-12-8-12-8-12-8-12-7-11-8-12-7,12-9,12,7,12,7,12,7,12,8,12,8,12,7,12,6,12,7,13,8,12,8,13,9,13,9z />
<path color=#1d1 d=M588,460l-13-8-13-8-13-8-13-5-13-11,13-11,13,10,12,10,13,8,14,8,13,8z />
<path color=#4d0 d=M602,467l-14-7,13-7,13,6z />
<path color=#6e0 d=M615,473l-13-6,12-8,14,5z />
<path color=#8e0 d=M643,490l-14-9-14-8,13-9,13,8,14,9z />
<path color=#6e0 d=M713,536l-14-10-14-9-14-8-14-9-14-10,12-9,14,10,14,9,14,8,14,10,14,11z />
<path color=#0eb d=M331,319l-12-6,12-13,12,6z />
<path color=#0d5 d=M486,417l-13-7-12-8-13-7-12-8-12-7-12-8-12-8-12-7-11-7-12-8-12-8-11-8-11-7,12-13,11,6,11,7,12,8,12,7,11,8,12,7,12,8,12,8,12,8,13,7,12,7,12,8,13,8z />
<path color=#1d1 d=M511,430l-13-7-12-6,12-14,13,8,12,9z />
<path color=#0d5 d=M524,439l-13-9,12-10,13,11z />
<path color=#1d1 d=M536,444l-12-5,12-8,13,5z />
<path color=#4d0 d=M589,476l-13-7-13-9-13-8-14-8,13-8,13,8,13,8,13,8,14,7z />
<path color=#6e0 d=M616,491l-13-8-14-7,13-9,13,6,14,8z />
<path color=#8e0 d=M644,509l-14-9-14-9,13-10,14,9,14,10z />
<path color=#6e0 d=M658,517l-14-8,13-9,14,9z />
<path color=#8e0 d=M686,535l-14-9-14-9,13-8,14,8,14,9z />
<path color=#6e0 d=M701,545l-15-10,13-9,14,10z />
<path color=#0eb d=M318,323l-11-5,12-5,12,6z />
<path color=#0d5 d=M340,337l-11-8-11-6,13-4,11,7,11,8z />
<path color=#0eb d=M375,359l-11-7-12-7-12-8,13-3,12,8,12,8,11,7z />
<path color=#0d5 d=M473,420l-13-7-12-8-13-9-12-9-12-7-12-8-12-7-12-6,13-2,12,7,12,8,12,8,12,7,12,8,13,7,12,8,13,7z />
<path color=#1d1 d=M485,426l-12-6,13-3,12,6z />
<path color=#4d0 d=M577,487l-14-8-13-9-13-9-13-9-13-9-13-10-13-7,13-3,13,7,13,9,12,5,14,8,13,8,13,9,13,7z />
<path color=#6e0 d=M631,518l-13-8-14-8-14-8-13-7,12-11,14,7,13,8,14,9,14,9z />
<path color=#8e0 d=M688,555l-14-9-14-10-15-10-14-8,13-9,14,8,14,9,14,9,15,10z />
<path color=#1d1 d=M304,326l-11-5,14-3,11,5z />
<path color=#4d0 d=M327,341l-11-9-12-6,14-3,11,6,11,8z />
<path color=#1d1 d=M362,364l-11-7-12-8-12-8,13-4,12,8,12,7,11,7z />
<path color=#4d0 d=M435,412l-13-10-12-9-12-8-12-7-12-7-12-7,13-5,12,6,12,7,12,8,12,7,12,9,13,9z />
<path color=#1d1 d=M447,421l-12-9,13-7,12,8z />
<path color=#4d0 d=M472,435l-12-7-13-7,13-8,13,7,12,6z />
<path color=#6e0 d=M498,452l-13-9-13-8,13-9,13,7,13,10z />
<path color=#4d0 d=M537,480l-13-10-13-9-13-9,13-9,13,9,13,9,13,9z />
<path color=#1d1 d=M551,489l-14-9,13-10,13,9z />
<path color=#4d0 d=M591,514l-14-9-13-8-13-8,12-10,14,8,13,7,14,8z />
<path color=#6e0 d=M619,528l-14-7-14-7,13-12,14,8,13,8z />
<path color=#8e0 d=M647,547l-14-10-14-9,12-10,14,8,15,10z />
<path color=#6e0 d=M675,566l-14-9-14-10,13-11,14,10,14,9z />
<path color=#4d0 d=M291,333l-11-5,13-7,11,5z />
<path color=#6e0 d=M314,347l-11-8-12-6,13-7,12,6,11,9z />
<path color=#4d0 d=M361,379l-12-7-11-8-12-8-12-9,13-6,12,8,12,8,11,7,12,7z />
<path color=#6e0 d=M410,411l-13-10-12-8-12-7-12-7,13-8,12,7,12,7,12,8,12,9z />
<path color=#4d0 d=M524,488l-13-10-13-9-13-8-13-8-12-9-13-7-13-7-12-9-12-10,12-9,13,10,12,9,13,7,12,7,13,8,13,9,13,9,13,9,13,10z />
<path color=#1d1 d=M538,497l-14-9,13-8,14,9z />
<path color=#4d0 d=M592,531l-14-8-13-9-14-9-13-8,13-8,13,8,13,8,14,9,14,7z />
<path color=#6e0 d=M663,576l-15-8-14-9-14-10-14-9-14-9,13-10,14,7,14,9,14,10,14,10,14,9z />
<path color=#4d0 d=M278,342l-11-5,13-9,11,5z />
<path color=#6e0 d=M313,364l-12-9-11-8-12-5,13-9,12,6,11,8,12,9z />
<path color=#4d0 d=M348,387l-12-6-11-8-12-9,13-8,12,8,11,8,12,7z />
<path color=#6e0 d=M397,420l-13-10-12-9-12-7-12-7,13-8,12,7,12,7,12,8,13,10z />
<path color=#4d0 d=M472,469l-13-7-12-8-13-8-13-8-12-8-12-10,13-9,12,10,12,9,13,7,13,7,12,9,13,8z />
<path color=#6e0 d=M498,486l-13-9-13-8,13-8,13,8,13,9z />
<path color=#4d0 d=M635,578l-14-8-14-10-14-10-14-10-14-8-13-9-14-10-13-8-14-9-13-10,13-8,13,10,14,9,13,8,14,9,13,9,14,8,14,9,14,9,14,10,14,9z />
<path color=#6e0 d=M650,585l-15-7,13-10,15,8z />
<path color=#1d1 d=M266,352l-11-6,12-9,11,5z />
<path color=#4d0 d=M277,358l-11-6,12-10,12,5z />
<path color=#6e0 d=M288,365l-11-7,13-11,11,8z />
<path color=#4d0 d=M335,396l-12-5-11-8-12-9-12-9,13-10,12,9,12,9,11,8,12,6z />
<path color=#6e0 d=M371,420l-12-10-12-8-12-6,13-9,12,7,12,7,12,9z />
<path color=#4d0 d=M446,470l-13-9-12-8-13-7-12-7-12-9-13-10,13-10,13,10,12,10,12,8,13,8,13,8,12,8z />
<path color=#6e0 d=M485,496l-13-9-13-9-13-8,13-8,13,7,13,8,13,9z />
<path color=#4d0 d=M622,589l-14-8-14-10-14-11-14-10-14-8-13-9-14-10-13-9-14-8-13-10,13-10,13,10,14,9,13,8,14,10,13,9,14,8,14,10,14,10,14,10,14,8z />
<path color=#6e0 d=M637,597l-15-8,13-11,15,7z />
<path color=#1d1 d=M252,361l-11-7,14-8,11,6z />
<path color=#4d0 d=M287,383l-12-8-11-7-12-7,14-9,11,6,11,7,12,9z />
<path color=#1d1 d=M310,400l-11-8-12-9,13-9,12,9,11,8z />
<path color=#4d0 d=M322,405l-12-5,13-9,12,5z />
<path color=#6e0 d=M358,430l-12-10-12-9-12-6,13-9,12,6,12,8,12,10z />
<path color=#4d0 d=M395,454l-12-7-13-8-12-9,13-10,13,10,12,9,12,7z />
<path color=#6e0 d=M446,488l-13-11-13-10-13-7-12-6,13-8,13,7,12,8,13,9,13,8z />
<path color=#4d0 d=M581,582l-14-10-14-10-14-10-14-9-13-10-14-9-13-8-13-8-13-9-13-11,13-10,13,9,13,9,13,10,14,8,13,9,14,10,13,9,14,8,14,10,14,11z />
<path color=#1d1 d=M595,592l-14-10,13-11,14,10z />
<path color=#4d0 d=M623,608l-14-8-14-8,13-11,14,8,15,8z />
<path color=#1d1 d=M297,408l-12-8-12-9-11-7-12-8-11-8-11-8,13-6,11,7,12,7,11,7,12,8,12,9,11,8z />
<path color=#4d0 d=M320,421l-11-7-12-6,13-8,12,5,12,6z />
<path color=#6e0 d=M332,430l-12-9,14-10,12,9z />
<path color=#4d0 d=M382,462l-13-6-12-9-12-8-13-9,14-10,12,10,12,9,13,8,12,7z />
<path color=#6e0 d=M394,468l-12-6,13-8,12,6z />
<path color=#8e0 d=M419,485l-13-11-12-6,13-8,13,7,13,10z />
<path color=#6e0 d=M432,498l-13-13,14-8,13,11z />
<path color=#4d0 d=M446,510l-14-12,14-10,13,11z />
<path color=#1d1 d=M459,518l-13-8,13-11,13,9z />
<path color=#4d0 d=M553,583l-14-11-13-9-14-10-14-10-13-10-13-8-13-7,13-10,13,8,13,8,14,9,13,10,14,9,14,10,14,10z />
<path color=#1d1 d=M581,601l-14-9-14-9,14-11,14,10,14,10z />
<path color=#4d0 d=M610,617l-14-8-15-8,14-9,14,8,14,8z />
<path color=#4d0 d=M260,399l-12-8-11-8-12-8-11-9,14-6,11,8,11,8,12,8,11,7z />
<path color=#1d1 d=M295,424l-12-7-11-9-12-9,13-8,12,9,12,8,12,6z />
<path color=#4d0 d=M368,472l-12-6-12-9-13-9-12-9-12-8-12-7,14-10,11,7,12,9,13,9,12,8,12,9,13,6z />
<path color=#6e0 d=M380,477l-12-5,14-10,12,6z />
<path color=#8e0 d=M406,496l-13-11-13-8,14-9,12,6,13,11z />
<path color=#6e0 d=M419,508l-13-12,13-11,13,13z />
<path color=#4d0 d=M432,518l-13-10,13-10,14,12z />
<path color=#1d1 d=M445,526l-13-8,14-8,13,8z />
<path color=#4d0 d=M458,532l-13-6,14-8,13,7z />
<path color=#6e0 d=M485,551l-14-10-13-9,14-7,13,8,13,10z />
<path color=#4d0 d=M582,616l-14-8-14-8-14-9-14-10-14-10-14-9-13-11,13-8,14,10,14,10,13,9,14,11,14,9,14,9,15,8z />
<path color=#6e0 d=M597,624l-15-8,14-7,14,8z />
<path color=#4d0 d=M258,416l-12-9-11-9-12-7-11-8-12-9,14-8,11,9,12,8,11,8,12,8,12,9z />
<path color=#1d1 d=M270,424l-12-8,14-8,11,9z />
<path color=#4d0 d=M318,457l-13-9-12-9-12-7-11-8,13-7,12,7,12,7,12,8,12,9z />
<path color=#1d1 d=M342,476l-12-9-12-10,13-9,13,9,12,9z />
<path color=#4d0 d=M355,482l-13-6,14-10,12,6z />
<path color=#6e0 d=M367,487l-12-5,13-10,12,5z />
<path color=#8e0 d=M392,506l-13-11-12-8,13-10,13,8,13,11z />
<path color=#4d0 d=M431,532l-13-7-13-7-13-12,14-10,13,12,13,10,13,8z />
<path color=#6e0 d=M444,539l-13-7,14-6,13,6z />
<path color=#8e0 d=M471,558l-13-10-14-9,14-7,13,9,14,10z />
<path color=#6e0 d=M554,615l-14-9-14-9-14-10-14-10-13-9-14-10,14-7,13,11,14,9,14,10,14,10,14,9,14,8z />
<path color=#8e0 d=M583,633l-14-9-15-9,14-7,14,8,15,8z />
<path color=#6e0 d=M198,390l-11-9,13-7,12,9z />
<path color=#4d0 d=M209,398l-11-8,14-7,11,8z />
<path color=#6e0 d=M244,421l-12-8-11-8-12-7,14-7,12,7,11,9,12,9z />
<path color=#4d0 d=M267,437l-11-8-12-8,14-5,12,8,11,8z />
<path color=#6e0 d=M304,463l-13-10-12-8-12-8,14-5,12,7,12,9,13,9z />
<path color=#4d0 d=M341,490l-13-7-12-9-12-11,14-6,12,10,12,9,13,6z />
<path color=#6e0 d=M353,495l-12-5,14-8,12,5z />
<path color=#8e0 d=M378,514l-12-11-13-8,14-8,12,8,13,11z />
<path color=#6e0 d=M404,530l-13-7-13-9,14-8,13,12,13,7z />
<path color=#8e0 d=M417,537l-13-7,14-5,13,7z />
<path color=#be0 d=M569,643l-14-10-14-10-15-10-14-11-14-10-13-9-14-9-14-9-13-11-14-9-13-8,14-5,13,7,14,9,13,10,14,10,13,9,14,10,14,10,14,9,14,9,15,9,14,9z />
<path color=#8e0 d=M265,450l-12-8-12-9-12-9-11-8-12-7-11-7-11-7-12-9,15-5,11,9,11,8,12,7,11,8,12,8,12,8,11,8,12,8z />
<path color=#be0 d=M277,457l-12-7,14-5,12,8z />
<path color=#8e0 d=M302,477l-13-11-12-9,14-4,13,10,12,11z />
<path color=#6e0 d=M327,496l-13-8-12-11,14-3,12,9,13,7z />
<path color=#8e0 d=M339,502l-12-6,14-6,12,5z />
<path color=#be0 d=M390,533l-13-7-13-8-13-8-12-8,14-7,13,8,12,11,13,9,13,7z />
<path color=#ce0 d=M403,541l-13-8,14-3,13,7z />
<path color=#ef0 d=M430,561l-14-11-13-9,14-4,13,8,14,9z />
<path color=#ce0 d=M470,589l-13-8-14-10-13-10,14-7,13,11,14,9,14,9z />
<path color=#ef0 d=M498,609l-14-10-14-10,15-6,13,9,14,10z />
<path color=#ce0 d=M556,653l-15-10-14-11-15-11-14-12,14-7,14,11,15,10,14,10,14,10z />
<path color=#be0 d=M180,406l-11-7-11-7,14-6,12,9,11,7z />
<path color=#ce0 d=M250,454l-11-7-12-9-12-9-12-9-11-7-12-7,15-4,11,7,12,7,11,8,12,9,12,9,12,8z />
<path color=#ef0 d=M275,470l-13-9-12-7,15-4,12,7,12,9z />
<path color=#ce0 d=M287,481l-12-11,14-4,13,11z />
<path color=#be0 d=M325,510l-13-8-12-10-13-11,15-4,12,11,13,8,12,6z />
<path color=#ce0 d=M337,517l-12-7,14-8,12,8z />
<path color=#ef0 d=M363,530l-13-7-13-6,14-7,13,8,13,8z />
<path color=#fe0 d=M375,537l-12-7,14-4,13,7z />
<path color=#fd0 d=M402,556l-13-10-14-9,15-4,13,8,13,9z />
<path color=#fe0 d=M498,629l-14-12-14-12-14-10-13-8-14-10-14-10-13-11,14-6,14,11,13,10,14,10,13,8,14,10,14,10,14,12z />
<path color=#ef0 d=M513,641l-15-12,14-8,15,11z />
<path color=#ce0 d=M542,662l-15-10-14-11,14-9,14,11,15,10z />
<path color=#ce0 d=M155,405l-11-6,14-7,11,7z />
<path color=#ef0 d=M177,418l-11-6-11-7,14-6,11,7,12,7z />
<path color=#fe0 d=M200,435l-11-9-12-8,15-5,11,7,12,9z />
<path color=#ef0 d=M236,461l-12-6-12-9-12-11,15-6,12,9,12,9,11,7z />
<path color=#fe0 d=M273,490l-13-13-12-9-12-7,14-7,12,7,13,9,12,11z />
<path color=#ce0 d=M323,526l-12-6-13-9-13-10-12-11,14-9,13,11,12,10,13,8,12,7z />
<path color=#fe0 d=M335,531l-12-5,14-9,13,6z />
<path color=#fd0 d=M348,537l-13-6,15-8,13,7z />
<path color=#fa0 d=M401,575l-13-11-14-10-13-9-13-8,15-7,12,7,14,9,13,10,13,11z />
<path color=#fd0 d=M428,594l-13-9-14-10,14-8,14,10,14,10z />
<path color=#fa0 d=M456,614l-14-11-14-9,15-7,13,8,14,10z />
<path color=#fd0 d=M470,626l-14-12,14-9,14,12z />
<path color=#fe0 d=M484,639l-14-13,14-9,14,12z />
<path color=#ef0 d=M527,671l-14-10-15-10-14-12,14-10,15,12,14,11,15,10z />
</g>
</g>
<path d="M103.5 40.4L103.8 38.4L104.5 38.4L104.9 40.4zM101.1 42.5L101.4 40L102.1 40L102.5 42.5zM99.7 45.6L100 44L100.8 44L101.2 45.6zM109.2 47.6L109.6 45.8L110.5 45.8L111 47.6zM116.8 47.9L117.2 44.6L117.8 44.6L118.1 47.9zM78.3 58.5L78.5 54.7L79.3 54.7L79.9 58.5zM66.8 60.9L67.1 58.3L68 58.3L68.6 60.9zM90.4 60.6L90.6 57.7L91.3 57.7L91.8 60.6zM91 60.7L91.2 56.9L91.9 56.9L92.3 60.7zM104.2 61.5L104.5 58.1L105.2 58.1L105.6 61.5zM134.4 61.2L134.8 58.2L135.4 58.2L135.7 61.2zM62.3 64.3L62.5 60.8L63.4 60.8L64.1 64.3zM127.7 63.2L128.1 60.6L128.8 60.6L129.1 63.2zM122.8 63.1L123.2 59.7L123.9 59.7L124.2 63.1zM146.6 64.3L147.1 62.5L148 62.5L148.4 64.3zM145.9 65.1L146.4 63.4L147.3 63.4L147.7 65.1zM121.5 66.2L121.9 63.9L122.8 63.9L123.2 66.2zM156.4 68.2L157 64.6L158 64.6L158.2 68.2zM145.2 69.2L145.6 67.4L146.3 67.4L146.5 69.2zM107.1 71.6L107.5 68.5L108.5 68.5L109 71.6zM93.8 72L94 68.2L94.9 68.2L95.4 72zM55.4 77.5L55.6 75.3L56.4 75.3L56.9 77.5zM131.4 78.7L131.9 76.2L132.8 76.2L133.2 78.7zM82.1 81.4L82.4 78.5L83.2 78.5L83.8 81.4zM160 81.5L160.7 78.7L161.6 78.7L161.9 81.5zM30 81.4L29.9 78L30.6 78L31.4 81.4zM48.2 83.6L48.4 81.1L49.2 81.1L49.9 83.6zM34.6 84.2L34.6 81L35.4 81L36.2 84.2zM39.8 86L39.9 83.1L40.8 83.1L41.5 86zM161 87.5L161.5 85.3L162.2 85.3L162.4 87.5zM164 88.3L164.5 85.3L165.2 85.3L165.3 88.3zM162.2 89.5L162.8 86.4L163.6 86.4L163.8 89.5zM93.1 96.7L93.4 94.4L94.2 94.4L94.6 96.7zM113.6 101L114 97.4L115 97.4L115.4 101zM126.6 100.5L127 96.7L127.8 96.7L128.1 100.5zM102.7 104.2L103 101.9L103.8 101.9L104.2 104.2zM62.7 104.7L62.9 101.4L63.7 101.4L64.4 104.7zM140.7 105.2L141.1 103.3L141.9 103.3L142.3 105.2zM81.3 107.4L81.6 104.5L82.5 104.5L83.2 107.4zM118.9 108.2L119.4 106.1L120.3 106.1L120.7 108.2zM67.6 107.6L67.7 104.4L68.5 104.4L69.2 107.6zM130.9 112.1L131.3 109.1L132 109.1L132.3 112.1zM92.8 113.7L93.1 109.6L93.9 109.6L94.5 113.7zM113.2 120.7L113.7 117.2L114.5 117.2L115 120.7zM92.9 119.7L93.3 116.9L94.2 116.9L94.7 119.7zM89.1 119.9L89.5 116.4L90.4 116.4L91.1 119.9zM94.4 126.6L94.6 123L95.3 123L95.8 126.6zM105.5 131.9L105.8 128L106.6 128L107.1 131.9z" fill="#e8a000"/>
<path d="M103.8 38.4L104.1 36.8L104.5 38.4zM101.4 40L101.7 37.9L102.1 40zM100 44L100.4 42.8L100.8 44zM109.6 45.8L110.1 44.4L110.5 45.8zM117.2 44.6L117.5 41.7L117.8 44.6zM78.5 54.7L78.7 51.4L79.3 54.7zM67.1 58.3L67.4 56.2L68 58.3zM90.6 57.7L90.9 55.2L91.3 57.7zM91.2 56.9L91.4 53.6L91.9 56.9zM104.5 58.1L104.8 55.1L105.2 58.1zM134.8 58.2L135.2 55.6L135.4 58.2zM62.5 60.8L62.6 57.7L63.4 60.8zM128.1 60.6L128.5 58.4L128.8 60.6zM123.2 59.7L123.6 56.7L123.9 59.7zM147.1 62.5L147.6 61.2L148 62.5zM146.4 63.4L146.9 62.2L147.3 63.4zM121.9 63.9L122.4 62L122.8 63.9zM157 64.6L157.7 61.6L158 64.6zM145.6 67.4L146 66L146.3 67.4zM107.5 68.5L108 65.9L108.5 68.5zM94 68.2L94.3 64.9L94.9 68.2zM55.6 75.3L55.8 73.7L56.4 75.3zM131.9 76.2L132.4 74.2L132.8 76.2zM82.4 78.5L82.7 76.2L83.2 78.5zM160.7 78.7L161.3 76.4L161.6 78.7zM29.9 78L29.8 75L30.6 78zM48.4 81.1L48.6 79.1L49.2 81.1zM34.6 81L34.7 78.4L35.4 81zM39.9 83.1L40 80.7L40.8 83.1zM161.5 85.3L162 83.7L162.2 85.3zM164.5 85.3L165.1 82.7L165.2 85.3zM162.8 86.4L163.4 83.8L163.6 86.4zM93.4 94.4L93.7 92.5L94.2 94.4zM114 97.4L114.5 94.3L115 97.4zM127 96.7L127.5 93.4L127.8 96.7zM103 101.9L103.4 100.1L103.8 101.9zM62.9 101.4L63 98.7L63.7 101.4zM141.1 103.3L141.6 101.9L141.9 103.3zM81.6 104.5L81.9 102.1L82.5 104.5zM119.4 106.1L119.8 104.5L120.3 106.1zM67.7 104.4L67.9 101.8L68.5 104.4zM131.3 109.1L131.7 106.6L132 109.1zM93.1 109.6L93.4 106L93.9 109.6zM113.7 117.2L114.1 114.2L114.5 117.2zM93.3 116.9L93.6 114.6L94.2 116.9zM89.5 116.4L89.8 113.5L90.4 116.4zM94.6 123L94.9 119.9L95.3 123zM105.8 128L106.2 124.5L106.6 128z" fill="#d81000"/>
<path d="M23.2 43.9L30.7 92.8L105.8 148.1L178.3 89.8M30.7 92.8h-2M105.8 148.1h2M39.1 99h-2M116 139.9h2M47.8 105.4h-2M125.8 132h2M56.7 111.9h-2M135.3 124.4h2M65.9 118.7h-2M144.5 117h2M75.4 125.7h-2M153.4 109.8h2M85.2 132.9h-2M162 102.9h2M95.3 140.4h-2M170.3 96.3h2M105.8 148.1h-2M178.3 89.8h2M30.7 92.8h-2.2M29 81.4h-2.2M27.1 69.4h-2.2M25.2 56.9h-2.2M23.2 43.9h-2.2" stroke="#262626" stroke-width=".6" fill="none"/>
<text x="109.4" y="151.1" font-size="7.1" text-anchor="start">0</text>
<text x="35.8" y="102.1" font-size="7.1" text-anchor="end">45</text>
<text x="119.6" y="142.9" font-size="7.1" text-anchor="start">45</text>
<text x="44.5" y="108.5" font-size="7.1" text-anchor="end">90</text>
<text x="129.4" y="135" font-size="7.1" text-anchor="start">90</text>
<text x="53.4" y="115" font-size="7.1" text-anchor="end">135</text>
<text x="138.9" y="127.4" font-size="7.1" text-anchor="start">135</text>
<text x="62.6" y="121.8" font-size="7.1" text-anchor="end">180</text>
<text x="148.1" y="120" font-size="7.1" text-anchor="start">180</text>
<text x="72.1" y="128.8" font-size="7.1" text-anchor="end">225</text>
<text x="157" y="112.8" font-size="7.1" text-anchor="start">225</text>
<text x="81.9" y="136" font-size="7.1" text-anchor="end">270</text>
<text x="165.6" y="105.9" font-size="7.1" text-anchor="start">270</text>
<text x="92" y="143.5" font-size="7.1" text-anchor="end">315</text>
<text x="173.9" y="99.3" font-size="7.1" text-anchor="start">315</text>
<text x="102.5" y="151.2" font-size="7.1" text-anchor="end">360</text>
<text x="181.9" y="92.8" font-size="7.1" text-anchor="start">360</text>
<text x="19.8" y="46.3" font-size="7.1" text-anchor="end">150</text>
<text x="21.8" y="59.3" font-size="7.1" text-anchor="end">100</text>
<text x="23.7" y="71.8" font-size="7.1" text-anchor="end">50</text>
<text x="25.6" y="83.8" font-size="7.1" text-anchor="end">0</text>
<text x="27.3" y="95.2" font-size="7.1" text-anchor="end">-50</text>
<text x="9.3" y="84.4" font-size="7.4" text-anchor="middle">Z(nm)</text>
<text x="46.2" y="130.7" font-size="7.4" text-anchor="middle">X(µm)</text>
<text x="166.4" y="130" font-size="7.4" text-anchor="middle">Y(µm)</text>
</g>
<g clip-path="url(#k1)"><g transform="translate(232.5 224)">
<rect x="190.6" y="24.3" width="9.7" height="99" fill="url(#cb)" stroke="#777" stroke-width=".5"/>
<text x="204.8" y="30.2" font-size="6.6" text-anchor="start">47.00</text>
<text x="204.8" y="38.9" font-size="6.6" text-anchor="start">40.00</text>
<text x="204.8" y="47.5" font-size="6.6" text-anchor="start">33.00</text>
<text x="204.8" y="56.2" font-size="6.6" text-anchor="start">26.00</text>
<text x="204.8" y="64.9" font-size="6.6" text-anchor="start">19.00</text>
<text x="204.8" y="73.5" font-size="6.6" text-anchor="start">12.00</text>
<text x="204.8" y="82.2" font-size="6.6" text-anchor="start">5.000</text>
<text x="204.8" y="90.9" font-size="6.6" text-anchor="start">-2.000</text>
<text x="204.8" y="99.5" font-size="6.6" text-anchor="start">-9.000</text>
<text x="204.8" y="108.2" font-size="6.6" text-anchor="start">-16.00</text>
<text x="204.8" y="116.8" font-size="6.6" text-anchor="start">-23.00</text>
<text x="204.8" y="125.5" font-size="6.6" text-anchor="start">-30.00</text>
<path d="M200.3 28h2M200.3 36.7h2M200.3 45.3h2M200.3 54h2M200.3 62.7h2M200.3 71.3h2M200.3 80h2M200.3 88.7h2M200.3 97.3h2M200.3 106h2M200.3 114.6h2M200.3 123.3h2" stroke="#555" stroke-width=".5"/>
</g></g>
<text x="336.4" y="428.1" font-size="15.9" text-anchor="middle" font-weight="bold">(e)</text>
<g transform="translate(465 224)">
<path d="M40.9 86.5L34.4 37.8M168.1 83.9L172.5 35.4M116 139.9L40.9 86.5M95.3 140.4L168.1 83.9M60.3 74.3L55.6 26.2M148.5 72.6L151.2 24.6M135.3 124.4L60.3 74.3M75.4 125.7L148.5 72.6M78.6 62.8L75.5 15.4M130 61.9L131.1 14.4M153.4 109.8L78.6 62.8M56.7 111.9L130 61.9M95.8 52.1L94.2 5.2M112.5 51.7L112.2 4.9M170.3 96.3L95.8 52.1M39.1 99L112.5 51.7M29.3 83.6L103.9 38M103.9 38L179.4 80.6M27.4 70.9L103.6 26M103.6 26L180.8 68M25.3 57.7L103.4 13.4M103.4 13.4L182.2 54.8" stroke="#e0e0e0" stroke-width=".5" fill="none"/>
<path d="M23.2 43.9L103.1 .3M103.1 .3L183.7 41M104.1 46.9L103.1 .3M178.3 89.8L183.7 41M30.7 92.8L104.1 46.9M104.1 46.9L178.3 89.8" stroke="#959595" stroke-width=".5" fill="none"/>
<g filter="url(#nf)">
<g class="s" transform="scale(.2)" style="--o:0.7;--w:1.6">
<path color=#be0 d=M483,220l13-6,12-7,12-8,11-8-12-6-11,7-12,9-13,7-12,5z />
<path color=#ce0 d=M446,243l13-9,12-8,12-6-12-7-12,6-12,8-13,9z />
<path color=#be0 d=M408,267l13-7,13-8,12-9-12-7-12,9-13,8-13,7z />
<path color=#ce0 d=M343,306l13-9,13-8,13-7,13-8,13-7-12-7-13,6-13,7-13,8-13,8-14,10z />
<path color=#be0 d=M274,349l14-8,14-8,14-8,13-9,14-10-13-7-13,9-13,9-14,8-14,8-14,8z />
<path color=#ce0 d=M173,412l14-11,15-10,15-9,14-9,15-8,14-8,14-8-12-8-14,8-15,7-14,9-14,8-15,9-15,9-14,11z />
<path color=#be0 d=M158,422l15-10-12-10-15,12z />
<path color=#be0 d=M496,227l12-6,12-8,12-8,12-8-13-6-11,8-12,8-12,7-13,6z />
<path color=#ce0 d=M446,258l12-9,13-8,12-7,13-7-13-7-12,6-12,8-13,9-12,9z />
<path color=#be0 d=M420,274l13-8,13-8-12-6-13,8-13,7z />
<path color=#ce0 d=M341,323l14-9,13-9,13-8,14-7,13-8,12-8-12-7-13,7-13,8-13,7-13,8-13,9-14,10z />
<path color=#be0 d=M286,357l14-9,14-8,14-8,13-9-12-7-13,9-14,8-14,8-14,8z />
<path color=#ce0 d=M200,411l14-10,15-9,14-9,15-9,14-8,14-9-12-8-14,8-14,8-15,8-14,9-15,9-15,10z />
<path color=#be0 d=M170,431l15-10,15-10-13-10-14,11-15,10z />
<path color=#ce0 d=M532,219l12-8,12-8-12-6-12,8-12,8z />
<path color=#be0 d=M508,235l12-8,12-8-12-6-12,8-12,6z />
<path color=#ce0 d=M420,290l13-9,12-9,13-9,13-7,12-7,13-7,12-7-12-8-13,7-12,7-13,8-12,9-13,8-13,8-12,8z />
<path color=#be0 d=M407,298l13-8-12-8-13,8z />
<path color=#ce0 d=M227,411l14-10,15-9,14-9,14-9,15-9,13-9,14-8,14-9,14-9,13-9,13-8,14-7,13-8-12-8-14,7-13,8-13,9-14,9-13,9-14,8-14,8-14,9-14,9-14,8-15,9-14,9-15,9z />
<path color=#be0 d=M182,439l15-9,15-10,15-9-13-10-14,10-15,10-15,10z />
<path color=#ce0 d=M325,365l14-9,13-9,14-9,13-9,14-8,13-8,13-8,13-8,13-9,13-9,13-9,12-7,13-7,12-6,12-8,12-8,13-8,11-9,12-8-12-6-12,8-12,8-12,8-12,8-12,7-13,7-12,7-13,7-13,9-12,9-13,9-13,8-13,8-14,7-13,8-13,9-14,9-14,9-14,8z />
<path color=#be0 d=M311,374l14-9-13-9-13,9z />
<path color=#ce0 d=M268,401l15-10,14-9,14-8-12-9-15,9-14,9-14,9z />
<path color=#be0 d=M195,447l15-9,14-9,15-10,15-9,14-9-12-9-15,9-14,10-15,9-15,10-15,9z />
<path color=#ce0 d=M545,242l12-9,12-8,12-8-13-8-12,8-11,9-13,8z />
<path color=#be0 d=M521,257l12-7,12-8-13-8-12,8-12,8z />
<path color=#ce0 d=M351,364l14-9,14-8,13-9,13-9,14-8,13-8,13-8,13-9,12-8,13-9,13-8,12-7,13-7-13-7-12,6-13,7-12,7-13,9-13,9-13,9-13,8-13,8-13,8-14,8-13,9-14,9-13,9z />
<path color=#be0 d=M309,391l14-9,14-9,14-9-12-8-14,9-14,9-14,8z />
<path color=#ce0 d=M266,418l15-9,14-10,14-8-12-9-14,9-15,10-14,9z />
<path color=#be0 d=M207,456l15-9,15-10,15-10,14-9-12-8-15,9-15,10-14,9-15,9z />
<path color=#ce0 d=M570,242l12-9,11-8-12-8-12,8-12,8z />
<path color=#be0 d=M533,265l12-7,13-8,12-8-13-9-12,9-12,8-12,7z />
<path color=#ce0 d=M483,297l13-9,12-9,13-7,12-7-12-8-13,7-12,7-13,8-13,9z />
<path color=#be0 d=M444,322l13-9,13-8,13-8-13-9-12,8-13,9-13,8z />
<path color=#ce0 d=M364,372l14-9,13-8,14-9,13-8,13-8,13-8-12-9-13,8-14,8-13,9-13,9-14,8-14,9z />
<path color=#be0 d=M322,400l14-9,14-9,14-10-13-8-14,9-14,9-14,9z />
<path color=#ce0 d=M249,445l15-10,15-9,14-9,15-9,14-8-13-9-14,8-14,10-15,9-14,9-15,10z />
<path color=#be0 d=M220,466l15-10,14-11-12-8-15,10-15,9z />
<path color=#be0 d=M582,252l12-9,12-8-13-10-11,8-12,9z />
<path color=#8e0 d=M558,268l12-8,12-8-12-10-12,8-13,8z />
<path color=#be0 d=M496,308l13-9,12-9,13-8,12-7,12-7-13-10-12,7-12,7-13,7-12,9-13,9z />
<path color=#8e0 d=M483,316l13-8-13-11-13,8z />
<path color=#be0 d=M233,478l15-11,14-11,15-10,15-9,14-9,15-9,14-9,14-8,14-10,14-9,13-10,14-9,14-8,13-8,13-8,13-8,13-8,13-8-13-11-13,8-13,9-13,8-13,8-13,8-14,9-13,8-14,9-14,10-14,9-14,9-14,8-15,9-14,9-15,9-15,10-14,11-15,10z />
<path color=#be0 d=M583,265l12-9,12-8,12-8-13-5-12,8-12,9-12,8z />
<path color=#8e0 d=M571,272l12-7-13-5-12,8z />
<path color=#be0 d=M521,305l13-9,12-9,13-8,12-7-13-4-12,7-12,7-13,8-12,9z />
<path color=#8e0 d=M483,329l13-7,13-8,12-9-12-6-13,9-13,8-13,8z />
<path color=#be0 d=M430,361l14-7,13-8,13-8,13-9-13-5-13,8-13,8-13,8-13,8z />
<path color=#ce0 d=M389,388l14-10,14-8,13-9-12-5-14,8-14,9-13,10z />
<path color=#be0 d=M333,424l14-8,15-9,14-10,13-9-12-5-14,9-14,10-14,8-14,9z />
<path color=#ce0 d=M290,453l14-9,15-10,14-10-12-5-15,9-14,9-15,9z />
<path color=#be0 d=M245,485l15-11,15-11,15-10-13-7-15,10-14,11-15,11z />
<path color=#ce0 d=M608,262l12-8,12-7-13-7-12,8-12,8z />
<path color=#be0 d=M584,278l12-7,12-9-13-6-12,9-12,7z />
<path color=#ce0 d=M547,303l12-9,13-8,12-8-13-6-12,7-13,8-12,9z />
<path color=#be0 d=M470,353l13-8,13-9,13-8,13-8,12-8,13-9-13-7-13,9-12,9-13,8-13,7-13,9-13,8z />
<path color=#ce0 d=M273,483l15-11,15-9,14-10,15-11,14-10,14-9,14-9,14-10,14-9,14-9,14-8,13-9,14-8,13-8-13-7-13,8-14,7-13,9-14,8-14,10-13,9-14,10-15,9-14,8-14,10-15,10-14,9-15,10-15,11z />
<path color=#be0 d=M258,493l15-10-13-9-15,11z />
<path color=#ce0 d=M560,311l12-9,13-8,12-8,12-9,12-8,12-8,12-7-13-7-12,7-12,8-12,9-12,7-12,8-13,8-12,9z />
<path color=#be0 d=M522,336l13-8,12-8,13-9-13-8-13,9-12,8-13,8z />
<path color=#ce0 d=M429,394l14-8,13-8,14-8,13-9,13-9,13-8,13-8-13-8-13,8-13,9-13,8-13,8-14,8-13,9-14,8z />
<path color=#ef0 d=M401,413l14-10,14-9-13-8-14,9-14,9z />
<path color=#ce0 d=M286,492l15-10,15-10,14-10,15-11,14-10,14-9,15-10,13-9-13-9-14,10-14,9-14,9-14,10-15,11-14,10-15,9-15,11z />
<path color=#be0 d=M271,503l15-11-13-9-15,10z />
<path color=#ce0 d=M573,318l12-8,13-8,12-9,12-8,12-8,12-8,12-8-13-7-12,7-12,8-12,8-12,9-12,8-13,8-12,9z />
<path color=#be0 d=M548,335l12-8,13-9-13-7-13,9-12,8z />
<path color=#ce0 d=M442,403l14-8,13-8,14-9,13-9,13-9,13-8,13-9,13-8-13-7-13,8-13,8-13,8-13,9-13,9-14,8-13,8-14,8z />
<path color=#ef0 d=M415,422l13-10,14-9-13-9-14,9-14,10z />
<path color=#ce0 d=M314,491l15-10,15-10,14-10,14-10,15-9,14-10,14-10-14-9-13,9-15,10-14,9-14,10-15,11-14,10-15,10z />
<path color=#be0 d=M284,512l15-11,15-10-13-9-15,10-15,11z />
<path color=#ce0 d=M659,278l12-8-13-9-12,8z />
<path color=#be0 d=M522,371l13-9,13-9,13-8,13-9,12-8,13-8,12-9,12-8,12-8,12-8,12-9-13-9-12,8-12,8-12,8-12,9-13,8-12,8-13,9-12,8-13,8-13,9-13,8z />
<path color=#ce0 d=M509,379l13-8-13-11-13,9z />
<path color=#be0 d=M483,397l13-9,13-9-13-10-13,9-14,9z />
<path color=#ce0 d=M414,444l14-10,14-11,14-10,13-8,14-8-14-10-13,8-14,8-14,9-13,10-14,10z />
<path color=#be0 d=M400,453l14-9-13-12-14,10z />
<path color=#ce0 d=M342,491l15-10,14-9,15-10,14-9-13-11-15,9-14,10-14,10-15,10z />
<path color=#be0 d=M298,524l15-12,15-11,14-10-13-10-15,10-15,10-15,11z />
<path color=#ce0 d=M673,284l11-9-13-5-12,8z />
<path color=#be0 d=M496,405l13-9,14-9,13-9,13-9,13-9,12-9,13-9,13-8,12-8,12-8,13-8,12-8,12-9,12-9-14-6-12,9-12,8-12,8-12,8-12,9-13,8-12,8-13,9-13,8-13,9-13,9-13,8-13,9-13,9z />
<path color=#ce0 d=M455,432l14-10,14-9,13-8-13-8-14,8-13,8-14,10z />
<path color=#be0 d=M385,480l14-10,14-9,15-9,14-9,13-11-13-9-14,11-14,10-14,9-14,9-15,10z />
<path color=#ce0 d=M341,509l15-10,14-10,15-9-14-8-14,9-15,10-14,10z />
<path color=#be0 d=M311,532l15-12,15-11-13-8-15,11-15,12z />
<path color=#ce0 d=M674,300l12-9,12-9-14-7-11,9-12,9z />
<path color=#be0 d=M625,334l13-9,12-7,12-9,12-9-13-7-12,9-12,8-13,8-12,8z />
<path color=#ce0 d=M562,377l13-9,13-9,13-8,12-9,12-8-13-8-12,8-13,8-13,9-12,9-13,9z />
<path color=#be0 d=M510,413l13-9,13-9,13-9,13-9-13-8-13,9-13,9-14,9-13,9z />
<path color=#ce0 d=M469,442l14-10,13-10,14-9-14-8-13,8-14,9-14,10z />
<path color=#be0 d=M427,470l14-9,14-9,14-10-14-10-13,11-14,9-15,9z />
<path color=#ce0 d=M339,530l15-11,15-11,15-10,14-10,15-9,14-9-14-9-14,9-14,10-15,9-14,10-15,10-15,11z />
<path color=#be0 d=M324,541l15-11-13-10-15,12z />
<path color=#ce0 d=M699,301l12-9-13-10-12,9z />
<path color=#be0 d=M426,489l15-9,14-10,14-9,14-9,13-10,14-9,13-10,14-9,13-9,13-10,13-9,13-9,12-8,13-8,13-10,12-9,12-8,12-8,13-8,12-8,11-9-13-10-12,9-12,9-12,9-12,7-13,9-12,8-12,9-13,8-13,9-13,9-13,9-13,9-13,9-13,9-14,9-13,10-14,10-14,10-14,9-14,9-14,9z />
<path color=#ce0 d=M368,530l15-11,14-10,15-10,14-10-13-10-15,9-14,10-15,10-15,11z />
<path color=#be0 d=M338,552l15-11,15-11-14-11-15,11-15,11z />
<path color=#be0 d=M524,444l13-10,13-10,14-9,13-10,13-10,12-8,13-8,13-9,12-9,13-10,12-8,12-8,12-8,12-7,12-9,12-9-14-10-12,9-11,9-12,8-13,8-12,8-12,8-12,9-13,10-13,8-12,8-13,9-13,9-13,10-13,9-14,9-13,10z />
<path color=#8e0 d=M496,462l14-9,14-9-14-11-14,9-13,10z />
<path color=#be0 d=M352,562l15-10,15-11,15-10,14-11,15-10,14-9,15-10,14-10,14-9,13-10-13-10-14,9-14,9-14,10-15,9-14,10-15,10-14,10-15,11-15,11-15,11z />
<path color=#8e0 d=M691,344l12-7,12-8,12-8,11-9-13-10-12,9-12,9-12,7-12,8z />
<path color=#be0 d=M654,370l12-9,13-9,12-8-14-9-12,8-12,8-13,10z />
<path color=#8e0 d=M616,396l13-8,13-9,12-9-14-9-12,9-13,9-13,8z />
<path color=#be0 d=M591,415l12-10,13-9-14-9-12,8-13,10z />
<path color=#8e0 d=M411,542l14-10,15-10,14-11,14-9,15-10,14-9,13-10,14-9,14-10,13-10,13-9,13-10,14-10-14-10-13,10-14,9-13,10-13,10-14,9-14,9-13,10-14,9-14,10-15,10-14,9-15,10-14,11z />
<path color=#be0 d=M366,573l15-11,15-10,15-10-14-11-15,10-15,11-15,10z />
<path color=#6e0 d=M717,346l12-8,11-8,12-9-14-9-11,9-12,8-12,8z />
<path color=#8e0 d=M591,435l13-10,13-9,13-10,13-9,12-9,13-9,12-9,13-9,12-8,12-7-14-9-12,7-12,8-13,9-12,9-12,9-13,9-13,8-13,9-12,10-14,10z />
<path color=#6e0 d=M483,513l14-9,14-10,13-10,14-10,14-10,13-10,13-9,13-10-14-10-13,10-13,9-13,10-14,10-14,9-13,10-14,9-15,10z />
<path color=#8e0 d=M380,584l15-11,15-10,15-10,14-10,15-10,14-10,15-10-15-11-14,9-14,11-15,10-14,10-15,10-15,10-15,11z />
<path color=#6e0 d=M719,363l12-9,12-9,11-9,12-8-14-7-12,9-11,8-12,8-12,7z />
<path color=#8e0 d=M657,407l12-9,13-9,12-9,13-9,12-8-14-10-12,8-13,9-12,9-13,9-12,9z />
<path color=#6e0 d=M424,575l15-10,15-11,14-10,15-10,14-10,14-10,14-10,13-11,14-10,14-9,13-10,13-10,13-9,14-9,12-9,13-10,13-10-14-10-13,9-13,10-13,9-13,10-13,10-13,9-13,10-14,10-14,10-13,10-14,10-14,9-15,10-14,10-15,10-14,10-15,10z />
<path color=#8e0 d=M394,596l15-11,15-10-14-12-15,10-15,11z />
<path color=#8e0 d=M768,344l12-8-14-8-12,8z />
<path color=#6e0 d=M658,428l13-10,13-10,12-9,12-9,13-9,12-9,12-9,12-9,11-10-14-8-11,9-12,9-12,9-12,8-13,9-12,9-13,9-12,9-13,10z />
<path color=#4d0 d=M633,446l13-9,12-9-14-11-13,10-12,9z />
<path color=#6e0 d=M525,524l14-11,14-10,13-10,14-10,13-10,14-10,13-8,13-9-14-10-14,9-13,9-13,10-13,10-14,9-14,10-13,11-14,10z />
<path color=#4d0 d=M511,534l14-10-14-10-14,10z />
<path color=#6e0 d=M409,608l15-11,15-11,14-10,15-10,14-11,15-11,14-10-14-10-14,10-15,10-14,10-15,11-15,10-15,10-15,11z />
<path color=#6e0 d=M698,417l12-9,13-10,12-9,12-9,12-9,12-9,12-9,11-8-14-9-12,8-11,10-12,9-12,9-12,9-13,9-12,9-12,9z />
<path color=#4d0 d=M634,463l13-8,13-9,13-9,12-10,13-10-14-9-13,10-13,10-12,9-13,9-13,9z />
<path color=#6e0 d=M497,564l14-11,14-10,14-10,14-10,14-10,14-10,13-11,14-11,13-9,13-9-14-8-13,8-14,10-13,10-14,10-13,10-14,10-14,11-14,10-14,10-15,11z />
<path color=#4d0 d=M423,620l15-12,15-11,15-10,14-11,15-12-15-9-14,11-15,10-14,10-15,11-15,11z />
<path color=#6e0 d=M712,425l13-10,12-10,12-9,12-9,12-9,12-8,12-9,12-8-15-8-11,8-12,9-12,9-12,9-12,9-12,9-13,10-12,9z />
<path color=#4d0 d=M661,462l13-8,13-9,13-10,12-10-14-8-13,10-12,10-13,9-13,9z />
<path color=#6e0 d=M482,596l15-12,14-11,15-11,14-10,14-10,14-10,14-10,13-10,14-11,13-11,13-10,13-10,13-8-14-7-13,8-13,9-13,9-14,11-13,11-14,10-14,10-14,10-14,10-14,10-14,11-15,12-14,11z />
<path color=#4d0 d=M438,630l15-12,15-11,14-11-14-9-15,10-15,11-15,12z />
<path color=#6e0 d=M800,377l11-9,12-8-14-7-12,8-12,9z />
<path color=#8e0 d=M788,386l12-9-15-7-12,8z />
<path color=#6e0 d=M752,413l12-9,12-9,12-9-15-8-12,9-12,9-12,9z />
<path color=#8e0 d=M739,421l13-8-15-8-12,10z />
<path color=#6e0 d=M676,469l13-9,13-9,12-10,13-10,12-10-14-6-13,10-12,10-13,10-13,9-13,8z />
<path color=#8e0 d=M637,499l13-11,13-10,13-9-15-7-13,8-13,10-13,10z />
<path color=#6e0 d=M452,639l15-12,15-12,15-11,15-11,14-11,14-11,14-10,15-10,13-10,14-11,14-10,13-11,14-10-15-9-13,11-14,11-13,10-14,10-14,10-14,10-14,10-15,11-14,11-15,12-14,11-15,11-15,12z />
<path color=#8e0 d=M467,647l15-12,15-12,15-11,14-10,15-11,14-11,14-11,14-11,14-10,14-10,14-11,13-11,14-10,13-10,13-10,13-10,13-9,12-9,13-10,13-10,12-10,12-9,13-8,12-10,12-9,11-9,12-8,12-8-15-7-12,8-11,9-12,9-12,9-12,9-12,9-13,8-12,10-13,10-12,10-13,9-13,9-13,9-13,10-13,11-14,10-13,11-14,10-14,11-13,10-15,10-14,10-14,11-14,11-15,11-15,11-15,12-15,12z />
<path color=#8e0 d=M841,382l11-8-14-7-12,8z />
<path color=#be0 d=M556,599l14-11,14-11,14-11,14-10,14-11,14-11,13-11,13-10,14-9,13-10,13-10,13-9,12-10,13-10,13-10,12-9,12-9,12-10,13-10,11-8,12-9,12-8-15-7-12,8-11,9-12,9-12,10-13,8-12,9-12,10-13,10-13,10-12,9-13,9-13,10-13,10-13,10-14,10-13,11-14,11-14,10-14,10-14,11-14,11-14,11z />
<path color=#8e0 d=M512,632l15-10,14-11,15-12-15-8-15,11-14,10-15,11z />
<path color=#be0 d=M482,655l15-11,15-12-15-9-15,12-15,12z />
<path color=#be0 d=M832,406l12-8,12-8,11-8-15-8-11,8-12,8-12,9z />
<path color=#ce0 d=M808,424l13-10,11-8-15-7-11,8-13,10z />
<path color=#be0 d=M682,522l13-9,13-10,13-10,13-10,12-10,13-10,13-9,12-10,12-9,12-11-15-7-12,10-12,9-12,9-13,10-13,10-12,10-13,9-13,10-13,10-14,9z />
<path color=#ce0 d=M641,554l14-12,13-11,14-9-16-9-13,10-13,11-14,11z />
<path color=#be0 d=M497,665l15-12,15-10,15-11,14-11,15-12,14-13,14-11,14-10,14-10,14-11-15-9-14,11-14,10-14,11-14,11-14,11-15,12-14,11-15,10-15,12-15,11z />
<path color=#be0 d=M859,406l12-9,11-8-15-7-11,8-12,8z />
<path color=#ce0 d=M811,444l12-11,13-10,11-9,12-8-15-8-12,8-11,8-13,10-12,11z />
<path color=#be0 d=M787,462l12-9,12-9-15-9-12,9-12,10z />
<path color=#ce0 d=M586,618l14-12,15-11,14-11,13-10,14-11,14-11,13-10,14-10,13-10,13-11,13-10,13-10,13-9,12-10,13-10-15-8-13,9-13,10-12,10-13,10-13,10-13,10-13,9-14,9-13,11-14,12-14,11-14,10-14,10-14,11-14,13z />
<path color=#be0 d=M512,676l15-12,15-11,15-11,15-11,14-13-15-9-15,12-14,11-15,11-15,10-15,12z />
<path color=#be0 d=M874,415l12-9,12-10-16-7-11,8-12,9z />
<path color=#ce0 d=M826,453l13-10,12-11,12-9,11-8-15-9-12,8-11,9-13,10-12,11z />
<path color=#be0 d=M814,462l12-9-15-9-12,9z />
<path color=#ce0 d=M601,628l15-13,14-11,14-10,14-10,14-10,13-11,14-11,13-11,13-11,13-10,13-11,13-9,13-10,12-9,13-10,12-9-15-9-12,9-13,10-12,10-13,9-13,10-13,10-13,11-13,10-14,10-13,10-14,11-14,11-13,10-14,11-15,11-14,12z />
<path color=#be0 d=M543,674l15-11,14-10,15-12,14-13-15-10-14,13-15,11-15,11-15,11z />
<path color=#ce0 d=M528,686l15-12-16-10-15,12z />
</g>
</g>
<path d="M96.1 131L100.3 127.8L104.5 124.7L108.6 121.6L112.6 118.4L116.6 115.3L120.5 112.3L124.4 109.4L128.2 106.4L132 103.5L135.7 100.7L139.4 97.9L143 95.2L146.5 92.5L150.1 89.8L153.5 87.2L157 84.5L160.4 81.9L163.7 79.4L167 77L170.3 74.6" fill="none" stroke="#2a5a00" stroke-opacity="0.3" stroke-width="0.8"/>
<path d="M70.3 112.4L74.5 109.4L78.7 106.5L82.8 103.6L86.8 100.9L90.8 98.1L94.7 95.4L98.6 92.8L102.5 90.1L106.2 87.4L110 84.8L113.7 82.2L117.3 79.5L120.9 77L124.4 74.5L127.9 72.1L131.4 69.6L134.8 67.3L138.2 65L141.5 62.7L144.8 60.4" fill="none" stroke="#2a5a00" stroke-opacity="0.3" stroke-width="0.8"/>
<path d="M60.4 105L64.6 102.1L68.7 99.1L72.8 96.3L76.9 93.6L80.9 90.9L84.8 88.2L88.7 85.5L92.5 82.9L96.3 80.4L100.1 77.9L103.8 75.5L107.4 73L111 70.6L114.6 68.2L118.1 65.9L121.6 63.5L125 61.2L128.4 58.9L131.7 56.5L135 54.3" fill="none" stroke="#2a5a00" stroke-opacity="0.4" stroke-width="0.7"/>
<path d="M53 99.6L57.2 96.8L61.3 93.9L65.4 91.1L69.4 88.4L73.4 85.7L77.4 83.1L81.3 80.4L85.1 77.9L88.9 75.6L92.7 73.2L96.4 70.8L100 68.5L103.6 66.1L107.2 63.8L110.7 61.5L114.2 59.1L117.6 56.8L121 54.6L124.4 52.3L127.7 50.1" fill="none" stroke="#2a5a00" stroke-opacity="0.25" stroke-width="0.7"/>
<path d="M45 94L49.2 91.2L53.4 88.4L57.5 85.8L61.5 83.2L65.5 80.7L69.5 78.2L73.3 75.6L77.2 73.1L81 70.7L84.7 68.3L88.4 66L92.1 63.7L95.7 61.4L99.3 59L102.8 56.7L106.3 54.5L109.7 52.4L113.1 50.2L116.5 47.9L119.8 45.8" fill="none" stroke="#2a5a00" stroke-opacity="0.35" stroke-width="0.7"/>
<path d="M36.6 87.9L40.8 85.2L45 82.5L49.1 79.9L53.1 77.4L57.1 74.9L61 72.5L64.9 70.1L68.8 67.6L72.5 65.2L76.3 62.8L80 60.5L83.6 58.3L87.3 56L90.8 53.7L94.4 51.5L97.8 49.3L101.3 47.3L104.7 45.2L108.1 43L111.4 40.9" fill="none" stroke="#2a5a00" stroke-opacity="0.25" stroke-width="0.7"/>
<path d="M85.9 49.9L86 46.7L86.6 46.7L87.1 49.9zM156.6 72.7L157.1 69.4L157.7 69.4L157.7 72.7zM90.7 72.8L90.8 68.9L91.4 68.9L91.8 72.8zM155.4 75.4L155.8 72.3L156.3 72.3L156.3 75.4zM161.8 78.6L162.3 75.3L162.9 75.3L162.9 78.6zM172.4 82.1L172.9 78.6L173.5 78.6L173.4 82.1zM50.2 89.6L50.1 86.5L50.7 86.5L51.2 89.6zM138.5 102.9L138.8 100.1L139.3 100.1L139.5 102.9zM129.9 109.9L130.2 107L130.9 107L131.1 109.9z" fill="#c8a020"/>
<path d="M86 46.7L86.2 43.9L86.6 46.7zM157.1 69.4L157.6 66.6L157.7 69.4zM90.8 68.9L91 65.6L91.4 68.9zM155.8 72.3L156.2 69.6L156.3 72.3zM162.3 75.3L162.8 72.5L162.9 75.3zM172.9 78.6L173.5 75.7L173.5 78.6zM50.1 86.5L50.1 83.8L50.7 86.5zM138.8 100.1L139.2 97.8L139.3 100.1zM130.2 107L130.6 104.7L130.9 107z" fill="#c04828"/>
<path d="M23.2 43.9L30.7 92.8L105.8 148.1L178.3 89.8M30.7 92.8h-2M105.8 148.1h2M39.1 99h-2M116 139.9h2M47.8 105.4h-2M125.8 132h2M56.7 111.9h-2M135.3 124.4h2M65.9 118.7h-2M144.5 117h2M75.4 125.7h-2M153.4 109.8h2M85.2 132.9h-2M162 102.9h2M95.3 140.4h-2M170.3 96.3h2M105.8 148.1h-2M178.3 89.8h2M29.3 83.6h-2.2M27.4 70.9h-2.2M25.3 57.7h-2.2M23.2 43.9h-2.2" stroke="#262626" stroke-width=".6" fill="none"/>
<text x="27.4" y="95.9" font-size="7.1" text-anchor="end">360</text>
<text x="109.4" y="151.1" font-size="7.1" text-anchor="start">0</text>
<text x="35.8" y="102.1" font-size="7.1" text-anchor="end">315</text>
<text x="119.6" y="142.9" font-size="7.1" text-anchor="start">45</text>
<text x="44.5" y="108.5" font-size="7.1" text-anchor="end">270</text>
<text x="129.4" y="135" font-size="7.1" text-anchor="start">90</text>
<text x="53.4" y="115" font-size="7.1" text-anchor="end">225</text>
<text x="138.9" y="127.4" font-size="7.1" text-anchor="start">135</text>
<text x="62.6" y="121.8" font-size="7.1" text-anchor="end">180</text>
<text x="148.1" y="120" font-size="7.1" text-anchor="start">180</text>
<text x="72.1" y="128.8" font-size="7.1" text-anchor="end">135</text>
<text x="157" y="112.8" font-size="7.1" text-anchor="start">225</text>
<text x="81.9" y="136" font-size="7.1" text-anchor="end">90</text>
<text x="165.6" y="105.9" font-size="7.1" text-anchor="start">270</text>
<text x="92" y="143.5" font-size="7.1" text-anchor="end">45</text>
<text x="173.9" y="99.3" font-size="7.1" text-anchor="start">315</text>
<text x="102.5" y="151.2" font-size="7.1" text-anchor="end">0</text>
<text x="181.9" y="92.8" font-size="7.1" text-anchor="start">360</text>
<text x="19.8" y="46.3" font-size="7.1" text-anchor="end">150</text>
<text x="21.9" y="60.1" font-size="7.1" text-anchor="end">100</text>
<text x="24" y="73.3" font-size="7.1" text-anchor="end">50</text>
<text x="25.9" y="86" font-size="7.1" text-anchor="end">0</text>
<text x="10.1" y="78.7" font-size="7.4" text-anchor="middle">Z(nm)</text>
<text x="40.4" y="124.7" font-size="7.4" text-anchor="middle">Y(µm)</text>
<text x="165.6" y="129.7" font-size="7.4" text-anchor="middle">X(µm)</text>
</g>
<g clip-path="url(#k2)"><g transform="translate(465 224)">
<rect x="190.6" y="24.3" width="9.7" height="99" fill="url(#cb)" stroke="#777" stroke-width=".5"/>
<text x="204.8" y="30.2" font-size="6.6" text-anchor="start">47.00</text>
<text x="204.8" y="38.9" font-size="6.6" text-anchor="start">40.00</text>
<text x="204.8" y="47.5" font-size="6.6" text-anchor="start">33.00</text>
<text x="204.8" y="56.2" font-size="6.6" text-anchor="start">26.00</text>
<text x="204.8" y="64.9" font-size="6.6" text-anchor="start">19.00</text>
<text x="204.8" y="73.5" font-size="6.6" text-anchor="start">12.00</text>
<text x="204.8" y="82.2" font-size="6.6" text-anchor="start">5.000</text>
<text x="204.8" y="90.9" font-size="6.6" text-anchor="start">-2.000</text>
<text x="204.8" y="99.5" font-size="6.6" text-anchor="start">-9.000</text>
<text x="204.8" y="108.2" font-size="6.6" text-anchor="start">-16.00</text>
<text x="204.8" y="116.8" font-size="6.6" text-anchor="start">-23.00</text>
<text x="204.8" y="125.5" font-size="6.6" text-anchor="start">-30.00</text>
<path d="M200.3 28h2M200.3 36.7h2M200.3 45.3h2M200.3 54h2M200.3 62.7h2M200.3 71.3h2M200.3 80h2M200.3 88.7h2M200.3 97.3h2M200.3 106h2M200.3 114.6h2M200.3 123.3h2" stroke="#555" stroke-width=".5"/>
</g></g>
<text x="569.2" y="428.1" font-size="15.9" text-anchor="middle" font-weight="bold">(f)</text>
<g transform="translate(0 448.2)">
<path d="M40.9 86.5L34.4 37.8M168.1 83.9L172.5 35.4M116 139.9L40.9 86.5M95.3 140.4L168.1 83.9M60.3 74.3L55.6 26.2M148.5 72.6L151.2 24.6M135.3 124.4L60.3 74.3M75.4 125.7L148.5 72.6M78.6 62.8L75.5 15.4M130 61.9L131.1 14.4M153.4 109.8L78.6 62.8M56.7 111.9L130 61.9M95.8 52.1L94.2 5.2M112.5 51.7L112.2 4.9M170.3 96.3L95.8 52.1M39.1 99L112.5 51.7M29.1 82.4L103.9 36.9M103.9 36.9L179.5 79.4M27.3 70.1L103.6 25.2M103.6 25.2L180.8 67.2M25.3 57.3L103.4 13M103.4 13L182.3 54.4" stroke="#e0e0e0" stroke-width=".5" fill="none"/>
<path d="M23.2 43.9L103.1 .3M103.1 .3L183.7 41M104.1 46.9L103.1 .3M178.3 89.8L183.7 41M30.7 92.8L104.1 46.9M104.1 46.9L178.3 89.8" stroke="#959595" stroke-width=".5" fill="none"/>
<g class="s" transform="scale(.2)" style="--o:0.7;--w:2.2">
<path color=#e70 d=M527,180l-8-4-8-6,8-5,8,5,7,4z />
<path color=#e50 d=M558,197l-8-4-7-5-8-5-8-3,7-6,8,4,8,4,8,5,8,4z />
<path color=#e70 d=M566,202l-8-5,8-6,8,5z />
<path color=#e90 d=M574,209l-8-7,8-6,8,7z />
<path color=#eb0 d=M607,230l-8-7-9-5-8-3-8-6,8-6,8,6,8,3,8,5,8,6z />
<path color=#ec0 d=M640,250l-9-6-8-5-8-4-8-5,7-7,9,6,8,4,8,4,8,6z />
<path color=#ed0 d=M648,257l-8-7,7-7,9,7z />
<path color=#dd0 d=M656,262l-8-5,8-7,8,5z />
<path color=#cd0 d=M682,278l-9-5-8-5-9-6,8-7,8,6,9,5,8,5z />
<path color=#bd0 d=M699,289l-9-5-8-6,7-7,9,6,9,5z />
<path color=#ad0 d=M734,311l-9-6-9-4-8-6-9-6,8-7,8,7,9,5,9,5,8,5z />
<path color=#9d0 d=M751,323l-8-6-9-6,7-7,9,6,9,6z />
<path color=#7c0 d=M760,330l-9-7,8-7,9,7z />
<path color=#6c0 d=M778,339l-9-4-9-5,8-7,9,6,9,4z />
<path color=#7c0 d=M796,350l-9-7-9-4,8-6,9,4,9,7z />
<path color=#6c0 d=M815,361l-10-5-9-6,8-6,9,6,9,5z />
<path color=#4c0 d=M824,367l-9-6,7-6,9,6z />
<path color=#6c0 d=M852,383l-9-6-10-6-9-4,7-6,10,4,9,5,9,7z />
<path color=#4c0 d=M880,400l-9-6-10-6-9-5,7-6,10,5,9,6,10,6z />
<path color=#2c0 d=M890,405l-10-5,8-6,9,5z />
<path color=#e70 d=M551,203l-8-4-8-5-8-5-8-3-7-5-8-5,7-6,8,6,8,4,8,3,8,5,7,5,8,4z />
<path color=#e90 d=M559,209l-8-6,7-6,8,5z />
<path color=#eb0 d=M567,216l-8-7,7-7,8,7z />
<path color=#ec0 d=M599,237l-8-7-8-5-8-3-8-6,7-7,8,6,8,3,9,5,8,7z />
<path color=#ed0 d=M624,251l-8-5-9-3-8-6,8-7,8,5,8,4,8,5z />
<path color=#dd0 d=M632,257l-8-6,7-7,9,6z />
<path color=#cd0 d=M649,270l-9-6-8-7,8-7,8,7,8,5z />
<path color=#bd0 d=M674,285l-8-5-9-5-8-5,7-8,9,6,8,5,9,5z />
<path color=#ad0 d=M691,296l-8-5-9-6,8-7,8,6,9,5z />
<path color=#9d0 d=M726,318l-9-6-8-4-9-6-9-6,8-7,9,6,8,6,9,4,9,6z />
<path color=#7c0 d=M744,329l-9-6-9-5,8-7,9,6,8,6z />
<path color=#6c0 d=M753,336l-9-7,7-6,9,7z />
<path color=#4c0 d=M771,346l-9-4-9-6,7-6,9,5,9,4z />
<path color=#6c0 d=M789,356l-9-6-9-4,7-7,9,4,9,7z />
<path color=#4c0 d=M826,377l-10-4-9-5-9-6-9-6,7-6,9,6,10,5,9,6,9,4z />
<path color=#6c0 d=M835,382l-9-5,7-6,10,6z />
<path color=#4c0 d=M863,400l-9-6-10-5-9-7,8-5,9,6,9,5,10,6z />
<path color=#2c0 d=M882,411l-9-5-10-6,8-6,9,6,10,5z />
<path color=#e90 d=M543,210l-8-5-8-4-8-5-7-4-8-4-8-6,8-6,8,5,7,5,8,3,8,5,8,5,8,4z />
<path color=#eb0 d=M551,216l-8-6,8-7,8,6z />
<path color=#ec0 d=M559,223l-8-7,8-7,8,7z />
<path color=#ed0 d=M583,237l-8-5-8-3-8-6,8-7,8,6,8,3,8,5z />
<path color=#dd0 d=M600,250l-8-6-9-7,8-7,8,7,8,6z />
<path color=#cd0 d=M608,254l-8-4,7-7,9,3z />
<path color=#dd0 d=M616,258l-8-4,8-8,8,5z />
<path color=#cd0 d=M625,265l-9-7,8-7,8,6z />
<path color=#bd0 d=M633,271l-8-6,7-8,8,7z />
<path color=#ad0 d=M658,287l-8-5-9-5-8-6,7-7,9,6,8,5,9,5z />
<path color=#9d0 d=M684,303l-9-5-8-6-9-5,8-7,8,5,9,6,8,5z />
<path color=#7c0 d=M727,330l-8-6-9-5-9-4-9-6-8-6,7-7,9,6,9,6,8,4,9,6,9,5z />
<path color=#6c0 d=M745,342l-9-7-9-5,8-7,9,6,9,7z />
<path color=#4c0 d=M763,352l-9-4-9-6,8-6,9,6,9,4z />
<path color=#6c0 d=M781,362l-9-6-9-4,8-6,9,4,9,6z />
<path color=#4c0 d=M818,383l-9-4-9-5-10-6-9-6,8-6,9,6,9,6,9,5,10,4z />
<path color=#6c0 d=M828,388l-10-5,8-6,9,5z />
<path color=#4c0 d=M856,406l-10-6-9-6-9-6,7-6,9,7,10,5,9,6z />
<path color=#2c0 d=M875,417l-10-5-9-6,7-6,10,6,9,5z />
<path color=#eb0 d=M535,217l-7-5-8-5-8-5-8-4-8-4-7-6,7-6,8,6,8,4,7,4,8,5,8,4,8,5z />
<path color=#ec0 d=M543,223l-8-6,8-7,8,6z />
<path color=#ed0 d=M552,230l-9-7,8-7,8,7z />
<path color=#dd0 d=M576,244l-8-5-8-3-8-6,7-7,8,6,8,3,8,5z />
<path color=#cd0 d=M584,251l-8-7,7-7,9,7z />
<path color=#bd0 d=M617,272l-8-7-9-4-8-4-8-6,8-7,8,6,8,4,8,4,9,7z />
<path color=#ad0 d=M625,278l-8-6,8-7,8,6z />
<path color=#9d0 d=M659,299l-9-5-8-5-8-5-9-6,8-7,8,6,9,5,8,5,9,5z />
<path color=#7c0 d=M685,315l-9-6-8-5-9-5,8-7,8,6,9,5,8,6z />
<path color=#6c0 d=M729,342l-9-6-9-6-9-5-9-4-8-6,7-6,9,6,9,4,9,5,8,6,9,5z />
<path color=#4c0 d=M737,349l-8-7,7-7,9,7z />
<path color=#2c0 d=M746,354l-9-5,8-7,9,6z />
<path color=#4c0 d=M848,412l-9-7-10-5-9-6-9-5-10-5-9-5-9-5-9-6-9-6-10-4-9-4,8-6,9,4,9,4,9,6,9,6,10,6,9,5,9,4,10,5,9,6,9,6,10,6z />
<path color=#2c0 d=M868,423l-10-5-10-6,8-6,9,6,10,5z />
<path color=#ec0 d=M512,214l-8-5-8-4-7-4-8-6,8-7,7,6,8,4,8,4,8,5z />
<path color=#ed0 d=M536,230l-8-6-8-5-8-5,8-7,8,5,7,5,8,6z />
<path color=#dd0 d=M544,237l-8-7,7-7,9,7z />
<path color=#bd0 d=M560,246l-8-3-8-6,8-7,8,6,8,3z />
<path color=#cd0 d=M568,251l-8-5,8-7,8,5z />
<path color=#bd0 d=M576,258l-8-7,8-7,8,7z />
<path color=#ad0 d=M609,278l-8-6-8-4-9-4-8-6,8-7,8,6,8,4,9,4,8,7z />
<path color=#9d0 d=M617,285l-8-7,8-6,8,6z />
<path color=#7c0 d=M660,310l-9-5-8-4-9-5-8-6-9-5,8-7,9,6,8,5,8,5,9,5,9,5z />
<path color=#6c0 d=M712,342l-9-5-8-6-9-4-9-5-9-6-8-6,8-6,8,5,9,6,8,6,9,4,9,5,9,6z />
<path color=#4c0 d=M730,355l-9-7-9-6,8-6,9,6,8,7z />
<path color=#2c0 d=M748,364l-9-4-9-5,7-6,9,5,9,4z />
<path color=#4c0 d=M803,394l-9-4-10-5-9-5-9-6-9-6-9-4,7-6,10,4,9,6,9,6,9,5,9,5,10,5z />
<path color=#6c0 d=M813,400l-10-6,8-5,9,5z />
<path color=#4c0 d=M850,423l-9-6-10-6-9-5-9-6,7-6,9,6,10,5,9,7,10,6z />
<path color=#2c0 d=M860,429l-10-6,8-5,10,5z />
<path color=#ed0 d=M481,208l-8-6,8-7,8,6z />
<path color=#dd0 d=M520,231l-8-5-8-5-8-5-7-4-8-4,8-7,7,4,8,4,8,5,8,5,8,5z />
<path color=#cd0 d=M528,237l-8-6,8-7,8,6z />
<path color=#bd0 d=M536,244l-8-7,8-7,8,7z />
<path color=#ad0 d=M568,265l-8-7-8-5-8-3-8-6,8-7,8,6,8,3,8,5,8,7z />
<path color=#9d0 d=M601,285l-8-6-8-5-8-4-9-5,8-7,8,6,9,4,8,4,8,6z />
<path color=#7c0 d=M610,291l-9-6,8-7,8,7z />
<path color=#6c0 d=M661,322l-9-5-8-6-9-4-8-5-9-5-8-6,7-6,9,5,8,6,9,5,8,4,9,5,8,6z />
<path color=#4c0 d=M687,337l-9-4-9-5-8-6,7-6,9,6,9,5,9,4z />
<path color=#6c0 d=M696,342l-9-5,8-6,8,6z />
<path color=#4c0 d=M713,353l-9-5-8-6,7-5,9,5,9,6z />
<path color=#2c0 d=M740,370l-9-4-9-6-9-7,8-5,9,7,9,5,9,4z />
<path color=#4c0 d=M796,400l-10-4-9-5-9-5-10-6-9-7-9-3,8-6,9,4,9,6,9,6,9,5,10,5,9,4z />
<path color=#6c0 d=M805,405l-9-5,7-6,10,6z />
<path color=#4c0 d=M852,435l-9-6-10-6-9-6-10-6-9-6,8-5,9,6,9,5,10,6,9,6,10,6z />
<path color=#cd0 d=M512,238l-8-5-7-5-8-5-8-4-8-4-8-6,8-7,8,6,8,4,7,4,8,5,8,5,8,5z />
<path color=#bd0 d=M520,244l-8-6,8-7,8,6z />
<path color=#ad0 d=M528,251l-8-7,8-7,8,7z />
<path color=#9d0 d=M561,271l-8-6-9-5-8-3-8-6,8-7,8,6,8,3,8,5,8,7z />
<path color=#7c0 d=M594,291l-9-6-8-4-8-4-8-6,7-6,9,5,8,4,8,5,8,6z />
<path color=#6c0 d=M610,303l-8-5-8-7,7-6,9,6,8,6z />
<path color=#4c0 d=M636,317l-9-4-8-5-9-5,8-6,9,5,8,5,9,4z />
<path color=#6c0 d=M644,323l-8-6,8-6,8,6z />
<path color=#4c0 d=M706,359l-9-5-9-6-9-5-9-4-8-5-9-6-9-5,8-6,9,5,8,6,9,5,9,4,9,5,8,6,9,5z />
<path color=#2c0 d=M733,375l-10-4-9-5-8-7,7-6,9,7,9,6,9,4z />
<path color=#4c0 d=M788,405l-9-4-10-5-9-5-9-6-9-6-9-4,7-5,9,3,9,7,10,6,9,5,9,5,10,4z />
<path color=#6c0 d=M816,422l-9-6-10-6-9-5,8-5,9,5,9,6,10,6z />
<path color=#4c0 d=M845,441l-10-6-9-7-10-6,8-5,9,6,10,6,9,6z />
<path color=#bd0 d=M497,240l-8-5-8-5-8-4-8-5-7-6,7-6,8,6,8,4,8,4,8,5,7,5z />
<path color=#ad0 d=M513,250l-8-5-8-5,7-7,8,5,8,6z />
<path color=#9d0 d=M521,257l-8-7,7-6,8,7z />
<path color=#7c0 d=M553,277l-8-6-8-5-8-3-8-6,7-6,8,6,8,3,9,5,8,6z />
<path color=#6c0 d=M569,287l-8-4-8-6,8-6,8,6,8,4z />
<path color=#7c0 d=M578,291l-9-4,8-6,8,4z />
<path color=#6c0 d=M594,304l-8-7-8-6,7-6,9,6,8,7z />
<path color=#4c0 d=M698,365l-9-6-9-5-9-6-8-3-9-6-9-6-8-5-9-5-8-4-9-5-8-5-9-5,8-6,8,5,9,5,8,5,9,4,8,6,9,5,9,6,8,5,9,4,9,5,9,6,9,5z />
<path color=#2c0 d=M725,380l-9-3-9-6-9-6,8-6,8,7,9,5,10,4z />
<path color=#4c0 d=M771,406l-9-5-10-5-9-6-9-6-9-4,8-5,9,4,9,6,9,6,9,5,10,5z />
<path color=#6c0 d=M818,434l-9-7-10-5-9-7-10-5-9-4,8-5,9,4,9,5,10,6,9,6,10,6z />
<path color=#4c0 d=M837,446l-9-5-10-7,8-6,9,7,10,6z />
<path color=#ad0 d=M489,246l-8-4-8-5-8-5-7-4-8-6,8-7,7,6,8,5,8,4,8,5,8,5z />
<path color=#9d0 d=M505,256l-8-5-8-5,8-6,8,5,8,5z />
<path color=#7c0 d=M513,264l-8-8,8-6,8,7z />
<path color=#6c0 d=M529,272l-8-3-8-5,8-7,8,6,8,3z />
<path color=#7c0 d=M537,277l-8-5,8-6,8,5z />
<path color=#6c0 d=M578,303l-8-6-9-4-8-4-8-6-8-6,8-6,8,6,8,6,8,4,9,4,8,6z />
<path color=#4c0 d=M646,345l-9-6-8-5-9-5-8-5-9-4-8-6-9-5-8-6,8-6,8,7,9,5,8,5,9,5,8,4,9,5,8,5,9,6z />
<path color=#2c0 d=M655,350l-9-5,8-6,9,6z />
<path color=#4c0 d=M690,370l-9-6-9-5-8-5-9-4,8-5,8,3,9,6,9,5,9,6z />
<path color=#2c0 d=M717,386l-9-4-9-5-9-7,8-5,9,6,9,6,9,3z />
<path color=#4c0 d=M726,389l-9-3,8-6,9,4z />
<path color=#6c0 d=M735,395l-9-6,8-5,9,6z />
<path color=#4c0 d=M754,406l-9-5-10-6,8-5,9,6,10,5z />
<path color=#6c0 d=M773,415l-10-4-9-5,8-5,9,5,9,4z />
<path color=#7c0 d=M791,427l-9-7-9-5,7-5,10,5,9,7z />
<path color=#6c0 d=M810,439l-9-7-10-5,8-5,10,5,9,7z />
<path color=#4c0 d=M830,452l-10-6-10-7,8-5,10,7,9,5z />
<path color=#9d0 d=M489,257l-8-5-8-4-8-5-8-4-7-5-8-6,8-6,8,6,7,4,8,5,8,5,8,4,8,5z />
<path color=#7c0 d=M505,270l-8-7-8-6,8-6,8,5,8,8z />
<path color=#4c0 d=M513,275l-8-5,8-6,8,5z />
<path color=#6c0 d=M537,289l-8-6-8-5-8-3,8-6,8,3,8,5,8,6z />
<path color=#4c0 d=M554,298l-9-3-8-6,8-6,8,6,8,4z />
<path color=#6c0 d=M570,309l-8-6-8-5,7-5,9,4,8,6z />
<path color=#4c0 d=M587,320l-8-5-9-6,8-6,8,6,9,5z />
<path color=#2c0 d=M604,330l-9-5-8-5,8-6,8,6,9,4z />
<path color=#4c0 d=M638,350l-8-6-9-5-9-5-8-4,8-6,8,5,9,5,8,5,9,6z />
<path color=#2c0 d=M647,355l-9-5,8-5,9,5z />
<path color=#4c0 d=M691,382l-9-7-9-5-8-6-9-5-9-4,8-5,9,4,8,5,9,5,9,6,9,7z />
<path color=#2c0 d=M700,387l-9-5,8-5,9,5z />
<path color=#4c0 d=M709,390l-9-3,8-5,9,4z />
<path color=#6c0 d=M755,416l-9-5-9-5-9-6-10-6-9-4,8-4,9,3,9,6,10,6,9,5,9,5z />
<path color=#7c0 d=M793,438l-9-6-10-7-9-5-10-4,8-5,10,4,9,5,9,7,10,5z />
<path color=#6c0 d=M812,452l-9-7-10-7,8-6,9,7,10,7z />
<path color=#4c0 d=M822,458l-10-6,8-6,10,6z />
<path color=#7c0 d=M489,268l-8-5-8-5-8-4-8-5-7-4-8-5-8-6,8-6,8,6,7,5,8,4,8,5,8,4,8,5,8,6z />
<path color=#6c0 d=M497,275l-8-7,8-5,8,7z />
<path color=#4c0 d=M513,284l-8-3-8-6,8-5,8,5,8,3z />
<path color=#6c0 d=M521,289l-8-5,8-6,8,5z />
<path color=#4c0 d=M546,304l-9-4-8-5-8-6,8-6,8,6,8,6,9,3z />
<path color=#6c0 d=M562,314l-8-6-8-4,8-6,8,5,8,6z />
<path color=#4c0 d=M571,320l-9-6,8-5,9,6z />
<path color=#2c0 d=M596,335l-9-5-8-5-8-5,8-5,8,5,8,5,9,5z />
<path color=#4c0 d=M657,369l-9-5-9-3-9-6-8-5-9-5-9-6-8-4,8-5,8,4,9,5,9,5,8,6,9,5,9,4,9,5z />
<path color=#6c0 d=M674,380l-8-5-9-6,8-5,8,6,9,5z />
<path color=#4c0 d=M701,395l-9-3-9-6-9-6,8-5,9,7,9,5,9,3z />
<path color=#6c0 d=M711,399l-10-4,8-5,9,4z />
<path color=#7c0 d=M757,425l-9-5-10-5-9-5-9-5-9-6,7-5,10,6,9,6,9,5,9,5,10,4z />
<path color=#9d0 d=M776,436l-9-6-10-5,8-5,9,5,10,7z />
<path color=#7c0 d=M795,450l-10-7-9-7,8-4,9,6,10,7z />
<path color=#6c0 d=M804,458l-9-8,8-5,9,7z />
<path color=#4c0 d=M814,464l-10-6,8-6,10,6z />
<path color=#7c0 d=M434,246l-8-6,8-6,8,6z />
<path color=#6c0 d=M449,255l-7-4-8-5,8-6,8,5,7,4z />
<path color=#7c0 d=M457,260l-8-5,8-6,8,5z />
<path color=#6c0 d=M465,264l-8-4,8-6,8,4z />
<path color=#7c0 d=M473,269l-8-5,8-6,8,5z />
<path color=#6c0 d=M489,281l-8-7-8-5,8-6,8,5,8,7z />
<path color=#4c0 d=M505,289l-8-2-8-6,8-6,8,6,8,3z />
<path color=#6c0 d=M513,294l-8-5,8-5,8,5z />
<path color=#4c0 d=M538,309l-9-3-8-6-8-6,8-5,8,6,8,5,9,4z />
<path color=#6c0 d=M546,313l-8-4,8-5,8,4z />
<path color=#4c0 d=M563,326l-9-7-8-6,8-5,8,6,9,6z />
<path color=#2c0 d=M588,340l-9-4-8-5-8-5,8-6,8,5,8,5,9,5z />
<path color=#4c0 d=M640,369l-9-3-9-6-8-5-9-5-8-5-9-5,8-5,8,4,9,6,9,5,8,5,9,6,9,3z />
<path color=#6c0 d=M675,391l-8-6-9-6-9-5-9-5,8-5,9,5,9,6,8,5,9,6z />
<path color=#4c0 d=M684,396l-9-5,8-5,9,6z />
<path color=#6c0 d=M694,400l-10-4,8-4,9,3z />
<path color=#7c0 d=M703,403l-9-3,7-5,10,4z />
<path color=#9d0 d=M712,409l-9-6,8-4,9,6z />
<path color=#7c0 d=M730,420l-9-5-9-6,8-4,9,5,9,5z />
<path color=#9d0 d=M749,429l-9-4-10-5,8-5,10,5,9,5z />
<path color=#ad0 d=M759,435l-10-6,8-4,10,5z />
<path color=#9d0 d=M778,448l-10-6-9-7,8-5,9,6,9,7z />
<path color=#7c0 d=M787,456l-9-8,7-5,10,7z />
<path color=#6c0 d=M797,464l-10-8,8-6,9,8z />
<path color=#4c0 d=M806,470l-9-6,7-6,10,6z />
<path color=#6c0 d=M473,279l-8-5-8-4-8-5-8-5-7-4-8-4-8-6,8-6,8,6,8,5,7,4,8,5,8,4,8,5,8,5z />
<path color=#4c0 d=M481,286l-8-7,8-5,8,7z />
<path color=#2c0 d=M489,292l-8-6,8-5,8,6z />
<path color=#4c0 d=M530,314l-9-3-8-6-8-6-8-4-8-3,8-5,8,2,8,5,8,6,8,6,9,3z />
<path color=#6c0 d=M538,319l-8-5,8-5,8,4z />
<path color=#4c0 d=M555,331l-9-7-8-5,8-6,8,6,9,7z />
<path color=#2c0 d=M563,336l-8-5,8-5,8,5z />
<path color=#4c0 d=M623,371l-9-6-8-5-9-5-8-5-9-5-9-4-8-5,8-5,8,5,9,4,9,5,8,5,9,5,8,5,9,6z />
<path color=#6c0 d=M650,384l-9-5-9-5-9-3,8-5,9,3,9,5,9,5z />
<path color=#7c0 d=M659,389l-9-5,8-5,9,6z />
<path color=#6c0 d=M677,401l-9-5-9-7,8-4,8,6,9,5z />
<path color=#7c0 d=M686,404l-9-3,7-5,10,4z />
<path color=#9d0 d=M732,430l-9-5-10-5-9-7-9-6-9-3,8-4,9,3,9,6,9,6,9,5,10,5z />
<path color=#ad0 d=M760,447l-9-7-10-6-9-4,8-5,9,4,10,6,9,7z />
<path color=#9d0 d=M779,461l-9-8-10-6,8-5,10,6,9,8z />
<path color=#6c0 d=M789,469l-10-8,8-5,10,8z />
<path color=#4c0 d=M798,476l-9-7,8-5,9,6z />
<path color=#6c0 d=M418,257l-8-6,8-5,8,6z />
<path color=#4c0 d=M426,262l-8-5,8-5,8,4z />
<path color=#6c0 d=M465,285l-8-6-8-4-8-5-8-4-7-4,8-6,7,4,8,5,8,5,8,4,8,5z />
<path color=#4c0 d=M473,291l-8-6,8-6,8,7z />
<path color=#2c0 d=M481,297l-8-6,8-5,8,6z />
<path color=#4c0 d=M522,319l-9-3-8-5-8-7-8-4-8-3,8-5,8,3,8,4,8,6,8,6,9,3z />
<path color=#6c0 d=M538,329l-8-5-8-5,8-5,8,5,8,5z />
<path color=#4c0 d=M580,355l-8-5-9-4-8-5-8-5-9-7,8-5,9,7,8,5,8,5,9,4,9,5z />
<path color=#6c0 d=M624,379l-9-4-9-5-8-5-9-5-9-5,9-5,8,5,9,5,8,5,9,6,9,3z />
<path color=#7c0 d=M678,408l-9-3-9-5-9-6-9-5-9-5-9-5,8-5,9,5,9,5,9,5,9,7,9,5,9,3z />
<path color=#ad0 d=M733,439l-9-4-9-6-10-5-9-6-9-6-9-4,8-4,9,3,9,6,9,7,10,5,9,5,9,4z />
<path color=#bd0 d=M743,445l-10-6,8-5,10,6z />
<path color=#ad0 d=M762,459l-10-7-9-7,8-5,9,7,10,6z />
<path color=#9d0 d=M771,467l-9-8,8-6,9,8z />
<path color=#6c0 d=M781,475l-10-8,8-6,10,8z />
<path color=#4c0 d=M790,483l-9-8,8-6,9,7z />
<path color=#4c0 d=M417,267l-7-4-8-6,8-6,8,6,8,5z />
<path color=#6c0 d=M457,290l-8-6-8-4-8-4-8-5-8-4,9-5,7,4,8,4,8,5,8,4,8,6z />
<path color=#4c0 d=M465,297l-8-7,8-5,8,6z />
<path color=#2c0 d=M473,302l-8-5,8-6,8,6z />
<path color=#4c0 d=M481,305l-8-3,8-5,8,3z />
<path color=#6c0 d=M489,309l-8-4,8-5,8,4z />
<path color=#4c0 d=M513,324l-8-3-8-5-8-7,8-5,8,7,8,5,9,3z />
<path color=#6c0 d=M530,334l-8-5-9-5,9-5,8,5,8,5z />
<path color=#4c0 d=M564,355l-9-4-8-5-9-5-8-7,8-5,9,7,8,5,8,5,9,4z />
<path color=#6c0 d=M607,380l-9-5-8-6-9-5-9-5-8-4,8-5,8,5,9,5,9,5,8,5,9,5z />
<path color=#7c0 d=M625,388l-9-5-9-3,8-5,9,4,9,5z />
<path color=#9d0 d=M651,405l-8-7-9-5-9-5,8-4,9,5,9,5,9,6z />
<path color=#7c0 d=M661,410l-10-5,9-5,9,5z />
<path color=#9d0 d=M670,413l-9-3,8-5,9,3z />
<path color=#ad0 d=M679,417l-9-4,8-5,9,4z />
<path color=#bd0 d=M697,429l-9-6-9-6,8-5,9,6,9,6z />
<path color=#ad0 d=M707,434l-10-5,8-5,10,5z />
<path color=#bd0 d=M744,458l-9-8-10-6-9-4-9-6,8-5,9,6,9,4,10,6,9,7z />
<path color=#ad0 d=M754,465l-10-7,8-6,10,7z />
<path color=#9d0 d=M763,473l-9-8,8-6,9,8z />
<path color=#7c0 d=M773,482l-10-9,8-6,10,8z />
<path color=#4c0 d=M782,489l-9-7,8-7,9,8z />
<path color=#4c0 d=M417,276l-8-4-7-4-8-6,8-5,8,6,7,4,8,4z />
<path color=#6c0 d=M449,295l-8-6-8-4-8-4-8-5,8-5,8,5,8,4,8,4,8,6z />
<path color=#4c0 d=M457,302l-8-7,8-5,8,7z />
<path color=#2c0 d=M465,307l-8-5,8-5,8,5z />
<path color=#4c0 d=M473,310l-8-3,8-5,8,3z />
<path color=#6c0 d=M481,314l-8-4,8-5,8,4z />
<path color=#4c0 d=M505,329l-8-3-8-6-8-6,8-5,8,7,8,5,8,3z />
<path color=#6c0 d=M530,345l-8-6-8-6-9-4,8-5,9,5,8,5,8,7z />
<path color=#4c0 d=M547,355l-8-5-9-5,8-4,9,5,8,5z />
<path color=#6c0 d=M564,364l-8-4-9-5,8-4,9,4,8,4z />
<path color=#7c0 d=M608,388l-9-4-9-5-9-5-8-5-9-5,8-5,9,5,9,5,8,6,9,5,9,3z />
<path color=#9d0 d=M652,415l-9-6-9-6-9-5-8-5-9-5,8-5,9,5,9,5,9,5,8,7,10,5z />
<path color=#ad0 d=M662,418l-10-3,9-5,9,3z />
<path color=#bd0 d=M671,422l-9-4,8-5,9,4z />
<path color=#cd0 d=M680,428l-9-6,8-5,9,6z />
<path color=#bd0 d=M708,445l-9-6-10-5-9-6,8-5,9,6,10,5,9,6z />
<path color=#cd0 d=M727,456l-10-7-9-4,8-5,9,4,10,6z />
<path color=#bd0 d=M736,463l-9-7,8-6,9,8z />
<path color=#ad0 d=M746,470l-10-7,8-5,10,7z />
<path color=#9d0 d=M755,479l-9-9,8-5,9,8z />
<path color=#7c0 d=M765,488l-10-9,8-6,10,9z />
<path color=#6c0 d=M774,495l-9-7,8-6,9,7z />
<path color=#4c0 d=M409,281l-8-4-8-4-7-6,8-5,8,6,7,4,8,4z />
<path color=#6c0 d=M440,300l-8-6-8-4-7-4-8-5,8-5,8,5,8,4,8,4,8,6z />
<path color=#4c0 d=M464,315l-8-3-8-6-8-6,9-5,8,7,8,5,8,3z />
<path color=#6c0 d=M481,325l-8-6-9-4,9-5,8,4,8,6z />
<path color=#4c0 d=M489,330l-8-5,8-5,8,6z />
<path color=#6c0 d=M497,334l-8-4,8-4,8,3z />
<path color=#7c0 d=M514,344l-9-6-8-4,8-5,9,4,8,6z />
<path color=#6c0 d=M547,364l-8-4-8-5-9-5-8-6,8-5,8,6,9,5,8,5,9,5z />
<path color=#7c0 d=M591,389l-9-5-9-6-8-5-9-5-9-4,9-4,8,4,9,5,8,5,9,5,9,5z />
<path color=#9d0 d=M600,392l-9-3,8-5,9,4z />
<path color=#ad0 d=M653,423l-9-4-9-5-9-6-9-6-9-5-8-5,8-4,9,5,8,5,9,5,9,6,9,6,10,3z />
<path color=#cd0 d=M728,468l-9-7-10-6-9-5-10-6-9-5-9-6-9-6-10-4,9-5,9,4,9,6,9,6,10,5,9,6,9,4,10,7,9,7z />
<path color=#bd0 d=M738,476l-10-8,8-5,10,7z />
<path color=#ad0 d=M747,485l-9-9,8-6,9,9z />
<path color=#7c0 d=M757,494l-10-9,8-6,10,9z />
<path color=#6c0 d=M766,501l-9-7,8-6,9,7z />
<path color=#4c0 d=M393,282l-8-5-8-5,9-5,7,6,8,4z />
<path color=#6c0 d=M440,311l-8-7-8-5-8-4-8-5-7-4-8-4,8-5,8,4,8,5,7,4,8,4,8,6,8,6z />
<path color=#4c0 d=M456,319l-8-2-8-6,8-5,8,6,8,3z />
<path color=#6c0 d=M489,338l-8-3-9-5-8-6-8-5,8-4,9,4,8,6,8,5,8,4z />
<path color=#7c0 d=M514,354l-9-6-8-6-8-4,8-4,8,4,9,6,8,6z />
<path color=#6c0 d=M522,359l-8-5,8-4,9,5z />
<path color=#7c0 d=M548,373l-9-4-8-5-9-5,9-4,8,5,8,4,9,4z />
<path color=#9d0 d=M583,393l-9-5-9-6-9-4-8-5,8-5,9,5,8,5,9,6,9,5z />
<path color=#ad0 d=M591,397l-8-4,8-4,9,3z />
<path color=#bd0 d=M627,419l-9-7-9-5-9-5-9-5,9-5,8,5,9,5,9,6,9,6z />
<path color=#ad0 d=M636,424l-9-5,8-5,9,5z />
<path color=#bd0 d=M645,428l-9-4,8-5,9,4z />
<path color=#cd0 d=M692,455l-10-5-9-5-9-7-10-6-9-4,8-5,10,4,9,6,9,6,9,5,10,6z />
<path color=#dd0 d=M711,466l-10-6-9-5,8-5,9,5,10,6z />
<path color=#cd0 d=M720,474l-9-8,8-5,9,7z />
<path color=#bd0 d=M730,481l-10-7,8-6,10,8z />
<path color=#ad0 d=M739,490l-9-9,8-5,9,9z />
<path color=#7c0 d=M749,500l-10-10,8-5,10,9z />
<path color=#6c0 d=M758,507l-9-7,8-6,9,7z />
<path color=#4c0 d=M385,286l-8-4-8-6,8-4,8,5,8,5z />
<path color=#6c0 d=M408,299l-8-4-8-5-7-4,8-4,8,4,7,4,8,5z />
<path color=#7c0 d=M424,309l-8-5-8-5,8-4,8,4,8,5z />
<path color=#6c0 d=M432,316l-8-7,8-5,8,7z />
<path color=#4c0 d=M440,321l-8-5,8-5,8,6z />
<path color=#6c0 d=M448,324l-8-3,8-4,8,2z />
<path color=#7c0 d=M464,334l-8-6-8-4,8-5,8,5,8,6z />
<path color=#6c0 d=M472,339l-8-5,8-4,9,5z />
<path color=#7c0 d=M480,342l-8-3,9-4,8,3z />
<path color=#9d0 d=M497,352l-8-5-9-5,9-4,8,4,8,6z />
<path color=#7c0 d=M522,368l-8-5-8-5-9-6,8-4,9,6,8,5,9,5z />
<path color=#9d0 d=M539,377l-8-4-9-5,9-4,8,5,9,4z />
<path color=#ad0 d=M574,397l-9-5-8-5-9-5-9-5,9-4,8,5,9,4,9,6,9,5z />
<path color=#bd0 d=M592,406l-9-5-9-4,9-4,8,4,9,5z />
<path color=#cd0 d=M610,417l-9-6-9-5,8-4,9,5,9,5z />
<path color=#bd0 d=M628,429l-9-5-9-7,8-5,9,7,9,5z />
<path color=#cd0 d=M637,433l-9-4,8-5,9,4z />
<path color=#dd0 d=M712,479l-10-8-9-6-10-4-9-6-9-5-10-7-9-6-9-4,8-5,9,4,10,6,9,7,9,5,10,5,9,5,10,6,9,8z />
<path color=#cd0 d=M721,487l-9-8,8-5,10,7z />
<path color=#ad0 d=M731,496l-10-9,9-6,9,9z />
<path color=#9d0 d=M740,506l-9-10,8-6,10,10z />
<path color=#6c0 d=M750,514l-10-8,9-6,9,7z />
<path color=#6c0 d=M392,300l-8-5-8-4-8-4-7-6,8-5,8,6,8,4,7,4,8,5z />
<path color=#7c0 d=M415,313l-8-5-8-4-7-4,8-5,8,4,8,5,8,5z />
<path color=#6c0 d=M439,328l-8-3-8-5-8-7,9-4,8,7,8,5,8,3z />
<path color=#7c0 d=M464,343l-8-5-9-6-8-4,9-4,8,4,8,6,8,5z />
<path color=#9d0 d=M480,351l-8-4-8-4,8-4,8,3,9,5z />
<path color=#ad0 d=M489,356l-9-5,9-4,8,5z />
<path color=#9d0 d=M514,372l-8-5-9-5-8-6,8-4,9,6,8,5,8,5z />
<path color=#ad0 d=M531,381l-8-4-9-5,8-4,9,5,8,4z />
<path color=#bd0 d=M566,401l-9-5-9-5-8-5-9-5,8-4,9,5,9,5,8,5,9,5z />
<path color=#cd0 d=M584,410l-9-5-9-4,8-4,9,4,9,5z />
<path color=#dd0 d=M601,421l-9-5-8-6,8-4,9,5,9,6z />
<path color=#cd0 d=M629,438l-9-4-10-6-9-7,9-4,9,7,9,5,9,4z />
<path color=#dd0 d=M675,466l-9-5-10-6-9-6-9-7-9-4,8-5,9,4,9,6,10,7,9,5,9,6z />
<path color=#ed0 d=M694,477l-9-6-10-5,8-5,10,4,9,6z />
<path color=#dd0 d=M704,484l-10-7,8-6,10,8z />
<path color=#cd0 d=M713,492l-9-8,8-5,9,8z />
<path color=#bd0 d=M723,502l-10-10,8-5,10,9z />
<path color=#9d0 d=M732,512l-9-10,8-6,9,10z />
<path color=#6c0 d=M742,520l-10-8,8-6,10,8z />
<path color=#6c0 d=M375,299l-7-3-8-5-8-5,9-5,7,6,8,4,8,4z />
<path color=#7c0 d=M399,313l-8-5-8-4-8-5,9-4,8,5,7,4,8,4z />
<path color=#9d0 d=M407,318l-8-5,8-5,8,5z />
<path color=#7c0 d=M415,324l-8-6,8-5,8,7z />
<path color=#6c0 d=M423,330l-8-6,8-4,8,5z />
<path color=#7c0 d=M431,332l-8-2,8-5,8,3z />
<path color=#9d0 d=M464,350l-9-3-8-5-8-6-8-4,8-4,8,4,9,6,8,5,8,4z />
<path color=#ad0 d=M472,354l-8-4,8-3,8,4z />
<path color=#bd0 d=M480,360l-8-6,8-3,9,5z />
<path color=#ad0 d=M506,376l-9-5-8-5-9-6,9-4,8,6,9,5,8,5z />
<path color=#bd0 d=M523,385l-9-5-8-4,8-4,9,5,8,4z />
<path color=#cd0 d=M557,406l-8-6-9-5-9-5-8-5,8-4,9,5,8,5,9,5,9,5z />
<path color=#dd0 d=M620,443l-9-4-9-6-9-7-9-6-9-5-9-6-9-3,9-5,9,4,9,5,8,6,9,5,9,7,10,6,9,4z />
<path color=#ed0 d=M695,490l-9-8-10-6-9-5-10-5-9-6-9-6-9-7-10-4,9-5,9,4,9,7,9,6,10,6,9,5,10,5,9,6,10,7z />
<path color=#dd0 d=M705,498l-10-8,9-6,9,8z />
<path color=#bd0 d=M714,508l-9-10,8-6,10,10z />
<path color=#9d0 d=M724,518l-10-10,9-6,9,10z />
<path color=#6c0 d=M733,526l-9-8,8-6,10,8z />
<path color=#6c0 d=M359,300l-7-4-8-6,8-4,8,5,8,5z />
<path color=#7c0 d=M375,308l-8-4-8-4,9-4,7,3,8,5z />
<path color=#9d0 d=M406,328l-8-6-8-5-7-4-8-5,8-4,8,4,8,5,8,5,8,6z />
<path color=#7c0 d=M414,334l-8-6,9-4,8,6z />
<path color=#9d0 d=M422,336l-8-2,9-4,8,2z />
<path color=#ad0 d=M455,354l-8-3-8-5-9-6-8-4,9-4,8,4,8,6,8,5,9,3z />
<path color=#bd0 d=M463,358l-8-4,9-4,8,4z />
<path color=#cd0 d=M472,364l-9-6,9-4,8,6z />
<path color=#bd0 d=M497,380l-8-5-9-5-8-6,8-4,9,6,8,5,9,5z />
<path color=#cd0 d=M514,388l-8-4-9-4,9-4,8,4,9,5z />
<path color=#dd0 d=M549,410l-9-6-9-5-8-5-9-6,9-3,8,5,9,5,9,5,8,6z />
<path color=#ed0 d=M594,438l-9-8-9-6-9-5-9-5-9-4,8-4,9,3,9,6,9,5,9,6,9,7z />
<path color=#dd0 d=M603,443l-9-5,8-5,9,6z />
<path color=#ed0 d=M612,448l-9-5,8-4,9,4z />
<path color=#ec0 d=M630,458l-9-6-9-4,8-5,10,4,9,7z />
<path color=#ed0 d=M658,476l-9-5-9-6-10-7,9-4,9,6,9,6,10,5z />
<path color=#ec0 d=M677,488l-9-7-10-5,9-5,9,5,10,6z />
<path color=#ed0 d=M687,496l-10-8,9-6,9,8z />
<path color=#dd0 d=M696,504l-9-8,8-6,10,8z />
<path color=#bd0 d=M706,514l-10-10,9-6,9,10z />
<path color=#9d0 d=M716,524l-10-10,8-6,10,10z />
<path color=#6c0 d=M725,533l-9-9,8-6,9,8z />
<path color=#7c0 d=M358,308l-7-4-8-4-8-6,9-4,8,6,7,4,8,4z />
<path color=#9d0 d=M374,317l-8-5-8-4,9-4,8,4,8,5z />
<path color=#ad0 d=M398,332l-8-6-8-5-8-4,9-4,7,4,8,5,8,6z />
<path color=#9d0 d=M406,337l-8-5,8-4,8,6z />
<path color=#ad0 d=M414,340l-8-3,8-3,8,2z />
<path color=#bd0 d=M438,355l-8-5-8-6-8-4,8-4,8,4,9,6,8,5z />
<path color=#cd0 d=M455,362l-9-4-8-3,9-4,8,3,8,4z />
<path color=#dd0 d=M463,367l-8-5,8-4,9,6z />
<path color=#cd0 d=M488,384l-8-5-8-5-9-7,9-3,8,6,9,5,8,5z />
<path color=#dd0 d=M506,393l-9-5-9-4,9-4,9,4,8,4z />
<path color=#ed0 d=M549,418l-9-4-8-5-9-6-9-5-8-5,8-5,9,6,8,5,9,5,9,6,9,4z />
<path color=#ec0 d=M585,442l-9-7-9-6-9-6-9-5,9-4,9,5,9,5,9,6,9,8z />
<path color=#ed0 d=M603,452l-9-4-9-6,9-4,9,5,9,5z />
<path color=#ec0 d=M613,457l-10-5,9-4,9,4z />
<path color=#eb0 d=M622,463l-9-6,8-5,9,6z />
<path color=#ec0 d=M669,494l-9-7-10-5-9-6-10-6-9-7,8-5,10,7,9,6,9,5,10,5,9,7z />
<path color=#ed0 d=M679,502l-10-8,8-6,10,8z />
<path color=#dd0 d=M688,510l-9-8,8-6,9,8z />
<path color=#bd0 d=M698,520l-10-10,8-6,10,10z />
<path color=#9d0 d=M707,531l-9-11,8-6,10,10z />
<path color=#6c0 d=M717,539l-10-8,9-7,9,9z />
<path color=#7c0 d=M342,308l-8-4-7-6,8-4,8,6,8,4z />
<path color=#9d0 d=M350,312l-8-4,9-4,7,4z />
<path color=#ad0 d=M365,320l-8-4-7-4,8-4,8,4,8,5z />
<path color=#bd0 d=M389,336l-8-7-8-5-8-4,9-3,8,4,8,5,8,6z />
<path color=#ad0 d=M397,341l-8-5,9-4,8,5z />
<path color=#bd0 d=M405,343l-8-2,9-4,8,3z />
<path color=#cd0 d=M430,358l-9-5-8-5-8-5,9-3,8,4,8,6,8,5z />
<path color=#dd0 d=M438,361l-8-3,8-3,8,3z />
<path color=#ed0 d=M454,371l-8-5-8-5,8-3,9,4,8,5z />
<path color=#dd0 d=M471,383l-8-6-9-6,9-4,9,7,8,5z />
<path color=#ed0 d=M497,397l-9-5-8-4-9-5,9-4,8,5,9,4,9,5z />
<path color=#ec0 d=M541,423l-9-4-9-6-9-6-8-5-9-5,9-4,8,5,9,5,9,6,8,5,9,4z />
<path color=#eb0 d=M568,440l-9-6-9-6-9-5,8-5,9,5,9,6,9,6z />
<path color=#ec0 d=M595,458l-9-5-9-6-9-7,8-5,9,7,9,6,9,4z />
<path color=#eb0 d=M661,499l-10-7-9-5-10-6-9-6-10-6-9-7-9-4,8-6,10,5,9,6,9,7,10,6,9,6,10,5,9,7z />
<path color=#ec0 d=M670,508l-9-9,8-5,10,8z />
<path color=#dd0 d=M680,516l-10-8,9-6,9,8z />
<path color=#cd0 d=M689,526l-9-10,8-6,10,10z />
<path color=#9d0 d=M699,537l-10-11,9-6,9,11z />
<path color=#7c0 d=M708,546l-9-9,8-6,10,8z />
<path color=#9d0 d=M333,312l-7-4-8-6,9-4,7,6,8,4z />
<path color=#ad0 d=M349,320l-8-4-8-4,9-4,8,4,7,4z />
<path color=#bd0 d=M357,324l-8-4,8-4,8,4z />
<path color=#cd0 d=M380,339l-8-6-8-5-7-4,8-4,8,4,8,5,8,7z />
<path color=#bd0 d=M388,344l-8-5,9-3,8,5z />
<path color=#cd0 d=M396,347l-8-3,9-3,8,2z />
<path color=#dd0 d=M421,362l-8-5-9-6-8-4,9-4,8,5,8,5,9,5z />
<path color=#ed0 d=M429,365l-8-3,9-4,8,3z />
<path color=#ec0 d=M446,375l-9-5-8-5,9-4,8,5,8,5z />
<path color=#ed0 d=M471,392l-8-5-9-5-8-7,8-4,9,6,8,6,9,5z />
<path color=#ec0 d=M488,401l-8-4-9-5,9-4,8,4,9,5z />
<path color=#eb0 d=M532,427l-9-4-9-5-8-6-9-6-9-5,9-4,9,5,8,5,9,6,9,6,9,4z />
<path color=#e90 d=M550,439l-9-6-9-6,9-4,9,5,9,6z />
<path color=#eb0 d=M568,452l-9-7-9-6,9-5,9,6,9,7z />
<path color=#ec0 d=M577,458l-9-6,9-5,9,6z />
<path color=#eb0 d=M586,463l-9-5,9-5,9,5z />
<path color=#e90 d=M605,474l-9-7-10-4,9-5,9,4,9,7z />
<path color=#eb0 d=M652,505l-10-7-9-5-9-6-10-6-9-7,8-5,10,6,9,6,10,6,9,5,10,7z />
<path color=#ec0 d=M662,514l-10-9,9-6,9,9z />
<path color=#ed0 d=M671,522l-9-8,8-6,10,8z />
<path color=#cd0 d=M681,532l-10-10,9-6,9,10z />
<path color=#ad0 d=M690,543l-9-11,8-6,10,11z />
<path color=#7c0 d=M700,552l-10-9,9-6,9,9z />
<path color=#ad0 d=M324,316l-7-4-8-6,9-4,8,6,7,4z />
<path color=#bd0 d=M340,324l-8-5-8-3,9-4,8,4,8,4z />
<path color=#cd0 d=M348,327l-8-3,9-4,8,4z />
<path color=#dd0 d=M372,343l-8-7-8-5-8-4,9-3,7,4,8,5,8,6z />
<path color=#cd0 d=M380,348l-8-5,8-4,8,5z />
<path color=#dd0 d=M388,350l-8-2,8-4,8,3z />
<path color=#ed0 d=M412,366l-8-5-8-6-8-5,8-3,8,4,9,6,8,5z />
<path color=#ec0 d=M420,369l-8-3,9-4,8,3z />
<path color=#eb0 d=M437,379l-8-5-9-5,9-4,8,5,9,5z />
<path color=#ec0 d=M462,396l-8-5-8-5-9-7,9-4,8,7,9,5,8,5z />
<path color=#eb0 d=M515,428l-9-5-9-6-9-6-8-5-9-5-9-5,9-4,9,5,8,4,9,5,9,6,8,6,9,5z />
<path color=#e90 d=M550,450l-9-6-9-6-9-5-8-5,8-5,9,4,9,6,9,6,9,6z />
<path color=#eb0 d=M578,468l-9-4-10-6-9-8,9-5,9,7,9,6,9,5z />
<path color=#e90 d=M606,487l-10-7-9-7-9-5,8-5,10,4,9,7,9,7z />
<path color=#eb0 d=M624,499l-9-7-9-5,8-6,10,6,9,6z />
<path color=#e90 d=M643,511l-9-7-10-5,9-6,9,5,10,7z />
<path color=#eb0 d=M653,520l-10-9,9-6,10,9z />
<path color=#ed0 d=M663,528l-10-8,9-6,9,8z />
<path color=#cd0 d=M672,538l-9-10,8-6,10,10z />
<path color=#ad0 d=M682,549l-10-11,9-6,9,11z />
<path color=#7c0 d=M691,558l-9-9,8-6,10,9z />
<path color=#bd0 d=M316,319l-8-4-8-5,9-4,8,6,7,4z />
<path color=#cd0 d=M323,322l-7-3,8-3,8,3z />
<path color=#dd0 d=M339,331l-8-4-8-5,9-3,8,5,8,3z />
<path color=#ed0 d=M363,346l-8-6-8-5-8-4,9-4,8,4,8,5,8,7z />
<path color=#dd0 d=M371,352l-8-6,9-3,8,5z />
<path color=#ed0 d=M379,354l-8-2,9-4,8,2z />
<path color=#ec0 d=M403,370l-8-5-8-6-8-5,9-4,8,5,8,6,8,5z />
<path color=#eb0 d=M420,378l-8-4-9-4,9-4,8,3,9,5z />
<path color=#e90 d=M428,384l-8-6,9-4,8,5z />
<path color=#eb0 d=M462,406l-8-5-9-5-8-5-9-7,9-5,9,7,8,5,8,5,9,5z />
<path color=#e90 d=M515,438l-9-4-9-6-9-6-8-6-9-5-9-5,9-5,9,5,8,5,9,6,9,6,9,5,8,5z />
<path color=#e70 d=M533,450l-9-6-9-6,8-5,9,5,9,6z />
<path color=#e90 d=M551,464l-9-8-9-6,8-6,9,6,9,8z />
<path color=#eb0 d=M569,474l-9-4-9-6,8-6,10,6,9,4z />
<path color=#e90 d=M635,518l-10-8-9-5-10-6-9-6-10-7-9-7-9-5,9-6,9,5,9,7,10,7,9,5,9,7,10,5,9,7z />
<path color=#eb0 d=M644,526l-9-8,8-7,10,9z />
<path color=#ec0 d=M654,534l-10-8,9-6,10,8z />
<path color=#dd0 d=M663,544l-9-10,9-6,9,10z />
<path color=#bd0 d=M673,555l-10-11,9-6,10,11z />
<path color=#7c0 d=M683,565l-10-10,9-6,9,9z />
<path color=#cd0 d=M307,322l-8-4-8-5,9-3,8,5,8,4z />
<path color=#dd0 d=M314,326l-7-4,9-3,7,3z />
<path color=#ed0 d=M330,334l-8-4-8-4,9-4,8,5,8,4z />
<path color=#ec0 d=M370,358l-8-2-8-6-8-7-8-5-8-4,9-3,8,4,8,5,8,6,8,6,8,2z />
<path color=#eb0 d=M403,378l-9-3-8-6-8-6-8-5,9-4,8,5,8,6,8,5,9,4z />
<path color=#e90 d=M428,395l-9-6-8-6-8-5,9-4,8,4,8,6,9,7z />
<path color=#eb0 d=M436,401l-8-6,9-4,8,5z />
<path color=#e90 d=M497,439l-9-6-9-6-8-5-9-6-9-5-8-5-9-5,9-5,9,5,8,5,9,5,9,5,8,6,9,6,9,6z />
<path color=#e70 d=M533,462l-9-7-9-6-9-5-9-5,9-5,9,4,9,6,9,6,9,6z />
<path color=#e90 d=M542,470l-9-8,9-6,9,8z />
<path color=#eb0 d=M551,476l-9-6,9-6,9,6z />
<path color=#e90 d=M569,485l-9-5-9-4,9-6,9,4,9,5z />
<path color=#e70 d=M579,492l-10-7,9-6,9,7z />
<path color=#e90 d=M626,525l-10-8-9-5-10-7-9-6-9-7,8-6,10,7,9,6,10,6,9,5,10,8z />
<path color=#eb0 d=M636,533l-10-8,9-7,9,8z />
<path color=#ec0 d=M645,541l-9-8,8-7,10,8z />
<path color=#dd0 d=M655,550l-10-9,9-7,9,10z />
<path color=#bd0 d=M664,561l-9-11,8-6,10,11z />
<path color=#9d0 d=M674,571l-10-10,9-6,10,10z />
<path color=#dd0 d=M290,322l-8-6,9-3,8,5z />
<path color=#ed0 d=M305,329l-7-4-8-3,9-4,8,4,7,4z />
<path color=#ec0 d=M313,334l-8-5,9-3,8,4z />
<path color=#eb0 d=M345,354l-8-7-8-5-8-4-8-4,9-4,8,4,8,4,8,5,8,7z />
<path color=#ec0 d=M353,360l-8-6,9-4,8,6z />
<path color=#eb0 d=M361,363l-8-3,9-4,8,2z />
<path color=#e90 d=M394,383l-8-4-9-5-8-7-8-4,9-5,8,5,8,6,8,6,9,3z />
<path color=#e70 d=M410,394l-8-6-8-5,9-5,8,5,8,6z />
<path color=#e90 d=M453,421l-8-4-9-6-9-5-8-5-9-7,9-5,9,6,8,6,9,5,8,5,9,5z />
<path color=#e70 d=M479,439l-8-6-9-6-9-6,9-5,9,6,8,5,9,6z />
<path color=#e90 d=M488,445l-9-6,9-6,9,6z />
<path color=#e70 d=M524,468l-9-6-9-7-9-6-9-4,9-6,9,5,9,5,9,6,9,7z />
<path color=#e90 d=M533,476l-9-8,9-6,9,8z />
<path color=#eb0 d=M542,482l-9-6,9-6,9,6z />
<path color=#e90 d=M561,492l-10-5-9-5,9-6,9,4,9,5z />
<path color=#e70 d=M570,499l-9-7,8-7,10,7z />
<path color=#e90 d=M589,512l-10-6-9-7,9-7,9,7,9,6z />
<path color=#eb0 d=M598,519l-9-7,8-7,10,7z />
<path color=#e90 d=M608,524l-10-5,9-7,9,5z />
<path color=#eb0 d=M617,532l-9-8,8-7,10,8z />
<path color=#ec0 d=M627,540l-10-8,9-7,10,8z />
<path color=#ed0 d=M636,548l-9-8,9-7,9,8z />
<path color=#dd0 d=M646,558l-10-10,9-7,10,9z />
<path color=#bd0 d=M656,568l-10-10,9-8,9,11z />
<path color=#9d0 d=M665,578l-9-10,8-7,10,10z />
<path color=#ec0 d=M289,329l-8-4-8-6,9-3,8,6,8,3z />
<path color=#eb0 d=M304,337l-8-5-7-3,9-4,7,4,8,5z />
<path color=#e90 d=M336,358l-8-7-8-5-8-5-8-4,9-3,8,4,8,4,8,5,8,7z />
<path color=#eb0 d=M344,364l-8-6,9-4,8,6z />
<path color=#e90 d=M352,367l-8-3,9-4,8,3z />
<path color=#e70 d=M360,372l-8-5,9-4,8,4z />
<path color=#e90 d=M385,388l-8-4-9-6-8-6,9-5,8,7,9,5,8,4z />
<path color=#e70 d=M410,406l-8-7-9-6-8-5,9-5,8,5,8,6,9,7z />
<path color=#e90 d=M436,422l-9-5-8-6-9-5,9-5,8,5,9,5,9,6z />
<path color=#e70 d=M470,445l-8-6-9-6-9-6-8-5,9-5,8,4,9,6,9,6,8,6z />
<path color=#e90 d=M479,451l-9-6,9-6,9,6z />
<path color=#e70 d=M515,474l-9-6-9-6-9-6-9-5,9-6,9,4,9,6,9,7,9,6z />
<path color=#e90 d=M524,482l-9-8,9-6,9,8z />
<path color=#eb0 d=M533,489l-9-7,9-6,9,6z />
<path color=#e90 d=M570,513l-9-7-9-7-9-5-10-5,9-7,9,5,10,5,9,7,9,7z />
<path color=#eb0 d=M608,540l-9-8-10-6-9-7-10-6,9-7,10,6,9,7,10,5,9,8z />
<path color=#ec0 d=M618,548l-10-8,9-8,10,8z />
<path color=#ed0 d=M628,556l-10-8,9-8,9,8z />
<path color=#cd0 d=M637,566l-9-10,8-8,10,10z />
<path color=#ad0 d=M647,576l-10-10,9-8,10,10z />
<path color=#7c0 d=M657,585l-10-9,9-8,9,10z />
<path color=#eb0 d=M279,332l-7-4-8-5,9-4,8,6,8,4z />
<path color=#e90 d=M295,341l-8-5-8-4,10-3,7,3,8,5z />
<path color=#e70 d=M327,363l-8-8-8-5-8-5-8-4,9-4,8,4,8,5,8,5,8,7z />
<path color=#e90 d=M343,372l-8-3-8-6,9-5,8,6,8,3z />
<path color=#e70 d=M401,412l-8-7-9-7-8-5-8-4-9-5-8-7-8-5,9-5,8,5,8,6,9,6,8,4,8,5,9,6,8,7z />
<path color=#e90 d=M418,423l-8-6-9-5,9-6,9,5,8,6z />
<path color=#e70 d=M462,451l-9-6-9-6-9-6-8-5-9-5,9-6,9,5,8,5,9,6,9,6,8,6z />
<path color=#e90 d=M470,458l-8-7,8-6,9,6z />
<path color=#e70 d=M506,481l-9-6-9-7-9-6-9-4,9-7,9,5,9,6,9,6,9,6z />
<path color=#e90 d=M515,489l-9-8,9-7,9,8z />
<path color=#eb0 d=M534,501l-10-5-9-7,9-7,9,7,10,5z />
<path color=#e90 d=M552,513l-9-7-9-5,9-7,9,5,9,7z />
<path color=#eb0 d=M590,540l-10-6-9-7-9-6-10-8,9-7,9,7,10,6,9,7,10,6z />
<path color=#ec0 d=M599,548l-9-8,9-8,9,8z />
<path color=#ed0 d=M609,556l-10-8,9-8,10,8z />
<path color=#dd0 d=M619,565l-10-9,9-8,10,8z />
<path color=#cd0 d=M628,574l-9-9,9-9,9,10z />
<path color=#ad0 d=M638,584l-10-10,9-8,10,10z />
<path color=#7c0 d=M648,593l-10-9,9-8,10,9z />
<path color=#e90 d=M270,336l-7-4-8-5,9-4,8,5,7,4z />
<path color=#e70 d=M294,350l-8-5-8-5-8-4,9-4,8,4,8,5,8,4z />
<path color=#e50 d=M310,360l-8-5-8-5,9-5,8,5,8,5z />
<path color=#e70 d=M318,368l-8-8,9-5,8,8z />
<path color=#e90 d=M326,374l-8-6,9-5,8,6z />
<path color=#e70 d=M334,377l-8-3,9-5,8,3z />
<path color=#e50 d=M342,382l-8-5,9-5,8,5z />
<path color=#e70 d=M367,399l-8-4-9-6-8-7,9-5,8,7,9,5,8,4z />
<path color=#e50 d=M384,410l-9-6-8-5,9-6,8,5,9,7z />
<path color=#e70 d=M401,423l-9-6-8-7,9-5,8,7,9,5z />
<path color=#e90 d=M409,429l-8-6,9-6,8,6z />
<path color=#e70 d=M453,458l-9-7-9-6-9-6-8-5-9-5,9-6,9,5,8,5,9,6,9,6,9,6z />
<path color=#e90 d=M470,469l-9-5-8-6,9-7,8,7,9,4z />
<path color=#e70 d=M479,475l-9-6,9-7,9,6z />
<path color=#e90 d=M497,489l-9-7-9-7,9-7,9,7,9,6z />
<path color=#eb0 d=M553,529l-10-8-9-7-9-5-9-5-10-7-9-8,9-8,9,8,9,7,10,5,9,5,9,7,10,8z />
<path color=#ec0 d=M581,548l-10-6-9-7-9-6,9-8,9,6,9,7,10,6z />
<path color=#ed0 d=M590,556l-9-8,9-8,9,8z />
<path color=#dd0 d=M600,565l-10-9,9-8,10,8z />
<path color=#cd0 d=M610,573l-10-8,9-9,10,9z />
<path color=#bd0 d=M619,582l-9-9,9-8,9,9z />
<path color=#9d0 d=M629,592l-10-10,9-8,10,10z />
<path color=#7c0 d=M639,600l-10-8,9-8,10,9z />
<path color=#e70 d=M269,345l-8-4-8-4-7-6,9-4,8,5,7,4,8,4z />
<path color=#e50 d=M309,373l-9-8-8-5-7-5-8-5-8-5,9-5,8,5,8,5,8,5,8,5,8,8z />
<path color=#e70 d=M325,383l-8-4-8-6,9-5,8,6,8,3z />
<path color=#e50 d=M333,388l-8-5,9-6,8,5z />
<path color=#e70 d=M358,405l-8-4-9-6-8-7,9-6,8,7,9,6,8,4z />
<path color=#e50 d=M375,416l-9-6-8-5,9-6,8,5,9,6z />
<path color=#e70 d=M383,424l-8-8,9-6,8,7z />
<path color=#e90 d=M409,441l-9-6-8-6-9-5,9-7,9,6,8,6,9,5z />
<path color=#e70 d=M435,458l-9-6-9-6-8-5,9-7,8,5,9,6,9,6z />
<path color=#e90 d=M479,490l-9-7-9-6-9-5-8-7-9-7,9-7,9,7,8,6,9,5,9,6,9,7z />
<path color=#eb0 d=M497,505l-9-8-9-7,9-8,9,7,9,8z />
<path color=#ec0 d=M544,537l-10-7-9-8-9-5-9-5-10-7,9-8,10,7,9,5,9,5,9,7,10,8z />
<path color=#ed0 d=M581,564l-9-7-10-7-9-6-9-7,9-8,9,6,9,7,10,6,9,8z />
<path color=#cd0 d=M591,573l-10-9,9-8,10,9z />
<path color=#bd0 d=M601,581l-10-8,9-8,10,8z />
<path color=#ad0 d=M610,590l-9-9,9-8,9,9z />
<path color=#7c0 d=M620,600l-10-10,9-8,10,10z />
<path color=#6c0 d=M630,608l-10-8,9-8,10,8z />
<path color=#e70 d=M252,346l-8-5-7-5,9-5,7,6,8,4z />
<path color=#e50 d=M275,360l-7-5-8-5-8-4,9-5,8,4,8,5,8,5z />
<path color=#e40 d=M291,371l-8-6-8-5,10-5,7,5,8,5z />
<path color=#e50 d=M300,378l-9-7,9-6,9,8z />
<path color=#e70 d=M316,388l-8-3-8-7,9-5,8,6,8,4z />
<path color=#e50 d=M324,394l-8-6,9-5,8,5z />
<path color=#e70 d=M349,411l-9-4-8-6-8-7,9-6,8,7,9,6,8,4z />
<path color=#e50 d=M357,416l-8-5,9-6,8,5z />
<path color=#e70 d=M374,430l-9-7-8-7,9-6,9,6,8,8z />
<path color=#e90 d=M435,473l-9-7-9-6-9-7-8-5-9-6-8-6-9-6,9-6,9,5,8,6,9,6,8,5,9,6,9,6,9,7z />
<path color=#eb0 d=M479,505l-9-7-9-7-9-6-9-6-8-6,9-8,8,7,9,5,9,6,9,7,9,7z />
<path color=#ec0 d=M488,513l-9-8,9-8,9,8z />
<path color=#ed0 d=M525,539l-9-8-9-5-9-6-10-7,9-8,10,7,9,5,9,5,9,8z />
<path color=#dd0 d=M572,573l-9-8-10-6-9-6-9-7-10-7,9-9,10,7,9,7,9,6,10,7,9,7z />
<path color=#cd0 d=M582,582l-10-9,9-9,10,9z />
<path color=#ad0 d=M592,590l-10-8,9-9,10,8z />
<path color=#9d0 d=M601,598l-9-8,9-9,9,9z />
<path color=#7c0 d=M611,607l-10-9,9-8,10,10z />
<path color=#6c0 d=M621,615l-10-8,9-7,10,8z />
<path color=#e70 d=M235,347l-8-6,10-5,7,5z />
<path color=#e50 d=M250,355l-7-4-8-4,9-6,8,5,8,4z />
<path color=#e40 d=M282,377l-8-6-8-6-8-5-8-5,10-5,8,5,7,5,8,5,8,6z />
<path color=#e50 d=M290,384l-8-7,9-6,9,7z />
<path color=#e70 d=M307,395l-8-4-9-7,10-6,8,7,8,3z />
<path color=#e50 d=M315,400l-8-5,9-7,8,6z />
<path color=#e70 d=M356,430l-8-7-8-5-9-5-8-6-8-7,9-6,8,7,8,6,9,4,8,5,8,7z />
<path color=#e90 d=M373,444l-8-7-9-7,9-7,9,7,9,6z />
<path color=#eb0 d=M425,481l-8-7-9-6-9-7-8-5-9-6-9-6,10-8,8,6,9,6,8,5,9,7,9,6,9,7z />
<path color=#ec0 d=M461,507l-9-7-9-7-9-5-9-7,10-8,8,6,9,6,9,6,9,7z />
<path color=#ed0 d=M470,514l-9-7,9-9,9,7z />
<path color=#dd0 d=M479,523l-9-9,9-9,9,8z />
<path color=#cd0 d=M498,535l-10-5-9-7,9-10,10,7,9,6z />
<path color=#dd0 d=M516,548l-9-8-9-5,9-9,9,5,9,8z />
<path color=#cd0 d=M554,575l-10-6-9-7-10-7-9-7,9-9,10,7,9,7,9,6,10,6z />
<path color=#bd0 d=M573,590l-10-8-9-7,9-10,9,8,10,9z />
<path color=#ad0 d=M583,598l-10-8,9-8,10,8z />
<path color=#9d0 d=M592,606l-9-8,9-8,9,8z />
<path color=#6c0 d=M612,622l-10-7-10-9,9-8,10,9,10,8z />
<path color=#e50 d=M241,361l-7-5-8-4-8-5,9-6,8,6,8,4,7,4z />
<path color=#e40 d=M265,377l-8-5-8-6-8-5,9-6,8,5,8,5,8,6z />
<path color=#e50 d=M281,391l-8-8-8-6,9-6,8,6,8,7z />
<path color=#e70 d=M314,414l-8-7-9-6-7-3-9-7,9-7,9,7,8,4,8,5,8,7z />
<path color=#e90 d=M330,425l-8-4-8-7,9-7,8,6,9,5z />
<path color=#e70 d=M339,431l-9-6,10-7,8,5z />
<path color=#e90 d=M347,438l-8-7,9-8,8,7z />
<path color=#eb0 d=M364,452l-8-6-9-8,9-8,9,7,8,7z />
<path color=#ec0 d=M408,484l-9-7-9-7-8-5-9-7-9-6,9-8,9,6,9,6,8,5,9,7,9,6z />
<path color=#ed0 d=M425,498l-9-7-8-7,9-10,8,7,9,7z />
<path color=#dd0 d=M452,517l-9-7-9-7-9-5,9-10,9,5,9,7,9,7z />
<path color=#cd0 d=M470,532l-9-8-9-7,9-10,9,7,9,9z />
<path color=#bd0 d=M516,565l-9-8-9-7-9-5-10-6-9-7,9-9,9,7,10,5,9,5,9,8,9,7z />
<path color=#ad0 d=M554,591l-9-7-10-6-9-7-10-6,9-10,10,7,9,7,10,6,9,7z />
<path color=#9d0 d=M573,606l-9-7-10-8,9-9,10,8,10,8z />
<path color=#7c0 d=M583,614l-10-8,10-8,9,8z />
<path color=#6c0 d=M593,623l-10-9,9-8,10,9z />
<path color=#4c0 d=M603,630l-10-7,9-8,10,7z />
<path color=#e70 d=M217,358l-8-5,9-6,8,5z />
<path color=#e50 d=M264,390l-8-6-8-6-8-5-8-6-8-4-7-5,9-6,8,4,7,5,8,5,8,6,8,5,8,6z />
<path color=#e70 d=M272,398l-8-8,9-7,8,8z />
<path color=#e90 d=M305,422l-8-7-9-6-8-4-8-7,9-7,9,7,7,3,9,6,8,7z />
<path color=#eb0 d=M338,447l-8-7-9-6-8-5-8-7,9-8,8,7,8,4,9,6,8,7z />
<path color=#ec0 d=M347,455l-9-8,9-9,9,8z />
<path color=#ed0 d=M364,468l-9-6-8-7,9-9,8,6,9,6z />
<path color=#dd0 d=M399,494l-9-7-9-6-8-6-9-7,9-10,9,7,8,5,9,7,9,7z />
<path color=#cd0 d=M407,501l-8-7,9-10,8,7z />
<path color=#bd0 d=M452,534l-9-7-9-7-9-6-9-6-9-7,9-10,9,7,9,5,9,7,9,7,9,7z />
<path color=#ad0 d=M461,542l-9-8,9-10,9,8z />
<path color=#9d0 d=M479,554l-9-5-9-7,9-10,9,7,10,6z />
<path color=#ad0 d=M498,567l-9-8-10-5,10-9,9,5,9,7z />
<path color=#9d0 d=M555,607l-10-7-10-7-9-6-9-7-10-6-9-7,9-10,9,8,10,6,9,7,10,6,9,7,10,8z />
<path color=#7c0 d=M574,622l-10-8-9-7,9-8,9,7,10,8z />
<path color=#6c0 d=M584,630l-10-8,9-8,10,9z />
<path color=#4c0 d=M594,637l-10-7,9-7,10,7z />
<path color=#e70 d=M255,399l-8-7-8-6-8-5-8-6-8-5-7-4-8-6,9-7,8,5,7,5,8,4,8,6,8,5,8,6,8,6z />
<path color=#e90 d=M263,407l-8-8,9-9,8,8z />
<path color=#ec0 d=M279,419l-8-5-8-7,9-9,8,7,8,4z />
<path color=#eb0 d=M288,425l-9-6,9-10,9,6z />
<path color=#ec0 d=M296,433l-8-8,9-10,8,7z />
<path color=#ed0 d=M329,458l-8-7-8-6-9-5-8-7,9-11,8,7,8,5,9,6,8,7z />
<path color=#dd0 d=M338,466l-9-8,9-11,9,8z />
<path color=#cd0 d=M347,473l-9-7,9-11,8,7z />
<path color=#bd0 d=M381,498l-9-6-8-6-9-6-8-7,8-11,9,6,9,7,8,6,9,6z />
<path color=#ad0 d=M398,512l-8-7-9-7,9-11,9,7,8,7z />
<path color=#9d0 d=M443,544l-9-7-9-7-9-6-9-5-9-7,9-11,9,7,9,6,9,6,9,7,9,7z />
<path color=#7c0 d=M452,552l-9-8,9-10,9,8z />
<path color=#6c0 d=M470,563l-9-4-9-7,9-10,9,7,9,5z />
<path color=#7c0 d=M545,615l-9-7-10-7-9-5-10-7-9-6-9-7-10-8-9-5,9-9,10,5,9,8,9,7,10,6,9,7,9,6,10,7,10,7z />
<path color=#6c0 d=M565,630l-10-8-10-7,10-8,9,7,10,8z />
<path color=#4c0 d=M584,645l-9-7-10-8,9-8,10,8,10,7z />
<path color=#eb0 d=M199,374l-8-6,9-8,8,6z />
<path color=#e90 d=M230,396l-8-6-8-6-8-5-7-5,9-8,7,4,8,5,8,6,8,5z />
<path color=#eb0 d=M246,409l-8-7-8-6,9-10,8,6,8,7z />
<path color=#ec0 d=M254,418l-8-9,9-10,8,8z />
<path color=#dd0 d=M279,436l-8-6-8-5-9-7,9-11,8,7,8,5,9,6z />
<path color=#cd0 d=M287,444l-8-8,9-11,8,8z />
<path color=#bd0 d=M321,470l-9-7-8-6-8-6-9-7,9-11,8,7,9,5,8,6,8,7z />
<path color=#ad0 d=M329,478l-8-8,8-12,9,8z />
<path color=#9d0 d=M338,484l-9-6,9-12,9,7z />
<path color=#7c0 d=M389,522l-8-7-9-7-9-6-8-6-9-6-8-6,9-11,8,7,9,6,8,6,9,6,9,7,8,7z />
<path color=#6c0 d=M434,553l-9-7-9-6-9-7-9-5-9-6,9-10,9,7,9,5,9,6,9,7,9,7z />
<path color=#4c0 d=M461,572l-9-5-9-6-9-8,9-9,9,8,9,7,9,4z />
<path color=#6c0 d=M555,638l-9-8-10-6-9-8-10-7-9-5-10-6-9-6-10-8-9-7-9-5,9-9,9,5,10,8,9,7,9,6,10,7,9,5,10,7,9,7,10,7,10,8z />
<path color=#4c0 d=M575,652l-10-7-10-7,10-8,10,8,9,7z />
<path color=#ec0 d=M190,384l-8-6,9-10,8,6z />
<path color=#ed0 d=M198,389l-8-5,9-10,7,5z />
<path color=#ec0 d=M205,395l-7-6,8-10,8,5z />
<path color=#ed0 d=M229,414l-8-7-8-6-8-6,9-11,8,6,8,6,8,6z />
<path color=#dd0 d=M237,421l-8-7,9-12,8,7z />
<path color=#cd0 d=M246,430l-9-9,9-12,8,9z />
<path color=#ad0 d=M270,448l-8-7-8-4-8-7,8-12,9,7,8,5,8,6z />
<path color=#9d0 d=M278,455l-8-7,9-12,8,8z />
<path color=#7c0 d=M312,480l-9-7-8-6-8-5-9-7,9-11,9,7,8,6,8,6,9,7z />
<path color=#6c0 d=M320,487l-8-7,9-10,8,8z />
<path color=#4c0 d=M424,561l-8-6-9-7-9-6-9-5-9-7-9-6-8-7-9-6-8-5-9-6-8-6-9-7,9-9,9,6,8,6,9,6,8,6,9,6,9,7,8,7,9,6,9,5,9,7,9,6,9,7z />
<path color=#2c0 d=M452,580l-9-4-9-7-10-8,10-8,9,8,9,6,9,5z />
<path color=#4c0 d=M508,617l-10-5-9-6-10-6-9-7-9-8-9-5,9-8,9,5,9,7,10,8,9,6,10,6,9,5z />
<path color=#6c0 d=M536,638l-9-7-10-7-9-7,9-8,10,7,9,8,10,6z />
<path color=#4c0 d=M566,660l-10-7-10-8-10-7,10-8,9,8,10,7,10,7z />
<path color=#cd0 d=M197,406l-8-5-8-6-8-7,9-10,8,6,8,5,7,6z />
<path color=#bd0 d=M213,419l-8-6-8-7,8-11,8,6,8,6z />
<path color=#ad0 d=M229,432l-8-7-8-6,8-12,8,7,8,7z />
<path color=#9d0 d=M237,440l-8-8,8-11,9,9z />
<path color=#6c0 d=M269,465l-8-8-8-6-8-4-8-7,9-10,8,7,8,4,8,7,8,7z />
<path color=#4c0 d=M302,488l-8-7-8-5-8-5-9-6,9-10,9,7,8,5,8,6,9,7z />
<path color=#2c0 d=M415,569l-9-7-9-6-9-6-8-5-9-7-9-7-9-6-8-6-9-5-8-6-9-6-8-6-9-8,10-8,8,7,9,7,8,6,9,6,8,5,9,6,8,7,9,6,9,7,9,5,9,6,9,7,8,6z />
<path color=#1c1 d=M442,588l-9-4-9-7-9-8,9-8,10,8,9,7,9,4z />
<path color=#2c0 d=M451,593l-9-5,10-8,9,5z />
<path color=#4c0 d=M461,601l-10-8,10-8,9,8z />
<path color=#2c0 d=M489,620l-10-6-9-6-9-7,9-8,9,7,10,6,9,6z />
<path color=#4c0 d=M556,667l-9-7-10-7-10-8-10-6-9-7-10-7-9-5,9-8,10,5,9,7,10,7,9,7,10,7,10,8,10,7z />
<path color=#9d0 d=M172,406l-7-7,8-11,8,7z />
<path color=#7c0 d=M211,434l-7-5-8-6-8-6-8-5-8-6,9-11,8,6,8,5,8,7,8,6,8,6z />
<path color=#6c0 d=M219,441l-8-7,10-9,8,7z />
<path color=#4c0 d=M228,449l-9-8,10-9,8,8z />
<path color=#2c0 d=M244,460l-8-4-8-7,9-9,8,7,8,4z />
<path color=#4c0 d=M252,465l-8-5,9-9,8,6z />
<path color=#2c0 d=M293,496l-8-7-9-6-8-4-8-7-8-7,9-8,8,8,9,6,8,5,8,5,8,7z />
<path color=#1c1 d=M379,557l-9-5-9-6-8-7-9-6-9-7-8-5-9-6-8-6-8-6-9-7,9-8,9,8,8,6,9,6,8,6,9,5,8,6,9,6,9,7,9,7,8,5z />
<path color=#2c0 d=M397,570l-9-7-9-6,9-7,9,6,9,6z />
<path color=#1c1 d=M415,585l-9-8-9-7,9-8,9,7,9,8z />
<path color=#0c3 d=M424,591l-9-6,9-8,9,7z />
<path color=#1c1 d=M433,596l-9-5,9-7,9,4z />
<path color=#2c0 d=M479,628l-9-6-9-7-10-7-9-7-9-5,9-8,9,5,10,8,9,7,9,6,10,6z />
<path color=#4c0 d=M547,675l-10-7-10-8-9-7-10-6-10-8-9-6-10-5,10-8,9,5,10,7,9,7,10,6,10,8,10,7,9,7z />
<path color=#6c0 d=M163,415l-7-7,9-9,7,7z />
<path color=#4c0 d=M210,448l-8-6-8-5-7-6-8-6-8-5-8-5,9-9,8,6,8,5,8,6,8,6,7,5,8,7z />
<path color=#2c0 d=M218,456l-8-8,9-7,9,8z />
<path color=#1c1 d=M234,467l-7-4-9-7,10-7,8,7,8,4z />
<path color=#2c0 d=M251,479l-9-7-8-5,10-7,8,5,8,7z />
<path color=#1c1 d=M267,490l-8-4-8-7,9-7,8,7,8,4z />
<path color=#2c0 d=M284,503l-9-7-8-6,9-7,9,6,8,7z />
<path color=#1c1 d=M300,516l-8-6-8-7,9-7,9,7,8,6z />
<path color=#0c3 d=M309,522l-9-6,10-7,8,6z />
<path color=#1c1 d=M405,592l-9-8-9-7-9-6-9-7-8-5-9-6-9-7-8-6-9-7-9-5-8-6,9-7,9,6,8,5,9,7,9,6,8,7,9,6,9,5,9,6,9,7,9,7,9,8z />
<path color=#0c3 d=M423,604l-9-5-9-7,10-7,9,6,9,5z />
<path color=#1c1 d=M433,608l-10-4,10-8,9,5z />
<path color=#2c0 d=M442,616l-9-8,9-7,9,7z />
<path color=#1c1 d=M460,629l-9-6-9-7,9-8,10,7,9,7z />
<path color=#2c0 d=M479,641l-9-6-10-6,10-7,9,6,10,5z />
<path color=#4c0 d=M518,668l-10-7-10-7-9-7-10-6,10-8,9,6,10,8,10,6,9,7z />
<path color=#2c0 d=M537,683l-9-7-10-8,9-8,10,8,10,7z />
<path color=#2c0 d=M201,455l-8-6-8-5-8-6-8-6-7-5-8-5-8-7,10-7,7,7,8,5,8,5,8,6,7,6,8,5,8,6z />
<path color=#1c1 d=M283,517l-9-8-8-7-9-5-8-5-8-6-8-7-8-6-8-3-8-7-8-8,9-7,8,8,9,7,7,4,8,5,9,7,8,7,8,4,8,6,9,7,8,7z />
<path color=#0c3 d=M308,535l-9-6-8-6-8-6,9-7,8,6,9,6,8,6z />
<path color=#1c1 d=M342,560l-8-7-9-6-9-7-8-5,9-7,9,5,9,7,8,6,9,7z />
<path color=#0c3 d=M351,566l-9-6,10-7,9,6z />
<path color=#1c1 d=M387,591l-9-7-9-6-9-7-9-5,10-7,8,5,9,7,9,6,9,7z />
<path color=#0c3 d=M414,611l-9-5-9-7-9-8,9-7,9,8,9,7,9,5z />
<path color=#1c1 d=M460,643l-9-6-9-6-10-8-9-7-9-5,9-7,10,4,9,8,9,7,9,6,10,6z />
<path color=#2c0 d=M528,691l-10-7-10-8-10-7-9-7-10-7-9-7-10-5,10-8,9,6,10,6,9,7,10,7,10,7,10,8,9,7z />
<path class=m3 d=M146,415l10-7,9-9,8-11,9-10,9-10,9-8,9-7,9-6,9-6,10-5,9-5,9-4,9-4,9-4,9-3,9-3,9-3,9-4,9-4,9-4,8-4,9-4,8-4,9-5,8-5,8-4,9-5,8-5,8-5,8-6,8-5,8-6,8-6,8-6,8-6,8-7,7-6,8-7,8-7,8-7,7-6,8-6,7-6,8-5 />
<path class=m3 d=M154,422l9-7,9-9,9-11,9-11,9-10,9-8,9-8,9-6,9-5,9-6,9-4,10-5,9-4,9-3,9-3,9-4,9-3,9-3,9-4,8-4,9-4,9-4,8-5,8-4,9-5,8-5,8-4,9-5,8-5,8-6,8-5,8-6,8-6,8-6,8-6,7-7,8-6,8-7,8-7,7-7,8-6,8-7,7-5,8-6 />
<path class=m2 d=M162,427l9-7,9-8,9-11,9-12,8-10,9-9,9-7,10-7,9-5,9-5,9-5,9-5,9-4,10-3,9-4,9-3,9-3,8-3,9-4,9-4,9-4,8-4,9-4,8-5,9-5,8-4,8-5,8-5,8-5,9-5,8-6,8-5,8-6,7-6,8-7,8-6,8-7,8-7,7-7,8-7,8-6,7-6,8-6,7-6 />
<path class=m3 d=M169,432l10-7,9-8,9-11,8-11,9-11,9-9,9-8,9-6,9-6,10-5,9-5,9-5,9-4,9-4,9-3,9-3,9-4,9-3,9-3,9-4,8-4,9-4,8-5,9-4,8-5,9-4,8-5,8-5,8-5,8-5,8-6,8-5,8-6,8-6,8-6,8-7,8-7,7-7,8-7,8-7,7-6,8-7,8-6,7-5 />
<path class=m3 d=M177,438l10-7,9-8,9-10,8-12,9-11,9-9,9-8,9-7,9-6,10-5,9-5,9-5,9-4,9-4,9-3,9-4,9-3,9-3,9-4,8-4,9-4,9-4,8-4,9-4,8-5,8-5,9-4,8-5,8-5,8-6,8-5,8-5,8-6,8-6,8-6,8-7,8-7,7-7,8-7,8-7,7-6,8-7,8-6,7-6 />
<path class=m2 d=M185,444l9-7,10-8,9-10,8-12,9-11,9-10,9-8,9-6,9-7,9-5,10-5,9-5,9-5,9-4,9-3,9-4,9-3,9-4,9-3,8-4,9-3,9-4,8-5,8-4,9-5,8-4,8-5,9-5,8-5,8-5,8-5,8-6,8-6,8-6,8-6,8-6,7-7,8-7,8-7,8-7,7-7,8-6,7-6,8-6 />
<path class=m3 d=M193,449l9-7,9-8,10-9,8-11,9-12,9-10,9-8,9-7,9-6,9-6,9-5,10-5,9-5,9-4,9-4,9-4,9-3,9-4,8-3,9-4,9-3,8-4,9-4,8-5,9-4,8-5,8-5,9-5,8-5,8-5,8-5,8-5,8-6,8-6,8-6,8-6,7-7,8-7,8-7,7-7,8-7,8-7,7-6,8-6 />
<path class=m4 d=M201,455l9-7,9-7,10-9,8-11,9-12,9-10,9-9,9-7,9-6,9-6,9-6,10-5,9-5,9-4,9-4,9-4,9-3,9-4,8-3,9-4,9-3,8-4,9-4,8-5,9-4,8-5,8-4,9-5,8-5,8-5,8-6,8-5,8-6,8-5,8-7,8-6,7-6,8-7,8-7,7-7,8-7,8-7,7-7,8-6 />
<path class=m4 d=M209,463l9-7,10-7,9-9,9-10,8-12,9-11,9-9,9-7,9-7,10-6,9-5,9-5,9-5,9-5,9-4,9-4,9-4,9-3,8-4,9-3,9-4,8-4,9-4,8-4,9-4,8-5,8-5,9-4,8-5,8-6,8-5,8-5,8-6,8-5,8-6,8-7,7-6,8-7,8-7,8-7,7-7,8-7,7-7,8-6 />
<path class=m3 d=M217,470l10-7,9-7,9-9,9-10,9-12,8-11,9-9,10-7,9-7,9-6,9-6,9-5,9-5,9-5,9-4,9-4,9-4,9-4,8-4,9-3,9-4,8-3,9-4,8-5,9-4,8-4,8-5,9-5,8-5,8-5,8-5,8-5,8-6,8-6,8-6,8-6,7-6,8-7,8-7,8-7,7-7,8-7,7-7,8-6 />
<path class=m2 d=M225,473l9-6,10-7,9-9,9-10,9-11,8-11,9-10,9-8,10-6,9-7,9-5,9-6,9-5,9-5,9-4,9-5,9-4,9-4,8-3,9-4,9-3,8-4,9-4,8-4,9-4,8-5,8-4,9-5,8-5,8-5,8-5,8-6,8-5,8-6,8-6,8-6,7-6,8-7,8-7,8-7,7-7,8-7,7-7,8-6 />
<path class=m3 d=M233,479l9-7,10-7,9-8,9-9,9-12,9-11,9-10,9-8,9-7,9-6,9-6,9-6,9-5,9-5,9-5,9-4,9-4,9-4,8-4,9-3,9-4,8-4,9-4,8-4,9-4,8-4,9-5,8-5,8-5,8-5,8-5,8-5,8-5,8-6,8-6,8-6,8-6,7-7,8-7,8-7,7-7,8-7,8-7,7-6 />
<path class=m3 d=M241,486l10-7,9-7,9-7,9-10,9-11,9-11,9-11,9-8,9-7,9-6,9-6,9-6,9-5,9-6,9-4,9-5,9-4,9-4,9-4,8-4,9-3,9-4,8-4,9-4,8-4,8-4,9-5,8-5,8-4,8-5,8-6,8-5,8-5,8-6,8-6,8-6,8-6,7-6,8-7,8-7,8-7,7-7,8-7,7-7 />
<path class=m3 d=M249,492l10-6,9-7,10-8,9-9,9-11,8-11,9-11,9-8,9-8,9-6,10-6,9-6,9-6,9-5,9-5,8-4,9-5,9-4,9-4,9-4,8-3,9-4,8-4,9-4,8-4,9-4,8-5,8-4,8-5,8-5,8-5,8-5,8-6,8-5,8-6,8-6,8-6,8-7,7-6,8-7,8-7,7-7,8-8,8-6 />
<path class=m2 d=M257,497l10-7,9-7,10-7,9-9,9-10,9-12,8-11,9-9,10-7,9-7,9-6,9-6,9-6,9-5,9-5,9-5,9-4,8-5,9-4,9-4,8-3,9-4,9-4,8-3,8-5,9-4,8-4,8-5,8-5,9-5,8-5,8-5,8-5,8-6,7-5,8-6,8-6,8-7,8-6,7-7,8-7,8-8,7-7,8-6 />
<path class=m3 d=M266,502l9-6,10-7,9-8,9-8,9-10,9-12,9-11,9-9,9-8,9-7,9-6,9-6,9-6,9-5,9-5,9-5,9-5,9-4,8-4,9-4,9-4,8-4,9-4,8-3,9-4,8-5,8-4,9-5,8-4,8-5,8-5,8-6,8-5,8-5,8-6,8-6,7-6,8-6,8-7,8-7,7-7,8-7,7-7,8-7 />
<path class=m3 d=M274,509l10-6,9-7,9-8,10-8,9-10,8-12,9-11,9-9,9-8,9-7,10-7,9-6,9-5,9-6,8-5,9-5,9-5,9-5,9-4,8-4,9-4,9-3,8-4,9-4,8-4,8-4,9-4,8-5,8-5,8-5,8-5,8-5,8-5,8-5,8-6,8-6,8-6,7-6,8-7,8-6,8-7,7-8,8-7,7-7 />
<path class=m3 d=M283,517l9-7,10-7,9-7,9-9,9-9,9-12,9-11,9-9,9-9,9-7,9-6,9-7,9-5,9-6,9-5,9-6,9-4,9-5,8-4,9-5,9-3,8-4,9-4,8-4,9-4,8-4,8-4,8-5,8-4,9-5,8-5,8-5,8-6,8-5,7-6,8-5,8-6,8-7,7-6,8-7,8-7,7-7,8-7,8-7 />
<path class=m3 d=M291,523l9-7,10-7,9-7,10-8,9-10,9-11,8-11,9-10,9-8,10-8,9-7,9-6,9-6,9-6,8-5,9-5,9-5,9-5,9-4,8-4,9-4,9-4,8-4,9-4,8-4,8-4,9-4,8-5,8-4,8-5,8-5,8-5,8-6,8-5,8-6,8-5,7-6,8-6,8-7,8-6,7-7,8-7,7-8,8-7 />
<path class=m3 d=M299,529l10-7,9-7,10-7,9-8,9-10,9-10,9-12,9-10,9-8,9-8,9-7,9-6,9-6,9-6,9-6,9-5,9-5,8-5,9-4,9-4,8-4,9-4,9-4,8-4,8-4,9-4,8-4,8-5,8-4,8-5,8-5,8-5,8-6,8-5,8-5,8-6,8-6,8-6,7-6,8-7,8-7,7-7,8-7,7-7 />
<path class=m2 d=M308,535l9-7,10-7,9-7,10-8,9-10,9-10,9-11,9-10,9-9,9-8,9-7,9-7,9-6,9-6,9-5,8-6,9-5,9-5,9-4,8-5,9-4,9-4,8-4,9-3,8-4,8-4,8-5,9-4,8-5,8-5,8-5,8-5,8-5,8-5,8-6,8-5,7-6,8-6,8-6,7-7,8-7,8-7,7-7,8-7 />
<path class=m3 d=M316,540l10-7,9-7,10-7,9-8,9-9,9-10,9-11,9-11,9-9,9-8,9-7,9-7,9-6,9-6,9-6,9-5,9-5,9-5,8-5,9-4,9-4,8-5,9-3,8-4,8-4,9-4,8-5,8-4,8-5,8-4,9-5,8-5,7-6,8-5,8-5,8-6,8-6,8-6,7-6,8-6,8-7,7-7,8-7,7-7 />
<path class=m3 d=M325,547l10-7,9-7,9-8,10-8,9-9,9-10,9-11,9-10,9-9,9-8,9-8,9-7,9-6,9-6,9-6,9-5,9-6,8-5,9-5,9-4,8-4,9-4,8-4,9-4,8-4,8-4,9-5,8-4,8-5,8-4,8-5,8-5,8-5,8-6,8-5,8-6,7-5,8-6,8-7,8-6,7-6,8-7,7-7,8-7 />
<path class=m3 d=M334,553l9-7,10-7,9-8,9-7,10-9,9-10,9-11,9-10,9-10,9-8,9-8,9-7,9-6,9-6,9-6,8-6,9-5,9-5,9-5,8-5,9-4,8-4,9-4,8-4,9-4,8-5,8-4,8-4,9-5,8-4,8-5,8-5,8-5,8-6,7-5,8-6,8-5,8-6,7-6,8-7,8-6,7-7,8-7,8-7 />
<path class=m3 d=M342,560l10-7,9-7,10-8,9-8,9-8,9-10,9-11,9-10,9-10,10-8,9-8,9-7,9-7,8-6,9-6,9-6,9-5,9-5,8-5,9-5,9-4,8-5,9-4,8-4,8-4,9-4,8-4,8-5,8-4,8-5,8-5,8-5,8-5,8-5,8-5,8-6,8-5,7-6,8-6,8-7,7-6,8-7,8-7,7-6 />
<path class=m3 d=M351,566l10-7,9-7,10-7,9-8,9-9,9-9,9-11,9-10,9-10,9-9,9-7,9-8,9-6,9-7,9-6,9-6,9-5,9-6,8-5,9-4,8-5,9-4,8-4,9-5,8-4,9-4,8-4,8-5,8-4,8-5,8-4,8-5,8-5,8-6,8-5,8-5,7-6,8-6,8-6,7-6,8-6,8-7,7-7,8-7 />
<path class=m2 d=M360,571l9-7,10-7,9-7,10-8,9-9,9-9,9-10,9-11,9-10,9-8,9-8,9-8,9-7,9-6,9-7,9-5,9-6,8-5,9-6,9-4,8-5,9-4,8-5,9-4,8-4,8-4,9-5,8-4,8-5,8-4,8-5,8-5,8-5,8-5,8-5,7-6,8-5,8-6,8-6,7-6,8-6,7-7,8-7,8-6 />
<path class=m3 d=M369,578l9-7,10-8,9-7,10-8,9-8,9-10,9-10,9-10,9-10,9-9,9-8,9-8,9-7,9-6,9-7,9-6,9-5,8-6,9-5,9-5,8-5,9-4,8-4,9-5,8-4,8-4,8-5,9-4,8-5,8-4,8-5,8-5,8-5,8-5,7-5,8-5,8-6,8-6,7-5,8-7,8-6,7-6,8-7,7-7 />
<path class=m3 d=M378,584l9-7,10-7,9-8,10-7,9-9,9-9,9-10,9-10,9-10,9-9,9-8,9-8,9-7,9-7,9-6,9-7,9-5,8-6,9-5,9-5,8-5,9-5,8-4,8-4,9-5,8-4,8-5,8-4,9-5,8-4,8-5,8-5,8-4,7-5,8-6,8-5,8-5,7-6,8-6,8-6,7-6,8-7,8-6,7-7 />
<path class=m3 d=M387,591l9-7,10-7,9-8,9-8,10-8,9-9,9-10,9-10,9-10,9-9,9-8,9-8,9-8,9-7,9-6,9-6,9-6,8-6,9-5,9-5,8-5,9-5,8-4,8-5,9-4,8-5,8-4,8-5,9-5,8-4,8-5,8-4,7-5,8-5,8-5,8-5,8-6,7-6,8-5,8-6,7-7,8-6,7-6,8-7 />
<path class=m3 d=M396,599l9-7,10-7,9-8,10-8,9-8,9-9,9-10,9-10,9-9,9-10,9-8,9-8,9-8,9-7,9-6,9-6,9-6,8-6,9-6,9-5,8-5,9-4,8-5,8-5,9-4,8-5,8-5,8-5,8-4,9-5,8-4,7-5,8-5,8-4,8-5,8-6,7-5,8-6,8-5,7-6,8-7,8-6,7-6,8-7 />
<path class=m3 d=M405,606l9-7,10-8,9-7,10-8,9-9,9-8,9-10,9-10,9-9,10-10,9-8,9-8,8-8,9-7,9-7,9-6,9-6,9-6,8-6,9-5,8-5,9-5,8-4,9-5,8-5,8-5,8-5,8-4,9-5,8-5,8-4,7-5,8-4,8-5,8-5,8-5,7-6,8-5,8-6,7-6,8-6,8-6,7-7,8-6 />
<path class=m2 d=M414,611l9-7,10-8,9-8,10-8,9-8,9-9,9-9,10-9,9-10,9-9,9-9,9-8,9-8,9-7,8-7,9-7,9-6,9-6,8-5,9-5,8-6,9-4,8-5,9-5,8-5,8-5,8-5,9-5,8-5,8-5,8-4,8-4,7-5,8-5,8-4,8-6,8-5,7-5,8-6,7-6,8-6,8-6,7-7,8-6 />
<path class=m3 d=M423,616l10-8,9-7,9-8,10-8,9-8,9-9,10-9,9-9,9-10,9-9,9-9,9-8,9-8,9-7,9-7,8-7,9-6,9-6,9-6,8-5,9-5,8-5,9-5,8-5,8-5,8-5,9-5,8-5,8-5,8-5,8-5,8-4,8-4,7-5,8-5,8-5,8-5,7-6,8-5,8-6,7-6,8-6,7-7,8-6 />
<path class=m3 d=M432,623l10-7,9-8,10-7,9-8,9-9,10-8,9-9,9-10,9-9,9-9,9-9,9-9,9-8,9-7,9-7,9-7,8-6,9-6,9-6,8-5,9-6,8-5,9-4,8-5,8-6,9-5,8-5,8-5,8-5,8-5,8-5,8-4,8-4,8-5,7-5,8-5,8-5,7-5,8-6,8-6,7-6,8-6,7-6,8-6 />
<path class=m3 d=M442,631l9-8,10-8,9-7,9-8,10-8,9-9,9-9,9-9,9-10,10-9,9-9,9-8,9-8,8-8,9-7,9-7,9-6,9-6,8-6,9-6,8-5,9-5,8-5,8-5,9-5,8-5,8-6,8-5,8-5,8-5,8-4,8-5,8-5,8-4,8-5,7-5,8-5,8-5,7-6,8-6,7-6,8-6,7-6,8-6 />
<path class=m3 d=M451,637l9-8,10-7,9-8,10-8,9-8,9-9,10-9,9-9,9-9,9-9,9-9,9-9,9-8,9-8,9-7,8-7,9-6,9-7,9-5,8-6,9-5,8-5,8-5,9-5,8-6,8-5,8-6,9-5,8-5,8-5,8-4,7-5,8-5,8-4,8-5,8-5,7-5,8-5,7-6,8-6,8-5,7-6,8-7,7-6 />
<path class=m2 d=M460,643l10-8,9-7,10-8,9-8,10-8,9-8,9-9,9-9,9-9,9-10,9-9,9-8,9-8,9-8,9-7,9-7,9-7,8-6,9-6,9-6,8-5,8-6,9-5,8-5,8-5,9-6,8-5,8-5,8-5,8-5,8-5,8-5,8-5,7-4,8-5,8-5,8-5,7-5,8-6,7-6,8-5,7-6,8-6,7-6 />
<path class=m3 d=M470,648l9-7,10-8,9-8,10-8,9-8,9-8,9-8,10-9,9-9,9-10,9-8,9-9,9-8,9-8,9-8,8-7,9-7,9-6,8-6,9-6,9-5,8-6,8-5,9-5,8-6,8-5,8-5,8-6,8-5,8-5,8-5,8-5,8-4,8-5,8-5,7-5,8-5,8-5,7-6,8-5,7-6,8-6,7-6,8-6 />
<path class=m3 d=M479,655l10-8,9-8,10-7,9-8,10-8,9-8,9-8,9-9,9-9,9-9,9-9,9-8,9-8,9-8,9-8,9-7,9-7,8-7,9-6,9-6,8-5,8-6,9-6,8-5,8-6,9-5,8-5,8-5,8-6,8-5,8-5,8-5,8-5,7-5,8-5,8-5,7-5,8-5,8-5,7-6,8-6,7-6,8-5,7-7 />
<path class=m3 d=M489,662l9-8,10-7,9-8,10-8,9-7,9-9,10-8,9-8,9-9,9-8,9-9,9-8,9-9,9-8,9-8,9-7,8-7,9-6,9-6,8-6,9-6,8-6,8-6,9-6,8-5,8-5,8-6,8-5,8-5,8-6,8-5,8-5,8-6,8-4,7-5,8-5,8-6,7-5,8-5,7-6,8-6,7-5,8-6,7-6 />
<path class=m4 d=M498,669l10-8,10-8,9-8,9-7,10-8,9-8,9-8,9-8,10-8,9-8,9-9,9-8,9-8,9-9,8-8,9-7,9-7,9-6,8-6,9-6,8-6,8-6,9-6,8-6,8-5,9-6,8-5,8-6,8-5,8-6,8-6,8-5,7-5,8-5,8-6,8-5,7-5,8-5,7-6,8-6,7-5,8-6,7-6,8-6 />
<path class=m4 d=M508,676l10-8,9-8,10-7,9-8,9-7,10-8,9-8,9-8,9-8,9-8,9-8,9-8,9-8,9-8,9-8,9-8,8-6,9-6,9-6,8-6,9-6,8-6,8-6,9-6,8-6,8-6,8-5,8-6,8-6,8-6,8-6,8-5,8-6,8-5,7-6,8-5,8-6,7-5,8-6,7-5,8-6,7-6,8-6,7-6 />
<path class=m4 d=M518,684l10-8,9-8,10-8,9-7,9-8,10-7,9-8,9-7,9-8,9-8,9-7,9-8,9-8,9-8,9-8,8-7,9-6,9-6,8-6,9-6,8-6,9-7,8-6,8-6,8-6,9-6,8-6,8-6,8-6,8-7,8-6,8-5,7-6,8-6,8-6,8-5,7-6,8-6,7-6,8-5,7-6,8-6,7-6,8-6 />
<path class=m4 d=M528,691l9-8,10-8,9-8,10-7,9-8,9-7,10-8,9-7,9-8,9-7,9-7,9-8,9-7,9-8,8-7,9-7,9-6,8-7,9-6,8-6,9-7,8-6,8-7,9-6,8-6,8-7,8-6,8-6,8-6,8-6,8-7,8-6,8-6,8-6,8-6,7-6,8-5,7-6,8-6,8-6,7-6,7-6,8-6,7-6 />
</g>
<path d="M23.2 43.9L30.7 92.8L105.8 148.1L178.3 89.8M30.7 92.8h-2M105.8 148.1h2M39.1 99h-2M116 139.9h2M47.8 105.4h-2M125.8 132h2M56.7 111.9h-2M135.3 124.4h2M65.9 118.7h-2M144.5 117h2M75.4 125.7h-2M153.4 109.8h2M85.2 132.9h-2M162 102.9h2M95.3 140.4h-2M170.3 96.3h2M105.8 148.1h-2M178.3 89.8h2M29.1 82.4h-2.2M27.3 70.1h-2.2M25.3 57.3h-2.2M23.2 43.9h-2.2" stroke="#262626" stroke-width=".6" fill="none"/>
<text x="27.4" y="95.9" font-size="7.1" text-anchor="end">360</text>
<text x="109.4" y="151.1" font-size="7.1" text-anchor="start">0</text>
<text x="35.8" y="102.1" font-size="7.1" text-anchor="end">315</text>
<text x="119.6" y="142.9" font-size="7.1" text-anchor="start">45</text>
<text x="44.5" y="108.5" font-size="7.1" text-anchor="end">270</text>
<text x="129.4" y="135" font-size="7.1" text-anchor="start">90</text>
<text x="53.4" y="115" font-size="7.1" text-anchor="end">225</text>
<text x="138.9" y="127.4" font-size="7.1" text-anchor="start">135</text>
<text x="62.6" y="121.8" font-size="7.1" text-anchor="end">180</text>
<text x="148.1" y="120" font-size="7.1" text-anchor="start">180</text>
<text x="72.1" y="128.8" font-size="7.1" text-anchor="end">135</text>
<text x="157" y="112.8" font-size="7.1" text-anchor="start">225</text>
<text x="81.9" y="136" font-size="7.1" text-anchor="end">90</text>
<text x="165.6" y="105.9" font-size="7.1" text-anchor="start">270</text>
<text x="92" y="143.5" font-size="7.1" text-anchor="end">45</text>
<text x="173.9" y="99.3" font-size="7.1" text-anchor="start">315</text>
<text x="102.5" y="151.2" font-size="7.1" text-anchor="end">0</text>
<text x="181.9" y="92.8" font-size="7.1" text-anchor="start">360</text>
<text x="19.8" y="46.3" font-size="7.1" text-anchor="end">150</text>
<text x="21.9" y="59.7" font-size="7.1" text-anchor="end">100</text>
<text x="23.9" y="72.5" font-size="7.1" text-anchor="end">50</text>
<text x="25.7" y="84.8" font-size="7.1" text-anchor="end">0</text>
<text x="9.4" y="84.8" font-size="7.4" text-anchor="middle">Z(nm)</text>
<text x="20.1" y="113" font-size="7.4" text-anchor="middle">X(µm)</text>
<text x="154.5" y="135.9" font-size="7.4" text-anchor="middle">Y(µm)</text>
</g>
<g clip-path="url(#k0)"><g transform="translate(0 448.2)">
<rect x="190.6" y="24.3" width="9.7" height="99" fill="url(#cb)" stroke="#777" stroke-width=".5"/>
<text x="204.8" y="30.2" font-size="6.6" text-anchor="start">47.00</text>
<text x="204.8" y="38.9" font-size="6.6" text-anchor="start">40.00</text>
<text x="204.8" y="47.5" font-size="6.6" text-anchor="start">33.00</text>
<text x="204.8" y="56.2" font-size="6.6" text-anchor="start">26.00</text>
<text x="204.8" y="64.9" font-size="6.6" text-anchor="start">19.00</text>
<text x="204.8" y="73.5" font-size="6.6" text-anchor="start">12.00</text>
<text x="204.8" y="82.2" font-size="6.6" text-anchor="start">5.000</text>
<text x="204.8" y="90.9" font-size="6.6" text-anchor="start">-2.000</text>
<text x="204.8" y="99.5" font-size="6.6" text-anchor="start">-9.000</text>
<text x="204.8" y="108.2" font-size="6.6" text-anchor="start">-16.00</text>
<text x="204.8" y="116.8" font-size="6.6" text-anchor="start">-23.00</text>
<text x="204.8" y="125.5" font-size="6.6" text-anchor="start">-30.00</text>
<path d="M200.3 28h2M200.3 36.7h2M200.3 45.3h2M200.3 54h2M200.3 62.7h2M200.3 71.3h2M200.3 80h2M200.3 88.7h2M200.3 97.3h2M200.3 106h2M200.3 114.6h2M200.3 123.3h2" stroke="#555" stroke-width=".5"/>
</g></g>
<text x="103.5" y="644.8" font-size="15.9" text-anchor="middle" font-weight="bold">(g)</text>
<g transform="translate(232.5 448.2)">
<path d="M40.9 86.5L34.4 37.8M168.1 83.9L172.5 35.4M116 139.9L40.9 86.5M95.3 140.4L168.1 83.9M60.3 74.3L55.6 26.2M148.5 72.6L151.2 24.6M135.3 124.4L60.3 74.3M75.4 125.7L148.5 72.6M78.6 62.8L75.5 15.4M130 61.9L131.1 14.4M153.4 109.8L78.6 62.8M56.7 111.9L130 61.9M95.8 52.1L94.2 5.2M112.5 51.7L112.2 4.9M170.3 96.3L95.8 52.1M39.1 99L112.5 51.7M29 81.4L103.9 35.9M103.9 35.9L179.6 78.3M27.1 69.4L103.6 24.5M103.6 24.5L180.9 66.4M25.2 56.9L103.4 12.6M103.4 12.6L182.3 54" stroke="#e0e0e0" stroke-width=".5" fill="none"/>
<path d="M23.2 43.9L103.1 .3M103.1 .3L183.7 41M104.1 46.9L103.1 .3M178.3 89.8L183.7 41M30.7 92.8L104.1 46.9M104.1 46.9L178.3 89.8" stroke="#959595" stroke-width=".5" fill="none"/>
<g class="s" transform="scale(.2)" style="--o:0.7;--w:2.2">
<path color=#0c8 d=M566,223l-7-5-8-4-8-6-8-4-8-4-7-4-8-4,7-3,8,4,8,4,8,4,7,4,8,5,8,5,8,4z />
<path color=#0db d=M590,238l-8-5-8-5-8-5,8-4,8,6,8,5,8,5z />
<path color=#0dd d=M615,252l-8-4-8-5-9-5,8-3,8,5,8,4,8,5z />
<path color=#0db d=M648,271l-9-6-8-5-8-4-8-4,7-3,8,3,9,5,8,4,8,6z />
<path color=#0dd d=M665,280l-9-4-8-5,7-4,9,5,8,5z />
<path color=#0db d=M699,298l-9-4-9-5-8-5-8-4,7-3,8,3,9,6,8,5,9,3z />
<path color=#0c8 d=M769,338l-9-7-9-4-9-5-9-5-8-5-9-5-9-5-8-4,7-4,9,5,8,5,9,4,9,5,9,5,8,5,9,5,9,6z />
<path color=#0db d=M796,353l-9-4-9-5-9-6,7-4,9,6,9,5,9,4z />
<path color=#0c8 d=M814,363l-9-6-9-4,7-4,10,4,9,6z />
<path color=#0db d=M823,371l-9-8,8-4,9,8z />
<path color=#0dd d=M833,376l-10-5,8-4,9,5z />
<path color=#0db d=M870,396l-9-5-9-6-10-5-9-4,7-4,9,4,10,5,9,6,10,5z />
<path color=#0dd d=M889,408l-9-6-10-6,8-4,9,6,10,6z />
<path color=#0c3 d=M567,231l-8-6-8-4-8-5-8-5-8-4-7-4-8-4-8-4,8-3,8,4,7,4,8,4,8,4,8,6,8,4,7,5,8,5z />
<path color=#0c8 d=M583,241l-8-5-8-5,7-3,8,5,8,5z />
<path color=#0db d=M607,255l-8-4-8-5-8-5,7-3,9,5,8,5,8,4z />
<path color=#0c8 d=M640,274l-8-6-8-5-9-4-8-4,8-3,8,4,8,4,8,5,9,6z />
<path color=#0db d=M657,283l-8-4-9-5,8-3,8,5,9,4z />
<path color=#0c8 d=M691,301l-8-3-9-5-8-6-9-4,8-3,8,4,8,5,9,5,9,4z />
<path color=#0c3 d=M762,342l-9-7-9-5-9-4-9-6-9-5-8-5-9-4-9-5,8-3,8,4,9,5,9,5,8,5,9,5,9,5,9,4,9,7z />
<path color=#0c8 d=M789,356l-9-3-9-6-9-5,7-4,9,6,9,5,9,4z />
<path color=#0c3 d=M807,367l-9-7-9-4,7-3,9,4,9,6z />
<path color=#0c8 d=M816,375l-9-8,7-4,9,8z />
<path color=#0db d=M826,380l-10-5,7-4,10,5z />
<path color=#0c8 d=M873,406l-10-6-9-5-10-6-9-6-9-3,7-4,9,4,10,5,9,6,9,5,10,6z />
<path color=#0db d=M882,412l-9-6,7-4,9,6z />
<path color=#1c1 d=M512,205l-8-4-7-3,7-3,8,4,8,4z />
<path color=#2c0 d=M528,214l-8-5-8-4,8-2,7,4,8,4z />
<path color=#1c1 d=M559,234l-8-6-8-4-8-5-7-5,7-3,8,5,8,5,8,4,8,6z />
<path color=#0c3 d=M592,254l-9-5-8-5-8-5-8-5,8-3,8,5,8,5,8,5,8,5z />
<path color=#0c8 d=M600,258l-8-4,7-3,8,4z />
<path color=#0c3 d=M684,304l-9-3-8-5-9-6-8-4-9-4-8-5-9-6-8-5-8-4-8-4,7-3,8,4,9,4,8,5,8,6,9,5,8,4,9,4,8,6,9,5,8,3z />
<path color=#1c1 d=M754,345l-9-7-9-4-9-5-8-6-9-5-9-4-9-5-8-5,7-3,9,5,9,4,8,5,9,5,9,6,9,4,9,5,9,7z />
<path color=#0c3 d=M781,360l-9-4-9-5-9-6,8-3,9,5,9,6,9,3z />
<path color=#1c1 d=M800,370l-9-6-10-4,8-4,9,4,9,7z />
<path color=#0c3 d=M809,378l-9-8,7-3,9,8z />
<path color=#0c8 d=M818,383l-9-5,7-3,10,5z />
<path color=#0c3 d=M866,410l-10-6-10-5-9-6-9-6-10-4,8-3,9,3,9,6,10,6,9,5,10,6z />
<path color=#0c8 d=M875,416l-9-6,7-4,9,6z />
<path color=#2c0 d=M497,203l-8-3,8-2,7,3z />
<path color=#4c0 d=M528,221l-8-5-8-5-8-4-7-4,7-2,8,4,8,4,8,5,7,5z />
<path color=#2c0 d=M560,241l-8-5-8-6-8-4-8-5,7-2,8,5,8,4,8,6,8,5z />
<path color=#1c1 d=M600,264l-8-3-8-5-8-5-8-5-8-5,7-2,8,5,8,5,9,5,8,4,8,4z />
<path color=#2c0 d=M625,279l-8-6-8-5-9-4,8-2,8,4,8,5,9,6z />
<path color=#1c1 d=M650,293l-8-4-8-5-9-5,8-2,8,5,9,4,8,4z />
<path color=#2c0 d=M659,298l-9-5,8-3,9,6z />
<path color=#1c1 d=M668,303l-9-5,8-2,8,5z />
<path color=#2c0 d=M694,316l-9-5-9-4-8-4,7-2,9,3,8,5,9,5z />
<path color=#4c0 d=M720,332l-9-6-9-5-8-5,7-2,9,4,9,5,8,6z />
<path color=#2c0 d=M729,336l-9-4,7-3,9,5z />
<path color=#4c0 d=M738,341l-9-5,7-2,9,4z />
<path color=#2c0 d=M756,354l-9-6-9-7,7-3,9,7,9,6z />
<path color=#1c1 d=M765,359l-9-5,7-3,9,5z />
<path color=#2c0 d=M774,363l-9-4,7-3,9,4z />
<path color=#4c0 d=M792,373l-9-7-9-3,7-3,10,4,9,6z />
<path color=#1c1 d=M820,390l-9-4-9-5-10-8,8-3,9,8,9,5,10,4z />
<path color=#2c0 d=M830,396l-10-6,8-3,9,6z />
<path color=#1c1 d=M868,419l-10-6-9-6-10-5-9-6,7-3,9,6,10,5,10,6,9,6z />
<path color=#6c0 d=M489,205l-8-4,8-1,8,3z />
<path color=#7c0 d=M520,223l-8-6-8-4-8-4-7-4,8-2,7,4,8,4,8,5,8,5z />
<path color=#6c0 d=M552,243l-8-6-8-5-8-5-8-4,8-2,8,5,8,4,8,6,8,5z />
<path color=#4c0 d=M593,266l-9-4-8-5-8-4-8-5-8-5,8-2,8,5,8,5,8,5,8,5,8,3z />
<path color=#6c0 d=M609,275l-8-5-8-4,7-2,9,4,8,5z />
<path color=#4c0 d=M660,305l-9-5-8-5-9-4-8-5-8-5-9-6,8-2,8,6,9,5,8,5,8,4,9,5,9,5z />
<path color=#6c0 d=M695,323l-9-5-9-5-8-4-9-4,8-2,8,4,9,4,9,5,8,5z />
<path color=#7c0 d=M704,328l-9-5,7-2,9,5z />
<path color=#6c0 d=M721,338l-8-4-9-6,7-2,9,6,9,4z />
<path color=#7c0 d=M730,343l-9-5,8-2,9,5z />
<path color=#6c0 d=M739,350l-9-7,8-2,9,7z />
<path color=#4c0 d=M757,361l-9-5-9-6,8-2,9,6,9,5z />
<path color=#6c0 d=M767,365l-10-4,8-2,9,4z />
<path color=#7c0 d=M776,369l-9-4,7-2,9,3z />
<path color=#6c0 d=M785,375l-9-6,7-3,9,7z />
<path color=#4c0 d=M813,392l-9-4-10-5-9-8,7-2,10,8,9,5,9,4z />
<path color=#6c0 d=M823,398l-10-6,7-2,10,6z />
<path color=#4c0 d=M861,422l-10-7-9-6-10-5-9-6,7-2,9,6,10,5,9,6,10,6z />
<path color=#9d0 d=M481,206l-8-3,8-2,8,4z />
<path color=#ad0 d=M512,224l-8-5-8-5-7-4-8-4,8-1,7,4,8,4,8,4,8,6z />
<path color=#9d0 d=M544,244l-8-5-8-6-8-4-8-5,8-1,8,4,8,5,8,5,8,6z />
<path color=#7c0 d=M585,267l-8-3-9-5-8-5-8-5-8-5,8-1,8,5,8,5,8,4,8,5,9,4z />
<path color=#9d0 d=M601,277l-8-5-8-5,8-1,8,4,8,5z />
<path color=#7c0 d=M652,307l-8-5-9-6-8-4-9-4-8-6-9-5,8-2,9,6,8,5,8,5,9,4,8,5,9,5z />
<path color=#9d0 d=M678,320l-8-5-9-4-9-4,8-2,9,4,8,4,9,5z />
<path color=#ad0 d=M696,330l-9-5-9-5,8-2,9,5,9,5z />
<path color=#9d0 d=M714,340l-9-5-9-5,8-2,9,6,8,4z />
<path color=#ad0 d=M723,345l-9-5,7-2,9,5z />
<path color=#9d0 d=M741,358l-9-6-9-7,7-2,9,7,9,6z />
<path color=#7c0 d=M750,363l-9-5,7-2,9,5z />
<path color=#9d0 d=M759,367l-9-4,7-2,10,4z />
<path color=#ad0 d=M778,378l-9-7-10-4,8-2,9,4,9,6z />
<path color=#7c0 d=M806,395l-10-4-9-6-9-7,7-3,9,8,10,5,9,4z />
<path color=#9d0 d=M815,400l-9-5,7-3,10,6z />
<path color=#7c0 d=M853,424l-9-6-10-6-9-6-10-6,8-2,9,6,10,5,9,6,10,7z />
<path color=#bd0 d=M473,207l-8-3,8-1,8,3z />
<path color=#cd0 d=M520,235l-8-5-8-4-8-6-8-5-7-4-8-4,8-1,8,4,7,4,8,5,8,5,8,5,8,4z />
<path color=#bd0 d=M536,246l-8-6-8-5,8-2,8,6,8,5z />
<path color=#ad0 d=M577,269l-8-4-8-4-9-5-8-5-8-5,8-2,8,5,8,5,8,5,9,5,8,3z />
<path color=#bd0 d=M602,284l-8-6-9-5-8-4,8-2,8,5,8,5,9,5z />
<path color=#ad0 d=M619,294l-8-5-9-5,8-2,8,6,9,4z />
<path color=#bd0 d=M636,304l-8-6-9-4,8-2,8,4,9,6z />
<path color=#ad0 d=M645,309l-9-5,8-2,8,5z />
<path color=#bd0 d=M671,322l-9-5-9-5-8-3,7-2,9,4,9,4,8,5z />
<path color=#cd0 d=M697,337l-8-5-9-6-9-4,7-2,9,5,9,5,9,5z />
<path color=#bd0 d=M706,342l-9-5,8-2,9,5z />
<path color=#cd0 d=M715,347l-9-5,8-2,9,5z />
<path color=#bd0 d=M733,360l-9-6-9-7,8-2,9,7,9,6z />
<path color=#ad0 d=M742,365l-9-5,8-2,9,5z />
<path color=#bd0 d=M752,369l-10-4,8-2,9,4z />
<path color=#cd0 d=M770,380l-9-7-9-4,7-2,10,4,9,7z />
<path color=#bd0 d=M779,388l-9-8,8-2,9,7z />
<path color=#ad0 d=M798,397l-9-4-10-5,8-3,9,6,10,4z />
<path color=#bd0 d=M808,402l-10-5,8-2,9,5z />
<path color=#ad0 d=M846,426l-9-6-10-6-10-5-9-7,7-2,10,6,9,6,10,6,9,6z />
<path color=#dd0 d=M465,209l-8-4,8-1,8,3z />
<path color=#ed0 d=M512,236l-8-4-8-5-8-5-8-5-7-4-8-4,8-2,8,4,7,4,8,5,8,6,8,4,8,5z />
<path color=#dd0 d=M528,247l-8-5-8-6,8-1,8,5,8,6z />
<path color=#cd0 d=M569,271l-8-4-8-5-8-4-9-5-8-6,8-1,8,5,8,5,9,5,8,4,8,4z />
<path color=#dd0 d=M594,286l-8-6-8-5-9-4,8-2,8,4,9,5,8,6z />
<path color=#cd0 d=M611,296l-8-5-9-5,8-2,9,5,8,5z />
<path color=#dd0 d=M628,305l-8-5-9-4,8-2,9,4,8,6z />
<path color=#cd0 d=M637,311l-9-6,8-1,9,5z />
<path color=#dd0 d=M654,319l-8-5-9-3,8-2,8,3,9,5z />
<path color=#ed0 d=M717,356l-9-7-9-5-9-5-9-5-9-6-9-4-9-5,8-2,9,5,9,4,9,6,8,5,9,5,9,5,9,7z />
<path color=#dd0 d=M726,362l-9-6,7-2,9,6z />
<path color=#cd0 d=M735,367l-9-5,7-2,9,5z />
<path color=#dd0 d=M744,371l-9-4,7-2,10,4z />
<path color=#ed0 d=M763,382l-9-7-10-4,8-2,9,4,9,7z />
<path color=#dd0 d=M772,390l-9-8,7-2,9,8z />
<path color=#cd0 d=M791,399l-10-4-9-5,7-2,10,5,9,4z />
<path color=#dd0 d=M810,411l-10-6-9-6,7-2,10,5,9,7z />
<path color=#cd0 d=M839,429l-10-6-9-7-10-5,7-2,10,5,10,6,9,6z />
<path color=#ec0 d=M465,216l-8-4-8-4,8-3,8,4,8,4z />
<path color=#eb0 d=M480,225l-7-5-8-4,8-3,7,4,8,5z />
<path color=#ec0 d=M512,245l-8-6-8-4-8-5-8-5,8-3,8,5,8,5,8,4,8,6z />
<path color=#ed0 d=M561,274l-8-4-8-4-8-5-9-5-8-6-8-5,8-3,8,5,8,6,9,5,8,4,8,5,8,4z />
<path color=#ec0 d=M578,283l-8-5-9-4,8-3,9,4,8,5z />
<path color=#ed0 d=M638,318l-9-4-9-5-8-6-9-4-8-4-9-6-8-6,8-3,8,6,9,5,8,5,9,4,8,5,9,6,9,3z />
<path color=#ec0 d=M709,360l-9-7-9-5-9-5-9-6-9-5-9-4-8-6-9-4,8-4,8,5,9,5,9,4,9,6,9,5,9,5,9,5,9,7z />
<path color=#ed0 d=M727,371l-9-5-9-6,8-4,9,6,9,5z />
<path color=#ec0 d=M755,386l-9-7-10-4-9-4,8-4,9,4,10,4,9,7z />
<path color=#ed0 d=M831,433l-9-6-10-6-10-6-9-6-10-6-9-4-10-5-9-8,8-4,9,8,9,5,10,4,9,6,10,6,10,5,9,7,10,6z />
<path color=#ec0 d=M449,218l-8-4,8-6,8,4z />
<path color=#eb0 d=M480,236l-8-5-7-5-8-4-8-4,8-6,8,4,8,4,7,5,8,5z />
<path color=#ec0 d=M512,257l-8-6-8-5-8-5-8-5,8-6,8,5,8,4,8,6,8,5z />
<path color=#ed0 d=M553,281l-8-4-8-5-8-5-8-5-9-5,8-7,8,6,9,5,8,5,8,4,8,4z />
<path color=#ec0 d=M570,290l-8-5-9-4,8-7,9,4,8,5z />
<path color=#ed0 d=M621,321l-8-5-9-6-9-4-8-5-9-5-8-6,8-7,8,6,9,6,8,4,9,4,8,6,9,5z />
<path color=#ec0 d=M656,339l-9-5-8-5-9-4-9-4,8-7,9,4,9,4,8,6,9,4z />
<path color=#eb0 d=M665,344l-9-5,8-7,9,5z />
<path color=#ec0 d=M683,355l-9-5-9-6,8-7,9,6,9,5z />
<path color=#eb0 d=M692,360l-9-5,8-7,9,5z />
<path color=#ec0 d=M701,367l-9-7,8-7,9,7z />
<path color=#ed0 d=M719,378l-9-5-9-6,8-7,9,6,9,5z />
<path color=#ec0 d=M729,382l-10-4,8-7,9,4z />
<path color=#eb0 d=M747,393l-9-7-9-4,7-7,10,4,9,7z />
<path color=#ed0 d=M775,410l-9-4-10-5-9-8,8-7,9,8,10,5,9,4z />
<path color=#ec0 d=M785,416l-10-6,8-7,10,6z />
<path color=#ed0 d=M823,441l-9-7-10-6-10-5-9-7,8-7,9,6,10,6,10,6,9,6z />
<path color=#ed0 d=M441,225l-8-4,8-7,8,4z />
<path color=#ec0 d=M472,243l-7-5-8-5-8-4-8-4,8-7,8,4,8,4,7,5,8,5z />
<path color=#ed0 d=M505,264l-9-6-8-5-8-5-8-5,8-7,8,5,8,5,8,5,8,6z />
<path color=#dd0 d=M545,288l-8-4-8-5-8-5-8-5-8-5,7-7,9,5,8,5,8,5,8,5,8,4z />
<path color=#ed0 d=M562,297l-8-5-9-4,8-7,9,4,8,5z />
<path color=#dd0 d=M613,328l-8-5-9-6-9-4-8-4-8-6-9-6,8-7,8,6,9,5,8,5,9,4,9,6,8,5z />
<path color=#ed0 d=M648,346l-9-4-8-5-9-5-9-4,8-7,9,4,9,4,8,5,9,5z />
<path color=#ec0 d=M657,352l-9-6,8-7,9,5z />
<path color=#ed0 d=M675,363l-9-5-9-6,8-8,9,6,9,5z />
<path color=#ec0 d=M684,367l-9-4,8-8,9,5z />
<path color=#ed0 d=M693,374l-9-7,8-7,9,7z />
<path color=#dd0 d=M711,386l-9-5-9-7,8-7,9,6,9,5z />
<path color=#ed0 d=M721,390l-10-4,8-8,10,4z />
<path color=#ec0 d=M739,401l-9-7-9-4,8-8,9,4,9,7z />
<path color=#dd0 d=M767,418l-9-4-10-5-9-8,8-8,9,8,10,5,9,4z />
<path color=#ed0 d=M777,424l-10-6,8-8,10,6z />
<path color=#dd0 d=M815,449l-9-7-10-6-10-5-9-7,8-8,9,7,10,5,10,6,9,7z />
<path color=#dd0 d=M441,236l-8-4-8-4,8-7,8,4,8,4z />
<path color=#ed0 d=M457,245l-8-5-8-4,8-7,8,4,8,5z />
<path color=#dd0 d=M488,265l-8-5-8-5-7-5-8-5,8-7,7,5,8,5,8,5,8,5z />
<path color=#cd0 d=M546,299l-9-4-8-4-8-5-8-5-8-5-8-5-9-6,8-7,9,6,8,5,8,5,8,5,8,5,8,4,9,4z />
<path color=#dd0 d=M554,305l-8-6,8-7,8,5z />
<path color=#cd0 d=M614,340l-9-4-8-6-9-5-9-4-8-5-8-6-9-5,8-8,9,6,8,6,8,4,9,4,9,6,8,5,9,4z />
<path color=#dd0 d=M685,382l-9-7-9-5-9-5-9-6-9-5-9-5-8-5-9-4,8-8,9,5,8,5,9,4,9,6,9,6,9,5,9,4,9,7z />
<path color=#cd0 d=M712,398l-9-4-9-6-9-6,8-8,9,7,9,5,10,4z />
<path color=#dd0 d=M731,409l-9-7-10-4,9-8,9,4,9,7z />
<path color=#cd0 d=M740,417l-9-8,8-8,9,8z />
<path color=#bd0 d=M750,422l-10-5,8-8,10,5z />
<path color=#cd0 d=M798,450l-10-6-10-5-9-7-10-6-9-4,8-8,9,4,10,6,9,7,10,5,10,6z />
<path color=#bd0 d=M807,457l-9-7,8-8,9,7z />
<path color=#cd0 d=M480,272l-8-5-8-5-7-5-8-5-8-5-8-4-8-4-7-4,7-7,8,4,8,4,8,4,8,5,8,5,7,5,8,5,8,5z />
<path color=#bd0 d=M497,283l-8-5-9-6,8-7,9,6,8,5z />
<path color=#ad0 d=M521,298l-8-5-8-4-8-6,8-7,8,5,8,5,8,5z />
<path color=#bd0 d=M606,347l-9-4-8-5-9-6-9-4-8-5-8-5-9-6-8-5-9-5-8-4,8-7,8,4,9,4,8,6,9,5,8,6,8,5,9,4,9,5,8,6,9,4z />
<path color=#cd0 d=M677,390l-9-7-9-5-9-5-9-6-9-5-9-5-8-5-9-5,8-7,9,4,8,5,9,5,9,5,9,6,9,5,9,5,9,7z />
<path color=#bd0 d=M704,406l-9-4-9-6-9-6,8-8,9,6,9,6,9,4z />
<path color=#cd0 d=M723,417l-9-7-10-4,8-8,10,4,9,7z />
<path color=#bd0 d=M732,425l-9-8,8-8,9,8z />
<path color=#ad0 d=M742,430l-10-5,8-8,10,5z />
<path color=#bd0 d=M789,459l-9-7-10-5-9-7-10-5-9-5,8-8,9,4,10,6,9,7,10,5,10,6z />
<path color=#ad0 d=M799,465l-10-6,9-9,9,7z />
<path color=#ad0 d=M417,245l-7-3,8-7,7,4z />
<path color=#bd0 d=M464,274l-8-5-7-5-8-5-8-5-8-4-8-5,8-6,8,4,8,4,8,5,8,5,7,5,8,5z />
<path color=#ad0 d=M489,291l-8-6-9-5-8-6,8-7,8,5,9,6,8,5z />
<path color=#9d0 d=M521,310l-8-4-8-5-8-5-8-5,8-8,8,6,8,4,8,5,8,4z />
<path color=#ad0 d=M546,325l-8-6-8-5-9-4,8-8,9,5,8,5,9,6z />
<path color=#9d0 d=M563,335l-8-4-9-6,9-7,8,5,8,5z />
<path color=#ad0 d=M606,359l-8-4-9-4-9-6-8-5-9-5,8-7,9,4,9,6,8,5,9,4,9,5z />
<path color=#bd0 d=M669,398l-9-7-9-5-9-5-9-6-9-6-9-4-9-6,9-7,8,5,9,5,9,5,9,6,9,5,9,5,9,7z />
<path color=#ad0 d=M696,414l-9-4-9-6-9-6,8-8,9,6,9,6,9,4z />
<path color=#bd0 d=M715,425l-9-7-10-4,8-8,10,4,9,7z />
<path color=#ad0 d=M724,433l-9-8,8-8,9,8z />
<path color=#9d0 d=M734,438l-10-5,8-8,10,5z />
<path color=#ad0 d=M772,460l-10-5-9-7-10-5-9-5,8-8,9,5,10,5,9,7,10,5z />
<path color=#9d0 d=M791,473l-10-6-9-7,8-8,9,7,10,6z />
<path color=#9d0 d=M409,252l-7-3,8-7,7,3z />
<path color=#ad0 d=M440,271l-7-5-8-5-8-4-8-5,8-7,8,5,8,4,8,5,8,5z />
<path color=#9d0 d=M472,292l-8-5-8-6-8-5-8-5,9-7,7,5,8,5,8,6,9,5z />
<path color=#7c0 d=M513,317l-8-4-8-5-8-5-8-5-9-6,9-7,8,6,8,5,8,5,8,5,8,4z />
<path color=#9d0 d=M538,333l-8-6-8-6-9-4,8-7,9,4,8,5,8,6z />
<path color=#7c0 d=M564,347l-9-4-8-5-9-5,8-8,9,6,8,4,9,5z />
<path color=#9d0 d=M572,353l-8-6,8-7,8,5z />
<path color=#7c0 d=M581,358l-9-5,8-8,9,6z />
<path color=#9d0 d=M607,372l-9-5-8-5-9-4,8-7,9,4,8,4,9,6z />
<path color=#ad0 d=M634,388l-9-6-9-5-9-5,8-7,9,4,9,6,9,6z />
<path color=#9d0 d=M643,394l-9-6,8-7,9,5z />
<path color=#ad0 d=M652,399l-9-5,8-8,9,5z />
<path color=#9d0 d=M670,412l-9-6-9-7,8-8,9,7,9,6z />
<path color=#7c0 d=M679,418l-9-6,8-8,9,6z />
<path color=#9d0 d=M688,421l-9-3,8-8,9,4z />
<path color=#ad0 d=M707,433l-10-7-9-5,8-7,10,4,9,7z />
<path color=#7c0 d=M735,451l-10-5-9-5-9-8,8-8,9,8,10,5,9,5z />
<path color=#9d0 d=M744,457l-9-6,8-8,10,5z />
<path color=#7c0 d=M783,482l-10-7-9-6-10-6-10-6,9-9,9,7,10,5,9,7,10,6z />
<path color=#7c0 d=M401,259l-8-4,9-6,7,3z />
<path color=#9d0 d=M432,278l-8-6-7-5-8-4-8-4,8-7,8,5,8,4,8,5,7,5z />
<path color=#7c0 d=M464,299l-8-6-8-5-8-5-8-5,8-7,8,5,8,5,8,6,8,5z />
<path color=#6c0 d=M505,324l-8-4-8-5-8-5-9-5-8-6,8-7,9,6,8,5,8,5,8,5,8,4z />
<path color=#7c0 d=M522,334l-9-6-8-4,8-7,9,4,8,6z />
<path color=#6c0 d=M573,365l-9-5-8-6-9-4-8-5-9-5-8-6,8-7,8,6,9,5,8,5,9,4,8,6,9,5z />
<path color=#7c0 d=M599,380l-9-6-9-4-8-5,8-7,9,4,8,5,9,5z />
<path color=#9d0 d=M617,390l-9-6-9-4,8-8,9,5,9,5z />
<path color=#7c0 d=M634,401l-8-5-9-6,8-8,9,6,9,6z />
<path color=#9d0 d=M643,406l-9-5,9-7,9,5z />
<path color=#7c0 d=M662,419l-10-6-9-7,9-7,9,7,9,6z />
<path color=#6c0 d=M671,425l-9-6,8-7,9,6z />
<path color=#7c0 d=M680,429l-9-4,8-7,9,3z />
<path color=#9d0 d=M699,441l-10-8-9-4,8-8,9,5,10,7z />
<path color=#6c0 d=M727,459l-10-5-9-5-9-8,8-8,9,8,9,5,10,5z />
<path color=#7c0 d=M736,464l-9-5,8-8,9,6z />
<path color=#6c0 d=M775,490l-10-7-10-6-9-6-10-7,8-7,10,6,10,6,9,6,10,7z />
<path color=#7c0 d=M401,268l-8-5-8-3,8-5,8,4,8,4z />
<path color=#9d0 d=M416,277l-8-5-7-4,8-5,8,4,7,5z />
<path color=#7c0 d=M448,298l-8-6-8-4-8-5-8-6,8-5,8,6,8,5,8,5,8,5z />
<path color=#6c0 d=M573,375l-8-4-9-6-9-6-8-4-9-5-8-6-8-6-9-5-8-4-8-4-8-5-9-5-8-6-8-5-8-6,8-5,8,6,8,6,9,5,8,5,8,5,8,4,8,4,9,6,8,6,9,5,8,5,9,4,8,6,9,5,8,5z />
<path color=#7c0 d=M644,418l-9-7-9-5-9-5-9-6-8-6-9-4-9-6-9-4,8-5,9,4,9,6,9,4,9,6,9,6,8,5,9,5,9,7z />
<path color=#6c0 d=M672,434l-9-3-10-6-9-7,8-5,10,6,9,6,9,4z />
<path color=#7c0 d=M690,446l-9-7-9-5,8-5,9,4,10,8z />
<path color=#6c0 d=M700,454l-10-8,9-5,9,8z />
<path color=#4c0 d=M709,460l-9-6,8-5,9,5z />
<path color=#6c0 d=M757,489l-10-7-9-5-10-7-9-6-10-4,8-6,10,5,9,5,10,7,9,6,10,6z />
<path color=#4c0 d=M767,495l-10-6,8-6,10,7z />
<path color=#9d0 d=M440,301l-8-5-8-5-8-5-8-6-8-5-8-4-8-4-7-4,8-3,8,3,8,5,7,4,8,5,8,6,8,5,8,4,8,6z />
<path color=#7c0 d=M456,313l-8-6-8-6,8-3,8,6,8,5z />
<path color=#6c0 d=M480,328l-8-5-8-5-8-5,8-4,8,6,9,5,8,5z />
<path color=#7c0 d=M514,348l-9-6-8-5-8-5-9-4,9-3,8,4,8,4,9,5,8,6z />
<path color=#6c0 d=M531,359l-9-5-8-6,8-4,8,6,9,5z />
<path color=#7c0 d=M565,378l-9-4-8-5-9-6-8-4,8-4,8,4,9,6,9,6,8,4z />
<path color=#9d0 d=M636,422l-9-7-9-5-9-5-9-6-9-6-8-5-9-5-9-5,8-3,9,4,9,6,9,4,8,6,9,6,9,5,9,5,9,7z />
<path color=#7c0 d=M664,439l-10-4-9-6-9-7,8-4,9,7,10,6,9,3z />
<path color=#9d0 d=M682,450l-9-7-9-4,8-5,9,5,9,7z />
<path color=#7c0 d=M692,458l-10-8,8-4,10,8z />
<path color=#6c0 d=M701,464l-9-6,8-4,9,6z />
<path color=#7c0 d=M749,493l-10-6-9-6-10-7-9-6-10-4,8-4,10,4,9,6,10,7,9,5,10,7z />
<path color=#6c0 d=M759,500l-10-7,8-4,10,6z />
<path color=#ad0 d=M384,274l-8-4-8-4,9-3,7,4,8,4z />
<path color=#bd0 d=M399,283l-8-5-7-4,8-3,8,4,8,5z />
<path color=#ad0 d=M431,305l-8-6-8-5-8-5-8-6,9-3,8,6,8,5,8,5,8,5z />
<path color=#9d0 d=M557,382l-9-4-9-6-8-5-9-5-8-5-9-5-8-7-8-5-9-5-8-4-8-5-8-5-9-5-8-6-8-5,9-4,8,6,8,6,8,5,8,5,8,5,9,4,8,5,8,5,9,6,8,6,9,5,8,4,9,6,8,5,9,4z />
<path color=#ad0 d=M628,426l-9-7-9-5-9-5-9-6-9-6-9-5-9-5-8-5,8-4,9,5,9,5,8,5,9,6,9,6,9,5,9,5,9,7z />
<path color=#9d0 d=M655,443l-9-4-9-6-9-7,8-4,9,7,9,6,10,4z />
<path color=#ad0 d=M674,454l-9-7-10-4,9-4,9,4,9,7z />
<path color=#9d0 d=M683,462l-9-8,8-4,10,8z />
<path color=#7c0 d=M693,468l-10-6,9-4,9,6z />
<path color=#9d0 d=M741,498l-10-7-10-6-9-7-10-6-9-4,8-4,10,4,9,6,10,7,9,6,10,6z />
<path color=#7c0 d=M751,504l-10-6,8-5,10,7z />
<path color=#bd0 d=M375,277l-8-4-7-4,8-3,8,4,8,4z />
<path color=#cd0 d=M399,292l-8-6-8-5-8-4,9-3,7,4,8,5,8,6z />
<path color=#bd0 d=M423,308l-8-6-8-5-8-5,8-3,8,5,8,5,8,6z />
<path color=#ad0 d=M472,339l-8-4-9-5-8-5-8-6-8-5-8-6,8-3,8,5,8,6,9,5,8,5,8,5,8,4z />
<path color=#bd0 d=M488,349l-8-5-8-5,8-4,9,5,8,5z />
<path color=#ad0 d=M548,386l-8-4-9-6-9-6-8-4-9-5-8-6-9-6,9-4,8,7,9,5,8,5,9,5,8,5,9,6,9,4z />
<path color=#bd0 d=M575,401l-9-5-9-6-9-4,9-4,8,5,9,5,9,5z />
<path color=#cd0 d=M584,406l-9-5,8-4,9,6z />
<path color=#bd0 d=M620,430l-9-7-10-5-8-5-9-7,8-3,9,6,9,5,9,5,9,7z />
<path color=#ad0 d=M638,443l-9-6-9-7,8-4,9,7,9,6z />
<path color=#bd0 d=M666,458l-9-7-10-4-9-4,8-4,9,4,10,4,9,7z />
<path color=#ad0 d=M742,509l-9-7-10-7-10-5-9-7-10-6-9-5-10-5-9-9,8-4,9,8,10,6,9,4,10,6,9,7,10,6,10,7,10,6z />
<path color=#cd0 d=M359,276l-8-4,9-3,7,4z />
<path color=#dd0 d=M390,295l-8-5-8-5-7-5-8-4,8-3,8,4,8,4,8,5,8,6z />
<path color=#cd0 d=M422,317l-8-6-8-6-8-5-8-5,9-3,8,5,8,5,8,6,8,6z />
<path color=#bd0 d=M463,342l-8-4-8-5-8-5-9-5-8-6,9-3,8,5,8,6,8,5,9,5,8,4z />
<path color=#cd0 d=M488,359l-8-7-8-5-9-5,9-3,8,5,8,5,9,6z />
<path color=#bd0 d=M514,374l-9-5-8-5-9-5,9-4,8,6,9,5,8,4z />
<path color=#cd0 d=M523,380l-9-6,8-4,9,6z />
<path color=#bd0 d=M531,385l-8-5,8-4,9,6z />
<path color=#cd0 d=M557,400l-8-6-9-5-9-4,9-3,8,4,9,4,9,6z />
<path color=#dd0 d=M584,416l-9-6-9-5-9-5,9-4,9,5,9,5,9,7z />
<path color=#cd0 d=M593,422l-9-6,9-3,8,5z />
<path color=#dd0 d=M602,427l-9-5,8-4,10,5z />
<path color=#cd0 d=M620,441l-9-7-9-7,9-4,9,7,9,7z />
<path color=#bd0 d=M630,447l-10-6,9-4,9,6z />
<path color=#cd0 d=M639,451l-9-4,8-4,9,4z />
<path color=#dd0 d=M658,462l-10-7-9-4,8-4,10,4,9,7z />
<path color=#bd0 d=M686,481l-10-5-9-5-9-9,8-4,9,9,10,5,9,5z />
<path color=#cd0 d=M695,487l-9-6,8-4,10,6z />
<path color=#bd0 d=M734,513l-10-7-9-6-10-6-10-7,9-4,9,7,10,5,10,7,9,7z />
<path color=#dd0 d=M350,280l-7-4,8-4,8,4z />
<path color=#ed0 d=M382,300l-8-6-8-5-8-5-8-4,9-4,8,4,7,5,8,5,8,5z />
<path color=#dd0 d=M414,321l-8-5-8-6-8-5-8-5,8-5,8,5,8,5,8,6,8,6z />
<path color=#cd0 d=M455,347l-8-4-9-6-8-5-8-5-8-6,8-4,8,6,9,5,8,5,8,5,8,4z />
<path color=#dd0 d=M471,357l-8-6-8-4,8-5,9,5,8,5z />
<path color=#cd0 d=M523,390l-9-6-9-6-8-4-9-5-8-6-9-6,9-5,8,7,9,5,8,5,9,5,9,6,8,5z />
<path color=#dd0 d=M549,404l-9-5-9-5-8-4,8-5,9,4,9,5,8,6z />
<path color=#ed0 d=M567,415l-9-6-9-5,8-4,9,5,9,5z />
<path color=#dd0 d=M585,427l-9-6-9-6,8-5,9,6,9,6z />
<path color=#ed0 d=M594,432l-9-5,8-5,9,5z />
<path color=#dd0 d=M612,446l-9-7-9-7,8-5,9,7,9,7z />
<path color=#cd0 d=M621,452l-9-6,8-5,10,6z />
<path color=#dd0 d=M630,456l-9-4,9-5,9,4z />
<path color=#ed0 d=M649,468l-9-8-10-4,9-5,9,4,10,7z />
<path color=#cd0 d=M678,486l-10-4-10-6-9-8,9-6,9,9,9,5,10,5z />
<path color=#dd0 d=M687,492l-9-6,8-5,9,6z />
<path color=#cd0 d=M726,518l-10-6-10-7-9-6-10-7,8-5,10,7,10,6,9,6,10,7z />
<path color=#dd0 d=M342,286l-8-4,9-6,7,4z />
<path color=#ed0 d=M373,306l-8-6-8-5-7-4-8-5,8-6,8,4,8,5,8,5,8,6z />
<path color=#dd0 d=M405,328l-8-6-8-6-8-5-8-5,9-6,8,5,8,5,8,6,8,5z />
<path color=#cd0 d=M446,354l-8-4-8-6-8-5-9-5-8-6,9-7,8,6,8,5,8,5,9,6,8,4z />
<path color=#dd0 d=M463,364l-8-6-9-4,9-7,8,4,8,6z />
<path color=#cd0 d=M514,397l-8-6-9-6-9-4-8-5-9-6-8-6,8-7,9,6,8,6,9,5,8,4,9,6,9,6z />
<path color=#dd0 d=M549,417l-9-5-8-6-9-5-9-4,9-7,8,4,9,5,9,5,9,5z />
<path color=#ed0 d=M558,422l-9-5,9-8,9,6z />
<path color=#dd0 d=M576,434l-9-5-9-7,9-7,9,6,9,6z />
<path color=#ed0 d=M585,439l-9-5,9-7,9,5z />
<path color=#dd0 d=M594,447l-9-8,9-7,9,7z />
<path color=#cd0 d=M613,459l-10-6-9-6,9-8,9,7,9,6z />
<path color=#dd0 d=M622,463l-9-4,8-7,9,4z />
<path color=#ed0 d=M641,475l-10-7-9-5,8-7,10,4,9,8z />
<path color=#cd0 d=M669,494l-10-5-9-5-9-9,8-7,9,8,10,6,10,4z />
<path color=#dd0 d=M679,500l-10-6,9-8,9,6z />
<path color=#cd0 d=M717,526l-9-6-10-7-10-6-9-7,8-8,10,7,9,6,10,7,10,6z />
<path color=#cd0 d=M341,298l-8-4-7-4,8-8,8,4,8,5z />
<path color=#dd0 d=M365,314l-8-6-8-5-8-5,9-7,7,4,8,5,8,6z />
<path color=#cd0 d=M389,330l-8-6-8-5-8-5,8-8,8,5,8,5,8,6z />
<path color=#bd0 d=M438,362l-8-5-9-5-8-5-8-5-8-6-8-6,8-8,8,6,8,6,9,5,8,5,8,6,8,4z />
<path color=#cd0 d=M454,372l-8-6-8-4,8-8,9,4,8,6z />
<path color=#bd0 d=M514,409l-8-4-9-5-9-6-8-5-9-5-8-6-9-6,9-8,8,6,9,6,8,5,9,4,9,6,8,6,9,4z />
<path color=#cd0 d=M541,425l-9-5-9-6-9-5,9-8,9,5,8,6,9,5z />
<path color=#dd0 d=M550,431l-9-6,8-8,9,5z />
<path color=#cd0 d=M586,455l-9-7-9-6-9-5-9-6,8-9,9,7,9,5,9,5,9,8z />
<path color=#bd0 d=M604,468l-9-6-9-7,8-8,9,6,10,6z />
<path color=#cd0 d=M632,484l-9-8-10-4-9-4,9-9,9,4,9,5,10,7z />
<path color=#bd0 d=M709,535l-10-7-10-6-9-6-10-7-10-6-9-5-10-6-9-8,9-9,9,9,9,5,10,5,10,6,9,7,10,6,10,7,9,6z />
<path color=#bd0 d=M380,338l-8-6-8-5-8-6-8-5-7-6-8-4-8-5-8-4,9-7,7,4,8,4,8,5,8,5,8,6,8,5,8,5,8,6z />
<path color=#ad0 d=M397,349l-9-5-8-6,9-8,8,6,8,6z />
<path color=#9d0 d=M421,365l-8-5-8-5-8-6,8-7,8,5,8,5,9,5z />
<path color=#ad0 d=M463,392l-9-6-8-6-8-6-9-5-8-4,9-8,8,5,8,4,8,6,9,6,8,6z />
<path color=#9d0 d=M471,397l-8-5,8-8,9,5z />
<path color=#ad0 d=M506,418l-9-5-8-5-9-6-9-5,9-8,8,5,9,6,9,5,8,4z />
<path color=#bd0 d=M577,464l-9-8-9-5-9-6-9-6-9-6-9-5-8-5-9-5,8-9,9,5,9,6,9,5,9,6,9,6,9,5,9,6,9,7z />
<path color=#ad0 d=M605,480l-9-4-10-6-9-6,9-9,9,7,9,6,9,4z />
<path color=#bd0 d=M623,493l-9-8-9-5,8-8,10,4,9,8z />
<path color=#ad0 d=M633,501l-10-8,9-9,9,8z />
<path color=#9d0 d=M642,507l-9-6,8-9,10,6z />
<path color=#ad0 d=M690,537l-9-6-10-6-10-7-9-7-10-4,9-9,9,5,10,6,10,7,9,6,10,6z />
<path color=#9d0 d=M700,544l-10-7,9-9,10,7z />
<path color=#9d0 d=M317,309l-8-4,8-8,8,4z />
<path color=#ad0 d=M348,329l-8-6-8-5-8-5-7-4,8-8,8,5,8,4,7,6,8,5z />
<path color=#9d0 d=M380,351l-8-6-8-6-8-5-8-5,8-8,8,6,8,5,8,6,8,6z />
<path color=#7c0 d=M421,377l-8-4-9-5-8-5-8-6-8-6,8-7,9,5,8,6,8,5,8,5,8,4z />
<path color=#9d0 d=M446,394l-9-6-8-6-8-5,8-8,9,5,8,6,8,6z />
<path color=#7c0 d=M471,410l-8-5-9-5-8-6,8-8,9,6,8,5,9,5z />
<path color=#9d0 d=M480,416l-9-6,9-8,9,6z />
<path color=#7c0 d=M489,422l-9-6,9-8,8,5z />
<path color=#9d0 d=M515,437l-9-6-9-5-8-4,8-9,9,5,9,5,8,5z />
<path color=#ad0 d=M541,454l-9-7-8-5-9-5,8-9,9,5,9,6,9,6z />
<path color=#9d0 d=M550,459l-9-5,9-9,9,6z />
<path color=#ad0 d=M559,465l-9-6,9-8,9,5z />
<path color=#9d0 d=M578,479l-9-7-10-7,9-9,9,8,9,6z />
<path color=#7c0 d=M587,485l-9-6,8-9,10,6z />
<path color=#9d0 d=M596,489l-9-4,9-9,9,4z />
<path color=#ad0 d=M615,501l-10-7-9-5,9-9,9,5,9,8z />
<path color=#7c0 d=M643,520l-9-4-10-6-9-9,8-8,10,8,9,6,10,4z />
<path color=#9d0 d=M653,527l-10-7,9-9,9,7z />
<path color=#7c0 d=M692,553l-10-7-10-6-10-6-9-7,8-9,10,7,10,6,9,6,10,7z />
<path color=#7c0 d=M316,321l-8-4-8-5,9-7,8,4,7,4z />
<path color=#9d0 d=M331,331l-7-5-8-5,8-8,8,5,8,5z />
<path color=#7c0 d=M363,353l-8-6-8-5-8-5-8-6,9-8,8,6,8,5,8,5,8,6z />
<path color=#6c0 d=M421,390l-9-5-8-4-8-5-8-5-8-6-9-6-8-6,9-8,8,6,8,6,8,6,8,5,9,5,8,4,8,5z />
<path color=#7c0 d=M429,396l-8-6,8-8,8,6z />
<path color=#6c0 d=M489,434l-9-4-9-6-8-6-9-5-8-5-9-6-8-6,8-8,9,6,8,6,9,5,8,5,9,6,9,6,8,4z />
<path color=#7c0 d=M560,481l-9-8-9-5-9-6-9-6-9-6-9-5-9-6-8-5,8-8,9,5,9,6,9,5,8,5,9,7,9,5,9,6,10,7z />
<path color=#6c0 d=M587,498l-9-4-9-7-9-6,9-9,9,7,9,6,9,4z />
<path color=#7c0 d=M606,510l-9-8-10-4,9-9,9,5,10,7z />
<path color=#6c0 d=M615,519l-9-9,9-9,9,9z />
<path color=#4c0 d=M625,524l-10-5,9-9,10,6z />
<path color=#6c0 d=M673,555l-10-6-9-6-10-7-10-7-9-5,9-8,9,4,10,7,9,7,10,6,10,6z />
<path color=#4c0 d=M683,562l-10-7,9-9,10,7z />
<path color=#6c0 d=M347,355l-8-5-8-6-8-6-8-5-8-4-7-5-8-4,8-8,8,5,8,4,8,5,7,5,8,6,8,5,8,5z />
<path color=#4c0 d=M371,373l-8-6-8-6-8-6,8-8,8,6,8,6,9,6z />
<path color=#2c0 d=M395,389l-8-5-8-6-8-5,9-8,8,6,8,5,8,5z />
<path color=#4c0 d=M429,410l-9-6-8-6-8-5-9-4,9-8,8,4,9,5,8,6,8,6z />
<path color=#2c0 d=M446,421l-9-5-8-6,8-8,9,6,8,5z />
<path color=#4c0 d=M480,442l-9-4-8-6-9-6-8-5,8-8,9,5,8,6,9,6,9,4z />
<path color=#6c0 d=M551,489l-9-7-9-6-9-5-9-7-9-6-9-5-8-5-9-6,9-8,8,5,9,6,9,5,9,6,9,6,9,6,9,5,9,8z />
<path color=#4c0 d=M579,506l-9-4-10-6-9-7,9-8,9,6,9,7,9,4z />
<path color=#6c0 d=M597,519l-9-8-9-5,8-8,10,4,9,8z />
<path color=#4c0 d=M607,527l-10-8,9-9,9,9z />
<path color=#2c0 d=M616,533l-9-6,8-8,10,5z />
<path color=#4c0 d=M655,558l-10-6-10-8-9-6-10-5,9-9,9,5,10,7,10,7,9,6z />
<path color=#2c0 d=M674,572l-10-7-9-7,8-9,10,6,10,7z />
<path color=#2c0 d=M291,331l-8-4,9-7,8,4z />
<path color=#4c0 d=M338,362l-8-5-8-6-8-6-8-5-7-4-8-5,9-7,7,5,8,4,8,5,8,6,8,6,8,5z />
<path color=#2c0 d=M354,374l-8-6-8-6,9-7,8,6,8,6z />
<path color=#1c1 d=M395,401l-8-5-8-5-9-5-8-6-8-6,9-7,8,6,8,5,8,6,8,5,9,4z />
<path color=#2c0 d=M420,418l-8-7-9-5-8-5,9-8,8,5,8,6,9,6z />
<path color=#1c1 d=M437,429l-9-5-8-6,9-8,8,6,9,5z />
<path color=#2c0 d=M454,440l-9-6-8-5,9-8,8,5,9,6z />
<path color=#1c1 d=M463,446l-9-6,9-8,8,6z />
<path color=#2c0 d=M480,455l-9-5-8-4,8-8,9,4,9,6z />
<path color=#4c0 d=M533,490l-9-6-9-5-9-7-8-6-9-5-9-6,9-7,8,5,9,5,9,6,9,7,9,5,9,6z />
<path color=#2c0 d=M552,504l-10-7-9-7,9-8,9,7,9,7z />
<path color=#1c1 d=M561,510l-9-6,8-8,10,6z />
<path color=#2c0 d=M570,514l-9-4,9-8,9,4z />
<path color=#4c0 d=M589,527l-10-8-9-5,9-8,9,5,9,8z />
<path color=#2c0 d=M598,536l-9-9,8-8,10,8z />
<path color=#1c1 d=M617,546l-10-5-9-5,9-9,9,6,10,5z />
<path color=#2c0 d=M636,560l-9-7-10-7,9-8,9,6,10,8z />
<path color=#1c1 d=M665,580l-9-7-10-7-10-6,9-8,10,6,9,7,10,7z />
<path color=#2c0 d=M298,346l-8-4-8-5-7-4,8-6,8,4,8,5,7,4z />
<path color=#4c0 d=M305,352l-7-6,8-6,8,5z />
<path color=#2c0 d=M337,374l-8-6-8-5-8-5-8-6,9-7,8,6,8,6,8,5,8,6z />
<path color=#1c1 d=M353,386l-8-6-8-6,9-6,8,6,8,6z />
<path color=#0c3 d=M378,403l-8-6-8-5-9-6,9-6,8,6,9,5,8,5z />
<path color=#1c1 d=M462,457l-8-5-9-5-8-7-9-4-8-6-9-6-8-6-9-6-8-5-8-4,9-7,8,5,8,5,9,5,8,7,8,6,9,5,8,5,9,6,9,6,8,4z />
<path color=#2c0 d=M534,504l-9-7-9-6-9-5-9-7-9-6-9-5-9-6-9-5,9-7,9,5,9,6,9,5,8,6,9,7,9,5,9,6,9,7z />
<path color=#1c1 d=M561,522l-9-5-9-6-9-7,8-7,10,7,9,6,9,4z />
<path color=#2c0 d=M580,534l-10-8-9-4,9-8,9,5,10,8z />
<path color=#1c1 d=M589,543l-9-9,9-7,9,9z />
<path color=#0c3 d=M599,549l-10-6,9-7,9,5z />
<path color=#1c1 d=M647,580l-10-7-10-6-9-7-10-6-9-5,8-8,10,5,10,7,9,7,10,6,10,7z />
<path color=#0c3 d=M657,588l-10-8,9-7,9,7z />
<path color=#1c1 d=M273,343l-7-4,9-6,7,4z />
<path color=#2c0 d=M320,374l-8-5-7-5-8-6-8-6-8-4-8-5,9-6,8,5,8,4,7,6,8,6,8,5,8,5z />
<path color=#1c1 d=M337,387l-9-6-8-7,9-6,8,6,8,6z />
<path color=#0c3 d=M377,414l-8-5-8-5-8-6-8-5-8-6,8-7,8,6,9,6,8,5,8,6,8,4z />
<path color=#1c1 d=M402,431l-8-7-8-5-9-5,9-7,8,5,9,6,8,6z />
<path color=#0c3 d=M419,442l-8-5-9-6,9-7,9,6,8,6z />
<path color=#1c1 d=M436,453l-8-6-9-5,9-6,9,4,8,7z />
<path color=#0c3 d=M445,459l-9-6,9-6,9,5z />
<path color=#1c1 d=M471,475l-9-6-8-5-9-5,9-7,8,5,9,5,9,6z />
<path color=#2c0 d=M498,492l-9-6-9-6-9-5,9-7,9,5,9,6,9,7z />
<path color=#1c1 d=M507,498l-9-6,9-6,9,5z />
<path color=#2c0 d=M516,504l-9-6,9-7,9,6z />
<path color=#1c1 d=M534,518l-9-7-9-7,9-7,9,7,9,7z />
<path color=#0c3 d=M543,524l-9-6,9-7,9,6z />
<path color=#1c1 d=M552,529l-9-5,9-7,9,5z />
<path color=#2c0 d=M571,541l-9-7-10-5,9-7,9,4,10,8z />
<path color=#1c1 d=M580,550l-9-9,9-7,9,9z />
<path color=#0c3 d=M599,561l-9-5-10-6,9-7,10,6,9,5z />
<path color=#1c1 d=M619,575l-10-8-10-6,9-7,10,6,9,7z />
<path color=#0c3 d=M648,595l-10-7-10-7-9-6,8-8,10,6,10,7,10,8z />
<path color=#1c1 d=M272,354l-7-5-8-4,9-6,7,4,8,5z />
<path color=#2c0 d=M288,364l-8-5-8-5,9-6,8,4,8,6z />
<path color=#1c1 d=M320,387l-8-6-8-5-8-6-8-6,9-6,8,6,7,5,8,5,8,7z />
<path color=#0c3 d=M377,425l-9-5-8-4-8-6-8-5-8-6-8-6-8-6,8-6,9,6,8,6,8,5,8,6,8,5,8,5,9,5z />
<path color=#1c1 d=M385,431l-8-6,9-6,8,5z />
<path color=#0c3 d=M445,471l-9-5-9-6-8-6-9-5-8-5-9-6-8-7,9-7,8,7,9,6,8,5,9,5,8,6,9,6,9,5z />
<path color=#1c1 d=M516,518l-9-7-9-6-9-5-9-7-9-6-9-5-9-6-8-5,9-7,8,5,9,6,9,5,9,6,9,6,9,6,9,6,9,7z />
<path color=#0c3 d=M543,536l-9-4-9-7-9-7,9-7,9,7,9,6,9,5z />
<path color=#1c1 d=M562,549l-9-8-10-5,9-7,10,5,9,7z />
<path color=#0c3 d=M571,558l-9-9,9-8,9,9z />
<path color=#0c8 d=M581,564l-10-6,9-8,10,6z />
<path color=#0c3 d=M629,596l-10-8-9-6-10-7-10-6-9-5,9-8,9,5,10,6,10,8,9,6,10,7z />
<path color=#0c8 d=M639,603l-10-7,9-8,10,7z />
<path color=#0c3 d=M263,362l-7-5-8-4,9-8,8,4,7,5z />
<path color=#1c1 d=M287,378l-8-6-8-6-8-4,9-8,8,5,8,5,8,6z />
<path color=#0c3 d=M311,395l-8-6-8-6-8-5,9-8,8,6,8,5,8,6z />
<path color=#0c8 d=M360,428l-9-4-8-6-8-5-8-6-8-6-8-6,9-8,8,6,8,6,8,6,8,5,8,6,8,4z />
<path color=#0c3 d=M376,439l-8-6-8-5,8-8,9,5,8,6z />
<path color=#0c8 d=M436,479l-9-5-8-6-9-6-8-5-9-5-8-6-9-7,9-8,8,7,9,6,8,5,9,5,8,6,9,6,9,5z />
<path color=#0c3 d=M462,495l-9-5-9-6-8-5,9-8,8,5,9,6,9,5z />
<path color=#1c1 d=M471,502l-9-7,9-8,9,6z />
<path color=#0c3 d=M507,527l-9-8-9-5-9-6-9-6,9-9,9,7,9,5,9,6,9,7z />
<path color=#0c8 d=M525,541l-9-7-9-7,9-9,9,7,9,7z />
<path color=#0c3 d=M553,558l-9-8-10-5-9-4,9-9,9,4,10,5,9,8z />
<path color=#0c8 d=M630,612l-10-7-10-7-9-7-10-7-10-6-9-5-9-6-10-9,9-9,9,9,10,6,9,5,10,6,10,7,9,6,10,8,10,7z />
<path color=#0db d=M247,366l-7-5,8-8,8,4z />
<path color=#0c8 d=M294,397l-8-5-8-5-8-6-8-6-7-5-8-4,9-9,7,5,8,4,8,6,8,6,8,5,8,6z />
<path color=#0db d=M310,410l-8-6-8-7,9-8,8,6,8,6z />
<path color=#0dd d=M351,437l-8-4-8-6-9-5-8-6-8-6,9-9,8,6,8,6,8,5,8,6,9,4z />
<path color=#0db d=M376,455l-9-7-8-6-8-5,9-9,8,5,8,6,9,7z />
<path color=#0dd d=M393,466l-9-5-8-6,9-9,8,6,9,5z />
<path color=#0db d=M436,494l-9-6-9-4-8-6-9-7-8-5,9-9,8,5,9,6,8,6,9,5,8,5z />
<path color=#0c8 d=M498,537l-9-8-9-5-9-6-9-7-9-6-9-5-8-6,8-10,9,6,9,5,9,7,9,6,9,6,9,5,9,8z />
<path color=#0db d=M526,555l-10-5-9-6-9-7,9-10,9,7,9,7,9,4z />
<path color=#0c8 d=M544,568l-9-8-9-5,8-10,10,5,9,8z />
<path color=#0db d=M554,576l-10-8,9-10,10,9z />
<path color=#0dd d=M572,588l-9-5-9-7,9-9,9,6,9,5z />
<path color=#0db d=M592,602l-10-8-10-6,9-10,10,6,10,7z />
<path color=#0dd d=M621,622l-10-7-10-7-9-6,9-11,9,7,10,7,10,7z />
<path color=#0c8 d=M253,377l-8-5-7-5-8-4,10-2,7,5,8,4,7,5z />
<path color=#0c3 d=M261,382l-8-5,9-2,8,6z />
<path color=#0c8 d=M293,406l-8-7-8-5-8-6-8-6,9-1,8,6,8,5,8,5,8,7z />
<path color=#0db d=M309,418l-8-6-8-6,9-2,8,6,8,6z />
<path color=#0dd d=M333,435l-8-6-8-5-8-6,9-2,8,6,9,5,8,6z />
<path color=#0db d=M418,491l-9-5-9-6-8-6-9-5-8-6-9-6-8-7-8-6-9-5-8-4,10-2,8,4,8,5,8,6,9,7,8,6,9,5,8,5,9,7,8,6,9,4z />
<path color=#0c8 d=M489,539l-9-7-9-6-9-6-9-7-9-6-9-5-9-6-8-5,9-3,9,6,8,6,9,5,9,6,9,7,9,6,9,5,9,8z />
<path color=#0db d=M516,557l-9-4-9-7-9-7,9-2,9,7,9,6,10,5z />
<path color=#0c8 d=M535,570l-9-8-10-5,10-2,9,5,9,8z />
<path color=#0db d=M544,579l-9-9,9-2,10,8z />
<path color=#0dd d=M554,585l-10-6,10-3,9,7z />
<path color=#0db d=M602,618l-10-7-9-6-10-8-10-7-9-5,9-2,9,5,10,6,10,8,9,6,10,7z />
<path color=#0dd d=M612,625l-10-7,9-3,10,7z />
<path color=#4c0 d=M227,361l-8-4,11,6,8,4z />
<path color=#6c0 d=M274,394l-8-6-8-5-8-7-8-5-7-5-8-5,11,6,7,5,8,5,8,5,8,6,8,6,8,5z />
<path color=#4c0 d=M290,406l-8-6-8-6,11,5,8,7,8,6z />
<path color=#2c0 d=M331,434l-8-5-8-5-8-6-8-6-9-6,11,6,8,6,8,6,8,5,8,6,8,4z />
<path color=#4c0 d=M356,452l-8-7-8-6-9-5,10,5,9,5,8,6,8,7z />
<path color=#2c0 d=M373,463l-8-5-9-6,10,5,9,6,8,6z />
<path color=#4c0 d=M390,475l-8-7-9-5,10,6,9,5,8,6z />
<path color=#2c0 d=M399,481l-9-6,10,5,9,6z />
<path color=#4c0 d=M425,497l-9-6-8-6-9-4,10,5,9,5,8,5,9,6z />
<path color=#6c0 d=M452,515l-9-7-9-6-9-5,10,5,9,5,9,6,9,7z />
<path color=#4c0 d=M461,521l-9-6,10,5,9,6z />
<path color=#6c0 d=M470,527l-9-6,10,5,9,6z />
<path color=#4c0 d=M488,541l-9-7-9-7,10,5,9,7,9,7z />
<path color=#2c0 d=M498,548l-10-7,10,5,9,7z />
<path color=#4c0 d=M507,553l-9-5,9,5,9,4z />
<path color=#6c0 d=M526,565l-10-8-9-4,9,4,10,5,9,8z />
<path color=#4c0 d=M535,574l-9-9,9,5,9,9z />
<path color=#2c0 d=M554,586l-9-5-10-7,9,5,10,6,9,5z />
<path color=#4c0 d=M573,600l-9-8-10-6,9,4,10,7,10,8z />
<path color=#2c0 d=M603,621l-10-8-10-7-10-6,10,5,9,6,10,7,10,7z />
<path color=#cd0 d=M217,359l-8-4,10,2,8,4z />
<path color=#dd0 d=M248,380l-8-6-8-5-7-5-8-5,10,2,8,5,7,5,8,5,8,7z />
<path color=#cd0 d=M280,404l-8-6-8-7-8-5-8-6,10,3,8,5,8,6,8,6,8,6z />
<path color=#bd0 d=M321,432l-8-5-8-6-8-5-9-6-8-6,10,2,9,6,8,6,8,6,8,5,8,5z />
<path color=#cd0 d=M338,443l-8-6-9-5,10,2,9,5,8,6z />
<path color=#bd0 d=M389,479l-8-6-9-7-9-5-8-5-9-7-8-6,10,2,8,7,9,6,8,5,9,5,8,7,9,6z />
<path color=#cd0 d=M416,495l-9-6-9-6-9-4,10,2,9,4,8,6,9,6z />
<path color=#dd0 d=M433,506l-9-6-8-5,9,2,9,5,9,6z />
<path color=#cd0 d=M451,519l-9-6-9-7,10,2,9,7,9,6z />
<path color=#dd0 d=M460,525l-9-6,10,2,9,6z />
<path color=#cd0 d=M479,540l-9-7-10-8,10,2,9,7,9,7z />
<path color=#bd0 d=M488,546l-9-6,9,1,10,7z />
<path color=#cd0 d=M497,551l-9-5,10,2,9,5z />
<path color=#dd0 d=M516,564l-9-8-10-5,10,2,9,4,10,8z />
<path color=#bd0 d=M545,584l-10-5-9-6-10-9,10,1,9,9,10,7,9,5z />
<path color=#cd0 d=M554,591l-9-7,9,2,10,6z />
<path color=#bd0 d=M594,620l-10-8-10-7-10-6-10-8,10,1,9,8,10,6,10,7,10,8z />
<path color=#eb0 d=M262,400l-8-7-8-5-8-6-8-6-7-5-8-5-8-5-8-4,10-2,8,4,8,5,7,5,8,5,8,6,8,6,8,5,8,7z />
<path color=#ec0 d=M279,412l-8-6-9-6,10-2,8,6,8,6z />
<path color=#ed0 d=M303,430l-8-6-8-6-8-6,9-2,9,6,8,5,8,6z />
<path color=#ec0 d=M388,486l-8-5-9-6-9-6-8-5-9-6-8-6-9-7-8-6-8-5-9-4,10-3,8,5,9,5,8,6,8,6,9,7,8,5,9,5,9,7,8,6,9,4z />
<path color=#eb0 d=M460,536l-9-8-9-6-9-6-9-7-9-6-9-5-9-6-9-6,10-3,9,6,9,6,8,5,9,6,9,7,9,6,9,6,10,8z />
<path color=#ec0 d=M488,554l-9-5-10-6-9-7,10-3,9,7,9,6,9,5z />
<path color=#eb0 d=M507,567l-10-8-9-5,9-3,10,5,9,8z />
<path color=#ec0 d=M516,576l-9-9,9-3,10,9z />
<path color=#ed0 d=M526,583l-10-7,10-3,9,6z />
<path color=#ec0 d=M574,616l-9-8-10-6-10-8-10-6-9-5,9-4,10,5,9,7,10,8,10,6,10,7z />
<path color=#ed0 d=M584,623l-10-7,10-4,10,8z />
<path color=#e70 d=M253,403l-8-7-8-5-8-6-8-6-8-6-8-5-8-4-7-5,9-2,8,4,8,5,8,5,7,5,8,6,8,6,8,5,8,7z />
<path color=#e90 d=M269,415l-8-6-8-6,9-3,9,6,8,6z />
<path color=#eb0 d=M294,433l-9-6-8-6-8-6,10-3,8,6,8,6,8,6z />
<path color=#e90 d=M336,461l-9-6-8-7-9-6-8-5-8-4,9-3,9,4,8,5,8,6,9,7,8,6z />
<path color=#eb0 d=M344,467l-8-6,9-3,9,6z />
<path color=#e90 d=M379,490l-9-5-9-6-8-7-9-5,10-3,8,5,9,6,9,6,8,5z />
<path color=#e70 d=M451,539l-10-8-9-5-9-6-9-7-9-6-9-6-8-6-9-5,9-4,9,6,9,6,9,5,9,6,9,7,9,6,9,6,9,8z />
<path color=#e90 d=M478,558l-9-5-9-6-9-8,9-3,9,7,10,6,9,5z />
<path color=#e70 d=M497,571l-9-8-10-5,10-4,9,5,10,8z />
<path color=#e90 d=M507,580l-10-9,10-4,9,9z />
<path color=#eb0 d=M516,586l-9-6,9-4,10,7z />
<path color=#e90 d=M565,620l-10-8-10-6-9-8-10-6-10-6,10-3,9,5,10,6,10,8,10,6,9,8z />
<path color=#eb0 d=M575,627l-10-7,9-4,10,7z />
<path color=#e50 d=M195,373l-7-5-8-5,10-4,7,5,8,4z />
<path color=#e40 d=M211,383l-8-6-8-4,10-5,8,5,8,6z />
<path color=#e50 d=M243,407l-8-6-8-6-8-6-8-6,10-4,8,6,8,6,8,5,8,7z />
<path color=#e70 d=M292,442l-8-5-8-6-8-5-9-6-8-7-8-6,10-4,8,6,8,6,8,6,8,6,9,6,8,4z />
<path color=#e50 d=M309,453l-8-6-9-5,10-5,8,5,9,6z />
<path color=#e70 d=M369,494l-9-4-8-7-9-6-8-5-9-6-8-6-9-7,10-5,8,7,9,6,8,6,9,5,8,7,9,6,9,5z />
<path color=#e50 d=M441,544l-9-8-9-5-9-6-9-7-9-7-9-5-9-6-9-6,10-4,9,5,8,6,9,6,9,6,9,7,9,6,9,5,10,8z />
<path color=#e70 d=M460,558l-10-6-9-8,10-5,9,8,9,6z />
<path color=#e50 d=M488,576l-10-8-9-5-9-5,9-5,9,5,10,5,9,8z />
<path color=#e70 d=M566,633l-10-8-10-7-10-6-10-8-9-7-10-5-10-7-9-9,9-5,10,9,9,6,10,6,10,6,9,8,10,6,10,8,10,7z />
<path color=#e50 d=M194,386l-8-5-7-5-8-4,9-9,8,5,7,5,8,4z />
<path color=#e40 d=M202,391l-8-5,9-9,8,6z />
<path color=#e50 d=M234,416l-8-7-8-5-8-6-8-7,9-8,8,6,8,6,8,6,8,6z />
<path color=#e70 d=M250,428l-8-6-8-6,9-9,8,6,8,7z />
<path color=#e90 d=M275,446l-8-6-9-6-8-6,9-8,9,6,8,5,8,6z />
<path color=#e70 d=M360,503l-9-4-9-7-8-6-9-5-8-6-9-6-8-7-9-6-8-6-8-4,9-9,8,5,9,5,8,6,9,7,8,6,9,6,8,5,9,6,8,7,9,4z />
<path color=#e50 d=M432,554l-10-8-9-6-9-6-9-7-9-6-9-6-8-6-9-6,9-9,9,6,9,6,9,5,9,7,9,7,9,6,9,5,9,8z />
<path color=#e70 d=M459,573l-9-5-9-7-9-7,9-10,9,8,10,6,9,5z />
<path color=#e50 d=M478,586l-9-8-10-5,10-10,9,5,10,8z />
<path color=#e70 d=M488,595l-10-9,10-10,9,9z />
<path color=#e90 d=M497,602l-9-7,9-10,10,7z />
<path color=#e70 d=M546,635l-10-7-9-7-10-7-10-7-10-5,10-10,10,5,9,7,10,8,10,6,10,7z />
<path color=#e90 d=M556,643l-10-8,10-10,10,8z />
<path color=#e90 d=M185,396l-8-5-7-5-8-5,9-9,8,4,7,5,8,5z />
<path color=#e70 d=M193,401l-8-5,9-10,8,5z />
<path color=#e90 d=M225,426l-8-7-8-5-8-6-8-7,9-10,8,7,8,6,8,5,8,7z />
<path color=#eb0 d=M249,445l-8-6-8-7-8-6,9-10,8,6,8,6,8,6z />
<path color=#ec0 d=M266,456l-8-6-9-5,9-11,9,6,8,6z />
<path color=#eb0 d=M351,514l-9-5-9-6-8-7-9-5-8-5-9-7-8-7-9-6-8-5-8-5,9-10,8,4,8,6,9,6,8,7,9,6,8,6,9,5,8,6,9,7,9,4z />
<path color=#e90 d=M422,565l-9-8-9-6-9-6-9-7-9-6-9-6-9-6-8-6,9-11,9,6,8,6,9,6,9,6,9,7,9,6,9,6,10,8z />
<path color=#eb0 d=M450,584l-9-5-9-7-10-7,10-11,9,7,9,7,9,5z />
<path color=#e90 d=M469,597l-10-8-9-5,9-11,10,5,9,8z />
<path color=#eb0 d=M479,607l-10-10,9-11,10,9z />
<path color=#ec0 d=M488,613l-9-6,9-12,9,7z />
<path color=#eb0 d=M537,647l-10-7-10-7-10-8-9-7-10-5,9-11,10,5,10,7,10,7,9,7,10,7z />
<path color=#ec0 d=M547,655l-10-8,9-12,10,8z />
<path color=#ed0 d=M161,396l-8-4,9-11,8,5z />
<path color=#ec0 d=M192,418l-8-6-8-6-8-5-7-5,9-10,7,5,8,5,8,5,8,7z />
<path color=#ed0 d=M224,443l-8-7-8-6-8-6-8-6,9-10,8,6,8,5,8,7,8,6z />
<path color=#dd0 d=M265,472l-8-5-9-6-8-6-8-6-8-6,9-11,8,7,8,6,9,5,8,6,8,5z />
<path color=#ed0 d=M281,483l-8-6-8-5,9-11,8,5,9,6z />
<path color=#dd0 d=M333,521l-9-7-9-7-8-5-9-5-8-7-9-7,10-11,8,7,9,7,8,5,9,5,8,7,9,6z />
<path color=#ed0 d=M368,543l-9-6-9-6-9-6-8-4,9-12,9,5,8,6,9,6,9,6z />
<path color=#ec0 d=M377,549l-9-6,9-11,9,6z />
<path color=#ed0 d=M395,563l-9-7-9-7,9-11,9,7,9,6z />
<path color=#ec0 d=M404,568l-9-5,9-12,9,6z />
<path color=#ed0 d=M422,584l-9-7-9-9,9-11,9,8,10,7z />
<path color=#dd0 d=M432,591l-10-7,10-12,9,7z />
<path color=#ed0 d=M441,596l-9-5,9-12,9,5z />
<path color=#ec0 d=M460,609l-10-8-9-5,9-12,9,5,10,8z />
<path color=#dd0 d=M488,630l-9-5-10-7-9-9,9-12,10,10,9,6,10,5z />
<path color=#ed0 d=M498,637l-10-7,10-12,9,7z />
<path color=#dd0 d=M537,667l-10-8-10-7-9-7-10-8,9-12,10,8,10,7,10,7,10,8z />
<path color=#bd0 d=M152,407l-8-5,9-10,8,4z />
<path color=#cd0 d=M199,440l-8-5-8-6-8-6-8-6-8-5-7-5,9-11,7,5,8,5,8,6,8,6,8,6,8,6z />
<path color=#bd0 d=M215,454l-8-7-8-7,9-10,8,6,8,7z />
<path color=#ad0 d=M256,483l-8-5-9-6-8-6-8-6-8-6,9-11,8,6,8,6,8,6,9,6,8,5z />
<path color=#bd0 d=M281,501l-9-7-8-6-8-5,9-11,8,5,8,6,9,7z />
<path color=#ad0 d=M298,513l-9-5-8-7,9-11,8,7,9,5z />
<path color=#bd0 d=M315,525l-9-6-8-6,9-11,8,5,9,7z />
<path color=#ad0 d=M324,532l-9-7,9-11,9,7z />
<path color=#bd0 d=M341,542l-9-5-8-5,9-11,8,4,9,6z />
<path color=#cd0 d=M404,588l-10-8-9-6-9-6-9-7-9-7-8-5-9-7,9-11,9,6,9,6,9,6,9,7,9,7,9,5,9,9z />
<path color=#bd0 d=M413,596l-9-8,9-11,9,7z />
<path color=#ad0 d=M422,603l-9-7,9-12,10,7z />
<path color=#bd0 d=M431,607l-9-4,10-12,9,5z />
<path color=#cd0 d=M450,621l-9-8-10-6,10-11,9,5,10,8z />
<path color=#bd0 d=M460,630l-10-9,10-12,9,9z />
<path color=#ad0 d=M479,642l-10-5-9-7,9-12,10,7,9,5z />
<path color=#bd0 d=M498,657l-10-8-9-7,9-12,10,7,10,8z />
<path color=#ad0 d=M528,679l-10-8-10-7-10-7,10-12,9,7,10,7,10,8z />
<path class=m3 d=M144,402l9-10,9-11,9-9,9-9,10-4,9-2,10-2,10,2,11,6,10-2,8-8,9-8,9-6,9-6,8-6,9-7,8-8,9-7,8-8,9-7,8-8,9-6,8-4,9-3,8-3,9-3,8-3,8-5,9-6,8-7,8-7,7-7,8-7,8-7,8-6,8-3,8-1,8-1,8-2,8-1,8-2,7-3,8-3,7-3 />
<path class=m3 d=M152,407l9-11,9-10,9-10,9-8,9-4,10-3,10-2,10,2,11,6,9-1,9-9,9-8,8-6,9-6,9-6,9-7,8-7,9-8,8-8,8-7,9-8,8-6,9-4,8-3,9-3,8-3,9-4,8-4,8-7,8-7,8-6,8-7,8-7,8-7,8-6,8-3,8-2,8-1,8-1,8-2,7-2,8-2,8-3,7-3 />
<path class=m3 d=M159,412l9-11,9-10,9-10,9-8,10-5,10-2,10-2,10,2,10,6,10-2,8-8,9-8,9-6,9-6,9-6,8-7,9-8,8-8,9-7,8-8,9-7,8-7,9-4,8-3,9-3,8-3,9-3,8-5,8-6,8-7,8-7,8-7,8-7,8-7,8-6,8-3,8-2,8-1,7-1,8-2,8-2,8-2,7-3,8-3 />
<path class=m3 d=M167,417l9-11,9-10,9-10,9-9,10-4,10-2,9-2,10,2,11,6,9-2,9-9,9-7,9-7,9-6,8-6,9-7,9-7,8-8,9-8,8-7,8-8,9-6,8-4,9-4,8-3,9-3,8-3,9-5,8-6,8-7,8-7,8-7,8-7,8-7,8-6,7-3,8-2,8-1,8-1,8-2,8-2,7-2,8-3,8-3 />
<path class=m3 d=M175,423l9-11,9-11,9-10,9-8,10-4,9-3,10-2,10,2,11,6,9-1,9-9,9-8,9-6,8-6,9-7,9-7,8-7,9-8,8-7,9-8,8-8,9-6,8-4,9-4,8-3,9-3,8-3,8-5,9-6,8-7,8-7,8-7,8-7,7-7,8-6,8-3,8-2,8-1,8-2,8-1,8-2,7-3,8-3,7-3 />
<path class=m3 d=M183,429l9-11,9-10,9-10,9-9,10-4,9-3,10-2,10,3,11,5,9-1,9-9,9-8,9-6,8-6,9-7,9-7,8-7,9-8,8-8,9-7,8-8,9-6,8-5,9-3,8-3,9-3,8-3,8-5,8-7,9-7,8-7,8-7,7-7,8-7,8-6,8-3,8-1,8-2,8-1,8-2,7-2,8-3,8-2,7-4 />
<path class=m3 d=M191,435l9-11,9-10,9-10,9-9,10-4,9-3,10-2,10,2,11,6,9-2,9-9,9-7,8-7,9-6,9-6,9-7,8-8,9-8,8-7,9-8,8-8,9-6,8-5,9-3,8-3,9-3,8-3,8-5,8-7,8-7,8-7,8-7,8-7,8-7,8-6,8-3,8-2,8-1,8-2,8-1,7-2,8-3,8-3,7-3 />
<path class=m3 d=M199,440l9-10,9-11,9-10,9-8,10-5,9-3,10-2,10,3,11,5,9-2,9-8,9-8,8-7,9-6,9-6,9-7,8-8,9-8,8-7,9-8,8-8,9-6,8-5,9-3,8-3,9-3,8-4,8-4,8-7,8-7,8-7,8-7,8-7,8-7,8-7,8-3,8-1,8-2,8-1,8-2,7-2,8-3,7-2,8-4 />
<path class=m4 d=M207,447l9-11,9-10,9-10,9-9,10-4,9-3,10-2,10,2,11,6,9-2,9-9,9-8,8-6,9-7,9-6,9-7,8-8,9-8,8-7,9-8,8-8,9-6,8-5,9-3,8-3,9-4,8-3,8-5,8-6,8-7,8-8,8-7,8-7,8-7,8-6,8-3,8-2,8-1,8-2,8-1,7-2,8-3,7-3,8-3 />
<path class=m4 d=M215,454l9-11,9-11,9-10,9-9,10-4,10-3,9-2,10,2,11,6,9-2,9-9,9-8,9-6,8-7,9-6,9-7,8-8,9-8,8-7,9-8,8-8,9-7,8-4,9-3,8-4,9-3,8-3,8-5,8-7,9-7,8-7,8-7,8-7,7-7,8-7,8-3,8-1,8-2,8-1,8-2,7-2,8-3,7-3,8-3 />
<path class=m3 d=M223,460l9-11,9-10,9-11,9-8,10-5,10-3,9-2,11,2,10,6,9-2,9-9,9-8,9-6,8-7,9-6,9-7,9-8,8-8,9-8,8-7,8-8,9-7,8-4,9-4,8-3,9-3,8-4,8-4,9-7,8-7,8-8,8-7,8-7,8-7,7-6,8-3,8-2,8-2,8-1,8-2,7-2,8-3,7-3,8-3 />
<path class=m3 d=M231,466l9-11,9-10,9-11,10-8,9-5,10-3,10-2,10,2,10,6,9-2,9-9,9-8,9-7,9-6,8-6,9-8,9-7,8-8,9-8,8-8,9-8,8-7,9-4,8-3,9-4,8-3,8-3,9-5,8-7,8-7,8-7,8-8,8-7,8-7,8-6,8-3,7-2,8-2,8-1,8-2,7-2,8-3,8-3,7-3 />
<path class=m3 d=M239,472l9-11,10-11,9-10,9-9,9-4,10-3,10-3,10,3,10,5,10-2,8-9,9-8,9-6,9-7,9-6,8-7,9-8,8-8,9-8,8-8,9-8,8-7,9-4,8-3,9-4,8-3,9-3,8-5,8-7,8-7,8-8,8-7,8-7,8-7,8-6,8-4,8-1,7-2,8-2,8-1,8-2,7-3,8-3,7-4 />
<path class=m3 d=M248,478l9-11,9-11,9-10,9-9,10-4,9-3,10-3,10,2,10,6,10-2,8-9,9-8,9-7,9-6,9-7,8-7,9-8,9-8,8-8,9-8,8-7,9-7,8-5,9-3,8-4,8-3,9-3,8-5,8-7,8-7,8-8,8-7,8-7,8-7,8-7,8-3,8-2,8-1,7-2,8-1,8-3,7-3,8-3,7-3 />
<path class=m3 d=M256,483l9-11,9-11,9-11,9-8,10-5,10-3,9-2,10,2,10,5,10-2,9-9,8-8,9-6,9-7,9-6,9-8,8-8,9-8,8-8,9-7,8-8,9-7,8-5,9-3,8-4,9-3,8-3,8-5,8-7,8-7,8-8,8-7,8-7,8-7,8-7,8-3,8-2,8-2,8-1,7-2,8-2,7-3,8-3,7-4 />
<path class=m3 d=M264,488l9-11,9-11,9-10,10-9,9-5,10-3,10-2,10,2,10,5,9-2,9-9,9-8,9-6,8-7,9-6,9-8,9-8,8-8,9-8,8-8,9-8,8-7,9-4,8-3,9-4,8-3,8-4,8-5,9-7,8-7,8-7,8-8,8-7,8-7,8-7,8-3,7-2,8-1,8-2,8-2,7-2,8-3,7-3,8-3 />
<path class=m4 d=M272,494l9-11,10-11,9-10,9-9,10-5,9-3,10-2,10,2,10,5,9-2,9-9,9-8,9-7,9-6,9-7,8-7,9-8,8-8,9-8,8-8,9-8,8-7,9-5,8-3,9-4,8-3,9-4,8-4,8-7,8-8,8-7,8-7,8-8,8-7,8-7,8-3,8-2,7-1,8-2,8-2,7-2,8-3,7-3,8-4 />
<path class=m4 d=M281,501l9-11,9-11,9-10,10-9,9-5,10-3,9-3,10,3,10,5,10-2,9-9,8-8,9-7,9-7,9-6,9-8,8-8,9-8,8-8,9-8,8-8,9-7,8-4,9-4,8-3,9-4,8-4,8-4,8-7,8-8,9-7,8-8,8-7,7-7,8-7,8-3,8-2,8-2,8-1,7-2,8-2,7-3,8-3,7-4 />
<path class=m3 d=M289,508l9-11,10-11,9-11,9-9,10-5,9-3,10-2,10,2,10,5,9-2,9-9,9-8,9-7,9-7,8-6,9-8,9-8,8-8,9-8,8-8,9-8,8-7,9-5,8-3,9-4,8-3,8-4,9-5,8-7,8-7,8-8,8-7,8-7,8-8,8-6,8-4,8-2,7-1,8-2,8-2,7-2,8-3,7-3,8-4 />
<path class=m3 d=M298,513l9-11,9-11,9-10,10-9,9-5,10-3,9-3,10,2,10,6,10-3,9-9,8-8,9-7,9-6,9-7,9-8,8-8,9-8,8-8,9-8,8-8,9-7,8-5,9-3,8-4,9-3,8-4,8-5,8-7,8-8,8-7,8-7,8-8,8-7,8-7,8-3,8-2,8-2,7-1,8-2,8-3,7-3,8-3,7-3 />
<path class=m3 d=M306,519l9-12,10-11,9-10,9-9,10-5,9-3,10-3,10,2,10,6,9-3,9-9,9-8,9-7,9-7,8-6,9-8,9-8,8-8,9-8,8-8,9-9,8-7,9-4,8-4,9-3,8-4,8-4,9-5,8-7,8-7,8-8,8-7,8-8,8-7,8-7,8-3,8-2,7-2,8-1,7-2,8-3,8-3,7-3,7-4 />
<path class=m3 d=M315,525l9-11,9-11,9-11,10-9,9-4,10-4,10-2,9,2,10,5,10-2,9-10,8-8,9-7,9-6,9-7,9-8,8-8,9-8,9-8,8-8,9-9,8-7,9-4,8-4,8-4,9-3,8-4,8-5,8-7,8-8,9-7,8-8,8-7,8-7,7-7,8-4,8-1,8-2,7-2,8-2,8-2,7-3,7-4,8-3 />
<path class=m3 d=M324,532l9-11,9-12,9-10,9-9,10-5,10-4,9-2,10,2,10,5,9-2,9-10,9-8,9-7,9-7,9-6,8-8,9-8,9-8,8-9,9-8,8-8,9-7,8-5,9-3,8-4,8-4,9-3,8-6,8-7,8-7,8-8,8-7,8-8,8-7,8-7,8-3,8-2,7-2,8-2,8-2,7-2,8-3,7-4,7-3 />
<path class=m3 d=M332,537l9-12,10-11,9-11,9-9,10-4,9-4,10-3,10,2,10,6,9-3,9-9,9-8,9-7,8-7,9-7,9-8,9-8,8-8,9-8,8-9,9-8,8-7,9-5,8-3,9-4,8-4,8-3,8-5,9-8,8-7,8-8,8-7,8-8,8-7,8-7,8-4,7-2,8-1,8-2,7-2,8-3,7-3,8-3,7-4 />
<path class=m3 d=M341,542l9-11,9-11,10-11,9-9,10-5,9-3,10-3,9,2,10,5,10-2,8-10,9-8,9-7,9-7,9-7,9-7,8-9,9-8,9-8,8-9,9-8,8-7,9-5,8-4,8-3,9-4,8-4,8-5,8-7,8-8,9-7,8-8,8-7,8-8,8-7,7-3,8-2,8-2,7-2,8-2,7-2,8-3,7-4,8-3 />
<path class=m3 d=M350,549l9-12,9-11,9-11,10-9,9-5,10-3,10-3,9,2,10,5,9-2,9-10,9-8,9-7,9-7,9-7,8-8,9-8,9-8,8-9,9-8,8-8,9-8,8-4,9-4,8-4,9-4,8-3,8-5,8-8,8-7,8-8,8-8,8-7,8-8,8-6,8-4,8-2,7-2,8-2,8-2,7-2,8-4,7-3,7-3 />
<path class=m3 d=M358,554l10-11,9-11,9-11,10-10,9-4,10-4,9-3,10,2,10,5,9-2,9-10,9-8,9-7,9-7,9-7,8-8,9-8,9-8,8-9,9-8,8-8,9-8,8-4,9-4,8-4,8-4,9-4,8-5,8-7,8-8,8-7,8-8,8-8,8-7,8-7,8-4,8-2,7-1,8-2,7-2,8-3,7-3,8-3,7-4 />
<path class=m3 d=M367,561l10-12,9-11,9-11,10-9,9-5,10-4,9-3,10,2,10,5,9-2,9-9,9-9,9-7,9-7,8-7,9-8,9-8,8-9,9-8,9-8,8-9,9-7,8-5,9-4,8-3,8-4,8-4,9-5,8-8,8-7,8-8,8-8,8-7,8-8,8-7,8-3,8-2,7-2,8-2,7-2,8-3,7-3,7-3,8-4 />
<path class=m3 d=M376,568l10-12,9-11,9-11,10-9,9-5,10-4,9-3,10,2,10,5,9-2,9-10,9-8,9-8,9-6,8-7,9-8,9-9,8-8,9-9,9-8,8-8,9-8,8-5,9-3,8-4,8-4,8-4,9-5,8-8,8-7,8-8,8-8,8-7,8-8,8-7,8-4,7-2,8-2,8-1,7-2,7-3,8-3,7-4,8-4 />
<path class=m3 d=M385,574l10-11,9-12,9-11,10-9,9-5,10-4,9-3,10,2,10,5,9-2,9-10,9-9,9-7,9-7,8-7,9-8,9-8,8-9,9-8,9-9,8-8,9-7,8-5,8-4,9-4,8-4,8-4,8-5,9-7,8-8,8-8,8-8,8-7,8-8,8-7,8-4,7-2,8-2,7-2,8-2,7-2,8-4,7-3,7-4 />
<path class=m4 d=M394,580l10-12,9-11,9-11,10-10,9-5,10-3,9-3,10,2,10,5,9-3,9-10,9-8,9-7,9-7,8-7,9-8,9-9,8-8,9-9,9-8,8-9,9-7,8-5,9-4,8-4,8-4,8-4,8-5,9-7,8-8,8-8,8-8,8-8,8-7,8-7,8-4,7-2,8-2,7-2,8-2,7-3,8-3,7-4,7-3 />
<path class=m4 d=M404,588l9-11,9-12,10-11,9-10,10-5,9-3,10-3,9,1,10,5,9-2,9-10,9-9,9-7,9-7,8-7,9-8,9-8,9-9,8-8,9-9,8-8,9-8,8-5,9-4,8-4,8-4,8-4,8-5,9-7,8-8,8-8,8-8,8-8,8-7,8-7,8-4,7-2,8-2,7-2,8-2,7-3,8-3,7-4,7-4 />
<path class=m3 d=M413,596l9-12,10-12,9-11,9-9,10-5,9-4,10-3,9,1,10,5,9-2,9-10,9-9,9-7,9-7,9-7,8-8,9-9,9-8,8-9,9-8,8-9,9-7,8-5,9-4,8-4,8-4,8-4,9-6,8-7,8-8,8-8,8-8,8-7,8-8,8-7,8-4,7-2,8-2,7-2,8-2,7-3,8-4,7-3,7-4 />
<path class=m3 d=M422,603l10-12,9-12,9-11,10-10,9-5,10-4,9-3,10,2,9,5,9-3,9-9,9-9,9-8,9-7,9-7,9-8,8-8,9-9,9-9,8-8,9-9,8-7,9-5,8-4,8-4,8-4,9-4,8-6,8-7,8-8,8-8,8-8,8-8,8-8,8-7,8-4,7-2,8-2,7-2,8-2,7-3,8-3,7-4,7-4 />
<path class=m3 d=M431,607l10-11,9-12,9-11,10-10,9-5,10-4,9-3,10,2,9,4,10-2,8-10,9-9,9-7,9-7,9-8,9-8,8-8,9-9,9-9,8-8,9-9,8-7,9-5,8-4,8-4,9-4,8-5,8-5,8-8,8-7,8-8,8-8,9-8,8-8,7-7,8-4,8-2,7-2,8-2,7-2,7-3,8-4,7-3,7-4 />
<path class=m4 d=M441,613l9-12,9-12,10-11,9-10,10-5,9-4,10-3,9,1,10,5,9-2,9-10,9-9,9-7,8-8,9-7,9-8,9-9,8-8,9-9,9-9,8-8,9-8,8-5,9-4,8-4,8-4,8-4,8-6,8-7,9-8,8-8,8-8,8-8,8-8,8-7,8-4,7-2,8-2,7-2,7-3,8-2,7-4,7-3,8-4 />
<path class=m4 d=M450,621l10-12,9-12,9-11,10-10,9-5,10-4,9-3,10,1,9,5,9-2,9-10,9-9,9-8,9-7,9-7,8-8,9-9,9-9,8-8,9-9,9-9,8-7,9-6,8-4,8-4,8-4,8-4,9-5,8-8,8-8,8-8,8-8,8-8,8-8,8-7,8-4,7-2,8-2,7-3,7-2,8-3,7-3,7-4,8-4 />
<path class=m4 d=M460,630l9-12,10-11,9-12,9-10,10-5,9-4,10-3,9,1,9,5,10-3,9-9,8-9,9-8,9-7,9-7,9-9,8-8,9-9,9-9,8-9,9-8,8-8,9-5,8-4,8-5,9-4,8-4,8-5,8-8,8-8,8-8,8-8,8-8,8-8,8-7,8-4,7-2,8-3,7-2,8-2,7-3,7-3,7-4,8-4 />
<path class=m3 d=M469,637l10-12,9-12,9-11,10-10,9-6,10-3,9-4,10,2,9,4,9-2,9-10,9-9,9-8,9-7,8-8,9-8,9-9,9-8,8-9,9-9,8-9,9-7,8-6,9-4,8-4,8-4,8-4,8-6,8-8,9-8,8-8,8-8,8-8,8-8,8-7,7-4,8-2,7-2,8-3,7-2,7-3,8-3,7-4,7-4 />
<path class=m3 d=M479,642l9-12,10-12,9-11,10-10,9-5,9-4,10-4,9,2,9,4,9-2,9-10,9-9,9-8,9-7,9-8,9-8,8-9,9-9,9-9,8-8,9-9,9-8,8-5,8-4,8-5,9-4,8-4,8-5,8-8,8-8,8-8,8-9,8-8,8-8,8-7,8-4,7-2,8-2,7-3,7-2,8-3,7-4,7-3,7-4 />
<path class=m3 d=M488,649l10-12,9-12,10-11,9-10,10-6,9-4,9-3,10,1,9,5,9-3,9-10,9-9,9-8,9-7,9-7,8-9,9-8,9-9,8-9,9-9,9-9,8-8,8-5,9-4,8-5,8-4,8-4,8-6,8-7,9-9,8-8,8-8,8-8,8-8,8-7,7-4,8-3,7-2,8-2,7-2,7-3,7-4,8-4,7-4 />
<path class=m3 d=M498,657l10-12,9-12,10-12,9-9,9-6,10-4,9-3,9,1,10,5,9-3,9-11,9-9,9-7,8-8,9-7,9-8,9-9,8-9,9-9,9-9,8-9,9-8,8-5,8-4,8-5,9-4,8-4,8-6,8-8,8-8,8-8,8-8,8-8,8-8,8-8,8-4,7-2,8-3,7-2,7-2,7-3,8-4,7-4,7-4 />
<path class=m3 d=M508,664l9-12,10-12,9-12,10-10,9-6,10-4,9-3,9,1,9,5,9-3,9-10,9-10,9-7,9-8,9-7,9-8,8-9,9-9,9-9,8-9,9-9,8-8,9-5,8-5,8-4,8-4,8-5,8-5,9-8,8-9,8-8,8-8,8-8,8-8,8-7,8-5,7-2,7-2,8-3,7-2,7-3,7-4,7-4,8-4 />
<path class=m4 d=M518,671l9-12,10-12,9-12,10-10,9-5,9-4,10-4,9,1,9,5,9-3,9-10,9-9,9-8,9-8,9-7,8-8,9-10,9-9,8-9,9-9,9-8,8-8,8-6,9-4,8-4,8-5,8-4,8-6,8-8,8-8,8-8,9-9,8-8,8-8,8-7,7-4,8-3,7-2,7-3,7-2,8-3,7-4,7-4,7-4 />
<path class=m4 d=M528,679l9-12,10-12,9-12,10-10,9-6,9-4,10-3,9,1,9,4,9-3,9-10,9-9,9-8,9-7,8-8,9-8,9-10,9-9,8-9,9-9,8-9,9-8,8-5,8-4,9-5,8-4,8-5,8-5,8-8,8-9,8-8,8-8,8-8,8-8,8-8,8-4,7-3,7-2,8-2,7-3,7-3,7-4,7-4,8-4 />
</g>
<path d="M23.2 43.9L30.7 92.8L105.8 148.1L178.3 89.8M30.7 92.8h-2M105.8 148.1h2M39.1 99h-2M116 139.9h2M47.8 105.4h-2M125.8 132h2M56.7 111.9h-2M135.3 124.4h2M65.9 118.7h-2M144.5 117h2M75.4 125.7h-2M153.4 109.8h2M85.2 132.9h-2M162 102.9h2M95.3 140.4h-2M170.3 96.3h2M105.8 148.1h-2M178.3 89.8h2M30.7 92.8h-2.2M29 81.4h-2.2M27.1 69.4h-2.2M25.2 56.9h-2.2M23.2 43.9h-2.2" stroke="#262626" stroke-width=".6" fill="none"/>
<text x="109.4" y="151.1" font-size="7.1" text-anchor="start">360</text>
<text x="35.8" y="102.1" font-size="7.1" text-anchor="end">45</text>
<text x="119.6" y="142.9" font-size="7.1" text-anchor="start">315</text>
<text x="44.5" y="108.5" font-size="7.1" text-anchor="end">90</text>
<text x="129.4" y="135" font-size="7.1" text-anchor="start">270</text>
<text x="53.4" y="115" font-size="7.1" text-anchor="end">135</text>
<text x="138.9" y="127.4" font-size="7.1" text-anchor="start">225</text>
<text x="62.6" y="121.8" font-size="7.1" text-anchor="end">180</text>
<text x="148.1" y="120" font-size="7.1" text-anchor="start">180</text>
<text x="72.1" y="128.8" font-size="7.1" text-anchor="end">225</text>
<text x="157" y="112.8" font-size="7.1" text-anchor="start">135</text>
<text x="81.9" y="136" font-size="7.1" text-anchor="end">270</text>
<text x="165.6" y="105.9" font-size="7.1" text-anchor="start">90</text>
<text x="92" y="143.5" font-size="7.1" text-anchor="end">315</text>
<text x="173.9" y="99.3" font-size="7.1" text-anchor="start">45</text>
<text x="102.5" y="151.2" font-size="7.1" text-anchor="end">360</text>
<text x="181.9" y="92.8" font-size="7.1" text-anchor="start">0</text>
<text x="19.8" y="46.3" font-size="7.1" text-anchor="end">150</text>
<text x="21.8" y="59.3" font-size="7.1" text-anchor="end">100</text>
<text x="23.7" y="71.8" font-size="7.1" text-anchor="end">50</text>
<text x="25.6" y="83.8" font-size="7.1" text-anchor="end">0</text>
<text x="27.3" y="95.2" font-size="7.1" text-anchor="end">-50</text>
<text x="9.3" y="84.8" font-size="7.4" text-anchor="middle">Z(nm)</text>
<text x="46.2" y="132.5" font-size="7.4" text-anchor="middle">X(µm)</text>
<text x="166.4" y="130.8" font-size="7.4" text-anchor="middle">Y(µm)</text>
</g>
<g clip-path="url(#k1)"><g transform="translate(232.5 448.2)">
<rect x="190.6" y="24.3" width="9.7" height="99" fill="url(#cb)" stroke="#777" stroke-width=".5"/>
<text x="204.8" y="30.2" font-size="6.6" text-anchor="start">47.00</text>
<text x="204.8" y="38.9" font-size="6.6" text-anchor="start">40.00</text>
<text x="204.8" y="47.5" font-size="6.6" text-anchor="start">33.00</text>
<text x="204.8" y="56.2" font-size="6.6" text-anchor="start">26.00</text>
<text x="204.8" y="64.9" font-size="6.6" text-anchor="start">19.00</text>
<text x="204.8" y="73.5" font-size="6.6" text-anchor="start">12.00</text>
<text x="204.8" y="82.2" font-size="6.6" text-anchor="start">5.000</text>
<text x="204.8" y="90.9" font-size="6.6" text-anchor="start">-2.000</text>
<text x="204.8" y="99.5" font-size="6.6" text-anchor="start">-9.000</text>
<text x="204.8" y="108.2" font-size="6.6" text-anchor="start">-16.00</text>
<text x="204.8" y="116.8" font-size="6.6" text-anchor="start">-23.00</text>
<text x="204.8" y="125.5" font-size="6.6" text-anchor="start">-30.00</text>
<path d="M200.3 28h2M200.3 36.7h2M200.3 45.3h2M200.3 54h2M200.3 62.7h2M200.3 71.3h2M200.3 80h2M200.3 88.7h2M200.3 97.3h2M200.3 106h2M200.3 114.6h2M200.3 123.3h2" stroke="#555" stroke-width=".5"/>
</g></g>
<text x="336.4" y="644.8" font-size="15.9" text-anchor="middle" font-weight="bold">(h)</text>
<g transform="translate(465 448.2)">
<path d="M40.9 86.5L34.4 37.8M168.1 83.9L172.5 35.4M116 139.9L40.9 86.5M95.3 140.4L168.1 83.9M60.3 74.3L55.6 26.2M148.5 72.6L151.2 24.6M135.3 124.4L60.3 74.3M75.4 125.7L148.5 72.6M78.6 62.8L75.5 15.4M130 61.9L131.1 14.4M153.4 109.8L78.6 62.8M56.7 111.9L130 61.9M95.8 52.1L94.2 5.2M112.5 51.7L112.2 4.9M170.3 96.3L95.8 52.1M39.1 99L112.5 51.7M29 81.4L103.9 35.9M103.9 35.9L179.6 78.3M27.1 69.4L103.6 24.5M103.6 24.5L180.9 66.4M25.2 56.9L103.4 12.6M103.4 12.6L182.3 54" stroke="#e0e0e0" stroke-width=".5" fill="none"/>
<path d="M23.2 43.9L103.1 .3M103.1 .3L183.7 41M104.1 46.9L103.1 .3M178.3 89.8L183.7 41M30.7 92.8L104.1 46.9M104.1 46.9L178.3 89.8" stroke="#959595" stroke-width=".5" fill="none"/>
<g filter="url(#nf)">
<g class="s" transform="scale(.2)" style="--o:0.7;--w:1.6">
<path color=#ce0 d=M585,224l-11-6-11-7-11-7-11-6-11-7-11-5-10-5,10-10,11,5,10,6,11,6,11,6,11,7,11,7,11,7z />
<path color=#be0 d=M596,231l-11-7,10-9,11,6z />
<path color=#ce0 d=M724,301l-12-7-12-6-12-6-12-7-12-7-11-7-12-7-11-6-12-5-11-6-11-6,10-10,11,5,12,6,11,6,12,6,11,6,12,7,11,7,12,7,12,6,12,6,12,6z />
<path color=#ef0 d=M736,307l-12-6,10-12,12,7z />
<path color=#ce0 d=M760,323l-12-9-12-7,10-11,12,8,13,8z />
<path color=#be0 d=M785,337l-12-7-13-7,11-11,12,8,13,6z />
<path color=#ce0 d=M889,393l-14-7-13-7-13-8-13-7-13-7-13-7-12-7-13-6,11-11,12,6,13,7,13,7,13,7,12,8,13,8,14,7,13,6z />
<path color=#be0 d=M552,221l-11-7-11-6-10-7-11-6-11-5,11-9,10,5,11,5,11,7,11,6,11,7z />
<path color=#8e0 d=M619,259l-11-6-12-6-11-7-11-6-11-7-11-6,11-10,11,7,11,6,11,7,11,6,11,6,12,5z />
<path color=#be0 d=M654,279l-12-7-11-7-12-6,11-11,11,6,12,7,11,7z />
<path color=#8e0 d=M701,306l-12-7-12-7-12-6-11-7,10-11,12,7,12,7,12,6,12,6z />
<path color=#be0 d=M750,333l-13-8-12-8-12-5-12-6,11-12,12,7,12,6,12,7,12,9z />
<path color=#8e0 d=M787,354l-12-7-13-7-12-7,10-10,13,7,12,7,13,6z />
<path color=#be0 d=M878,405l-13-8-13-8-13-7-13-7-13-7-13-7-13-7,11-11,12,7,13,7,13,7,13,7,13,8,13,7,14,7z />
<path color=#be0 d=M564,236l-11-6-11-7-11-6-11-7-11-6-11-5-10-6,10-3,11,5,11,6,10,7,11,6,11,7,11,6,11,7z />
<path color=#8e0 d=M597,256l-11-7-11-6-11-7,10-2,11,6,11,7,12,6z />
<path color=#be0 d=M632,276l-12-7-11-7-12-6,11-3,11,6,12,6,11,7z />
<path color=#8e0 d=M703,316l-12-6-12-7-12-7-12-6-12-7-11-7,10-4,12,7,11,7,12,6,12,7,12,7,12,6z />
<path color=#be0 d=M868,410l-13-8-13-8-14-7-13-7-13-7-12-7-13-8-13-8-12-7-12-7-13-8-12-6-12-6,10-4,12,5,12,8,13,8,12,7,13,7,12,7,13,7,13,7,13,7,13,7,13,7,13,8,13,8z />
<path color=#ce0 d=M498,207l-10-5-11-6,11-3,10,6,11,5z />
<path color=#ef0 d=M520,220l-11-7-11-6,11-3,11,6,11,7z />
<path color=#ce0 d=M705,326l-13-6-12-6-12-7-12-7-11-7-12-6-12-7-11-7-12-7-11-7-12-7-11-6-11-6-11-7-11-7-11-6,11-3,11,6,11,7,11,6,11,7,11,6,11,7,12,6,11,7,12,7,11,7,12,7,12,6,12,7,12,7,12,6,12,6z />
<path color=#ef0 d=M729,340l-12-7-12-7,10-4,12,6,13,8z />
<path color=#ce0 d=M858,415l-13-8-14-8-13-8-13-7-13-7-13-7-12-8-13-8-12-7-13-7,11-4,12,7,12,7,13,8,13,8,12,7,13,7,13,7,14,7,13,8,13,8z />
<path color=#ce0 d=M477,211l-11-6,11-9,11,6z />
<path color=#ef0 d=M520,236l-11-6-11-7-10-6-11-6,11-9,10,5,11,6,11,7,11,6z />
<path color=#ce0 d=M847,428l-13-8-14-8-13-9-13-8-12-7-13-7-13-8-13-7-12-7-13-7-12-7-12-7-12-6-13-7-11-7-12-7-12-7-12-7-12-7-11-7-12-8-11-6-11-6-12-7-11-6-11-6-11-8,11-10,11,7,11,7,11,6,11,6,12,7,11,7,12,7,11,7,12,7,12,6,11,7,12,7,12,7,12,6,13,6,12,7,12,7,13,7,12,7,13,8,12,8,13,7,13,7,13,7,13,8,14,8,13,8z />
<path color=#be0 d=M532,261l-12-7-11-7-10-7-11-6-11-6-11-7-10-7,10-9,11,6,11,6,10,6,11,7,11,6,11,8,11,6z />
<path color=#8e0 d=M543,268l-11-7,10-11,11,6z />
<path color=#be0 d=M600,300l-12-7-11-7-12-6-11-6-11-6,10-12,12,7,11,6,11,6,12,8,11,7z />
<path color=#8e0 d=M695,356l-12-6-12-7-12-7-12-8-12-7-12-7-12-6-11-8,10-10,12,7,12,7,12,7,12,7,11,7,13,7,12,6,12,7z />
<path color=#be0 d=M797,415l-13-8-13-8-13-7-13-8-12-7-13-7-12-7-13-7,11-11,12,7,13,7,12,7,13,7,13,8,13,7,12,7,13,8z />
<path color=#8e0 d=M836,440l-13-8-13-8-13-9,10-12,13,9,14,8,13,8z />
<path color=#be0 d=M521,264l-11-7-11-7-11-6-11-6-11-7-11-7-10-7,11-3,10,7,11,7,11,6,11,6,10,7,11,7,12,7z />
<path color=#8e0 d=M554,284l-11-6-11-6-11-8,11-3,11,7,11,6,11,6z />
<path color=#be0 d=M589,304l-12-7-11-7-12-6,11-4,12,6,11,7,12,7z />
<path color=#8e0 d=M697,367l-12-6-13-7-12-7-12-7-12-8-12-7-12-7-11-7-12-7,11-4,11,8,12,6,12,7,12,7,12,8,12,7,12,7,12,6,13,7z />
<path color=#be0 d=M786,420l-13-8-13-8-13-7-12-8-13-7-13-7-12-8,11-4,12,7,13,7,12,7,13,8,13,7,13,8,13,8z />
<path color=#8e0 d=M826,444l-14-8-13-8-13-8,11-5,13,9,13,8,13,8z />
<path color=#ef0 d=M444,228l-11-8,12-3,10,7z />
<path color=#ce0 d=M649,351l-12-7-12-8-12-8-12-7-11-6-12-6-12-8-11-7-12-6-11-6-11-7-11-7-12-7-11-7-10-6-11-6-11-7-11-7,11-4,11,7,11,7,11,6,11,6,11,7,11,7,11,8,11,6,11,6,12,6,11,7,12,7,12,7,11,7,12,7,12,7,12,8,12,7z />
<path color=#be0 d=M661,359l-12-8,11-4,12,7z />
<path color=#ce0 d=M815,449l-13-9-13-8-13-8-14-7-13-7-12-8-13-8-13-8-12-7-13-7-12-7-13-6,11-5,13,7,12,6,12,8,13,7,13,7,12,8,13,7,13,8,13,8,13,8,13,8,14,8z />
<path color=#ef0 d=M433,238l-10-7,10-11,11,8z />
<path color=#ce0 d=M638,363l-12-8-12-8-12-8-12-7-11-6-12-6-12-7-11-7-12-7-11-7-11-7-11-7-11-7-11-7-11-6-11-6-11-6-11-8,11-10,11,7,11,7,11,6,10,6,11,7,12,7,11,7,11,7,11,6,12,6,11,7,12,8,12,6,11,6,12,7,12,8,12,8,12,7z />
<path color=#be0 d=M650,370l-12-7,11-12,12,8z />
<path color=#ce0 d=M804,461l-13-9-13-9-14-8-13-7-13-7-13-7-12-7-13-9-12-7-13-8-12-6-13-7,11-11,13,6,12,7,13,7,12,7,13,8,13,8,12,8,13,7,14,7,13,8,13,8,13,9z />
<path color=#be0 d=M499,295l-11-7-11-7-11-6-11-6-11-7-11-7-11-7-10-6,11-11,10,7,11,8,11,6,11,6,11,6,11,7,11,7,11,7z />
<path color=#8e0 d=M568,336l-12-6-12-6-11-7-12-7-11-7-11-8,11-10,11,7,11,7,12,7,11,7,12,7,12,6z />
<path color=#be0 d=M615,365l-12-8-12-8-12-7-11-6,11-10,11,6,12,7,12,8,12,8z />
<path color=#8e0 d=M727,433l-13-7-12-7-13-8-13-8-12-8-12-7-13-7-12-8-12-8,11-10,12,8,12,7,13,7,12,6,13,8,12,7,13,9,12,7,13,7z />
<path color=#be0 d=M780,464l-14-9-13-8-13-8-13-6,11-12,13,7,13,7,14,8,13,9z />
<path color=#8e0 d=M793,473l-13-9,11-12,13,9z />
<path color=#be0 d=M488,299l-12-8-11-6-11-6-11-7-11-7-10-7-11-6-11-7,12-3,10,6,11,7,11,7,11,7,11,6,11,6,11,7,11,7z />
<path color=#8e0 d=M545,334l-12-7-11-7-12-7-11-7-11-7,11-4,11,8,11,7,12,7,11,7,12,6z />
<path color=#be0 d=M604,368l-12-8-12-8-12-6-12-6-11-6,11-4,12,6,11,6,12,7,12,8,12,8z />
<path color=#8e0 d=M716,437l-13-6-12-8-13-8-13-8-12-7-12-7-13-8-12-8-12-9,11-3,12,8,12,8,13,7,12,7,12,8,13,8,13,8,12,7,13,7z />
<path color=#be0 d=M769,470l-13-9-14-9-13-8-13-7,11-4,13,6,13,8,13,8,14,9z />
<path color=#8e0 d=M782,479l-13-9,11-6,13,9z />
<path color=#ce0 d=M545,344l-12-7-11-6-12-8-11-6-12-7-11-8-11-7-11-6-11-7-11-7-11-6-11-7-11-7-10-6,11-4,11,7,11,6,10,7,11,7,11,7,11,6,11,6,12,8,11,7,11,7,12,7,11,7,12,7,11,6z />
<path color=#ef0 d=M593,372l-12-8-12-8-12-6-12-6,11-4,12,6,12,6,12,8,12,8z />
<path color=#ce0 d=M758,476l-13-10-14-9-13-8-13-7-13-7-12-8-13-8-13-7-12-8-13-7-12-8-12-9-12-8,11-4,12,9,12,8,13,8,12,7,12,7,13,8,13,8,12,8,13,6,13,7,13,8,14,9,13,9z />
<path color=#be0 d=M771,485l-13-9,11-6,13,9z />
<path color=#ce0 d=M545,362l-11-6-12-7-12-7-11-8-12-7-11-7-11-7-11-7-11-6-11-7-11-7-11-6-11-7-11-7-10-6,11-11,10,6,11,7,11,7,11,6,11,7,11,7,11,6,11,7,11,8,12,7,11,6,12,8,11,6,12,7,12,6z />
<path color=#ef0 d=M593,392l-12-9-12-8-12-7-12-6,12-12,12,6,12,8,12,8,12,8z />
<path color=#ce0 d=M746,487l-13-9-13-8-13-9-13-8-13-7-13-8-12-8-13-7-13-7-12-8-12-8-13-8,12-12,12,9,12,8,13,7,12,8,13,7,13,8,12,8,13,7,13,7,13,8,14,9,13,10z />
<path color=#be0 d=M760,496l-14-9,12-11,13,9z />
<path color=#be0 d=M377,277l-11-6,12-11,10,6z />
<path color=#8e0 d=M431,311l-11-6-11-7-10-7-11-7-11-7,11-11,11,7,11,7,11,6,11,7,11,7z />
<path color=#be0 d=M465,332l-11-8-12-6-11-7,12-11,11,6,11,7,11,7z />
<path color=#8e0 d=M522,367l-11-7-12-7-11-7-12-7-11-7,11-12,11,7,12,7,11,8,12,7,12,7z />
<path color=#be0 d=M607,419l-13-8-12-8-12-8-12-7-12-7-12-7-12-7,12-11,11,6,12,6,12,7,12,8,12,9,13,8,12,8z />
<path color=#8e0 d=M644,442l-13-7-12-8-12-8,11-11,12,8,13,7,13,7z />
<path color=#be0 d=M749,506l-14-8-13-8-13-8-14-8-13-8-12-9-13-7-13-8,12-12,12,8,13,8,13,7,13,8,13,9,13,8,13,9,14,9z />
<path color=#8e0 d=M534,387l-11-7-12-8-12-7-12-8-11-7-11-7-12-7-11-7-11-7-11-6-11-7-11-7-11-7-11-7-11-7-10-7,11-3,11,6,11,7,11,7,10,7,11,7,11,6,11,7,12,6,11,8,11,7,12,7,11,7,12,7,11,7,12,7,12,7z />
<path color=#be0 d=M608,432l-13-9-12-8-12-7-13-7-12-8-12-6,12-6,12,7,12,7,12,8,12,8,13,8,12,8z />
<path color=#8e0 d=M633,447l-13-7-12-8,11-5,12,8,13,7z />
<path color=#be0 d=M737,510l-13-8-13-8-14-7-13-8-13-8-13-8-13-8-12-8,11-5,13,8,13,7,12,9,13,8,14,8,13,8,13,8,14,8z />
<path color=#ce0 d=M386,306l-11-8-11-7-11-7-10-7,12-3,10,7,11,7,11,7,11,7z />
<path color=#be0 d=M408,320l-11-7-11-7,12-4,11,7,11,7z />
<path color=#ce0 d=M499,377l-12-8-11-8-12-8-11-7-12-7-11-7-11-6-11-6,12-4,11,6,11,7,11,7,12,7,11,7,11,7,12,8,12,7z />
<path color=#be0 d=M523,392l-12-7-12-8,12-5,12,8,11,7z />
<path color=#ce0 d=M686,492l-13-7-13-8-13-8-13-8-13-8-12-8-13-8-12-8-13-8-12-8-12-8-12-6-12-7,11-5,12,6,12,8,13,7,12,7,12,8,13,9,12,8,13,7,12,8,13,8,13,8,13,8,13,8z />
<path color=#ef0 d=M726,515l-13-8-14-8-13-7,11-5,14,7,13,8,13,8z />
<path color=#ce0 d=M374,316l-11-7-10-7-11-7-11-7,12-11,10,7,11,7,11,7,11,8z />
<path color=#be0 d=M396,330l-11-6-11-8,12-10,11,7,11,7z />
<path color=#ce0 d=M487,388l-11-8-12-8-11-8-12-7-11-7-12-7-11-7-11-6,12-10,11,6,11,6,11,7,12,7,11,7,12,8,11,8,12,8z />
<path color=#be0 d=M511,403l-12-7-12-8,12-11,12,8,12,7z />
<path color=#ce0 d=M687,513l-13-8-13-8-13-8-13-8-13-8-13-8-12-8-13-7-12-8-12-9-13-8-12-8-12-7-12-7,12-11,12,7,12,6,12,8,12,8,13,8,12,8,13,8,12,8,13,8,13,8,13,8,13,8,13,7,13,7z />
<path color=#ef0 d=M714,529l-13-8-14-8,12-14,14,8,13,8z />
<path color=#be0 d=M330,306l-10-7,11-11,11,7z />
<path color=#8e0 d=M396,347l-11-6-11-7-11-7-11-7-11-7-11-7,12-11,11,7,10,7,11,7,11,8,11,6,11,6z />
<path color=#be0 d=M452,383l-11-7-11-7-12-8-11-7-11-7,11-11,11,7,12,7,11,7,12,7,11,8z />
<path color=#8e0 d=M676,526l-14-8-13-8-13-8-13-8-13-8-12-9-13-8-12-7-13-8-12-8-12-9-13-8-12-8-12-7-11-8-12-7-12-8-12-8,12-11,12,8,11,8,12,8,12,7,12,7,12,7,12,8,13,8,12,9,12,8,13,7,12,8,13,8,13,8,13,8,13,8,13,8,13,8z />
<path color=#be0 d=M702,543l-13-8-13-9,11-13,14,8,13,8z />
<path color=#8e0 d=M384,351l-11-7-11-6-11-7-11-7-11-7-11-7-10-7,12-4,10,7,11,7,11,7,11,7,11,7,11,7,11,6z />
<path color=#be0 d=M440,388l-11-8-12-7-11-7-11-8-11-7,12-4,11,7,11,7,12,8,11,7,11,7z />
<path color=#8e0 d=M464,403l-12-8-12-7,12-5,12,8,12,8z />
<path color=#be0 d=M487,418l-12-8-11-7,12-4,12,7,11,8z />
<path color=#8e0 d=M691,550l-14-9-13-8-13-8-14-9-13-8-13-9-12-8-13-9-13-7-12-8-13-9-12-8-12-8-13-8-12-8-12-8,12-4,12,7,12,8,13,8,12,9,12,8,13,8,12,7,13,8,12,9,13,8,13,8,13,8,13,8,14,8,13,9,13,8z />
<path color=#ce0 d=M612,512l-13-8-12-9-13-8-13-8-12-8-13-9-12-8-13-8-12-8-12-7-12-8-12-9-11-7-12-8-12-7-11-8-12-7-11-7-11-8-12-6-11-7-11-8-11-7-11-7-10-7-11-7-11-8,13-2,10,7,11,7,11,7,11,7,11,7,11,6,11,7,11,7,11,8,11,7,12,7,11,8,12,7,12,8,11,7,12,8,12,8,12,8,13,8,12,8,12,8,13,9,12,8,13,7,13,9,12,8,13,9z />
<path color=#be0 d=M679,556l-14-8-13-9-13-9-13-9-14-9,12-4,13,8,14,9,13,8,13,8,14,9z />
<path color=#ce0 d=M613,533l-13-9-13-9-12-8-13-8-13-8-12-8-13-9-12-9-13-8-12-7-12-7-12-8-12-9-11-8-12-8-12-8-11-7-12-8-11-7-11-6-11-6-12-7-11-8-11-8-10-7-11-7-11-8-11-7,12-11,11,8,11,7,10,7,11,7,11,7,11,8,11,7,12,6,11,8,11,7,12,7,11,8,12,7,12,8,11,7,12,9,12,8,12,7,12,8,13,8,12,8,13,9,12,8,13,8,13,8,12,9,13,8,14,9z />
<path color=#be0 d=M667,568l-14-8-13-8-13-9-14-10,13-12,13,9,13,9,13,9,14,8z />
<path color=#be0 d=M293,342l-11-8-10-7,11-11,11,7,11,8z />
<path color=#8e0 d=M359,386l-11-7-11-7-11-8-11-8-11-7-11-7,12-11,11,7,10,7,11,8,11,8,12,7,11,6z />
<path color=#be0 d=M439,438l-11-8-12-8-12-8-11-8-12-7-11-7-11-6,12-12,11,6,11,7,12,8,11,7,12,8,12,8,11,8z />
<path color=#8e0 d=M475,462l-12-7-12-8-12-9,12-12,12,9,12,8,12,7z />
<path color=#be0 d=M601,545l-13-9-13-9-13-9-12-8-13-8-13-8-12-8-12-9-13-8-12-7,12-12,12,7,13,8,12,9,13,9,12,8,13,8,13,8,12,8,13,9,13,9z />
<path color=#8e0 d=M655,580l-14-8-13-8-14-9-13-10,12-12,14,10,13,9,13,8,14,8z />
<path color=#be0 d=M280,346l-10-7-11-8,13-4,10,7,11,8z />
<path color=#8e0 d=M346,390l-11-7-11-7-11-8-11-8-11-7-11-7,13-4,11,7,11,7,11,8,11,8,11,7,11,7z />
<path color=#be0 d=M427,443l-12-8-12-8-11-8-12-8-11-7-12-7-11-7,13-4,11,6,11,7,12,7,11,8,12,8,12,8,11,8z />
<path color=#8e0 d=M463,467l-12-7-12-8-12-9,12-5,12,9,12,8,12,7z />
<path color=#be0 d=M602,559l-13-9-13-9-13-9-13-9-13-8-12-8-13-8-12-8-13-9-12-8-12-7,12-5,12,7,13,8,12,9,12,8,13,8,13,8,12,8,13,9,13,9,13,9,13,10z />
<path color=#8e0 d=M629,578l-13-9-14-10,12-4,14,9,13,8z />
<path color=#be0 d=M642,586l-13-8,12-6,14,8z />
<path color=#ce0 d=M512,513l-12-8-13-8-12-9-13-8-12-7-12-8-12-8-12-9-12-8-11-8-12-8-11-8-12-7-11-7-11-8-12-8-11-8-11-7-11-7-11-7-10-7-11-7-11-8,13-4,11,8,10,7,11,7,11,7,11,8,11,8,11,7,11,7,11,7,12,7,11,7,12,8,11,8,12,8,12,8,12,9,12,8,12,7,12,7,12,8,13,9,12,8,13,8z />
<path color=#ef0 d=M577,555l-13-9-13-8-13-9-13-9-13-7,13-6,12,8,13,8,13,9,13,9,13,9z />
<path color=#ce0 d=M630,592l-13-8-14-9-13-10-13-10,12-5,13,9,14,10,13,9,13,8z />
<path color=#ce0 d=M288,382l-11-7-11-7-11-7-10-8-11-7,12-11,11,8,11,7,10,7,11,7,11,7z />
<path color=#ef0 d=M299,389l-11-7,12-11,11,7z />
<path color=#ce0 d=M512,533l-12-7-13-8-12-9-13-8-12-8-12-8-12-8-12-8-12-8-12-8-11-9-12-8-12-8-11-7-11-8-12-8-11-8-11-8,12-11,11,8,12,8,11,8,11,7,12,7,11,8,12,8,11,8,12,8,12,9,12,8,12,8,12,7,13,8,12,9,13,8,12,8,13,7z />
<path color=#ef0 d=M538,551l-13-9-13-9,13-13,13,9,13,9z />
<path color=#ce0 d=M551,560l-13-9,13-13,13,8z />
<path color=#ef0 d=M564,568l-13-8,13-14,13,9z />
<path color=#ce0 d=M618,605l-14-8-13-9-14-10-13-10,13-13,13,10,13,10,14,9,13,8z />
<path color=#be0 d=M366,456l-11-8-12-8-11-8-12-7-11-8-11-8-11-9-11-8-11-7-11-6-11-7-10-8-11-6,12-12,11,7,10,8,11,7,11,7,11,7,11,7,11,8,11,8,12,8,11,8,11,7,12,8,12,8z />
<path color=#8e0 d=M450,513l-12-7-12-9-12-8-12-8-12-8-12-8-12-9,13-12,11,9,12,8,12,8,12,8,12,8,12,8,12,8z />
<path color=#be0 d=M462,522l-12-9,12-12,13,8z />
<path color=#8e0 d=M475,531l-13-9,13-13,12,9z />
<path color=#be0 d=M605,618l-13-9-14-8-13-10-13-9-13-8-13-10-13-9-13-9-13-8-12-7,12-13,13,8,12,7,13,9,13,9,13,9,13,8,13,10,14,10,13,9,14,8z />
<path color=#be0 d=M353,461l-12-9-11-8-11-7-12-8-11-8-11-8-11-8-12-8-10-7-11-7-11-7-10-7-11-7,13-4,11,6,10,8,11,7,11,6,11,7,11,8,11,9,11,8,11,8,12,7,11,8,12,8,11,8z />
<path color=#8e0 d=M475,544l-13-8-13-8-12-9-12-8-12-8-12-9-12-8-12-8-12-8-12-9,13-5,12,9,12,8,12,8,12,8,12,8,12,9,12,7,12,9,13,9,12,7z />
<path color=#be0 d=M526,580l-13-10-13-10-13-9-12-7,12-6,13,8,13,9,13,9,13,10z />
<path color=#8e0 d=M539,589l-13-9,13-6,13,8z />
<path color=#be0 d=M593,624l-14-9-13-8-14-9-13-9,13-7,13,9,13,10,14,8,13,9z />
<path color=#ce0 d=M217,380l-11-6-10-7,13-5,11,7,10,7z />
<path color=#ef0 d=M260,410l-11-8-11-8-10-7-11-7,13-4,11,7,11,7,10,7,12,8z />
<path color=#ce0 d=M474,558l-12-7-13-8-12-9-13-9-12-9-12-8-12-9-12-8-12-7-12-9-12-9-12-9-11-8-12-8-11-7-11-8-11-7-12-9,14-5,11,8,11,8,11,8,12,8,11,7,11,8,12,9,12,9,12,8,12,8,12,8,12,9,12,8,12,8,12,9,13,8,13,8,12,7z />
<path color=#ef0 d=M487,566l-13-8,13-7,13,9z />
<path color=#ce0 d=M580,630l-14-8-13-8-14-9-13-9-13-10-13-10-13-10,13-6,13,10,13,10,13,9,13,9,14,9,13,8,14,9z />
<path color=#ce0 d=M204,392l-10-7-11-7,13-11,10,7,11,6z />
<path color=#ef0 d=M248,422l-11-9-11-7-11-7-11-7,13-12,11,7,10,7,11,8,11,8z />
<path color=#ce0 d=M293,453l-12-7-11-7-11-8-11-9,12-12,12,9,11,7,11,8,11,7z />
<path color=#ef0 d=M316,469l-12-8-11-8,12-12,12,8,11,8z />
<path color=#ce0 d=M424,547l-13-9-12-9-12-9-12-8-12-9-12-8-12-8-12-9-11-9,12-12,12,9,12,9,12,9,12,7,12,8,12,9,12,8,12,9,13,9z />
<path color=#be0 d=M436,556l-12-9,13-13,12,9z />
<path color=#ce0 d=M513,609l-13-10-13-10-13-9-13-8-12-8-13-8,13-13,13,8,12,7,13,8,13,10,13,10,13,10z />
<path color=#be0 d=M540,628l-13-9-14-10,13-13,13,9,14,9z />
<path color=#ce0 d=M567,644l-14-8-13-8,13-14,13,8,14,8z />
<path color=#be0 d=M247,443l-12-9-11-9-11-8-10-7-11-8-11-7-10-8,12-9,11,7,10,7,11,7,11,7,11,7,11,9,11,9z />
<path color=#8e0 d=M269,458l-11-7-11-8,12-12,11,8,11,7z />
<path color=#be0 d=M338,507l-12-9-11-9-12-8-12-8-11-8-11-7,12-12,12,7,11,8,12,8,11,9,12,9,12,8z />
<path color=#8e0 d=M350,515l-12-8,13-12,12,8z />
<path color=#be0 d=M374,532l-12-9-12-8,13-12,12,9,12,8z />
<path color=#8e0 d=M449,584l-13-8-13-8-12-9-12-9-13-9-12-9,13-12,12,9,12,9,13,9,12,9,13,8,12,8z />
<path color=#be0 d=M487,612l-13-10-13-9-12-9,12-12,13,8,13,9,13,10z />
<path color=#8e0 d=M540,650l-13-9-13-9-14-10-13-10,13-13,13,10,14,10,13,9,13,8z />
<path color=#be0 d=M554,659l-14-9,13-14,14,8z />
<path color=#ce0 d=M221,435l-11-9-11-9-11-7-10-8-11-8-11-8,15,1,10,8,11,7,11,8,10,7,11,8,11,9z />
<path color=#be0 d=M266,467l-11-7-11-7-11-9-12-9,14-1,12,9,11,8,11,7,11,7z />
<path color=#ce0 d=M373,542l-13-9-12-9-12-9-12-8-12-9-11-8-12-8-11-8-12-7,14-2,11,8,12,8,12,8,11,9,12,9,12,8,12,8,12,9,12,9z />
<path color=#be0 d=M422,577l-12-8-13-9-12-9-12-9,13-1,13,9,12,9,12,9,13,8z />
<path color=#ce0 d=M474,614l-13-10-13-10-13-8-13-9,14-1,13,8,12,9,13,9,13,10z />
<path color=#be0 d=M541,661l-14-8-13-9-14-10-13-10-13-10,13-2,13,10,14,10,13,9,13,9,14,9z />
<path color=#fa0 d=M196,426l-11-9-11-8-11-8-11-7-10-8,14,0,11,8,11,8,10,8,11,7,11,9z />
<path color=#fd0 d=M207,436l-11-10,14,0,11,9z />
<path color=#fe0 d=M252,468l-11-7-11-7-12-9-11-9,14-1,12,9,11,9,11,7,11,7z />
<path color=#fd0 d=M460,617l-13-11-13-10-13-9-13-9-12-9-13-8-12-8-12-9-13-10-12-9-12-9-12-9-12-8-11-8-12-8-12-7-11-8,14-1,12,7,11,8,12,8,11,8,12,9,12,8,12,9,12,9,13,9,12,9,12,9,13,9,12,8,13,9,13,8,13,10,13,10z />
<path color=#fe0 d=M514,655l-14-8-13-10-14-10-13-10,14-3,13,10,13,10,14,10,13,9z />
<path color=#fd0 d=M527,664l-13-9,13-2,14,8z />
</g>
</g>
<path d="M110.8 130.7L106.4 127.8L102.2 124.8L97.9 121.7L93.8 118.7L89.7 115.8L85.6 113L81.6 110.2L77.7 107.4L73.8 104.6L69.9 101.9L66.1 99.1L62.4 96.5L58.7 93.9L55 91.4L51.4 89L47.8 86.3L44.3 83.7L40.8 81.1L37.4 78.7L34 76.4" fill="none" stroke="#2a5a00" stroke-opacity="0.3" stroke-width="0.8"/>
<path d="M121 123L116.7 120.2L112.4 117.3L108.2 114.3L104.1 111.5L100 108.7L95.9 106L91.9 103.4L88 100.7L84.1 98.1L80.3 95.5L76.5 92.9L72.7 90.3L69 87.6L65.3 85.1L61.7 82.7L58.2 80.1L54.6 77.7L51.1 75.4L47.7 73.1L44.3 70.9" fill="none" stroke="#2a5a00" stroke-opacity="0.3" stroke-width="0.8"/>
<path d="M130.9 115.5L126.6 112.7L122.4 109.9L118.2 106.9L114 104.2L109.9 101.5L105.9 98.8L101.9 96.2L98 93.7L94.1 91.1L90.2 88.6L86.4 86L82.7 83.5L79 81L75.3 78.6L71.7 76.4L68.1 74.1L64.6 71.8L61.1 69.4L57.7 67.1L54.3 64.8" fill="none" stroke="#2a5a00" stroke-opacity="0.3" stroke-width="0.8"/>
<path d="M140.5 107.9L136.2 105.3L131.9 102.6L127.8 100L123.6 97.4L119.5 94.8L115.5 92.2L111.5 89.6L107.6 87L103.7 84.5L99.9 82.1L96.1 79.7L92.3 77.2L88.6 74.8L85 72.5L81.3 70.2L77.8 68L74.3 65.8L70.8 63.6L67.3 61.4L63.9 59.1" fill="none" stroke="#2a5a00" stroke-opacity="0.3" stroke-width="0.8"/>
<path d="M149.7 100.6L145.4 98L141.2 95.4L137 92.8L132.9 90.3L128.8 87.8L124.8 85.4L120.8 82.9L116.9 80.3L113 77.9L109.2 75.6L105.4 73.3L101.7 71.1L98 68.8L94.3 66.5L90.7 64.2L87.1 62.1L83.6 59.9L80.1 57.7L76.7 55.6L73.2 53.4" fill="none" stroke="#2a5a00" stroke-opacity="0.3" stroke-width="0.8"/>
<path d="M158.6 93.9L154.4 91.2L150.2 88.6L146 86.2L141.9 83.8L137.8 81.4L133.8 79L129.8 76.6L125.9 74.2L122 71.8L118.2 69.3L114.4 67.2L110.7 65L107 62.9L103.4 60.7L99.7 58.4L96.2 56.2L92.6 54.1L89.2 52L85.7 49.9L82.3 47.7" fill="none" stroke="#2a5a00" stroke-opacity="0.3" stroke-width="0.8"/>
<path d="M167.3 87.2L163 84.6L158.8 82.1L154.7 79.6L150.6 77.2L146.5 74.8L142.5 72.5L138.6 70.3L134.7 68.1L130.8 65.9L127 63.6L123.2 61.4L119.5 59.2L115.8 57L112.1 54.8L108.5 52.8L105 50.6L101.4 48.5L98 46.4L94.5 44.4L91.1 42.3" fill="none" stroke="#2a5a00" stroke-opacity="0.3" stroke-width="0.8"/>
<path d="M175.7 80.4L171.4 77.9L167.2 75.6L163.1 73.3L159 71L155 68.7L151 66.4L147 64.1L143.1 62L139.3 59.8L135.5 57.8L131.7 55.6L128 53.5L124.3 51.3L120.7 49.3L117.1 47.3L113.5 45.3L110 43.2L106.5 41.1L103.1 39.2L99.6 37.3" fill="none" stroke="#2a5a00" stroke-opacity="0.3" stroke-width="0.8"/>
<path d="M28.3 78.3L28.4 76.1L29.1 76.1L29.7 78.3zM32.5 80.4L32.6 78.4L33.1 78.4L33.5 80.4zM117.6 96.4L117.9 94.9L118.6 94.9L118.9 96.4zM118.7 104.6L119 102.3L119.7 102.3L120 104.6zM64.5 103L64.7 101.1L65.4 101.1L65.9 103zM103.9 118L104.2 116.3L104.8 116.3L105.1 118z" fill="#d0b020"/>
<path d="M28.4 76.1L28.5 74.4L29.1 76.1zM32.6 78.4L32.6 77L33.1 78.4zM117.9 94.9L118.3 93.8L118.6 94.9zM119 102.3L119.4 100.5L119.7 102.3zM64.7 101.1L64.9 99.6L65.4 101.1zM104.2 116.3L104.5 115.1L104.8 116.3z" fill="#c86020"/>
<path d="M23.2 43.9L30.7 92.8L105.8 148.1L178.3 89.8M30.7 92.8h-2M105.8 148.1h2M39.1 99h-2M116 139.9h2M47.8 105.4h-2M125.8 132h2M56.7 111.9h-2M135.3 124.4h2M65.9 118.7h-2M144.5 117h2M75.4 125.7h-2M153.4 109.8h2M85.2 132.9h-2M162 102.9h2M95.3 140.4h-2M170.3 96.3h2M105.8 148.1h-2M178.3 89.8h2M30.7 92.8h-2.2M29 81.4h-2.2M27.1 69.4h-2.2M25.2 56.9h-2.2M23.2 43.9h-2.2" stroke="#262626" stroke-width=".6" fill="none"/>
<text x="109.4" y="151.1" font-size="7.1" text-anchor="start">360</text>
<text x="35.8" y="102.1" font-size="7.1" text-anchor="end">45</text>
<text x="119.6" y="142.9" font-size="7.1" text-anchor="start">315</text>
<text x="44.5" y="108.5" font-size="7.1" text-anchor="end">90</text>
<text x="129.4" y="135" font-size="7.1" text-anchor="start">270</text>
<text x="53.4" y="115" font-size="7.1" text-anchor="end">135</text>
<text x="138.9" y="127.4" font-size="7.1" text-anchor="start">225</text>
<text x="62.6" y="121.8" font-size="7.1" text-anchor="end">180</text>
<text x="148.1" y="120" font-size="7.1" text-anchor="start">180</text>
<text x="72.1" y="128.8" font-size="7.1" text-anchor="end">225</text>
<text x="157" y="112.8" font-size="7.1" text-anchor="start">135</text>
<text x="81.9" y="136" font-size="7.1" text-anchor="end">270</text>
<text x="165.6" y="105.9" font-size="7.1" text-anchor="start">90</text>
<text x="92" y="143.5" font-size="7.1" text-anchor="end">315</text>
<text x="173.9" y="99.3" font-size="7.1" text-anchor="start">45</text>
<text x="102.5" y="151.2" font-size="7.1" text-anchor="end">360</text>
<text x="181.9" y="92.8" font-size="7.1" text-anchor="start">0</text>
<text x="19.8" y="46.3" font-size="7.1" text-anchor="end">150</text>
<text x="21.8" y="59.3" font-size="7.1" text-anchor="end">100</text>
<text x="23.7" y="71.8" font-size="7.1" text-anchor="end">50</text>
<text x="25.6" y="83.8" font-size="7.1" text-anchor="end">0</text>
<text x="27.3" y="95.2" font-size="7.1" text-anchor="end">-50</text>
<text x="9.5" y="84.8" font-size="7.4" text-anchor="middle">Z(nm)</text>
<text x="45.4" y="133.2" font-size="7.4" text-anchor="middle">X(µm)</text>
<text x="166.3" y="130.8" font-size="7.4" text-anchor="middle">Y(µm)</text>
</g>
<g clip-path="url(#k2)"><g transform="translate(465 448.2)">
<rect x="190.6" y="24.3" width="9.7" height="99" fill="url(#cb)" stroke="#777" stroke-width=".5"/>
<text x="204.8" y="30.2" font-size="6.6" text-anchor="start">47.00</text>
<text x="204.8" y="38.9" font-size="6.6" text-anchor="start">40.00</text>
<text x="204.8" y="47.5" font-size="6.6" text-anchor="start">33.00</text>
<text x="204.8" y="56.2" font-size="6.6" text-anchor="start">26.00</text>
<text x="204.8" y="64.9" font-size="6.6" text-anchor="start">19.00</text>
<text x="204.8" y="73.5" font-size="6.6" text-anchor="start">12.00</text>
<text x="204.8" y="82.2" font-size="6.6" text-anchor="start">5.000</text>
<text x="204.8" y="90.9" font-size="6.6" text-anchor="start">-2.000</text>
<text x="204.8" y="99.5" font-size="6.6" text-anchor="start">-9.000</text>
<text x="204.8" y="108.2" font-size="6.6" text-anchor="start">-16.00</text>
<text x="204.8" y="116.8" font-size="6.6" text-anchor="start">-23.00</text>
<text x="204.8" y="125.5" font-size="6.6" text-anchor="start">-30.00</text>
<path d="M200.3 28h2M200.3 36.7h2M200.3 45.3h2M200.3 54h2M200.3 62.7h2M200.3 71.3h2M200.3 80h2M200.3 88.7h2M200.3 97.3h2M200.3 106h2M200.3 114.6h2M200.3 123.3h2" stroke="#555" stroke-width=".5"/>
</g></g>
<text x="569.2" y="644.8" font-size="15.9" text-anchor="middle" font-weight="bold">(i)</text>
</svg></body></html>
